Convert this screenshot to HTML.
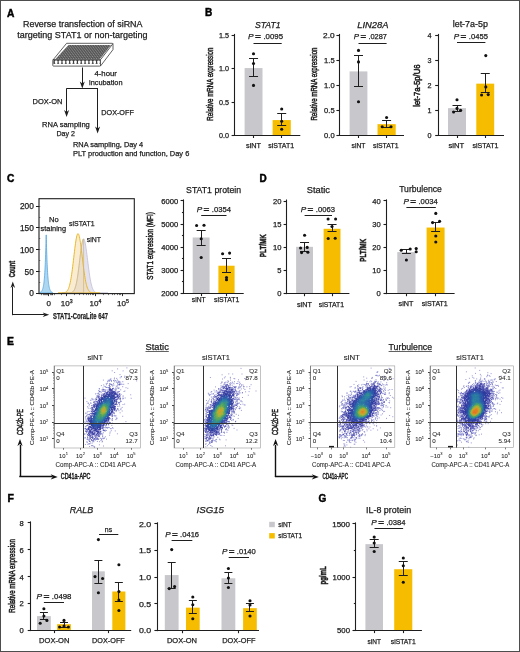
<!DOCTYPE html>
<html><head><meta charset="utf-8"><title>Figure</title>
<style>
html,body{margin:0;padding:0;background:#fff;}
#fig{position:relative;width:520px;height:652px;overflow:hidden;background:#fff;}
#fig svg{position:absolute;left:0;top:0;}
#main{will-change:transform;}
#frame{position:absolute;left:0;top:0;width:520px;height:652px;box-sizing:border-box;border:1px solid #4d4d4d;border-right-width:1.4px;border-bottom-width:1.4px;}
text{font-family:"Liberation Sans",sans-serif;fill:#1c1c1c;stroke:#1c1c1c;stroke-width:0.25px;}
.lt text{fill:#2a2a2a;stroke:#2a2a2a;stroke-width:0.08px;}
.lt2 text{stroke-width:0.12px;}
.md text{stroke-width:0.5px;}
text.pl{fill:#000;stroke:#000;stroke-width:0.45px;}
text.vl{stroke-width:0.5px;}
.lt text.vl{stroke-width:0.1px;}
.md text.vl{stroke-width:0.5px;}
</style></head>
<body><div id="fig">
<svg class="sc" width="86" height="82" viewBox="0 0 86 82" style="position:absolute;left:54.0px;top:365.9px;filter:blur(0.3px)"><path d="M73.7 17.6h1M39.4 80.4h1M60.0 12.0h1M65.7 11.8h1M46.9 19.6h1M49.2 18.9h1M66.7 10.5h1M33.4 37.2h1M68.5 38.5h1M70.1 38.1h1M37.4 32.4h1M68.9 57.4h1M76.2 28.8h1M67.7 41.4h1M32.4 35.6h1M71.5 21.7h1M60.1 6.5h1M62.6 52.2h1M58.5 62.4h1M44.9 78.8h1M76.7 32.3h1M70.1 11.3h1M30.9 78.5h1M30.5 32.1h1M69.2 18.3h1M62.2 52.9h1M67.0 10.8h1M66.5 42.4h1M49.0 80.0h1M52.0 73.1h1M58.1 61.5h1M65.6 46.8h1M56.8 64.7h1M63.1 2.9h1M55.1 69.2h1M69.5 25.5h1M75.1 9.3h1M67.7 45.0h1M70.4 25.0h1M61.8 52.0h1M60.0 57.5h1M73.3 22.3h1M68.2 50.3h1M71.4 55.6h1M68.6 4.9h1M60.8 64.9h1M33.0 40.8h1M70.7 32.0h1M65.5 8.6h1M35.1 80.5h1M62.9 67.8h1M72.4 1.9h1M70.3 10.2h1M48.9 14.1h1M61.3 53.6h1M55.4 67.2h1M57.7 4.8h1M31.4 46.9h1M50.9 70.8h1M82.1 14.9h1M39.9 81.4h1M40.1 80.9h1M55.7 66.0h1" stroke="rgb(96,96,192)" stroke-opacity="0.63" stroke-width="1" fill="none"/><path d="M56.9 14.8h1M51.8 17.4h1M66.2 23.8h1M50.6 65.3h1M34.5 78.2h1M56.4 12.8h1M68.7 32.5h1M66.7 18.1h1M54.3 15.0h1M30.4 56.0h1M37.4 79.6h1M30.1 68.1h1M55.6 13.4h1M64.2 22.4h1M30.5 72.1h1M62.6 20.9h1M66.3 43.6h1M37.4 79.7h1M50.9 20.7h1M42.7 27.6h1M47.6 75.9h1M65.0 25.5h1M59.1 17.4h1M68.6 29.9h1M54.7 61.7h1M44.7 25.7h1M58.4 18.9h1M45.2 25.4h1M68.2 20.7h1M53.0 15.3h1M60.8 49.9h1M45.2 25.7h1M34.8 38.4h1M51.9 18.7h1M33.8 42.1h1M68.3 15.7h1M61.5 49.9h1M41.0 27.9h1M37.3 34.0h1M45.0 22.9h1M59.7 14.8h1M31.3 57.1h1M30.3 62.7h1M34.6 39.9h1M66.9 35.3h1M44.7 22.7h1M66.0 35.0h1M65.2 40.0h1M46.5 74.5h1M56.4 62.6h1M64.4 44.7h1M53.0 17.2h1M44.3 24.5h1M62.9 13.9h1M55.6 57.4h1M38.4 79.7h1M56.3 14.1h1M59.8 13.0h1M35.9 34.3h1M62.4 15.0h1M58.0 54.3h1M63.2 22.1h1M60.9 14.5h1M57.9 57.1h1M57.9 52.9h1M57.9 52.3h1M62.2 12.4h1M59.0 14.6h1M34.0 37.2h1M39.4 33.3h1M68.5 31.0h1M66.0 35.2h1M31.3 50.5h1M52.8 62.2h1M49.2 72.7h1M68.3 32.9h1M53.8 14.2h1M60.3 15.8h1M31.3 57.4h1M55.2 14.3h1M47.1 73.3h1M31.4 47.6h1M48.5 22.0h1M55.9 57.1h1M38.1 33.2h1M48.0 75.2h1M49.7 20.3h1M56.5 62.7h1M51.4 21.2h1M57.3 59.4h1M63.9 43.1h1M47.9 72.2h1M67.6 18.3h1M36.2 36.9h1M32.9 45.9h1M32.2 75.9h1M49.5 72.3h1M30.7 71.6h1M49.7 71.9h1M33.3 78.3h1M45.1 75.7h1M54.2 61.4h1M42.9 75.4h1M32.9 76.2h1" stroke="rgb(90,90,188)" stroke-opacity="0.66" stroke-width="1" fill="none"/><path d="M63.0 18.0h1M44.3 27.7h1M47.7 23.6h1M32.4 49.4h1M33.2 48.3h1M45.7 25.7h1M57.0 15.2h1M60.0 49.8h1M55.0 19.4h1M61.8 20.1h1M65.3 36.6h1M55.2 17.7h1M65.1 19.0h1M48.5 24.2h1M50.2 64.6h1M56.8 18.6h1M63.3 19.6h1M48.6 23.8h1M34.9 75.5h1M64.4 18.5h1M61.9 23.0h1M48.1 68.1h1M30.5 68.0h1M55.6 56.8h1M64.7 36.3h1M55.5 18.2h1M41.0 32.9h1M35.0 75.3h1M65.7 18.2h1M50.6 64.1h1M63.0 43.2h1M48.8 66.8h1M64.7 18.3h1M36.5 37.3h1M64.4 21.9h1M66.5 28.4h1M34.6 77.5h1M34.5 45.5h1M63.0 42.6h1M32.4 50.1h1M48.9 23.7h1M54.8 15.1h1M48.2 69.9h1M65.0 16.0h1M63.9 15.9h1M30.9 60.4h1M50.2 64.4h1M56.7 18.3h1M65.0 38.6h1M61.6 45.6h1M63.3 17.0h1M64.3 15.1h1M30.9 51.9h1M64.8 18.5h1M57.3 54.0h1M61.9 16.2h1M64.8 16.1h1M39.3 75.7h1M47.1 73.0h1M55.5 18.1h1M65.3 17.7h1M57.2 19.0h1M45.9 72.3h1M52.7 61.6h1M63.5 16.4h1M32.5 73.2h1M54.6 19.5h1M42.7 29.6h1M61.2 22.1h1M43.9 27.1h1M52.1 21.5h1M47.5 25.2h1M59.4 19.1h1M65.3 18.5h1M49.3 23.5h1M51.8 64.5h1M44.1 73.5h1M66.2 16.1h1M34.2 74.1h1M37.6 77.1h1M42.7 73.0h1M48.1 70.3h1M36.0 75.9h1M38.4 75.7h1M35.6 77.7h1M33.2 73.6h1M42.7 73.4h1" stroke="rgb(84,84,183)" stroke-opacity="0.68" stroke-width="1" fill="none"/><path d="M50.7 25.0h1M50.5 25.8h1M55.2 20.9h1M42.6 72.5h1M31.5 53.2h1M43.0 71.9h1M41.3 34.0h1M35.1 74.0h1M31.2 62.3h1M37.2 39.6h1M55.4 56.6h1M40.5 73.5h1M65.0 28.5h1M39.2 74.2h1M58.7 22.3h1M37.1 73.7h1M34.6 73.2h1M49.0 64.1h1M43.8 29.0h1M43.2 31.2h1M65.6 33.4h1M33.2 70.8h1M65.3 27.7h1M48.6 25.5h1M54.2 58.9h1M41.8 73.4h1M64.1 26.0h1M58.9 47.3h1M43.3 30.8h1M46.7 26.8h1M65.7 32.8h1M37.3 41.6h1M32.9 69.1h1M33.2 71.9h1M48.6 64.1h1M63.7 25.7h1M50.3 61.7h1M58.2 20.0h1M51.3 61.8h1M50.5 23.5h1M49.7 25.2h1M60.5 23.3h1M39.7 73.5h1M53.3 21.4h1M36.9 41.9h1M55.5 20.5h1M33.2 71.8h1M49.3 64.6h1M62.1 44.5h1M39.8 35.8h1M64.5 37.4h1M50.7 24.9h1M34.1 48.7h1M54.0 58.3h1M39.0 36.6h1M58.7 22.4h1M38.8 73.6h1M64.4 36.7h1M42.7 30.2h1M41.2 35.3h1M65.6 32.6h1M65.7 31.7h1M35.7 42.4h1M32.4 55.7h1M45.1 28.7h1M35.0 48.5h1M37.6 39.9h1M54.6 57.2h1M31.0 62.4h1M60.0 47.7h1M64.6 28.1h1M48.8 64.6h1M63.4 40.4h1M31.7 54.9h1M41.9 31.3h1M52.2 61.3h1M32.3 67.0h1M36.3 73.2h1M36.5 45.1h1M37.2 43.6h1M63.8 36.6h1M32.0 59.9h1M57.9 50.5h1M65.9 32.8h1M65.0 28.1h1M54.9 56.1h1M65.7 29.7h1M39.5 35.2h1M37.1 74.0h1M38.3 74.6h1M42.9 72.9h1M40.7 74.1h1M41.7 72.2h1M44.1 72.8h1M37.0 74.2h1M38.4 74.6h1M47.2 67.8h1M31.3 65.5h1" stroke="rgb(77,77,179)" stroke-opacity="0.70" stroke-width="1" fill="none"/><path d="M54.8 22.6h1M32.8 59.3h1M37.2 45.1h1M62.4 38.3h1M36.2 47.4h1M48.8 63.0h1M52.0 59.2h1M37.9 42.5h1M33.2 52.4h1M31.6 65.5h1M62.5 38.7h1M37.9 41.5h1M39.3 38.4h1M33.0 68.5h1M58.3 23.0h1M34.2 69.5h1M35.5 72.5h1M65.4 30.3h1M32.0 66.0h1M42.0 33.1h1M58.2 22.8h1M58.4 49.7h1M60.7 24.9h1M54.5 21.5h1M37.1 45.5h1M35.1 71.2h1M62.6 26.0h1M54.7 21.5h1M31.6 63.4h1M33.4 59.5h1M44.2 30.2h1M35.6 47.9h1M38.3 41.5h1M35.4 70.3h1M64.2 32.8h1M59.5 46.5h1M57.8 49.0h1M40.1 37.0h1M62.7 26.7h1M58.0 22.7h1M55.9 22.3h1M40.5 36.2h1M41.9 33.3h1M61.6 38.6h1M64.6 29.6h1M64.6 31.2h1M51.6 58.2h1M44.5 30.2h1M61.4 24.1h1M55.7 52.7h1M38.8 38.9h1M32.7 55.1h1M34.2 69.5h1M33.8 51.0h1M51.9 58.3h1M57.9 48.9h1M33.0 57.6h1M33.3 52.8h1M38.7 71.7h1M37.4 42.8h1M34.5 51.0h1M44.8 70.5h1M42.2 33.4h1M65.0 30.5h1M55.6 22.9h1M40.7 72.3h1M32.0 63.3h1M31.8 65.1h1M44.5 70.7h1M43.7 70.3h1M31.5 64.3h1M45.6 68.7h1M39.5 72.5h1M40.1 72.5h1M45.1 69.8h1M35.9 72.3h1M38.1 72.4h1" stroke="rgb(71,71,174)" stroke-opacity="0.73" stroke-width="1" fill="none"/><path d="M62.4 35.3h1M48.3 62.0h1M48.6 27.8h1M37.5 71.0h1M36.2 70.7h1M55.0 23.1h1M35.3 69.3h1M38.1 70.9h1M64.1 30.8h1M58.6 46.1h1M33.1 64.4h1M61.9 35.3h1M46.2 66.1h1M50.7 27.0h1M46.8 28.9h1M54.6 23.8h1M38.2 70.3h1M33.0 62.9h1M51.4 26.3h1M44.3 69.3h1M42.0 35.4h1M61.8 36.5h1M51.0 59.9h1M44.6 30.4h1M63.2 27.9h1M61.5 35.3h1M42.6 69.7h1M47.9 62.6h1M36.3 71.4h1M33.2 65.6h1M60.6 42.3h1M60.6 42.3h1M54.6 23.1h1M61.9 37.4h1M45.2 67.1h1M46.5 67.9h1M52.6 24.0h1M63.8 31.8h1M44.1 68.8h1M55.0 23.9h1M49.1 61.4h1M62.2 35.8h1M35.5 70.1h1M35.9 49.9h1M43.5 35.0h1M44.0 31.3h1M61.4 43.8h1M38.1 72.0h1M35.7 49.9h1M44.5 67.3h1M44.4 31.6h1M38.1 44.0h1M61.9 36.9h1M64.0 31.7h1M62.0 34.2h1M34.0 67.5h1M43.8 70.0h1M37.1 71.4h1M41.3 71.5h1M34.2 68.1h1M41.4 71.1h1M39.9 70.1h1M44.5 68.5h1M41.7 70.2h1M37.7 71.5h1M45.8 67.8h1M34.5 67.2h1" stroke="rgb(65,65,170)" stroke-opacity="0.75" stroke-width="1" fill="none"/><path d="M53.3 56.0h1M43.4 68.8h1M42.8 35.5h1M34.3 62.4h1M62.3 33.9h1M61.0 38.1h1M40.4 39.3h1M39.7 39.4h1M60.7 38.4h1M52.5 26.6h1M60.0 25.8h1M37.5 68.7h1M34.4 61.0h1M41.9 68.7h1M47.7 29.3h1M55.0 24.1h1M56.2 23.2h1M55.6 23.3h1M33.6 56.2h1M41.3 38.0h1M33.9 61.2h1M39.8 38.4h1M63.2 32.6h1M50.2 27.6h1M63.3 28.6h1M32.6 63.5h1M43.6 66.3h1M34.7 67.1h1M34.4 61.2h1M62.6 33.5h1M60.7 26.1h1M61.9 27.9h1M33.6 53.5h1M39.3 40.1h1M36.2 69.6h1M52.0 57.1h1M56.1 23.8h1M34.9 68.1h1M52.0 26.9h1M43.0 67.4h1M37.5 69.5h1M62.4 33.3h1M37.3 47.5h1M45.7 65.3h1M61.2 38.2h1M50.1 27.7h1M34.5 52.1h1M40.9 70.1h1M34.6 68.5h1M61.8 33.2h1M55.9 23.6h1M42.6 68.8h1M40.9 69.2h1M45.5 67.0h1M57.2 49.9h1M38.0 44.1h1M53.1 25.9h1M60.9 40.7h1M60.6 40.8h1M38.8 68.4h1M37.3 47.4h1M55.6 23.7h1M60.3 44.4h1M39.8 39.4h1M45.6 31.9h1M40.3 68.8h1M57.4 23.6h1M39.4 67.9h1M43.8 32.8h1M34.4 52.7h1M33.6 51.5h1M61.1 26.2h1M33.9 53.5h1M33.8 62.5h1M48.9 60.1h1M39.4 67.7h1M39.3 68.8h1M38.4 45.4h1M53.2 56.1h1M45.0 66.1h1M34.1 62.2h1M38.9 40.0h1M61.0 27.0h1M48.7 28.3h1M42.0 68.4h1M40.7 37.6h1M34.4 52.7h1M57.0 23.9h1M35.6 69.1h1M38.9 67.8h1M34.2 52.6h1M33.6 57.9h1M43.1 67.3h1M51.9 57.9h1M43.3 67.6h1M38.4 68.2h1M39.1 40.9h1M53.7 55.1h1M33.9 66.0h1M42.3 69.2h1M34.1 62.5h1M59.7 25.6h1M34.3 66.9h1M54.9 52.9h1M46.1 65.9h1M43.7 66.2h1M48.1 61.2h1M44.0 66.4h1M35.2 68.7h1M43.2 67.5h1M34.3 62.7h1M52.3 58.0h1M46.4 65.2h1M44.3 67.2h1M38.6 68.3h1M34.2 62.4h1M39.3 68.0h1" stroke="rgb(60,61,167)" stroke-opacity="0.77" stroke-width="1" fill="none"/><path d="M59.1 42.6h1M37.4 49.0h1M35.4 52.9h1M52.5 56.6h1M54.3 25.3h1M38.7 43.3h1M63.1 30.9h1M36.8 67.0h1M61.7 30.9h1M61.1 27.3h1M63.4 29.3h1M60.0 42.9h1M34.6 63.4h1M37.1 66.9h1M58.1 45.6h1M38.5 66.9h1M59.5 42.8h1M60.3 42.5h1M57.1 24.4h1M58.4 24.9h1M43.1 66.2h1M57.3 47.8h1M61.3 27.5h1M35.3 66.0h1M59.4 44.7h1M34.7 64.8h1M56.3 24.0h1M38.2 66.8h1M63.4 29.7h1M60.9 27.9h1M38.5 66.9h1M54.1 53.8h1M38.0 66.4h1M53.5 54.3h1M34.5 62.8h1M63.3 29.3h1M47.2 62.1h1M57.6 24.6h1M37.8 66.3h1M52.9 26.2h1M40.7 38.9h1M48.4 60.1h1M58.1 45.9h1M43.5 66.1h1M37.6 67.4h1M45.0 32.3h1M40.1 67.6h1M61.2 35.7h1M44.3 65.4h1M35.1 64.9h1M56.5 24.3h1M35.1 65.2h1M37.6 46.2h1M54.1 54.1h1M49.9 59.0h1M39.7 40.2h1M35.8 67.8h1M57.5 24.0h1M59.9 41.2h1M47.7 60.9h1M62.2 28.7h1M47.2 30.0h1M59.4 42.7h1M62.5 29.3h1M36.2 67.0h1M36.2 66.4h1M48.5 59.4h1M60.2 26.8h1M35.3 52.7h1M49.6 28.3h1M60.0 43.5h1M39.9 40.6h1M47.2 30.2h1M53.2 26.6h1M47.3 62.1h1M49.1 59.3h1M60.3 41.1h1M40.4 40.3h1M62.1 31.1h1M53.8 25.2h1M35.3 64.0h1M60.3 43.9h1M41.4 38.9h1M34.0 63.5h1M38.5 43.1h1M63.0 30.7h1M44.0 65.7h1M40.2 66.2h1M63.1 30.3h1M45.1 32.7h1M35.0 66.0h1M62.7 30.6h1M35.8 50.1h1M60.0 26.2h1M40.0 66.2h1M53.7 55.0h1M38.0 67.8h1M56.2 24.5h1M34.4 54.7h1M58.0 45.9h1M57.4 47.1h1M34.9 52.1h1M41.3 38.5h1M59.9 43.3h1M33.9 54.6h1M60.2 43.2h1M58.7 43.5h1M37.3 66.0h1M33.8 63.6h1M54.0 53.5h1M35.4 66.3h1M34.3 54.6h1M54.3 54.1h1M62.2 28.3h1M38.1 46.1h1M63.2 30.7h1M37.5 68.5h1M42.3 67.2h1M40.2 67.9h1M35.3 65.2h1" stroke="rgb(58,61,165)" stroke-opacity="0.80" stroke-width="1" fill="none"/><path d="M34.9 58.4h1M60.7 31.2h1M35.4 53.1h1M53.6 52.6h1M59.8 40.7h1M45.5 63.5h1M60.3 40.8h1M52.3 27.1h1M51.3 28.9h1M54.6 51.7h1M60.9 28.4h1M49.0 29.1h1M42.7 37.0h1M48.7 29.3h1M41.1 66.9h1M45.4 63.8h1M57.4 46.1h1M35.2 61.0h1M58.8 26.5h1M46.7 31.9h1M43.3 36.6h1M35.6 51.7h1M54.1 52.7h1M38.6 65.2h1M39.7 41.7h1M54.4 52.6h1M35.3 60.6h1M61.1 33.6h1M45.6 63.5h1M36.0 65.4h1M58.0 44.7h1M43.3 65.4h1M38.5 47.4h1M37.8 65.8h1M34.8 58.6h1M35.4 61.0h1M47.1 31.6h1M59.2 26.6h1M39.5 65.0h1M44.6 33.8h1M34.6 54.3h1M60.4 40.4h1M52.2 27.4h1M34.9 60.7h1M53.7 26.9h1M45.0 63.6h1M35.6 63.6h1M44.9 33.7h1M39.2 45.5h1M61.5 28.2h1M56.3 25.6h1M55.6 49.5h1M60.6 31.5h1M58.9 25.7h1M44.9 33.7h1M46.5 32.0h1M40.2 41.6h1M36.0 65.8h1M42.6 65.7h1M36.4 64.8h1M39.2 64.7h1M44.2 34.5h1M38.8 44.2h1M42.6 36.8h1M60.9 31.3h1M43.9 34.6h1M61.3 31.2h1M59.6 39.1h1M45.1 33.6h1M56.7 25.9h1M59.9 40.9h1M36.2 51.2h1M54.6 51.5h1M61.0 31.5h1M34.7 53.8h1M54.2 52.2h1M59.1 25.6h1M46.6 31.2h1M36.2 64.7h1M56.7 46.7h1M58.9 26.2h1M60.7 34.8h1M57.8 44.7h1M60.6 28.2h1M61.1 31.7h1M45.9 63.4h1M43.2 65.3h1M55.2 25.0h1M57.1 46.5h1M38.4 47.2h1M39.1 45.6h1M37.2 65.8h1M36.4 64.3h1M38.4 47.9h1M42.9 65.4h1M35.8 65.2h1" stroke="rgb(56,60,163)" stroke-opacity="0.82" stroke-width="1" fill="none"/><path d="M56.7 45.4h1M51.7 28.1h1M46.2 33.9h1M44.3 64.6h1M36.8 62.2h1M58.8 41.3h1M48.4 31.8h1M57.4 45.2h1M40.3 64.7h1M49.4 58.2h1M60.4 27.6h1M59.6 27.9h1M37.0 63.3h1M55.5 26.8h1M36.9 63.2h1M53.9 28.0h1M59.8 36.6h1M50.3 29.1h1M34.9 55.5h1M57.5 43.8h1M49.6 29.0h1M57.9 43.2h1M43.1 64.1h1M48.2 31.8h1M52.3 28.7h1M48.5 59.5h1M42.2 38.1h1M59.1 41.7h1M60.1 27.6h1M57.4 26.7h1M56.3 48.5h1M41.3 40.7h1M45.8 62.1h1M60.4 38.7h1M56.9 45.8h1M37.3 63.4h1M58.0 25.8h1M57.5 25.5h1M36.4 61.6h1M34.7 55.4h1M49.3 58.6h1M58.7 41.3h1M45.5 34.9h1M55.9 26.1h1M57.6 43.7h1M55.1 26.2h1M36.1 52.0h1M47.9 32.0h1M38.3 64.9h1M44.2 63.3h1M35.8 61.8h1M56.0 47.5h1M57.3 45.6h1M54.8 26.5h1M56.2 47.0h1M56.1 47.9h1M43.0 37.8h1M51.9 55.1h1M57.8 42.0h1M38.7 63.1h1M56.8 26.5h1M52.6 27.8h1M45.8 33.1h1M39.9 64.2h1M42.5 64.8h1M46.0 62.7h1M41.9 65.4h1M59.6 37.9h1M56.0 47.4h1M47.5 59.2h1M52.4 28.6h1M57.0 26.2h1M49.0 58.9h1M59.7 27.7h1M36.3 61.6h1M42.2 65.3h1M41.5 65.5h1M43.9 63.4h1M37.3 63.5h1M36.4 61.4h1" stroke="rgb(53,59,162)" stroke-opacity="0.85" stroke-width="1" fill="none"/><path d="M55.7 27.9h1M47.3 32.3h1M57.5 27.7h1M47.1 33.6h1M40.7 63.0h1M37.5 49.0h1M57.0 43.8h1M44.9 35.4h1M52.4 54.6h1M50.6 29.9h1M59.1 40.7h1M37.9 62.7h1M35.8 60.6h1M41.4 42.8h1M51.5 29.3h1M57.4 43.4h1M59.7 28.1h1M59.6 30.5h1M47.3 32.7h1M60.2 34.7h1M42.6 38.7h1M37.9 49.9h1M58.1 41.5h1M47.0 32.9h1M51.6 54.9h1M43.4 63.2h1M35.8 60.4h1M58.0 26.3h1M38.7 62.1h1M36.8 51.0h1M41.9 63.5h1M41.4 64.7h1M39.1 62.8h1M58.4 27.3h1M46.8 33.9h1M38.3 62.3h1M48.9 31.0h1M57.6 27.7h1M52.3 29.5h1M52.2 54.6h1M44.6 35.2h1M40.1 63.1h1M60.1 34.3h1M53.2 28.4h1M45.4 62.7h1M54.2 51.7h1M57.9 27.7h1M42.0 64.9h1M46.9 33.8h1M42.2 39.3h1M59.4 39.8h1M45.5 34.5h1M43.4 38.5h1M40.3 44.4h1M52.7 53.5h1M60.0 35.4h1M57.8 41.2h1M57.7 26.1h1M56.4 27.8h1M37.0 50.2h1M55.8 27.2h1M56.4 28.5h1M60.1 31.5h1M54.1 28.9h1M45.0 35.4h1M50.8 56.1h1M41.4 63.9h1M59.7 30.9h1M56.8 43.2h1M38.7 47.6h1M46.6 33.4h1M46.0 61.7h1M60.0 34.4h1M59.6 30.1h1M39.0 62.2h1M60.0 34.9h1M55.5 28.7h1M52.9 28.1h1M58.2 41.3h1M41.0 63.8h1M39.3 47.3h1M50.8 29.4h1M58.7 39.4h1M45.8 61.7h1M45.3 62.4h1M55.1 27.2h1M37.0 61.6h1M60.0 34.1h1M41.5 63.4h1M45.2 35.6h1M57.3 43.1h1M58.3 41.1h1M47.7 59.0h1M46.2 34.0h1M53.8 28.6h1M42.2 39.5h1M56.2 27.1h1M58.9 28.1h1M52.3 54.2h1M48.9 30.4h1M56.8 43.9h1M39.0 47.8h1M58.8 39.2h1M50.6 56.2h1M57.2 27.7h1M59.8 28.1h1M43.7 36.1h1M60.3 34.5h1M46.8 33.8h1M40.9 64.3h1M40.3 64.0h1M45.6 61.8h1M40.6 64.3h1" stroke="rgb(51,59,160)" stroke-opacity="0.87" stroke-width="1" fill="none"/><path d="M42.2 41.4h1M53.8 50.8h1M53.0 52.3h1M59.2 37.8h1M42.2 41.6h1M59.0 37.7h1M49.9 30.2h1M58.9 37.2h1M50.0 56.8h1M39.9 62.3h1M59.6 33.0h1M57.1 28.2h1M51.2 30.3h1M49.8 30.4h1M51.1 30.1h1M45.0 61.6h1M42.8 39.9h1M55.4 48.1h1M51.4 30.5h1M53.5 29.0h1M53.6 50.3h1M59.0 36.3h1M40.1 45.3h1M59.1 29.3h1M36.9 51.0h1M43.3 39.9h1M42.1 40.4h1M43.0 39.1h1M35.7 54.7h1M57.7 39.6h1M57.1 42.1h1M37.3 60.4h1M35.7 57.8h1M39.6 45.3h1M50.0 30.5h1M60.0 32.4h1M49.7 30.9h1M55.3 28.7h1M49.5 57.3h1M60.3 29.2h1M41.6 40.3h1M55.0 28.1h1M54.8 48.8h1M52.6 52.5h1M59.7 29.2h1M57.8 28.3h1M41.9 41.5h1M43.2 39.8h1M59.1 29.4h1M35.6 58.7h1M60.2 32.5h1M57.0 42.3h1M49.5 56.7h1M40.1 62.2h1M45.5 35.2h1M42.3 40.9h1M54.9 48.4h1M58.8 31.7h1M51.2 30.4h1M59.3 30.4h1M35.8 57.5h1M54.9 28.0h1M57.8 40.5h1M58.8 30.6h1M38.0 61.8h1M55.1 49.5h1M36.9 52.0h1M35.8 54.8h1M53.5 53.0h1M42.1 40.6h1M40.8 43.6h1M35.6 58.1h1M41.9 41.9h1M42.1 41.7h1M50.0 56.8h1M55.3 48.1h1M59.2 29.7h1M45.1 61.5h1M54.7 48.3h1M35.7 57.1h1M55.0 28.5h1M54.6 28.5h1M56.7 28.6h1M40.9 43.9h1M40.2 45.9h1M55.3 48.3h1M36.1 54.2h1M41.2 43.8h1M35.7 54.3h1M53.4 52.4h1" stroke="rgb(49,58,158)" stroke-opacity="0.89" stroke-width="1" fill="none"/><path d="M49.8 31.9h1M35.7 55.5h1M57.8 29.7h1M52.5 30.4h1M56.9 29.6h1M36.6 58.4h1M48.2 57.3h1M37.3 58.7h1M48.1 57.6h1M47.8 32.4h1M57.4 29.7h1M59.4 33.0h1M50.2 31.1h1M59.4 32.1h1M39.5 49.4h1M37.5 58.8h1M52.3 30.7h1M44.2 61.2h1M55.7 29.7h1M36.8 59.3h1M50.2 31.1h1M57.9 31.9h1M49.7 31.1h1M42.8 62.4h1M40.7 44.3h1M42.3 62.9h1M51.3 55.2h1M51.6 53.6h1M55.6 29.2h1M37.6 50.2h1M59.2 32.2h1M38.9 61.8h1M46.1 60.8h1M43.0 62.3h1M45.0 36.7h1M53.9 29.5h1M58.1 29.7h1M59.1 34.1h1M57.5 29.8h1M37.3 58.3h1M48.0 32.1h1M43.9 37.5h1M58.2 30.5h1M47.0 34.5h1M37.3 58.6h1M55.4 47.6h1M41.7 42.6h1M52.2 30.6h1M36.4 56.9h1M56.9 41.2h1M36.1 55.6h1M45.4 60.5h1M38.4 60.0h1M57.8 30.9h1M43.0 62.6h1M38.9 61.4h1M40.6 62.8h1M58.4 30.9h1M39.4 61.5h1M36.7 52.4h1M56.0 44.2h1M41.4 44.1h1M39.1 61.1h1M56.7 29.9h1M43.3 62.7h1M47.9 32.1h1M58.5 29.1h1M52.4 30.4h1M41.2 44.3h1M37.2 59.7h1M46.5 60.3h1M36.3 56.7h1M57.1 41.7h1M41.7 42.9h1M55.3 47.3h1M47.9 57.7h1M47.8 57.2h1M38.7 48.2h1M54.3 29.4h1M41.6 42.9h1M45.4 60.6h1M48.4 57.1h1M37.4 52.6h1M41.9 42.7h1M44.6 36.4h1M59.0 32.5h1M43.9 61.3h1M43.1 62.3h1M37.0 59.2h1M37.4 58.6h1M57.9 31.8h1M46.2 60.3h1M50.0 31.4h1M51.4 55.1h1M56.5 41.3h1M47.9 32.6h1M50.3 31.7h1M56.6 41.7h1M36.6 53.0h1M35.6 55.9h1M56.5 41.4h1M58.8 33.1h1M51.9 54.0h1M56.3 30.8h1M38.1 60.7h1M43.6 61.4h1M41.2 62.8h1M44.2 61.5h1M45.4 60.4h1M41.7 62.8h1M40.8 62.3h1M35.7 56.7h1M41.4 63.0h1" stroke="rgb(47,60,159)" stroke-opacity="0.92" stroke-width="1" fill="none"/><path d="M48.2 33.6h1M57.7 37.8h1M53.9 30.6h1M37.2 53.9h1M54.4 30.2h1M47.3 35.4h1M45.5 36.3h1M57.4 39.5h1M44.1 38.2h1M45.6 36.6h1M42.2 43.2h1M37.2 54.9h1M46.4 59.7h1M50.8 31.2h1M38.9 60.5h1M49.4 32.3h1M55.4 30.4h1M52.1 52.4h1M57.6 37.4h1M39.7 47.8h1M53.2 30.6h1M42.5 43.5h1M36.6 53.2h1M37.9 59.6h1M56.0 31.7h1M47.1 35.1h1M56.6 30.8h1M46.4 59.6h1M55.9 31.3h1M44.9 37.4h1M45.8 59.6h1M56.6 40.3h1M40.5 45.1h1M57.7 36.7h1M58.4 37.2h1M57.4 30.1h1M48.7 32.7h1M52.3 52.8h1M47.0 35.5h1M46.2 59.5h1M51.7 52.4h1M53.4 30.7h1M58.2 38.2h1M36.8 54.7h1M43.6 60.3h1M38.2 59.9h1M54.4 30.1h1M47.1 35.1h1M45.1 37.0h1M41.6 43.7h1M50.7 31.4h1M40.3 47.6h1M36.6 53.9h1M58.0 36.1h1M39.8 47.3h1M40.4 47.4h1M44.4 60.6h1M37.8 59.4h1M55.4 30.5h1M51.9 52.5h1M43.0 40.1h1M54.8 30.8h1M36.7 54.9h1M58.0 37.7h1M36.9 54.9h1M44.4 60.1h1M56.7 30.4h1M53.4 30.1h1M48.2 33.5h1M58.1 38.3h1M47.3 35.0h1M58.1 36.8h1M44.8 37.1h1M50.8 55.0h1M47.4 35.6h1M56.4 31.3h1M37.2 54.8h1M39.6 61.3h1M36.8 54.6h1M50.5 54.9h1M51.2 54.1h1M43.4 40.8h1M54.8 29.9h1M50.8 55.0h1M48.7 56.4h1M45.9 59.1h1M48.7 56.2h1M47.0 36.0h1M55.5 30.3h1M37.9 59.3h1M43.9 38.8h1M36.8 53.4h1M47.7 33.3h1M54.8 29.2h1M52.0 52.7h1M38.3 59.8h1M43.6 60.0h1M38.6 60.0h1M46.5 58.4h1" stroke="rgb(47,66,161)" stroke-opacity="0.94" stroke-width="1" fill="none"/><path d="M42.7 60.5h1M43.3 41.2h1M53.5 48.9h1M49.7 55.8h1M42.8 60.4h1M56.6 31.7h1M37.7 58.7h1M54.5 46.2h1M37.7 52.5h1M43.8 39.1h1M43.0 61.7h1M42.7 61.4h1M38.6 59.4h1M37.0 56.2h1M47.1 36.7h1M53.3 51.0h1M39.5 61.0h1M40.5 48.4h1M36.8 56.0h1M43.0 61.2h1M58.1 34.3h1M53.4 31.7h1M46.4 37.8h1M53.3 51.5h1M58.3 32.8h1M54.7 46.6h1M39.0 51.0h1M37.7 52.9h1M57.2 31.9h1M57.6 36.0h1M54.6 45.1h1M50.3 55.4h1M53.2 51.5h1M56.0 42.0h1M38.4 52.2h1M43.7 59.6h1M42.4 60.5h1M40.8 60.3h1M56.6 31.5h1M58.3 35.8h1M42.6 42.1h1M40.2 48.7h1M57.8 33.7h1M46.9 36.4h1M55.0 46.8h1M40.4 60.7h1M39.1 50.5h1M58.1 35.5h1M41.4 46.7h1M38.4 58.4h1M58.2 34.2h1M41.2 61.5h1M53.3 32.0h1M43.6 59.1h1M40.7 46.2h1M43.0 42.5h1M46.0 37.5h1M41.0 46.8h1M40.6 46.6h1M47.1 57.6h1M46.0 37.7h1M42.3 44.7h1M50.8 53.1h1M39.4 50.9h1M42.9 61.4h1M40.0 48.5h1M51.6 31.1h1M58.1 32.2h1M42.4 44.9h1M37.3 56.1h1M56.2 41.2h1M39.3 50.1h1M36.7 57.1h1M40.5 60.1h1M40.4 48.5h1M37.1 55.8h1M44.3 59.2h1M40.3 60.1h1M58.0 32.4h1M54.0 49.1h1M57.8 34.9h1M44.9 59.8h1M46.5 57.9h1M37.1 57.1h1M56.7 31.2h1M37.3 57.6h1M58.5 32.2h1M58.3 32.6h1M43.3 61.1h1M45.2 59.9h1M54.9 45.5h1M53.9 48.2h1M46.3 58.4h1M44.0 39.0h1M45.8 58.3h1M50.1 55.7h1M39.5 60.4h1M43.2 60.3h1M53.8 49.4h1M39.9 48.4h1M53.0 31.1h1M58.1 35.3h1M54.8 45.0h1M58.0 36.0h1M41.1 46.7h1M39.2 59.4h1M53.9 48.7h1M55.6 41.4h1M58.0 35.5h1M54.1 48.8h1M58.4 35.6h1M37.1 55.8h1M56.6 31.9h1M57.6 35.0h1M37.6 58.1h1M39.2 59.7h1M38.2 58.9h1M49.7 55.1h1M52.6 51.3h1M41.5 61.3h1M46.9 57.3h1M41.9 61.7h1M45.2 59.5h1M41.8 60.1h1" stroke="rgb(46,72,163)" stroke-opacity="0.96" stroke-width="1" fill="none"/><path d="M55.8 41.0h1M41.8 45.4h1M57.2 38.9h1M49.6 32.6h1M53.8 47.0h1M50.8 32.3h1M42.8 59.9h1M57.3 35.0h1M55.8 32.4h1M56.7 34.1h1M57.0 36.3h1M57.2 38.8h1M39.8 50.0h1M39.0 59.0h1M57.0 37.7h1M49.2 55.1h1M55.7 39.3h1M53.6 31.5h1M50.4 54.6h1M41.4 47.7h1M57.1 38.5h1M40.0 59.2h1M47.8 56.3h1M39.1 58.6h1M41.7 59.5h1M44.0 58.9h1M37.7 54.7h1M45.8 57.9h1M56.5 33.7h1M38.1 53.9h1M50.0 54.8h1M56.9 32.4h1M45.3 58.2h1M57.3 37.2h1M39.7 49.7h1M57.0 36.1h1M57.2 38.1h1M40.2 49.8h1M53.0 50.2h1M55.7 39.9h1M56.2 32.8h1M57.2 36.2h1M57.0 32.3h1M56.7 36.8h1M39.7 59.6h1M43.7 58.1h1M56.7 38.8h1M39.4 51.8h1M39.5 60.0h1M49.4 33.2h1M38.5 54.7h1M44.2 58.7h1M57.2 32.4h1M56.7 37.6h1M44.9 38.3h1M55.7 32.5h1M39.9 49.0h1M53.3 50.5h1M56.2 32.7h1M38.6 58.6h1M45.0 39.0h1M49.7 54.3h1M43.7 58.9h1M56.6 33.5h1M57.0 34.9h1M42.6 59.2h1M45.1 58.2h1M49.1 33.3h1M55.6 40.5h1M40.7 47.1h1M56.6 34.0h1M39.0 51.6h1M41.0 47.9h1M56.2 32.1h1M56.1 39.7h1M50.1 54.6h1M56.9 32.9h1M56.3 40.9h1M54.2 47.1h1M42.8 59.5h1M43.3 59.1h1M48.6 33.1h1M44.6 59.0h1M41.8 59.0h1M45.6 57.5h1M42.8 59.8h1M39.8 59.9h1M44.6 58.9h1M45.9 57.1h1M41.5 59.8h1" stroke="rgb(46,77,166)" stroke-opacity="0.99" stroke-width="1" fill="none"/><path d="M43.2 58.7h1M51.9 32.4h1M38.9 52.9h1M37.8 57.0h1M37.7 57.4h1M50.6 52.5h1M45.0 57.5h1M46.4 38.8h1M43.3 43.9h1M44.0 40.8h1M51.1 52.1h1M51.3 52.6h1M40.7 48.8h1M38.2 57.8h1M38.4 56.4h1M55.8 33.4h1M41.5 59.5h1M52.1 32.4h1M49.8 33.0h1M50.8 33.2h1M41.2 48.2h1M44.7 57.8h1M45.3 57.3h1M50.8 34.0h1M46.7 37.1h1M44.1 40.7h1M42.8 43.6h1M43.9 40.6h1M37.5 57.7h1M56.0 33.5h1M49.8 33.6h1M41.3 48.3h1M45.1 57.2h1M37.7 55.2h1M56.6 35.7h1M42.6 58.8h1M38.4 56.3h1M51.1 52.0h1M45.7 38.3h1M50.6 52.4h1M38.3 57.8h1M54.7 43.8h1M50.1 33.7h1M39.7 58.4h1M47.0 37.7h1M51.8 32.9h1M43.5 58.1h1M40.3 58.8h1M51.4 33.1h1M38.3 57.2h1M42.5 58.1h1M52.4 32.2h1M56.7 35.8h1M55.3 45.0h1M55.2 43.0h1M44.2 40.9h1M43.7 40.3h1M47.3 37.2h1M52.3 32.5h1M41.7 46.4h1M40.7 48.2h1M43.6 40.8h1M43.9 40.8h1M37.9 56.0h1M42.8 58.5h1M56.6 36.0h1M46.1 38.4h1M57.4 35.6h1M47.1 37.4h1M55.6 34.5h1M47.2 37.9h1M55.4 44.0h1M49.0 34.2h1M51.4 52.4h1M51.1 33.8h1M51.5 32.2h1M54.9 43.6h1M55.6 34.4h1M47.1 37.7h1M42.2 46.3h1M40.6 59.8h1M51.7 32.3h1M38.2 56.2h1M43.2 43.4h1M37.8 57.6h1M37.9 55.3h1M46.8 37.9h1M55.3 42.2h1M43.1 58.7h1M47.1 37.9h1M57.4 35.8h1M51.4 33.2h1M55.1 42.0h1M39.5 58.7h1M40.9 59.5h1" stroke="rgb(45,83,168)" stroke-opacity="1.00" stroke-width="1" fill="none"/><path d="M38.5 57.9h1M40.9 58.3h1M39.0 57.8h1M52.0 34.9h1M51.0 34.0h1M38.9 54.6h1M55.8 38.8h1M55.7 36.3h1M49.2 54.6h1M50.1 53.5h1M50.4 53.6h1M44.4 57.8h1M43.6 57.9h1M47.7 36.2h1M49.3 35.1h1M50.6 34.2h1M48.2 36.8h1M48.9 35.3h1M43.8 57.4h1M50.6 34.8h1M51.9 50.7h1M56.5 38.2h1M49.7 53.6h1M53.6 46.1h1M39.1 53.1h1M55.7 36.0h1M41.0 58.1h1M38.9 57.9h1M50.6 34.4h1M49.3 35.3h1M56.1 36.8h1M54.0 32.9h1M52.8 32.9h1M39.9 50.5h1M56.3 35.3h1M56.5 36.6h1M39.5 55.0h1M56.4 38.2h1M55.9 38.3h1M54.6 32.3h1M56.1 35.7h1M51.8 50.5h1M44.7 39.3h1M54.4 32.4h1M51.6 50.4h1M55.9 37.5h1M47.1 56.4h1M47.8 55.4h1M47.3 56.5h1M49.5 34.4h1M52.0 50.8h1M38.6 54.8h1M54.0 32.0h1M48.2 55.9h1M48.8 36.0h1M47.7 56.0h1M50.5 34.4h1M47.9 55.5h1M47.2 56.3h1M49.8 53.8h1M55.8 35.2h1M40.2 50.8h1M48.5 36.1h1M39.6 50.7h1M53.6 32.4h1M53.6 46.7h1M41.6 58.6h1M51.9 34.6h1M39.5 53.6h1M50.3 34.7h1M44.2 57.8h1M40.7 58.1h1M48.1 36.9h1M52.8 32.6h1M55.5 38.3h1M54.9 41.0h1M39.6 50.7h1M42.0 58.3h1M42.9 44.3h1M39.4 57.9h1M38.9 54.9h1M40.7 58.7h1M40.2 51.0h1M42.3 58.6h1M55.8 37.5h1M47.5 55.3h1M41.4 49.3h1M53.4 32.1h1M39.0 53.4h1M53.5 32.0h1M55.7 36.5h1M51.5 50.2h1M51.2 34.1h1M47.8 55.1h1M55.9 35.5h1M43.1 44.1h1M51.5 34.6h1M52.0 34.3h1M38.8 53.2h1M49.0 35.5h1M48.7 54.3h1M53.9 46.5h1M51.1 34.1h1M56.3 36.5h1M55.7 35.6h1M49.9 53.5h1M40.5 50.5h1M47.3 56.9h1M42.4 58.8h1M41.9 58.9h1M49.5 53.6h1" stroke="rgb(45,89,170)" stroke-opacity="1.00" stroke-width="1" fill="none"/><path d="M39.5 52.6h1M55.4 40.5h1M47.9 37.6h1M52.3 33.6h1M54.7 33.5h1M55.0 39.1h1M54.7 33.1h1M55.4 40.6h1M39.1 56.4h1M52.5 49.8h1M45.8 39.2h1M39.8 51.0h1M55.2 33.6h1M44.0 42.0h1M51.1 35.8h1M53.3 48.5h1M55.5 40.7h1M39.1 56.5h1M42.1 47.8h1M49.3 53.3h1M52.1 33.8h1M55.2 39.6h1M40.4 54.8h1M39.6 52.9h1M38.8 56.7h1M39.5 57.7h1M51.0 51.9h1M40.2 52.4h1M41.6 47.7h1M54.9 33.7h1M48.4 37.3h1M55.4 33.1h1M39.4 55.5h1M55.1 39.8h1M40.6 57.7h1M40.2 54.1h1M55.0 33.4h1M39.6 51.3h1M55.4 35.0h1M50.8 35.5h1M54.8 34.9h1M52.9 49.9h1M53.2 48.5h1M39.5 51.4h1M39.1 56.0h1M50.7 51.2h1M40.6 57.9h1M40.3 51.5h1M38.8 55.3h1M45.8 56.6h1M44.3 41.1h1M43.2 45.8h1M39.3 55.4h1M49.7 35.3h1M55.3 33.3h1M38.7 56.4h1M47.7 37.9h1M51.5 35.4h1M39.2 56.8h1M45.7 40.0h1M51.3 35.0h1M50.9 36.0h1M39.4 56.4h1M39.9 51.1h1M45.6 56.8h1M45.9 56.5h1M50.2 35.4h1M45.6 39.9h1M48.7 53.7h1M53.1 48.6h1M49.9 35.2h1M38.8 56.5h1M46.4 39.6h1M48.6 53.1h1M43.8 41.1h1M43.4 45.7h1M41.9 47.4h1M46.1 39.7h1M42.1 47.5h1M51.3 35.9h1M48.1 38.0h1M39.8 52.0h1M54.8 33.4h1M52.8 49.3h1M52.8 49.0h1M40.1 54.7h1M46.1 56.9h1" stroke="rgb(45,96,170)" stroke-opacity="1.00" stroke-width="1" fill="none"/><path d="M44.4 56.9h1M47.6 54.5h1M47.0 38.0h1M42.2 48.2h1M46.6 38.3h1M42.1 49.0h1M50.3 52.2h1M40.0 53.8h1M51.8 35.2h1M46.8 55.8h1M41.3 52.6h1M53.0 34.7h1M53.0 47.5h1M53.7 34.5h1M39.7 56.4h1M47.8 54.2h1M41.8 48.5h1M47.9 54.6h1M44.1 56.8h1M47.3 38.0h1M40.8 52.0h1M41.2 50.0h1M46.7 55.5h1M40.7 54.9h1M39.8 53.8h1M54.3 33.0h1M46.7 55.3h1M49.7 52.3h1M50.8 36.8h1M54.0 34.9h1M42.9 56.8h1M51.2 36.8h1M41.3 54.7h1M50.7 36.6h1M40.0 55.8h1M40.9 55.5h1M41.3 55.4h1M40.1 55.7h1M41.5 51.3h1M52.4 35.0h1M51.3 36.6h1M52.2 35.1h1M40.9 54.7h1M52.5 33.3h1M53.4 34.7h1M54.5 45.0h1M41.4 54.5h1M40.9 50.6h1M50.9 36.2h1M41.0 54.5h1M53.9 45.5h1M54.2 45.7h1M44.2 56.1h1M39.8 53.4h1M40.8 54.3h1M50.5 36.4h1M51.7 35.4h1M53.7 33.5h1M39.8 55.6h1M51.5 35.6h1M54.3 34.5h1M50.9 36.5h1M46.7 55.8h1M48.4 54.4h1M44.1 42.1h1M41.1 51.5h1M45.2 56.4h1M40.1 53.1h1M45.9 55.9h1M44.7 40.1h1M52.5 36.0h1M52.4 35.6h1M44.9 56.3h1M40.6 55.3h1M39.8 55.1h1M41.4 51.0h1M50.6 36.2h1M39.7 53.4h1M53.9 34.8h1M41.9 48.5h1M52.4 35.3h1M41.0 52.8h1M39.9 57.0h1M41.0 55.7h1M40.6 51.7h1M45.9 55.8h1M46.9 55.7h1M41.2 55.5h1M42.1 48.6h1M49.8 52.9h1M40.6 52.7h1M54.3 34.2h1M48.4 54.3h1M39.7 53.9h1M46.5 39.0h1M40.3 53.8h1M45.4 56.8h1M54.3 34.5h1M40.8 51.9h1M40.4 56.5h1M52.4 35.0h1M52.4 35.1h1M48.4 54.9h1M42.5 48.9h1M40.7 55.4h1M53.5 34.2h1M39.6 57.0h1M44.0 56.9h1M46.7 55.0h1M54.2 33.4h1M41.1 52.8h1M41.4 55.1h1" stroke="rgb(45,105,168)" stroke-opacity="1.00" stroke-width="1" fill="none"/><path d="M45.3 41.3h1M50.5 51.6h1M42.0 49.8h1M51.5 50.1h1M44.5 55.3h1M51.9 50.0h1M50.1 51.3h1M55.1 36.5h1M51.8 50.0h1M44.6 41.9h1M41.6 57.0h1M42.6 46.7h1M52.4 49.7h1M42.4 49.7h1M54.8 35.7h1M55.0 35.6h1M42.7 46.7h1M45.0 41.7h1M54.6 35.3h1M42.4 56.5h1M41.7 55.4h1M45.4 41.4h1M41.4 53.9h1M52.8 46.1h1M49.3 38.0h1M54.8 35.6h1M53.0 35.8h1M41.5 56.7h1M44.6 41.4h1M51.3 37.2h1M54.9 35.6h1M40.9 56.1h1M49.8 51.1h1M46.1 40.4h1M50.7 50.2h1M54.1 42.7h1M55.2 35.1h1M45.1 55.4h1M49.9 36.3h1M52.6 35.3h1M53.5 46.6h1M45.4 41.6h1M55.3 36.4h1M49.5 51.6h1M44.7 55.7h1M45.5 40.1h1M53.4 46.7h1M52.9 46.5h1M53.9 44.6h1M41.2 53.6h1M42.4 49.1h1M53.4 35.7h1M55.4 36.6h1M42.2 49.6h1M40.7 53.8h1M41.6 56.7h1M53.1 35.3h1M54.0 43.7h1M42.9 46.6h1M50.5 51.2h1M55.1 35.0h1M43.2 55.2h1M50.4 36.9h1M46.1 54.5h1M49.8 36.6h1M52.5 36.8h1M40.6 53.3h1M41.1 56.0h1M49.8 51.3h1M41.4 53.9h1M53.7 44.8h1M41.8 49.1h1M53.3 46.6h1M50.9 50.6h1M52.8 35.4h1M52.2 49.3h1M52.8 46.3h1M55.4 36.7h1M45.6 40.0h1M55.0 36.1h1M55.3 37.6h1M45.4 41.8h1M48.8 37.2h1M41.7 49.2h1M52.5 46.4h1M44.8 55.5h1M53.6 42.7h1M55.1 37.8h1M52.5 36.5h1M42.7 55.6h1M51.3 50.9h1M42.1 55.3h1M43.0 46.4h1M53.2 46.5h1M53.2 46.8h1M52.2 36.6h1M43.4 47.0h1M49.8 51.2h1M41.5 57.0h1M45.4 55.6h1M42.6 46.3h1M42.0 56.0h1" stroke="rgb(45,114,165)" stroke-opacity="1.00" stroke-width="1" fill="none"/><path d="M46.6 54.9h1M45.0 54.9h1M53.7 37.8h1M51.9 37.6h1M53.8 38.0h1M44.5 42.3h1M52.1 48.9h1M42.9 54.0h1M53.4 36.8h1M52.4 37.5h1M44.0 55.4h1M54.8 38.5h1M53.9 40.0h1M51.6 48.7h1M54.0 41.6h1M44.8 42.7h1M43.8 44.5h1M43.1 47.7h1M42.7 47.0h1M53.6 37.8h1M46.8 39.8h1M53.9 41.8h1M41.6 54.2h1M52.4 37.6h1M54.1 36.3h1M53.7 40.6h1M48.7 52.6h1M54.2 37.0h1M45.4 54.7h1M48.1 53.2h1M54.9 38.9h1M44.7 54.9h1M42.7 47.9h1M52.7 36.6h1M54.3 41.1h1M44.4 43.1h1M55.4 38.9h1M47.6 53.3h1M43.4 47.1h1M46.6 39.5h1M45.5 42.5h1M46.9 54.6h1M54.6 38.8h1M53.1 36.7h1M46.7 54.5h1M51.9 48.3h1M53.9 35.6h1M48.2 38.7h1M53.6 40.0h1M47.7 53.9h1M41.7 54.1h1M54.3 40.2h1M46.9 39.9h1M52.5 36.9h1M47.3 39.1h1M52.3 48.9h1M53.6 37.4h1M42.2 54.2h1M54.1 41.7h1M49.0 52.4h1M46.6 54.0h1M45.2 42.8h1M44.8 42.9h1M52.0 37.1h1M55.3 38.0h1M43.6 44.5h1M44.1 43.8h1M44.3 55.0h1M45.2 42.1h1M44.1 43.5h1M54.2 39.3h1M53.7 40.2h1M43.2 54.3h1M44.2 44.3h1M54.3 42.0h1M46.9 39.6h1M43.6 43.6h1M42.9 48.0h1M47.9 53.4h1M52.1 37.2h1M42.6 54.1h1M43.0 47.5h1M54.0 36.2h1M51.6 37.3h1M42.5 54.1h1M44.9 42.6h1M46.7 54.1h1M43.8 43.0h1M45.4 54.4h1M47.7 53.7h1M54.7 38.2h1M44.5 56.0h1M47.0 39.4h1M43.7 44.1h1M52.6 36.9h1M47.5 53.6h1M41.6 54.1h1M46.8 39.1h1M43.0 54.9h1M42.9 54.0h1M42.6 47.9h1M45.3 54.4h1M44.2 55.8h1" stroke="rgb(45,123,163)" stroke-opacity="1.00" stroke-width="1" fill="none"/><path d="M46.6 53.4h1M41.8 50.8h1M42.8 48.8h1M50.9 49.9h1M46.7 53.8h1M46.4 41.4h1M43.4 48.4h1M51.3 48.1h1M50.2 37.9h1M54.3 38.5h1M42.0 52.6h1M53.1 45.5h1M44.0 54.7h1M51.3 48.1h1M44.4 54.6h1M50.5 48.5h1M44.5 45.4h1M46.7 54.0h1M50.5 48.7h1M51.5 49.2h1M41.9 51.4h1M49.6 37.3h1M44.4 54.2h1M46.2 53.5h1M42.4 50.8h1M52.9 45.8h1M48.5 51.5h1M49.9 37.9h1M47.0 53.1h1M49.1 51.9h1M42.3 51.8h1M43.5 48.2h1M42.4 52.7h1M49.1 51.2h1M49.6 50.7h1M45.7 41.8h1M41.5 51.1h1M46.3 53.5h1M54.3 38.2h1M46.9 53.2h1M44.1 45.7h1M49.8 37.8h1M52.8 37.7h1M45.5 53.7h1M46.6 53.6h1M54.4 38.8h1M49.7 37.9h1M50.6 48.9h1M53.8 38.7h1M50.8 48.3h1M49.6 50.8h1M44.5 54.7h1M46.0 41.5h1M43.3 48.6h1M42.8 48.5h1M50.4 51.0h1M51.5 49.2h1M53.4 45.2h1M43.0 48.6h1M50.6 49.1h1M53.4 45.9h1M51.0 48.7h1M42.2 50.8h1M49.6 38.0h1M41.6 52.3h1M42.2 51.2h1M42.4 51.3h1" stroke="rgb(45,132,160)" stroke-opacity="1.00" stroke-width="1" fill="none"/><path d="M52.8 43.9h1M53.1 40.8h1M52.4 38.5h1M43.9 46.1h1M52.1 38.8h1M47.3 40.9h1M44.7 54.0h1M51.3 38.1h1M44.8 53.8h1M52.1 47.1h1M46.5 40.5h1M45.4 53.8h1M42.6 53.9h1M43.5 53.9h1M44.2 53.9h1M42.2 53.8h1M47.7 52.4h1M46.6 40.3h1M52.9 43.3h1M53.1 43.6h1M45.2 53.1h1M47.2 40.6h1M47.8 52.9h1M44.0 53.6h1M41.6 53.9h1M43.9 53.6h1M43.7 53.2h1M44.0 46.7h1M41.6 53.1h1M52.8 44.6h1M53.2 43.0h1M49.4 39.0h1M46.8 40.8h1M43.7 46.8h1M50.9 38.2h1M53.1 44.1h1M46.7 40.8h1M41.8 53.8h1M44.2 46.7h1M45.3 53.7h1M51.8 47.1h1M41.7 53.5h1M52.9 40.4h1M44.9 43.8h1M43.3 53.2h1M44.3 53.5h1M52.8 44.5h1M51.1 38.7h1M53.5 42.8h1M44.8 43.0h1M47.0 40.4h1M49.2 38.9h1M45.0 53.4h1M52.0 47.0h1M43.9 53.4h1M51.2 38.7h1M52.6 43.1h1M46.6 40.2h1M44.4 53.9h1M44.9 43.8h1M52.8 43.6h1M52.8 44.4h1M52.9 43.2h1M52.9 42.8h1M53.0 44.4h1M47.7 52.8h1M43.6 46.9h1M44.1 46.9h1M53.0 40.2h1M44.6 53.0h1M52.2 38.3h1M42.8 53.2h1M45.2 53.8h1M42.3 53.9h1M42.9 53.7h1" stroke="rgb(50,139,151)" stroke-opacity="1.00" stroke-width="1" fill="none"/><path d="M52.9 39.7h1M48.9 50.2h1M42.7 50.7h1M52.0 46.9h1M48.1 39.5h1M46.5 51.4h1M43.1 52.7h1M43.0 49.6h1M51.8 46.5h1M52.1 46.7h1M47.1 52.2h1M51.6 39.6h1M42.7 50.2h1M46.0 51.0h1M45.5 51.1h1M53.1 39.1h1M53.1 41.8h1M42.8 50.0h1M43.8 47.2h1M42.7 49.1h1M47.8 39.9h1M47.9 39.7h1M49.1 50.1h1M45.7 52.8h1M48.4 39.2h1M47.2 51.6h1M45.8 42.4h1M52.8 39.5h1M45.7 52.0h1M53.3 38.1h1M45.7 42.8h1M45.3 44.4h1M52.1 46.4h1M52.6 39.4h1M52.0 46.8h1M43.4 52.6h1M47.3 52.1h1M48.4 39.7h1M46.8 51.2h1M46.4 52.7h1M46.3 52.7h1M45.8 52.9h1M53.2 39.9h1M53.3 39.7h1M52.3 46.8h1M52.1 46.8h1M47.5 52.0h1M46.3 52.4h1M47.1 51.6h1M53.4 41.4h1M53.4 38.7h1M43.6 47.6h1M44.7 45.8h1M45.5 46.0h1M52.6 41.9h1M42.6 50.5h1M52.7 38.4h1M45.0 45.5h1M52.7 41.0h1M45.9 52.5h1M45.9 52.1h1M53.0 39.0h1M46.7 52.7h1M51.6 46.4h1M44.9 44.7h1M43.5 52.2h1M51.9 46.5h1M53.1 41.4h1M52.7 39.3h1M42.9 51.4h1M51.8 40.0h1M52.3 39.5h1M43.1 50.6h1M53.5 40.0h1M45.6 51.1h1M48.0 51.1h1M46.1 42.5h1M47.3 51.9h1M48.4 39.9h1M52.1 46.2h1M52.6 41.4h1M47.0 51.1h1M46.6 52.4h1M45.9 52.9h1M53.0 39.7h1M43.4 51.2h1M52.1 46.6h1M51.8 39.4h1M53.2 41.4h1M43.2 49.6h1M45.9 51.5h1M51.6 39.4h1M47.5 51.2h1M46.7 51.8h1M47.1 51.4h1M45.3 45.3h1M43.6 47.6h1M46.7 53.0h1M46.2 52.7h1M52.1 39.0h1M44.0 47.5h1M53.3 38.7h1M49.2 50.5h1M42.9 52.1h1M42.8 52.5h1M44.2 47.9h1M42.5 51.0h1" stroke="rgb(57,145,138)" stroke-opacity="1.00" stroke-width="1" fill="none"/><path d="M44.3 50.3h1M46.9 41.3h1M45.9 50.5h1M50.4 49.0h1M44.7 46.9h1M44.8 47.9h1M44.5 52.6h1M43.9 52.5h1M45.0 46.5h1M45.2 52.0h1M52.3 40.8h1M49.5 49.5h1M45.5 50.5h1M44.5 47.4h1M44.2 51.2h1M44.9 51.8h1M51.2 47.1h1M45.4 52.0h1M50.5 39.6h1M44.7 52.3h1M43.8 49.1h1M50.5 38.6h1M51.3 47.3h1M44.5 52.0h1M44.1 50.8h1M46.8 42.0h1M49.9 49.7h1M51.1 39.1h1M48.2 40.4h1M49.7 38.0h1M50.4 49.1h1M44.7 47.9h1M51.6 40.5h1M43.8 50.8h1M52.0 40.5h1M50.8 47.8h1M44.9 51.4h1M52.1 40.4h1M51.6 40.8h1M51.4 47.4h1M47.9 40.1h1M44.8 46.2h1M49.6 49.9h1M44.1 51.2h1M50.1 39.0h1M45.7 50.7h1M45.0 48.8h1M44.7 51.5h1M45.1 46.1h1M44.6 51.4h1M51.1 39.1h1M50.3 38.6h1M48.1 40.6h1M44.2 50.8h1M44.6 46.6h1M44.8 46.3h1M48.1 40.1h1M49.6 38.5h1M44.5 52.8h1M45.1 52.1h1M50.6 47.2h1M44.6 46.2h1M44.8 46.3h1M43.8 49.2h1M47.0 41.4h1M50.9 47.5h1M47.3 41.6h1M43.5 50.2h1M44.3 51.6h1M47.8 40.9h1M45.1 48.8h1M44.0 49.0h1M45.1 51.5h1M44.8 47.2h1M45.8 50.3h1M50.1 38.4h1M44.6 47.7h1M51.1 47.6h1M48.4 40.1h1M45.4 52.1h1M43.9 51.7h1M47.2 41.8h1M44.0 52.6h1M47.2 41.6h1M44.5 50.0h1" stroke="rgb(64,151,126)" stroke-opacity="1.00" stroke-width="1" fill="none"/><path d="M44.7 50.7h1M44.9 49.7h1M45.9 43.7h1M50.7 46.1h1M46.1 43.9h1M51.2 46.1h1M46.5 48.9h1M46.3 49.7h1M44.8 50.6h1M49.6 48.6h1M45.7 48.2h1M49.2 39.3h1M50.3 48.4h1M51.4 40.1h1M44.5 50.4h1M45.2 50.9h1M47.6 50.2h1M45.4 49.6h1M48.0 50.9h1M47.1 50.6h1M46.2 43.7h1M49.8 48.1h1M49.5 39.5h1M48.9 39.0h1M46.3 48.3h1M45.0 50.2h1M46.1 48.6h1M45.3 49.4h1M46.1 48.7h1M44.8 49.2h1M45.3 50.9h1M45.7 43.1h1M46.0 49.8h1M45.7 43.8h1M44.6 51.0h1M51.3 46.7h1M46.1 43.7h1M44.7 50.9h1M45.4 49.6h1M45.7 49.2h1M51.0 40.4h1M45.6 48.7h1M47.1 50.7h1M51.0 40.0h1M47.8 50.1h1M46.3 49.0h1M45.2 50.3h1M45.7 43.2h1M46.5 50.2h1M49.5 39.3h1M51.0 46.1h1M44.7 49.8h1M46.2 48.7h1M46.0 49.6h1M45.5 48.8h1M51.2 40.7h1M46.1 49.1h1M45.6 48.1h1M48.5 50.3h1M51.5 40.1h1M51.0 46.3h1M49.9 48.5h1M51.4 46.3h1M51.1 40.1h1" stroke="rgb(71,158,113)" stroke-opacity="1.00" stroke-width="1" fill="none"/><path d="M45.9 44.2h1M52.0 42.6h1M47.3 42.5h1M46.3 45.7h1M46.5 49.0h1M52.3 42.8h1M52.3 41.9h1M52.2 42.3h1M46.1 44.5h1M49.4 48.1h1M47.5 48.6h1M46.8 49.3h1M50.5 39.8h1M46.0 46.3h1M47.4 48.6h1M52.0 42.6h1M51.8 42.1h1M47.3 50.0h1M48.8 48.4h1M47.4 50.0h1M46.0 45.6h1M45.8 45.4h1M47.2 49.7h1M46.0 46.5h1M46.5 44.8h1M52.2 42.7h1M46.2 47.1h1M46.5 42.6h1M46.0 45.5h1M48.7 49.3h1M46.7 49.1h1M47.1 49.2h1M45.5 46.6h1M46.6 49.2h1M51.6 42.5h1M51.5 41.5h1M47.4 42.4h1M51.8 41.4h1M46.3 46.4h1M51.7 41.9h1M45.7 44.1h1M48.6 49.2h1M52.2 43.0h1M46.8 49.4h1M45.5 46.3h1M49.3 49.2h1M47.2 48.6h1M45.5 47.3h1M46.0 46.2h1M52.3 41.8h1M46.0 45.0h1M45.9 45.7h1M45.9 44.3h1M49.4 49.6h1M49.8 39.4h1M52.2 42.3h1M49.0 48.9h1M46.6 42.1h1M47.4 43.0h1M52.3 41.0h1M49.6 39.2h1M47.0 48.3h1M52.5 41.0h1M45.7 46.6h1M51.6 41.3h1M49.0 49.1h1M49.0 48.1h1M47.4 49.8h1M46.5 44.3h1M49.8 39.8h1M45.8 44.9h1M52.1 42.9h1M47.4 48.9h1M51.7 45.8h1M50.3 39.6h1M52.1 41.9h1M47.4 49.7h1M52.1 41.1h1M46.3 45.2h1" stroke="rgb(79,164,101)" stroke-opacity="1.00" stroke-width="1" fill="none"/><path d="M50.8 42.4h1M50.2 40.3h1M52.1 43.2h1M51.4 42.7h1M50.4 40.9h1M50.4 48.0h1M46.8 47.8h1M52.3 44.5h1M51.5 42.6h1M49.5 47.2h1M50.4 47.6h1M52.0 43.9h1M49.7 40.7h1M51.8 44.0h1M50.5 47.5h1M49.2 40.8h1M48.6 40.2h1M48.3 49.2h1M49.4 40.5h1M50.2 48.0h1M50.6 41.9h1M50.7 41.6h1M51.5 42.9h1M47.5 42.0h1M48.4 41.2h1M50.7 41.6h1M50.1 47.1h1M51.9 44.4h1M51.0 42.1h1M49.6 40.3h1M51.2 41.4h1M47.6 48.4h1M47.7 48.7h1M52.3 43.2h1M51.2 42.3h1M50.9 42.4h1M50.6 42.7h1M47.7 49.0h1M49.6 40.2h1M47.5 48.8h1M51.3 42.3h1M50.7 42.6h1M47.7 41.9h1M51.8 43.1h1M51.5 42.8h1M51.4 42.7h1M50.4 47.5h1M50.2 47.6h1M50.0 40.8h1M52.2 44.1h1M50.1 47.5h1M50.9 41.4h1M46.5 47.0h1M48.3 48.8h1M47.9 49.8h1M52.1 44.3h1M50.9 42.8h1M49.0 40.4h1M50.4 47.3h1M51.0 41.7h1M51.2 41.6h1M51.1 41.3h1M51.8 43.6h1M47.6 48.8h1M50.5 42.2h1M50.1 41.0h1" stroke="rgb(97,168,91)" stroke-opacity="1.00" stroke-width="1" fill="none"/><path d="M51.3 44.0h1M47.3 46.7h1M47.2 45.7h1M50.7 45.9h1M46.6 45.9h1M47.0 46.2h1M47.2 46.4h1M51.4 45.2h1M47.0 43.6h1M46.8 43.1h1M47.1 45.6h1M46.7 46.3h1M46.6 46.7h1M47.1 46.2h1M47.5 45.7h1M46.8 45.5h1M47.2 43.3h1M47.0 46.9h1M46.8 43.1h1M46.9 43.8h1M47.1 43.8h1M47.0 45.3h1M50.7 45.0h1M51.0 43.0h1M46.7 46.4h1M47.3 43.9h1M50.7 43.3h1M51.2 45.9h1M47.0 45.7h1M46.9 45.3h1M50.8 43.7h1M46.8 45.8h1M47.1 46.8h1M47.4 47.0h1M46.9 45.1h1M51.0 45.9h1" stroke="rgb(116,171,82)" stroke-opacity="1.00" stroke-width="1" fill="none"/><path d="M51.3 44.2h1M47.9 42.8h1M47.9 42.4h1M48.3 47.4h1M49.1 41.2h1M48.9 41.7h1M47.2 44.2h1M50.8 44.4h1M51.1 44.9h1M46.5 44.5h1M49.0 47.3h1M46.6 44.6h1M49.0 47.8h1M48.3 42.8h1M51.4 44.9h1M49.1 47.7h1M48.1 42.2h1M48.1 42.4h1M49.9 46.8h1M48.4 42.7h1M49.4 41.2h1M48.5 47.1h1M47.7 47.8h1M50.3 46.4h1M48.0 47.8h1M49.2 47.4h1M50.3 46.1h1M48.8 42.0h1M48.0 47.2h1M49.6 46.4h1M48.3 47.3h1M48.4 47.6h1M51.0 44.6h1M47.9 47.4h1M47.3 44.8h1M47.6 47.7h1M48.6 47.3h1M48.7 47.1h1M48.5 41.0h1M47.4 44.3h1M49.2 47.5h1M47.5 42.5h1M49.2 47.2h1M48.5 41.8h1M50.9 44.3h1M50.2 46.1h1M48.9 41.1h1M47.1 44.9h1M47.4 44.3h1M50.6 44.5h1M48.4 47.3h1M47.9 47.1h1M47.4 44.3h1M48.6 47.2h1M48.2 47.9h1" stroke="rgb(136,174,73)" stroke-opacity="1.00" stroke-width="1" fill="none"/><path d="M48.3 46.6h1M49.4 46.9h1M50.2 41.7h1M49.9 41.3h1M49.1 42.9h1M49.1 42.8h1M47.7 43.2h1M47.7 46.6h1M48.8 46.0h1M49.9 41.2h1M47.6 43.6h1M49.2 42.1h1M47.8 47.0h1M47.6 46.3h1M50.2 41.5h1M50.0 41.7h1M49.2 46.4h1M49.0 42.6h1M48.5 42.7h1M48.7 43.0h1M48.8 46.7h1M47.6 43.9h1M48.9 42.5h1M49.6 41.9h1M48.5 46.2h1M48.5 42.7h1M49.9 41.6h1M47.7 47.0h1" stroke="rgb(155,178,64)" stroke-opacity="1.00" stroke-width="1" fill="none"/><path d="M50.1 45.7h1M50.4 45.5h1M50.4 42.8h1M50.1 42.9h1M50.0 42.2h1M49.7 45.1h1M47.8 45.2h1M50.0 42.6h1M49.7 45.9h1M49.9 45.6h1M47.7 45.8h1M49.6 42.1h1M50.4 45.2h1M50.3 42.3h1M49.7 45.9h1M47.8 45.2h1M50.2 45.8h1M50.2 42.6h1M50.4 45.3h1M49.7 45.6h1M49.7 45.6h1" stroke="rgb(171,177,58)" stroke-opacity="1.00" stroke-width="1" fill="none"/><path d="M50.1 43.1h1M49.8 43.1h1M48.9 43.5h1M48.7 43.9h1M49.4 45.5h1M50.1 43.7h1M50.0 44.2h1M49.6 43.7h1M50.5 43.2h1M47.9 44.9h1M48.9 43.0h1M49.5 44.1h1M48.6 43.7h1M48.7 43.2h1M47.9 44.2h1M48.5 43.8h1M48.1 44.3h1M48.9 45.7h1M49.8 43.3h1M50.2 44.2h1M50.4 44.6h1M48.5 44.0h1M49.6 43.9h1M49.0 43.4h1M49.9 44.5h1M49.6 44.2h1M47.5 44.9h1M47.8 44.9h1" stroke="rgb(183,172,54)" stroke-opacity="1.00" stroke-width="1" fill="none"/><path d="M49.2 44.6h1M49.1 44.1h1M49.2 44.5h1M49.0 44.8h1M48.7 44.7h1M49.0 44.8h1M49.0 44.4h1M49.2 44.8h1M49.5 44.7h1M49.0 44.4h1M49.4 44.7h1M49.5 44.0h1M48.6 44.7h1" stroke="rgb(196,167,50)" stroke-opacity="1.00" stroke-width="1" fill="none"/></svg><svg class="sc" width="86" height="82" viewBox="0 0 86 82" style="position:absolute;left:174.0px;top:365.9px;filter:blur(0.3px)"><path d="M58.2 8.0h1M54.3 7.9h1M71.1 25.8h1M55.9 11.3h1M66.9 44.4h1M59.5 12.5h1M60.3 12.8h1M51.0 79.8h1M59.6 62.4h1M74.6 25.6h1M66.1 42.0h1M61.0 55.8h1M64.0 49.3h1M51.6 73.9h1M35.9 11.5h1M61.3 55.2h1M68.0 31.5h1M58.3 59.4h1M75.3 22.7h1M47.6 8.8h1M34.3 27.9h1M73.8 29.2h1M75.2 20.6h1M66.5 2.4h1M46.5 17.6h1M41.0 20.9h1M49.9 11.9h1M64.0 13.8h1M69.8 38.9h1M63.7 52.5h1M72.4 20.8h1M48.0 13.0h1M70.6 39.0h1M70.1 12.5h1M62.5 64.0h1M71.1 13.7h1M55.9 12.1h1M31.3 80.8h1M31.9 34.5h1M68.4 38.1h1M81.5 25.0h1M33.8 27.2h1M61.0 55.5h1M49.6 69.5h1M76.6 18.7h1M75.1 3.5h1M50.8 10.8h1M67.5 8.0h1M45.6 73.8h1M37.6 80.6h1M41.9 75.8h1M31.1 78.3h1M44.9 73.2h1" stroke="rgb(96,96,192)" stroke-opacity="0.63" stroke-width="1" fill="none"/><path d="M65.0 20.0h1M57.8 16.1h1M56.0 14.1h1M63.5 15.7h1M67.8 26.9h1M64.9 25.3h1M56.5 17.5h1M64.7 21.9h1M52.4 63.8h1M54.1 15.3h1M39.0 27.8h1M54.6 61.5h1M50.0 66.2h1M58.3 17.0h1M65.1 16.2h1M64.7 26.8h1M47.8 16.1h1M56.2 16.7h1M35.1 33.1h1M63.3 17.5h1M34.2 78.4h1M54.5 60.4h1M54.1 62.2h1M52.4 66.3h1M65.1 41.0h1M65.4 24.4h1M66.2 20.7h1M53.4 64.2h1M59.8 50.3h1M65.5 21.3h1M65.7 17.6h1M62.2 17.5h1M44.0 22.6h1M34.7 28.5h1M47.3 69.4h1M67.6 35.8h1M31.6 77.7h1M57.2 54.4h1M69.2 22.2h1M50.0 67.1h1M47.0 16.2h1M45.9 69.3h1M37.3 28.0h1M41.3 75.1h1M41.3 73.7h1M35.9 28.7h1M58.7 54.1h1M65.0 42.7h1M31.6 39.9h1M66.4 35.1h1M57.5 59.0h1M38.5 27.9h1M70.4 23.5h1M61.7 48.3h1M67.0 19.8h1M59.5 17.8h1M32.0 38.0h1M69.4 20.6h1M68.7 19.1h1M69.3 20.6h1M36.3 79.5h1M37.2 25.5h1M53.3 14.9h1M33.5 36.0h1M66.6 34.9h1M65.2 18.5h1M67.3 18.6h1M36.5 26.2h1M58.5 49.9h1M64.8 33.8h1M58.7 53.4h1M32.7 37.1h1M34.9 29.6h1M65.6 26.9h1M60.0 15.7h1M66.8 22.9h1M68.0 26.6h1M64.6 42.5h1M39.6 24.1h1M66.2 38.5h1M34.3 34.8h1M32.9 79.7h1M42.1 73.4h1M51.6 63.1h1" stroke="rgb(90,90,188)" stroke-opacity="0.66" stroke-width="1" fill="none"/><path d="M59.5 47.1h1M35.2 76.7h1M31.4 45.7h1M46.0 22.2h1M63.2 33.4h1M37.7 32.2h1M36.8 31.0h1M62.6 28.6h1M50.3 16.8h1M63.7 25.8h1M51.5 16.1h1M60.9 43.7h1M43.3 71.3h1M49.0 66.3h1M31.4 42.1h1M31.0 43.5h1M30.2 70.8h1M35.4 77.5h1M62.8 31.7h1M61.4 21.2h1M61.5 20.6h1M57.0 52.0h1M60.5 21.3h1M36.9 76.4h1M63.8 32.9h1M38.8 30.7h1M53.3 16.4h1M52.0 62.7h1M62.6 35.5h1M59.1 46.2h1M54.9 17.8h1M63.3 28.1h1M63.2 38.0h1M60.1 46.8h1M53.9 59.9h1M30.2 53.8h1M52.8 61.1h1M64.0 21.1h1M64.4 33.4h1M62.2 37.8h1M63.6 22.7h1M41.8 24.6h1M64.5 28.0h1M51.6 60.1h1M63.0 37.9h1M60.3 20.5h1M63.1 40.4h1M38.5 73.0h1M51.1 63.7h1M63.0 27.4h1M50.4 16.9h1M46.5 19.8h1M55.8 18.5h1M63.9 28.2h1M31.4 70.5h1M64.7 32.0h1M31.4 47.6h1M44.2 23.7h1M37.2 33.5h1M47.3 66.2h1M53.6 59.2h1M40.5 26.0h1M37.6 75.7h1M44.5 22.7h1M30.8 44.2h1M55.0 57.2h1M62.8 34.0h1M61.7 41.7h1M31.7 41.7h1M64.9 37.1h1M63.9 37.3h1M61.9 41.9h1M33.5 37.4h1M40.4 74.8h1M46.9 66.4h1M39.4 74.6h1M30.4 72.7h1M31.3 74.8h1M36.8 76.3h1M31.4 75.5h1M37.8 76.2h1M35.2 76.8h1" stroke="rgb(84,84,183)" stroke-opacity="0.68" stroke-width="1" fill="none"/><path d="M30.4 65.1h1M31.7 72.5h1M61.2 24.6h1M32.0 73.1h1M32.0 72.1h1M40.1 31.1h1M62.2 25.5h1M53.3 58.3h1M52.5 18.6h1M32.4 74.9h1M31.2 72.2h1M50.6 60.4h1M36.1 39.0h1M36.7 35.5h1M33.1 74.9h1M34.4 40.2h1M30.3 56.0h1M60.6 42.9h1M44.9 68.6h1M50.1 61.4h1M48.4 21.6h1M31.1 66.5h1M31.5 66.2h1M62.2 29.2h1M60.0 45.9h1M41.5 28.8h1M60.8 23.5h1M31.7 43.3h1M37.7 74.5h1M55.8 19.9h1M58.5 45.6h1M33.5 41.3h1M32.8 42.0h1M37.5 74.5h1M58.8 20.6h1M42.5 25.3h1M31.1 52.9h1M40.1 30.0h1M55.9 53.5h1M40.2 29.2h1M62.5 29.3h1M47.0 65.6h1M59.3 45.4h1M57.6 48.5h1M52.5 18.5h1M49.7 18.1h1M62.0 33.1h1M39.5 31.1h1M46.9 21.2h1M38.8 32.3h1M51.1 18.8h1M60.0 21.6h1M30.2 64.2h1M62.4 34.6h1M31.3 50.8h1M36.3 38.6h1M37.0 35.1h1M62.3 39.4h1M52.8 18.3h1M60.9 22.0h1M59.6 45.1h1M49.5 18.8h1M30.3 54.0h1M62.9 37.0h1M60.6 32.8h1M31.3 72.9h1M60.4 21.3h1M32.2 68.6h1M37.3 34.9h1M48.4 20.1h1M61.1 33.7h1M34.4 41.0h1M47.7 22.0h1M62.2 38.9h1M54.6 55.3h1M35.6 38.6h1M60.8 38.8h1M54.8 55.8h1M61.4 24.6h1M31.0 66.0h1M57.7 19.2h1M48.2 20.5h1M61.9 39.3h1M32.8 42.2h1M61.5 35.6h1M62.2 29.8h1M30.5 68.6h1M32.4 74.0h1M35.5 75.7h1M37.5 75.6h1M37.4 74.7h1M33.3 74.3h1M39.6 70.9h1M33.1 74.5h1" stroke="rgb(77,77,179)" stroke-opacity="0.70" stroke-width="1" fill="none"/><path d="M33.4 68.2h1M42.6 26.8h1M58.7 43.4h1M34.4 74.9h1M51.9 58.6h1M31.7 48.8h1M38.4 72.9h1M39.0 33.1h1M35.3 41.9h1M34.7 73.7h1M58.8 22.3h1M51.2 20.0h1M30.9 65.6h1M46.8 64.4h1M61.5 39.1h1M30.5 62.6h1M46.6 24.1h1M37.1 36.8h1M55.6 51.6h1M50.3 20.6h1M45.3 67.0h1M47.8 62.7h1M50.9 60.0h1M36.4 72.4h1M30.5 62.7h1M47.6 62.3h1M61.4 27.6h1M36.6 71.8h1M44.2 26.4h1M57.5 47.1h1M44.2 26.1h1M44.0 68.3h1M47.2 63.9h1M51.7 56.5h1M56.6 21.9h1M56.0 51.9h1M60.4 23.2h1M46.5 24.9h1M55.8 51.7h1M47.6 61.2h1M43.6 26.9h1M52.1 56.4h1M57.0 49.5h1M56.8 48.1h1M45.8 23.7h1M62.2 26.9h1M54.6 19.7h1M33.0 43.6h1M61.4 31.8h1M57.8 21.8h1M56.4 50.2h1M50.8 59.9h1M36.2 40.1h1M44.7 67.5h1M60.8 31.2h1M45.4 25.2h1M41.3 30.5h1M52.5 57.5h1M41.4 30.5h1M40.8 31.3h1M48.9 20.4h1M43.4 27.5h1M32.3 71.5h1M58.8 44.3h1M53.7 55.6h1M60.7 39.5h1M44.6 67.7h1M32.0 46.9h1M32.2 45.2h1M49.9 21.0h1M34.1 42.2h1M32.2 69.6h1M32.3 69.8h1M50.3 60.3h1M60.6 25.2h1M43.1 27.3h1M49.5 60.5h1M59.1 43.1h1M36.8 36.1h1M56.3 52.9h1M51.1 19.8h1M38.6 71.0h1M61.2 36.8h1M47.0 63.8h1M42.1 69.3h1M47.9 61.8h1M46.8 63.3h1M36.2 72.7h1M34.3 73.6h1M36.6 70.1h1M33.3 68.1h1M31.8 71.5h1M32.2 67.1h1M36.0 72.9h1M31.1 64.8h1M31.7 69.2h1" stroke="rgb(71,71,174)" stroke-opacity="0.73" stroke-width="1" fill="none"/><path d="M35.9 71.7h1M35.2 72.3h1M42.7 29.2h1M45.1 26.1h1M45.7 25.1h1M55.4 50.8h1M37.0 69.9h1M47.1 61.5h1M39.6 33.7h1M45.6 63.0h1M54.6 50.0h1M31.8 49.3h1M54.0 20.0h1M44.2 27.2h1M47.9 24.6h1M55.2 51.5h1M42.4 68.4h1M35.1 42.2h1M47.4 61.3h1M34.6 72.8h1M42.5 67.4h1M35.1 70.8h1M51.5 20.6h1M56.3 21.6h1M44.3 28.7h1M38.4 37.4h1M37.3 39.0h1M32.4 51.8h1M36.9 69.4h1M58.3 44.0h1M59.9 25.3h1M31.8 64.5h1M33.0 46.5h1M33.8 72.4h1M58.6 42.2h1M36.0 41.9h1M51.9 20.2h1M31.4 55.6h1M41.4 33.0h1M32.4 64.2h1M32.8 69.2h1M52.6 19.5h1M44.2 28.4h1M47.5 61.7h1M52.4 19.2h1M37.1 69.3h1M42.4 68.3h1M44.9 26.6h1M38.1 69.6h1M58.6 41.6h1M35.4 42.1h1M36.5 41.7h1M59.8 33.2h1M31.8 50.2h1M39.3 35.5h1M31.3 56.0h1M35.1 70.7h1M44.7 66.0h1M55.1 50.0h1M31.9 50.7h1M52.4 20.8h1M31.2 63.2h1M47.5 24.5h1M49.5 21.5h1M37.9 69.0h1M53.5 55.9h1M32.4 65.9h1M47.1 61.3h1M59.6 40.3h1M56.2 49.0h1M33.5 43.2h1M32.6 44.5h1M43.1 29.6h1M44.4 28.0h1M60.1 25.7h1M53.8 20.1h1M59.4 42.3h1M41.6 68.8h1M41.7 30.5h1M59.5 38.7h1M33.4 71.3h1M55.1 51.4h1M47.3 23.5h1M59.5 33.5h1M33.0 71.2h1M37.4 68.2h1M35.1 72.8h1M34.7 71.4h1M31.8 65.1h1M34.3 68.0h1M41.7 68.8h1M37.1 69.4h1" stroke="rgb(65,65,170)" stroke-opacity="0.75" stroke-width="1" fill="none"/><path d="M46.6 26.2h1M58.8 32.6h1M36.0 68.8h1M59.2 25.6h1M52.6 54.9h1M31.2 58.4h1M39.3 37.0h1M58.8 29.2h1M60.4 27.0h1M43.8 66.6h1M49.1 22.1h1M30.7 61.6h1M31.3 57.6h1M33.0 48.7h1M58.7 28.5h1M57.5 22.0h1M54.6 21.7h1M59.4 29.6h1M36.7 40.6h1M43.5 29.7h1M54.2 21.4h1M43.1 30.0h1M50.6 22.2h1M45.6 26.6h1M55.4 21.5h1M58.8 40.5h1M54.0 52.0h1M45.3 28.4h1M41.9 31.3h1M59.3 28.4h1M58.8 29.5h1M58.3 23.5h1M49.3 22.4h1M52.1 21.2h1M50.3 21.7h1M59.6 26.8h1M49.2 24.5h1M43.3 66.4h1M39.1 69.5h1M57.8 42.3h1M55.0 21.5h1M33.4 66.9h1M48.8 22.8h1M33.7 45.0h1M44.5 28.4h1M45.5 62.3h1M38.7 37.0h1M34.2 44.3h1M57.5 45.8h1M54.6 21.3h1M59.0 27.5h1M39.5 34.3h1M35.2 69.2h1M51.1 56.4h1M59.5 31.1h1M30.7 62.7h1M43.9 29.6h1M57.4 45.8h1M58.3 42.5h1M49.0 59.3h1M58.8 29.4h1M59.6 28.3h1M51.1 22.7h1M48.3 25.2h1M59.6 40.0h1M58.5 32.6h1M57.8 23.8h1M58.7 25.6h1M42.5 32.4h1M59.1 24.0h1M57.6 42.1h1M47.4 27.0h1M59.2 35.2h1M52.3 55.4h1M32.7 66.1h1M59.4 30.7h1M31.5 57.0h1M38.9 69.4h1M31.8 53.7h1M34.3 69.7h1M35.8 68.3h1M41.1 68.4h1M36.0 69.3h1M41.2 68.4h1M39.5 68.6h1" stroke="rgb(60,61,167)" stroke-opacity="0.77" stroke-width="1" fill="none"/><path d="M44.7 29.7h1M41.6 66.3h1M48.5 59.1h1M52.2 22.8h1M39.4 68.5h1M57.2 23.5h1M32.4 62.6h1M55.7 23.1h1M46.1 61.6h1M45.9 61.6h1M48.1 26.3h1M52.4 22.1h1M42.6 65.3h1M57.4 24.1h1M31.9 62.8h1M57.0 44.0h1M40.3 35.5h1M52.2 22.1h1M56.7 24.6h1M32.7 65.6h1M50.7 24.5h1M32.7 51.6h1M38.9 68.1h1M46.3 61.3h1M53.3 22.6h1M58.2 25.0h1M38.2 39.5h1M57.1 25.8h1M55.0 47.3h1M50.3 24.2h1M37.7 39.4h1M42.4 66.8h1M55.1 22.1h1M31.4 59.4h1M58.0 25.8h1M56.3 23.2h1M57.5 24.2h1M57.7 29.6h1M32.1 63.0h1M32.0 62.2h1M50.7 24.7h1M57.5 23.0h1M36.2 67.1h1M58.9 36.8h1M56.9 43.3h1M57.2 43.1h1M57.5 23.8h1M50.1 56.0h1M30.6 59.4h1M49.6 56.1h1M31.9 54.0h1M52.9 53.3h1M58.7 36.8h1M54.8 47.2h1M54.7 22.1h1M59.3 26.4h1M31.7 54.6h1M57.8 40.0h1M52.0 54.1h1M58.5 36.9h1M53.8 23.0h1M45.6 28.8h1M54.7 47.5h1M51.8 22.2h1M52.0 54.2h1M53.1 22.9h1M31.7 63.5h1M53.1 22.4h1M43.6 65.3h1M54.3 51.2h1M58.4 40.7h1M52.0 54.7h1M37.2 67.1h1M57.9 29.4h1M50.4 57.2h1M42.3 67.0h1M42.1 66.9h1M39.0 37.2h1M44.8 64.7h1M46.0 61.2h1M57.2 24.0h1M50.2 56.3h1M49.6 57.5h1M38.4 39.1h1M31.6 63.6h1M42.4 66.5h1M41.1 67.8h1M43.9 66.0h1M31.3 60.5h1M42.2 66.8h1M38.8 68.9h1M41.8 66.4h1M41.6 66.2h1M42.0 66.0h1" stroke="rgb(58,61,165)" stroke-opacity="0.80" stroke-width="1" fill="none"/><path d="M57.9 34.7h1M58.4 32.6h1M33.8 65.2h1M43.0 32.7h1M36.7 66.7h1M40.0 67.1h1M51.0 55.1h1M56.3 25.4h1M58.3 28.4h1M35.2 66.8h1M31.9 59.5h1M40.8 35.5h1M43.3 64.8h1M56.7 29.9h1M37.6 66.7h1M58.1 26.1h1M51.5 25.0h1M56.4 24.4h1M46.6 59.9h1M46.4 60.8h1M32.0 56.4h1M39.9 38.0h1M57.2 26.6h1M33.3 52.7h1M33.0 53.9h1M34.0 46.1h1M48.7 26.7h1M53.4 24.0h1M45.0 63.0h1M46.0 60.6h1M46.2 60.6h1M57.8 33.6h1M32.4 59.9h1M51.9 24.8h1M39.9 37.3h1M57.9 37.7h1M34.4 64.6h1M49.2 26.8h1M55.4 23.8h1M57.9 27.0h1M51.7 23.1h1M56.9 42.5h1M52.1 23.6h1M46.7 59.3h1M33.3 53.0h1M52.8 23.2h1M52.2 23.9h1M58.4 39.6h1M48.5 58.1h1M53.4 23.8h1M54.7 46.1h1M40.4 37.4h1M55.9 25.6h1M33.0 54.0h1M58.0 28.3h1M42.5 32.7h1M48.9 26.5h1M56.6 42.4h1M56.8 26.1h1M58.1 37.5h1M55.1 23.4h1M40.6 66.8h1M46.9 28.4h1M57.9 38.1h1M35.2 45.0h1M37.9 41.3h1M47.4 28.9h1M31.9 60.3h1M39.8 37.7h1M42.9 32.2h1M39.5 36.7h1M58.1 38.2h1M31.8 59.8h1M47.1 59.3h1M58.3 34.5h1M37.9 66.4h1M40.8 66.8h1M35.4 66.9h1M33.9 65.8h1M35.9 66.7h1M35.7 66.4h1M37.7 66.8h1M32.0 60.8h1" stroke="rgb(56,60,163)" stroke-opacity="0.82" stroke-width="1" fill="none"/><path d="M34.0 50.7h1M41.4 36.2h1M56.7 41.3h1M49.9 55.7h1M56.6 27.2h1M49.3 56.9h1M33.3 54.4h1M55.7 27.5h1M57.2 30.6h1M57.0 31.5h1M55.7 29.6h1M55.8 43.2h1M57.0 31.3h1M58.5 36.1h1M45.6 29.0h1M51.1 25.8h1M41.8 34.7h1M56.0 29.3h1M40.7 36.6h1M35.3 45.6h1M49.4 56.8h1M45.9 29.9h1M46.4 59.5h1M52.9 52.3h1M38.8 66.9h1M38.7 66.3h1M50.1 25.6h1M34.3 50.5h1M56.8 33.8h1M55.8 28.9h1M54.0 49.1h1M45.7 59.1h1M35.3 45.0h1M55.0 45.1h1M43.4 63.6h1M57.5 33.9h1M56.9 33.1h1M42.8 63.5h1M46.4 31.0h1M55.6 26.5h1M44.2 31.4h1M56.1 43.9h1M46.1 59.8h1M57.0 41.5h1M56.2 28.4h1M41.6 65.3h1M43.1 33.1h1M33.0 62.8h1M41.8 65.4h1M56.6 30.5h1M41.5 64.4h1M57.2 40.5h1M34.3 48.7h1M50.0 26.7h1M34.2 49.4h1M39.0 39.4h1M56.1 26.7h1M39.5 67.4h1M54.8 45.5h1M38.7 38.1h1M43.7 31.6h1M51.5 25.4h1M45.6 30.2h1M56.5 31.9h1M46.0 29.3h1M55.2 25.9h1M33.5 54.7h1M56.7 30.8h1M43.1 33.5h1M42.3 65.3h1M44.4 62.2h1M55.6 26.7h1M57.1 41.6h1M56.7 27.6h1M53.2 53.0h1M56.7 30.1h1M57.4 42.0h1M52.6 52.6h1M53.8 49.1h1M56.9 31.5h1M42.7 63.3h1M50.9 54.5h1M42.4 34.2h1M57.2 33.3h1M49.7 26.3h1M35.8 44.7h1M41.6 34.3h1M55.5 25.9h1M57.4 30.3h1M55.2 25.5h1M47.7 28.2h1M52.6 51.6h1M34.1 49.0h1M35.6 44.7h1M42.6 33.8h1M48.3 29.0h1M45.6 29.3h1M39.1 38.5h1M54.7 24.5h1M55.5 29.6h1M41.2 37.0h1M34.2 48.8h1M58.2 35.3h1M49.7 26.0h1M35.2 45.1h1M51.7 53.1h1M33.5 54.6h1M49.6 25.2h1M35.9 65.5h1M44.2 63.7h1" stroke="rgb(53,59,162)" stroke-opacity="0.85" stroke-width="1" fill="none"/><path d="M34.0 51.9h1M33.2 56.6h1M34.8 64.4h1M47.9 57.2h1M57.3 38.1h1M53.3 26.1h1M54.0 25.1h1M51.9 25.7h1M36.5 65.0h1M33.8 52.1h1M51.9 25.2h1M41.1 37.9h1M52.1 25.5h1M54.1 26.7h1M41.3 64.2h1M54.9 27.5h1M37.2 65.9h1M36.7 44.0h1M35.3 64.7h1M33.5 52.0h1M34.9 46.0h1M36.8 65.2h1M35.8 64.8h1M52.6 26.3h1M33.3 61.4h1M43.3 62.4h1M33.7 63.1h1M55.2 29.5h1M53.4 26.3h1M55.6 42.2h1M34.5 63.8h1M43.1 62.9h1M53.8 25.8h1M33.0 56.7h1M54.9 28.6h1M54.0 48.1h1M54.4 26.0h1M38.8 40.7h1M47.2 29.6h1M53.3 26.0h1M55.3 26.4h1M42.8 62.0h1M40.3 38.8h1M33.9 63.5h1M57.2 39.3h1M36.4 45.7h1M35.3 46.2h1M54.5 28.7h1M33.6 51.4h1M35.1 46.1h1M44.4 61.3h1M54.8 29.9h1M47.8 57.9h1M52.8 25.3h1M35.6 45.2h1M56.8 38.9h1M39.1 40.9h1M32.8 55.7h1M52.8 26.1h1M35.0 46.3h1M49.4 27.5h1M57.3 34.9h1M56.9 34.7h1M54.7 29.1h1M35.5 64.6h1M41.0 37.2h1M33.2 61.0h1M57.0 39.2h1M47.4 29.3h1M35.5 46.3h1M55.3 29.2h1M57.1 34.0h1M35.2 46.8h1M32.8 56.8h1M35.8 64.7h1M41.1 64.8h1M37.9 65.8h1" stroke="rgb(51,59,160)" stroke-opacity="0.87" stroke-width="1" fill="none"/><path d="M51.1 27.3h1M55.9 31.6h1M52.6 27.8h1M49.6 28.0h1M56.8 36.7h1M52.6 49.5h1M55.1 44.7h1M41.6 62.4h1M55.3 45.0h1M51.3 28.7h1M53.8 47.2h1M44.7 32.2h1M49.3 55.2h1M56.5 37.3h1M33.0 60.0h1M50.9 27.2h1M47.0 30.3h1M41.7 62.8h1M47.0 30.3h1M33.9 53.5h1M50.2 54.6h1M51.4 28.2h1M50.2 54.5h1M40.1 39.4h1M33.4 58.1h1M39.6 64.2h1M37.5 64.1h1M54.9 44.8h1M40.4 65.4h1M44.1 33.6h1M35.5 47.5h1M57.1 35.1h1M53.0 27.6h1M38.0 64.4h1M48.3 56.3h1M37.2 64.3h1M32.6 57.8h1M45.4 60.5h1M50.5 28.4h1M42.3 62.7h1M49.2 28.6h1M44.6 32.5h1M32.7 60.9h1M42.0 62.8h1M52.2 27.1h1M53.8 47.5h1M34.7 48.3h1M52.2 27.2h1M37.6 64.2h1M57.1 36.2h1M35.0 47.5h1M50.0 27.2h1M48.0 57.0h1M54.8 30.8h1M55.0 30.7h1M42.4 63.0h1M51.3 28.4h1M52.0 52.8h1M52.7 50.8h1M40.0 39.9h1M40.2 64.4h1M48.3 57.0h1M44.8 32.4h1M38.4 64.4h1M52.5 49.2h1M51.4 28.9h1M51.6 52.5h1M56.7 37.2h1M39.8 39.4h1M35.5 47.8h1M55.0 30.6h1M32.9 57.5h1M53.9 27.8h1M52.7 49.2h1M43.6 33.8h1M57.3 37.8h1M50.8 27.1h1M56.2 41.3h1M57.0 35.2h1M49.6 28.3h1M54.3 47.1h1M49.0 28.1h1M56.0 41.3h1M32.7 60.1h1M56.7 37.8h1M50.6 27.7h1M34.4 53.5h1M32.9 60.7h1M34.1 62.3h1M37.8 64.1h1M54.8 30.4h1M32.9 59.5h1M57.4 37.7h1M51.3 28.6h1M51.6 53.0h1M52.9 51.0h1M32.6 57.6h1M35.0 47.0h1M51.4 28.4h1M33.5 57.6h1M45.1 32.6h1M33.4 58.7h1M32.6 60.3h1M42.3 62.4h1M40.2 65.6h1M33.6 62.8h1M40.3 64.2h1M39.8 65.5h1M42.1 62.1h1M36.9 64.5h1" stroke="rgb(49,58,158)" stroke-opacity="0.89" stroke-width="1" fill="none"/><path d="M41.2 63.1h1M53.6 29.6h1M53.9 29.6h1M55.0 42.5h1M35.1 50.9h1M34.9 52.5h1M53.6 28.3h1M52.2 28.1h1M40.0 40.5h1M45.1 33.4h1M42.9 61.5h1M56.3 38.6h1M33.6 61.4h1M35.0 49.0h1M42.5 61.1h1M43.8 34.4h1M52.1 28.4h1M33.6 61.8h1M34.8 49.4h1M52.5 28.8h1M35.1 50.1h1M42.4 36.1h1M44.0 34.5h1M41.5 36.5h1M37.0 44.6h1M56.2 38.1h1M56.2 38.3h1M35.4 63.4h1M52.6 28.9h1M37.1 44.9h1M42.9 61.7h1M46.1 31.7h1M53.5 28.5h1M35.0 52.9h1M55.8 41.0h1M45.2 33.6h1M55.9 32.8h1M46.6 57.4h1M38.7 41.3h1M38.1 63.3h1M40.0 40.9h1M40.7 38.8h1M54.3 46.8h1M34.4 61.3h1M51.6 29.0h1M41.4 38.3h1M33.7 55.0h1M35.0 51.4h1M54.9 42.8h1M36.2 63.3h1M54.2 46.7h1M55.6 37.4h1M40.0 40.5h1M35.0 50.4h1M45.1 33.7h1M43.8 60.1h1M38.9 64.3h1M41.3 38.5h1M46.5 58.1h1M37.8 63.2h1M56.0 33.3h1M42.0 61.8h1M36.5 46.7h1M55.4 42.4h1M34.7 63.7h1M42.3 62.0h1M54.3 29.2h1M44.2 60.8h1M34.2 61.5h1M54.4 46.8h1M42.3 36.6h1M34.6 51.6h1M34.9 63.5h1M38.8 65.1h1M35.5 52.1h1M38.7 65.2h1" stroke="rgb(47,60,159)" stroke-opacity="0.92" stroke-width="1" fill="none"/><path d="M36.8 45.6h1M37.4 45.8h1M56.0 35.5h1M34.8 62.3h1M41.2 62.2h1M36.2 62.9h1M34.9 54.0h1M36.4 47.6h1M35.0 54.1h1M40.0 63.4h1M40.7 62.8h1M48.0 30.3h1M52.5 29.9h1M53.7 45.4h1M41.6 37.7h1M56.5 35.2h1M52.6 47.0h1M48.1 30.1h1M50.3 29.4h1M48.4 30.5h1M37.1 63.8h1M37.0 45.0h1M54.8 32.2h1M49.0 54.9h1M36.3 47.7h1M33.8 55.3h1M48.2 30.7h1M53.8 30.8h1M35.5 48.6h1M48.7 54.1h1M34.7 54.8h1M39.5 42.4h1M37.5 63.8h1M49.3 29.1h1M37.1 63.2h1M36.2 62.3h1M42.8 35.9h1M55.2 32.7h1M54.7 41.5h1M37.2 63.6h1M55.5 32.8h1M56.2 35.2h1M50.0 29.5h1M55.5 35.6h1M35.2 62.6h1M55.4 31.4h1M51.3 29.5h1M39.5 42.6h1M35.0 53.5h1M49.6 29.8h1M47.7 31.0h1M34.9 53.4h1M34.0 55.3h1M36.3 62.4h1M55.1 31.2h1M42.2 37.9h1M56.5 35.4h1M38.9 63.3h1M35.8 48.3h1M53.5 30.2h1M49.8 29.8h1M44.6 59.1h1M48.7 55.0h1M36.4 62.2h1" stroke="rgb(47,66,161)" stroke-opacity="0.94" stroke-width="1" fill="none"/><path d="M52.5 50.4h1M40.4 62.7h1M34.4 58.0h1M35.2 55.2h1M38.1 44.9h1M44.9 35.0h1M45.0 34.7h1M47.2 31.5h1M44.3 59.1h1M50.3 53.2h1M56.0 36.8h1M40.1 41.7h1M54.8 33.2h1M44.6 34.0h1M33.6 60.4h1M53.0 46.1h1M54.3 43.6h1M41.6 60.9h1M36.3 49.0h1M52.7 30.8h1M38.4 44.0h1M33.6 57.0h1M37.8 62.8h1M35.7 51.9h1M50.8 30.8h1M55.0 40.5h1M35.2 55.0h1M49.4 30.2h1M40.1 41.3h1M45.6 57.2h1M42.6 60.4h1M35.6 49.7h1M38.4 62.4h1M34.2 57.7h1M46.9 56.0h1M48.2 55.2h1M45.8 32.4h1M34.5 57.1h1M48.8 30.4h1M47.7 56.0h1M50.7 52.1h1M38.0 44.6h1M48.8 30.0h1M46.6 56.6h1M50.9 52.7h1M38.4 44.8h1M47.1 56.7h1M42.6 60.3h1M40.4 41.4h1M54.3 43.4h1M51.1 52.8h1M55.4 33.7h1M46.1 57.3h1M45.6 57.2h1M45.3 34.5h1M44.9 34.8h1M55.1 34.0h1M44.4 59.3h1M33.9 59.2h1M55.8 36.5h1M33.6 58.6h1M54.5 43.5h1M43.7 59.9h1M34.1 59.2h1M41.4 39.9h1M34.4 60.9h1M47.2 56.8h1M35.2 55.3h1M53.2 46.3h1M37.7 44.0h1M51.7 50.1h1M39.8 41.7h1M51.4 52.4h1M48.4 55.6h1M34.3 60.4h1M34.0 58.5h1M52.9 46.2h1M33.8 56.8h1M41.3 39.5h1M37.6 62.9h1M40.4 62.7h1M38.2 62.1h1M36.0 51.5h1M34.2 57.7h1M38.3 62.8h1M33.6 59.7h1M48.9 30.9h1M54.4 43.9h1M44.2 59.6h1M45.4 34.8h1M44.9 34.6h1M34.5 60.9h1M50.1 53.1h1M52.8 46.8h1M51.0 52.9h1M47.9 55.7h1M39.9 41.0h1M52.0 29.7h1M35.7 51.0h1M34.4 58.1h1M38.0 62.7h1M38.5 63.0h1M33.6 60.9h1M37.5 62.7h1M34.4 58.7h1" stroke="rgb(46,72,163)" stroke-opacity="0.96" stroke-width="1" fill="none"/><path d="M38.1 45.8h1M54.7 38.8h1M49.7 30.5h1M35.8 61.1h1M54.6 39.1h1M55.0 37.4h1M35.3 57.1h1M37.5 62.1h1M38.2 45.1h1M37.1 63.0h1M50.8 51.2h1M53.9 32.9h1M36.3 61.3h1M54.6 34.1h1M55.5 34.2h1M37.3 46.4h1M54.6 38.6h1M54.5 32.4h1M35.6 53.1h1M54.6 34.8h1M54.9 39.7h1M43.0 37.0h1M51.1 51.7h1M54.7 38.2h1M36.3 61.1h1M35.3 58.0h1M35.9 52.2h1M36.5 52.4h1M46.5 33.6h1M53.8 44.9h1M46.3 33.2h1M54.9 38.6h1M53.9 32.9h1M35.4 58.8h1M55.0 34.0h1M50.7 51.8h1M46.4 33.2h1M55.5 34.3h1M55.0 38.6h1M35.4 57.4h1M35.5 57.2h1M35.2 58.7h1M43.5 35.6h1M34.7 61.9h1M35.4 61.5h1M49.5 30.9h1M55.0 39.9h1M35.2 58.1h1M53.3 45.5h1M36.5 52.6h1M35.1 58.0h1M37.0 46.7h1M50.3 30.5h1M52.5 45.7h1M42.5 36.8h1M54.8 37.3h1M55.4 38.8h1M55.1 34.5h1M49.9 30.4h1M39.2 43.8h1M38.4 45.3h1M55.4 37.2h1M54.7 38.5h1M38.8 43.0h1M36.0 52.4h1M34.7 57.0h1M37.0 62.2h1M53.3 45.5h1M39.0 62.9h1M53.7 32.7h1M52.6 45.4h1M49.7 30.1h1M35.1 58.4h1M50.1 30.6h1M34.7 57.0h1M54.3 44.4h1M35.8 53.0h1M39.1 62.6h1M38.9 62.7h1" stroke="rgb(46,77,166)" stroke-opacity="0.99" stroke-width="1" fill="none"/><path d="M45.7 34.7h1M45.9 34.7h1M37.2 50.2h1M36.7 49.4h1M39.8 61.3h1M51.7 30.9h1M36.5 54.2h1M44.2 36.1h1M37.3 53.8h1M46.6 56.0h1M40.1 61.9h1M36.6 47.9h1M50.6 31.6h1M54.0 41.7h1M40.2 43.0h1M53.9 42.2h1M53.9 41.4h1M50.4 52.4h1M37.0 47.1h1M43.8 36.2h1M42.4 39.0h1M38.2 61.1h1M54.3 41.6h1M37.4 49.1h1M40.1 61.8h1M37.4 53.2h1M35.1 60.8h1M36.5 54.9h1M40.0 42.2h1M44.7 58.3h1M46.6 32.7h1M47.0 55.3h1M47.1 32.7h1M52.4 30.6h1M46.9 32.9h1M37.3 53.7h1M35.6 54.5h1M46.7 32.1h1M51.6 30.9h1M36.9 53.7h1M41.7 38.1h1M52.3 49.2h1M37.3 49.7h1M47.6 54.4h1M41.3 40.4h1M54.4 41.8h1M46.3 56.0h1M48.4 54.0h1M51.0 31.8h1M36.8 47.2h1M37.3 50.0h1M50.7 31.4h1M47.1 55.7h1M45.8 34.7h1M54.3 33.6h1M52.5 30.6h1M53.6 33.3h1M43.9 36.4h1M43.4 37.5h1M41.4 40.9h1M53.0 32.8h1M46.6 33.0h1M37.1 51.3h1M46.4 34.3h1M36.7 49.7h1M36.9 51.7h1M52.1 49.9h1M50.6 31.2h1M47.7 54.7h1M41.7 38.3h1M53.5 31.3h1M47.6 54.7h1M42.7 37.2h1M53.7 33.8h1M49.9 52.8h1M46.3 34.9h1M36.6 49.2h1M51.9 49.7h1M51.9 30.4h1M39.6 61.1h1M45.0 58.5h1M50.5 52.0h1M35.6 54.4h1M37.4 49.9h1M40.3 61.6h1M37.5 49.7h1" stroke="rgb(45,83,168)" stroke-opacity="1.00" stroke-width="1" fill="none"/><path d="M54.5 39.5h1M38.4 46.3h1M53.5 39.7h1M41.7 59.1h1M38.5 61.1h1M53.6 39.1h1M47.2 33.5h1M53.5 39.4h1M54.6 37.0h1M39.7 43.0h1M50.3 51.6h1M43.6 37.8h1M38.1 46.7h1M48.7 31.6h1M52.5 34.0h1M41.2 60.5h1M46.9 33.7h1M53.0 43.9h1M55.1 36.1h1M43.6 58.8h1M40.1 43.2h1M36.6 61.9h1M35.8 55.4h1M36.4 60.5h1M36.8 48.2h1M49.5 31.1h1M35.9 55.6h1M36.3 55.3h1M53.9 40.8h1M37.3 52.5h1M44.8 58.0h1M44.2 58.2h1M53.1 44.1h1M37.1 52.4h1M44.7 35.1h1M54.4 37.9h1M47.0 33.9h1M54.4 37.2h1M36.9 48.5h1M53.5 34.8h1M39.6 43.3h1M53.1 33.7h1M41.2 60.9h1M44.0 37.5h1M51.3 50.8h1M38.4 46.3h1M53.0 33.7h1M38.6 44.7h1M41.0 60.3h1M41.8 59.2h1M54.3 34.9h1M50.1 31.6h1M53.4 33.6h1M55.4 36.0h1M40.8 60.4h1M37.2 48.4h1M44.4 37.2h1M36.4 55.7h1M47.3 33.8h1M52.5 33.9h1M43.9 37.0h1M37.7 46.8h1M54.5 39.9h1M52.6 44.2h1M36.1 60.2h1M37.5 48.6h1M52.5 33.9h1M45.5 35.6h1M44.7 35.9h1M37.4 48.6h1M48.8 31.0h1M49.8 31.1h1M50.4 51.7h1M54.1 37.0h1M37.8 46.5h1M53.8 39.6h1M52.5 33.0h1M36.2 55.5h1M39.3 44.6h1M55.1 36.7h1M36.7 61.1h1M41.9 59.8h1M52.5 45.0h1M53.4 43.6h1M53.0 43.9h1M44.7 57.2h1M49.8 51.8h1M38.4 46.1h1M54.1 40.8h1M52.8 44.0h1M45.5 35.5h1M54.9 36.3h1M53.6 34.3h1M52.7 43.9h1M40.1 44.0h1M36.2 55.3h1M39.5 61.0h1M44.3 58.6h1M35.6 60.7h1" stroke="rgb(45,89,170)" stroke-opacity="1.00" stroke-width="1" fill="none"/><path d="M51.7 32.9h1M47.1 54.5h1M36.0 58.9h1M51.8 32.4h1M41.2 41.0h1M36.1 57.5h1M39.1 45.3h1M48.5 32.2h1M41.2 41.9h1M52.4 47.4h1M38.9 45.6h1M46.8 34.3h1M50.6 32.7h1M38.0 59.2h1M36.1 56.8h1M54.5 35.6h1M52.7 34.2h1M35.7 56.5h1M38.4 60.6h1M51.8 47.3h1M51.8 45.8h1M36.5 59.7h1M37.8 59.7h1M49.7 32.9h1M43.1 38.5h1M39.4 60.3h1M52.3 46.7h1M35.6 56.1h1M53.7 35.4h1M38.1 60.5h1M52.2 45.5h1M49.5 32.4h1M39.2 45.8h1M41.6 39.1h1M46.5 34.6h1M51.5 45.1h1M37.0 55.3h1M52.6 41.9h1M40.7 41.1h1M48.0 32.4h1M50.3 32.0h1M50.2 32.3h1M53.7 38.5h1M36.6 54.0h1M49.3 32.5h1M37.1 54.1h1M49.1 32.7h1M38.5 59.7h1M50.7 32.5h1M52.3 45.4h1M40.5 60.3h1M48.9 33.0h1M35.7 58.3h1M44.7 36.0h1M45.4 36.5h1M38.7 45.4h1M54.2 35.4h1M51.9 31.2h1M53.5 34.5h1M46.6 34.4h1M43.0 38.3h1M41.3 41.6h1M37.9 60.2h1M52.3 47.8h1M53.8 38.2h1M45.1 36.7h1M43.4 58.1h1M52.8 41.9h1M51.7 47.4h1M37.4 55.9h1M52.5 31.3h1M52.4 31.2h1M52.0 32.1h1M53.2 34.2h1M42.4 39.5h1M42.9 38.8h1M51.7 32.1h1M43.2 38.3h1M42.0 40.0h1M53.4 34.3h1M53.6 38.8h1M52.8 41.7h1M36.5 57.9h1M50.4 32.6h1M42.4 39.6h1M37.1 55.7h1M36.5 58.4h1M54.4 35.1h1M38.5 59.2h1M49.3 32.1h1M39.0 60.8h1M38.3 61.0h1M49.3 32.4h1M38.4 59.2h1M35.9 57.7h1M36.0 57.6h1M47.4 34.5h1M54.4 35.2h1M49.1 32.6h1M52.1 46.6h1M52.2 32.5h1M43.2 58.4h1M36.8 54.3h1M52.0 31.3h1M36.1 58.1h1M42.6 58.5h1M39.4 60.2h1M36.3 59.6h1M37.9 60.2h1" stroke="rgb(45,96,170)" stroke-opacity="1.00" stroke-width="1" fill="none"/><path d="M41.2 42.8h1M38.4 51.8h1M53.6 36.1h1M36.7 59.9h1M44.2 38.4h1M41.7 58.1h1M36.7 57.7h1M38.3 53.9h1M36.9 58.1h1M52.3 43.4h1M37.6 50.2h1M52.8 35.7h1M37.0 57.5h1M38.0 50.4h1M40.7 59.1h1M52.8 36.0h1M37.6 53.7h1M37.4 59.8h1M40.1 44.1h1M41.9 58.1h1M50.9 49.8h1M38.5 53.2h1M53.4 37.3h1M41.3 59.1h1M45.6 55.4h1M43.8 57.7h1M44.2 57.4h1M37.4 57.7h1M53.4 37.4h1M43.7 38.8h1M45.8 55.6h1M52.7 37.6h1M36.8 57.4h1M37.2 58.0h1M45.7 55.2h1M46.4 55.3h1M43.8 38.8h1M37.7 50.3h1M42.5 58.5h1M53.0 35.2h1M42.1 58.8h1M38.4 53.4h1M45.0 56.4h1M43.5 38.5h1M38.3 48.0h1M52.6 42.6h1M36.8 59.1h1M45.8 55.7h1M38.2 51.1h1M43.8 57.4h1M45.8 55.5h1M37.7 55.7h1M52.2 43.6h1M41.2 59.7h1M37.9 47.2h1M37.0 57.5h1M48.8 52.3h1M49.0 51.0h1M37.0 59.2h1M37.3 58.7h1M37.7 50.5h1M48.8 52.9h1M43.5 38.2h1M37.1 57.1h1M41.4 59.9h1M40.4 44.9h1M38.3 49.8h1M52.0 44.0h1M44.5 56.6h1M49.5 52.1h1M48.6 52.4h1M51.3 49.1h1M37.0 59.2h1M51.7 43.1h1M36.7 59.0h1M38.1 50.5h1M38.3 47.5h1M52.0 44.0h1M40.5 59.8h1M54.1 36.9h1M38.3 55.1h1M41.6 58.6h1M40.1 44.2h1M49.4 52.0h1M45.2 56.5h1M53.5 42.6h1M49.3 52.3h1M52.8 42.5h1M37.4 59.9h1M41.9 58.8h1M48.1 33.5h1M53.0 37.1h1M38.3 51.0h1M37.9 50.3h1M36.8 59.3h1M52.8 42.6h1M37.8 55.7h1M51.1 49.0h1M44.2 57.4h1M38.0 58.0h1M37.9 47.5h1M38.3 50.1h1M38.2 53.6h1M37.8 51.0h1M37.6 50.4h1M52.6 37.8h1M38.0 47.4h1M53.0 42.8h1M53.4 42.6h1M36.5 59.5h1M41.9 58.8h1M37.2 59.4h1" stroke="rgb(45,105,168)" stroke-opacity="1.00" stroke-width="1" fill="none"/><path d="M46.1 35.9h1M48.7 33.6h1M38.3 52.2h1M45.3 37.4h1M38.3 52.1h1M53.4 39.2h1M51.9 33.3h1M51.2 34.3h1M50.0 33.8h1M41.3 58.5h1M40.0 59.2h1M49.7 33.9h1M50.4 33.5h1M39.8 59.5h1M50.1 50.3h1M50.5 34.0h1M51.6 33.2h1M42.5 57.7h1M53.1 39.4h1M47.6 53.3h1M52.9 38.4h1M37.1 56.5h1M37.5 52.1h1M46.4 35.2h1M48.2 53.5h1M51.0 33.5h1M37.8 57.1h1M51.5 45.0h1M50.6 34.7h1M36.8 56.3h1M51.3 33.0h1M48.6 33.3h1M40.1 59.9h1M51.6 33.4h1M40.2 59.6h1M50.3 50.4h1M45.9 35.2h1M48.5 34.7h1M49.7 50.8h1M50.2 33.9h1M51.9 44.3h1M52.4 44.7h1M51.0 33.6h1M45.2 37.7h1M38.4 48.4h1M50.1 33.8h1M51.5 33.9h1M40.1 59.1h1M51.1 34.2h1M40.2 59.5h1M41.2 58.2h1M41.4 58.1h1M48.2 53.3h1M40.1 59.4h1M42.7 57.8h1M37.6 57.8h1M43.1 57.7h1M48.0 35.0h1M52.9 38.1h1M37.1 56.9h1M40.6 58.4h1M50.3 50.7h1M51.7 33.3h1M50.3 50.8h1M38.4 57.4h1M37.5 56.3h1M39.6 59.9h1M37.1 56.0h1" stroke="rgb(45,114,165)" stroke-opacity="1.00" stroke-width="1" fill="none"/><path d="M49.3 34.2h1M50.6 45.8h1M53.3 36.3h1M50.9 48.4h1M43.5 40.0h1M46.3 54.8h1M53.4 36.2h1M51.0 45.0h1M40.9 58.0h1M51.6 34.2h1M52.4 34.8h1M51.1 45.8h1M50.2 34.5h1M44.8 38.6h1M50.6 45.2h1M40.5 45.2h1M45.7 54.0h1M49.4 34.3h1M45.3 38.5h1M49.4 34.8h1M38.8 58.8h1M45.0 38.2h1M38.8 58.4h1M38.7 46.1h1M50.9 45.6h1M52.2 41.8h1M39.4 59.9h1M45.5 38.1h1M48.8 34.1h1M39.3 58.1h1M51.5 34.6h1M38.5 58.6h1M50.7 48.6h1M38.7 46.9h1M44.2 56.3h1M46.0 54.7h1M42.0 40.6h1M39.1 58.4h1M45.1 39.0h1M45.7 36.7h1M40.3 45.5h1M41.0 57.5h1M51.3 45.5h1M50.7 48.4h1M51.7 41.2h1M49.5 34.9h1M40.6 43.7h1M45.0 38.2h1M40.7 57.8h1M41.9 41.0h1M45.5 36.5h1M52.3 34.8h1M45.0 38.9h1M39.2 59.6h1M51.5 41.0h1M50.6 45.2h1M45.2 38.5h1M48.6 34.3h1M45.9 36.5h1M39.7 45.4h1M41.0 57.8h1M48.6 34.0h1M50.9 45.9h1M40.4 58.7h1M51.5 45.1h1M39.5 45.1h1M50.8 48.1h1M39.5 59.7h1M39.0 58.3h1M51.3 45.7h1M43.4 39.4h1M40.4 45.4h1M40.0 58.5h1M51.8 41.2h1M37.8 57.0h1M51.8 34.6h1M45.9 54.4h1M40.4 45.9h1M46.0 36.0h1M41.0 43.8h1M53.3 36.2h1M44.7 38.3h1M41.3 43.3h1M41.6 40.2h1M51.1 48.6h1M51.7 41.1h1M51.5 45.1h1M49.6 34.0h1M42.9 39.8h1M49.5 34.4h1M46.3 54.8h1M51.1 46.0h1" stroke="rgb(45,123,163)" stroke-opacity="1.00" stroke-width="1" fill="none"/><path d="M46.8 35.4h1M49.5 35.5h1M51.1 47.0h1M47.4 35.9h1M41.6 41.4h1M48.6 35.1h1M43.7 39.3h1M38.9 48.6h1M48.0 35.1h1M47.0 35.8h1M38.6 57.7h1M41.7 57.9h1M47.3 35.5h1M38.7 52.8h1M39.3 54.4h1M47.6 52.1h1M38.7 55.5h1M38.9 51.8h1M44.8 55.0h1M39.2 50.2h1M39.8 57.2h1M38.9 49.9h1M38.7 47.6h1M50.5 47.4h1M39.5 55.2h1M47.2 35.4h1M39.0 58.0h1M41.6 41.7h1M38.9 55.7h1M38.9 50.8h1M50.5 49.5h1M50.5 47.4h1M51.4 35.2h1M52.3 40.3h1M39.1 47.7h1M40.2 57.3h1M50.3 49.5h1M48.4 35.8h1M39.4 55.8h1M46.5 37.1h1M39.3 54.5h1M39.0 51.4h1M51.5 35.1h1M39.7 56.0h1M48.2 52.2h1M45.9 37.9h1M39.5 49.2h1M45.1 55.6h1M42.5 41.6h1M47.5 35.2h1M46.4 37.8h1M44.8 55.1h1M51.8 40.6h1M48.2 35.1h1M39.9 57.1h1M49.5 35.9h1M44.9 55.6h1M45.4 55.4h1M40.2 57.4h1M50.7 35.0h1M39.1 47.8h1M49.9 35.6h1M44.6 55.1h1M49.6 49.0h1M38.8 53.8h1M49.9 49.3h1M52.4 42.1h1M38.6 49.3h1M48.9 35.7h1M47.2 53.5h1M50.3 49.6h1M49.3 35.7h1M40.5 57.6h1M48.8 35.7h1M44.9 55.2h1M49.7 49.7h1M39.1 49.2h1M38.9 54.2h1M39.6 57.6h1M42.2 57.6h1M38.8 57.3h1M47.2 35.9h1M51.0 47.9h1M43.6 39.8h1M49.5 49.8h1M38.7 55.1h1M39.2 57.8h1M39.1 49.7h1M48.0 52.0h1M38.9 54.5h1M39.1 53.3h1M44.7 55.9h1M38.8 47.3h1M47.8 35.7h1M48.1 36.0h1M51.3 48.0h1M51.1 35.3h1M39.0 56.0h1M48.8 35.6h1M38.6 55.5h1M45.9 37.9h1M38.9 53.4h1M42.1 57.1h1M49.4 35.1h1M46.9 53.9h1M45.8 37.9h1M50.4 35.9h1M47.9 52.9h1M51.7 42.8h1M51.1 47.9h1M38.5 55.8h1M50.1 35.8h1M38.9 48.5h1M47.9 35.7h1M50.6 35.7h1M41.7 41.8h1M39.2 52.8h1M43.7 40.0h1M50.7 35.7h1M42.4 57.0h1M39.0 50.7h1M47.9 35.5h1M52.3 35.5h1M51.9 40.9h1M39.0 49.3h1M39.3 57.4h1M39.1 51.9h1M40.2 55.5h1" stroke="rgb(45,132,160)" stroke-opacity="1.00" stroke-width="1" fill="none"/><path d="M49.2 50.4h1M39.3 56.6h1M52.2 37.6h1M44.3 56.0h1M52.2 38.0h1M51.4 44.7h1M51.2 44.7h1M47.9 51.1h1M51.0 43.6h1M48.6 50.5h1M52.0 39.4h1M47.6 51.6h1M40.7 55.1h1M52.3 39.1h1M50.9 41.9h1M41.0 55.1h1M41.1 44.3h1M42.5 56.9h1M50.8 41.6h1M41.1 56.3h1M52.4 39.0h1M41.1 55.2h1M39.7 54.6h1M42.2 42.2h1M40.0 54.2h1M40.6 56.3h1M39.8 54.6h1M48.9 50.7h1M52.0 38.2h1M51.8 39.6h1M39.0 56.3h1M51.7 37.0h1M41.1 56.4h1M40.3 54.0h1M51.7 37.9h1M42.6 56.6h1M47.6 51.4h1M44.4 55.8h1M40.1 54.0h1M43.6 55.3h1M41.0 55.7h1M51.0 41.8h1M51.0 41.1h1M39.3 56.9h1M47.0 36.3h1M48.8 50.4h1M42.8 56.5h1M40.0 54.1h1M42.3 42.3h1M52.4 39.8h1M48.6 50.4h1M41.0 44.3h1M49.1 50.7h1M51.9 37.7h1M50.7 41.5h1M46.9 36.8h1M50.6 44.4h1M44.2 55.8h1M42.2 42.2h1M43.3 56.8h1M48.1 51.8h1M41.4 44.6h1M51.4 41.0h1M38.9 56.7h1M43.4 40.4h1M51.6 38.3h1M39.0 56.6h1M50.7 43.6h1M48.4 51.7h1M49.4 50.0h1M48.4 51.4h1M50.9 43.2h1M48.9 50.1h1M48.7 51.0h1M51.3 43.8h1M38.7 56.3h1M41.8 42.6h1M40.2 56.2h1M51.8 37.4h1M44.2 55.5h1M41.7 42.7h1M42.8 56.3h1" stroke="rgb(50,139,151)" stroke-opacity="1.00" stroke-width="1" fill="none"/><path d="M39.9 46.1h1M46.9 51.9h1M41.2 54.6h1M49.6 37.6h1M47.8 36.3h1M39.9 53.3h1M42.0 56.4h1M49.5 36.3h1M51.1 37.1h1M45.0 39.6h1M51.4 39.8h1M51.9 36.2h1M51.4 36.4h1M39.5 46.4h1M42.0 56.6h1M51.3 40.8h1M49.6 36.3h1M39.5 52.2h1M47.1 53.0h1M50.8 40.6h1M45.2 54.1h1M49.7 36.5h1M47.2 52.3h1M51.2 40.2h1M42.4 56.3h1M44.7 39.2h1M47.1 52.9h1M45.9 53.2h1M42.9 55.4h1M47.2 51.8h1M51.4 37.6h1M39.7 53.0h1M50.6 39.4h1M48.8 49.1h1M41.5 57.0h1M39.8 46.7h1M51.1 40.7h1M51.2 36.6h1M50.5 39.9h1M49.8 37.6h1M48.7 36.3h1M45.9 39.0h1M44.8 54.9h1M42.2 56.8h1M48.9 49.0h1M40.2 46.3h1M43.7 54.7h1M48.8 49.8h1M44.8 54.6h1M39.9 53.5h1M49.2 49.6h1M48.8 36.5h1M49.5 49.1h1M50.7 39.1h1M45.5 53.9h1M43.2 55.1h1M46.6 51.8h1M51.1 38.6h1M42.0 56.3h1M50.4 48.2h1M41.4 45.5h1M50.6 36.7h1M43.6 54.4h1M42.8 55.3h1M51.4 39.9h1M39.8 53.4h1M50.6 39.8h1M50.8 40.8h1M49.7 36.1h1M50.9 36.9h1M46.4 38.3h1M50.8 40.8h1M47.9 36.6h1M43.4 55.2h1M51.9 36.7h1M50.5 36.9h1M49.0 49.5h1M44.9 54.4h1M42.3 56.9h1M45.3 54.1h1M49.3 49.0h1M47.7 36.9h1M43.2 55.8h1M44.1 54.5h1M50.6 37.6h1M51.2 40.4h1M50.1 37.1h1M40.3 46.3h1M44.9 54.1h1M48.5 36.7h1M40.0 54.0h1M42.1 56.3h1M42.1 56.5h1M43.6 54.4h1M45.8 38.5h1M50.5 48.3h1M41.1 54.7h1M51.1 36.8h1M52.4 36.5h1M45.3 39.5h1M50.7 39.2h1M46.2 53.2h1M50.1 37.5h1M41.3 45.8h1M44.1 54.1h1M45.6 53.1h1M43.4 55.5h1M49.5 49.1h1M39.8 46.6h1M50.2 37.9h1M40.3 53.0h1M45.4 39.5h1M45.3 54.1h1M51.9 36.8h1M47.3 51.9h1M47.2 52.4h1M50.4 48.8h1M52.2 36.3h1M52.4 36.4h1M40.9 45.9h1M41.9 56.0h1M47.3 52.1h1M41.6 57.0h1M41.6 57.0h1" stroke="rgb(57,145,138)" stroke-opacity="1.00" stroke-width="1" fill="none"/><path d="M40.2 51.7h1M41.7 43.3h1M40.9 51.4h1M42.1 55.6h1M39.9 51.3h1M46.2 39.5h1M48.6 37.9h1M42.6 54.8h1M50.3 46.2h1M41.4 51.6h1M43.7 40.0h1M43.7 40.7h1M41.2 51.6h1M50.2 39.3h1M49.9 38.9h1M40.9 53.6h1M41.7 43.5h1M40.6 51.1h1M49.4 37.9h1M41.0 53.5h1M50.4 41.9h1M50.4 41.6h1M50.3 39.6h1M49.6 39.3h1M49.9 39.1h1M51.1 43.0h1M41.0 51.6h1M48.7 37.7h1M43.9 40.6h1M43.3 54.3h1M41.8 55.8h1M41.9 43.6h1M41.7 55.7h1M41.6 43.6h1M40.5 51.7h1M50.0 41.5h1M45.7 39.0h1M49.8 40.7h1M48.6 37.9h1M40.8 52.5h1M46.5 37.2h1M50.2 40.5h1M40.7 53.2h1M43.1 41.9h1M46.9 37.8h1M45.8 39.4h1M50.2 39.3h1M49.0 37.6h1M42.8 54.5h1M47.2 37.5h1M45.9 39.2h1M42.1 55.7h1M45.8 39.3h1M49.7 39.9h1M49.9 41.5h1M49.8 39.8h1M42.8 54.4h1M49.7 40.2h1M51.5 42.5h1M41.3 53.9h1M49.9 39.2h1M42.2 55.3h1M50.0 38.5h1M49.0 37.5h1M41.8 43.4h1M42.5 41.9h1M50.4 38.5h1M41.4 53.9h1M40.5 51.7h1M43.3 55.0h1M50.4 41.5h1M41.8 43.6h1M41.3 51.1h1M49.8 40.0h1M49.7 46.6h1M50.3 39.9h1M50.7 42.3h1M41.1 52.6h1M43.0 41.7h1M41.3 51.6h1M42.3 43.7h1M50.4 40.4h1M41.9 43.5h1M41.4 52.7h1M40.3 51.2h1M39.5 51.8h1M41.4 53.0h1M49.8 41.5h1M49.7 39.8h1M43.3 54.7h1" stroke="rgb(64,151,126)" stroke-opacity="1.00" stroke-width="1" fill="none"/><path d="M43.5 42.0h1M42.3 53.6h1M42.4 54.6h1M42.4 54.1h1M42.4 53.4h1M49.8 45.9h1M50.1 45.3h1M49.7 45.9h1M40.9 49.8h1M50.2 47.0h1M48.5 50.1h1M39.8 49.1h1M47.6 50.2h1M46.2 52.7h1M40.5 49.1h1M50.5 47.8h1M40.1 48.6h1M48.8 38.1h1M49.4 38.7h1M43.3 53.2h1M47.8 50.4h1M49.6 43.8h1M40.4 48.6h1M41.0 49.4h1M39.8 48.6h1M48.3 50.3h1M42.7 42.3h1M40.5 49.6h1M48.8 38.7h1M49.3 38.3h1M49.2 38.5h1M40.5 47.3h1M47.6 37.2h1M49.7 45.6h1M46.4 51.6h1M42.5 53.3h1M47.2 38.3h1M41.4 46.9h1M40.5 49.9h1M49.4 38.7h1M46.7 38.5h1M48.2 50.2h1M49.6 45.4h1M49.2 40.6h1M44.8 53.1h1M44.9 53.0h1M41.9 53.0h1M48.0 37.2h1M46.7 38.3h1M41.3 47.6h1M47.9 37.5h1M44.9 53.3h1M49.5 47.7h1M50.1 47.5h1M41.6 53.3h1M48.7 40.5h1M41.5 46.9h1M48.8 38.9h1M39.5 47.3h1M43.4 53.4h1M39.7 48.4h1M43.3 43.0h1M50.2 45.1h1M49.0 40.5h1M48.0 50.5h1M50.2 45.9h1M45.8 52.2h1M42.1 54.5h1M45.7 51.1h1M40.6 46.3h1M39.5 47.2h1M48.4 50.7h1M48.0 50.3h1M43.0 42.2h1M49.1 40.2h1M46.0 51.8h1M48.6 38.4h1M41.4 47.6h1M39.9 49.9h1M48.6 40.2h1M41.3 46.8h1M49.8 47.2h1M49.8 43.2h1M40.8 47.4h1M44.5 53.7h1M45.7 52.0h1M49.3 38.5h1M44.8 53.6h1M47.7 37.2h1M40.1 49.9h1M40.3 47.2h1M40.1 48.1h1M39.6 49.0h1" stroke="rgb(71,158,113)" stroke-opacity="1.00" stroke-width="1" fill="none"/><path d="M41.0 48.9h1M42.3 44.2h1M49.3 39.7h1M44.6 52.0h1M44.4 53.1h1M42.0 44.8h1M41.7 44.9h1M49.9 42.1h1M41.8 52.8h1M41.7 52.1h1M49.2 45.6h1M46.3 40.8h1M42.4 52.7h1M49.4 41.4h1M44.9 40.7h1M49.3 39.4h1M44.0 53.4h1M46.3 40.2h1M41.8 44.8h1M49.4 47.0h1M44.9 40.9h1M48.6 46.7h1M48.4 38.4h1M43.9 41.9h1M45.3 52.7h1M49.8 42.4h1M45.8 40.1h1M44.4 41.6h1M49.3 45.5h1M49.4 41.6h1M49.7 43.0h1M46.3 40.5h1M44.1 53.1h1M41.0 50.8h1M43.5 53.8h1M44.9 52.3h1M49.4 39.4h1M48.8 45.4h1M46.7 50.2h1M45.2 52.5h1M43.8 41.4h1M41.6 52.8h1M48.6 46.2h1M48.1 39.1h1M47.3 50.1h1M41.3 50.9h1M41.5 48.2h1M50.4 42.4h1M42.2 44.7h1M47.6 38.5h1M44.2 41.6h1M40.7 50.8h1M49.0 39.2h1M50.3 44.2h1M46.9 50.4h1M49.8 42.7h1M47.5 38.8h1M45.0 40.1h1M40.9 50.4h1M43.8 53.1h1M44.4 41.5h1M44.4 41.7h1M42.2 44.5h1M40.6 48.4h1M40.6 48.7h1M47.8 38.8h1M44.9 52.1h1M40.5 48.0h1M46.8 50.4h1M44.9 52.6h1M43.8 41.2h1M41.2 48.9h1M44.7 40.2h1M48.7 46.6h1M42.4 53.0h1M45.2 52.2h1M48.6 39.9h1M44.4 53.4h1M48.5 48.9h1M41.8 52.3h1M45.3 52.4h1M48.8 41.0h1M47.9 39.8h1M48.5 38.0h1M44.5 40.2h1M49.4 48.9h1M42.1 44.4h1M47.6 39.6h1M47.1 50.1h1M43.8 41.2h1M40.9 50.4h1M41.6 52.5h1M40.8 50.4h1M44.4 41.2h1M47.7 39.8h1M40.5 50.2h1M45.5 52.0h1M46.2 40.3h1M44.4 53.9h1M49.9 42.8h1M48.7 46.6h1M42.3 52.0h1M48.5 46.5h1M41.5 52.9h1M48.5 41.9h1M49.4 41.7h1M49.9 44.0h1M41.8 44.0h1M49.8 44.4h1M48.8 45.7h1M41.3 50.6h1M49.1 46.3h1M44.4 53.5h1M41.5 50.6h1M47.9 39.9h1M48.9 45.1h1M49.8 42.5h1M50.4 42.2h1M44.9 53.0h1M49.5 48.8h1M48.2 39.6h1M41.1 50.9h1M48.9 41.3h1M49.1 46.7h1M46.0 40.6h1M47.4 50.2h1M40.6 50.5h1" stroke="rgb(79,164,101)" stroke-opacity="1.00" stroke-width="1" fill="none"/><path d="M43.2 43.4h1M42.8 43.4h1M42.1 45.9h1M41.5 48.3h1M41.7 45.2h1M44.7 51.6h1M43.9 42.0h1M42.1 48.9h1M41.9 47.7h1M42.1 48.8h1M47.9 49.0h1M43.2 52.9h1M41.6 51.1h1M48.0 50.0h1M48.4 40.9h1M47.1 39.1h1M41.6 51.6h1M43.3 51.2h1M44.3 52.4h1M44.1 52.0h1M44.1 42.8h1M48.1 40.4h1M47.0 39.4h1M41.9 50.8h1M42.1 48.8h1M42.1 48.7h1M43.9 51.7h1M43.3 44.0h1M43.2 51.6h1M41.9 45.6h1M44.1 42.5h1M48.4 49.6h1M42.2 47.9h1M42.1 50.5h1M46.5 39.3h1M42.8 51.5h1M43.9 42.5h1M42.4 48.4h1M42.0 50.5h1M42.4 51.9h1M43.1 52.1h1M43.2 43.5h1M44.3 42.1h1M42.2 50.2h1M42.5 52.6h1M43.9 42.9h1M41.7 48.8h1M42.7 51.2h1M42.0 47.0h1M42.8 43.2h1M43.0 52.2h1M44.1 51.6h1M42.7 52.6h1M41.9 45.2h1M47.9 49.5h1M43.1 52.1h1M43.6 42.5h1M49.3 43.4h1M42.1 48.7h1M41.8 47.9h1M47.8 40.8h1M47.5 39.1h1M42.8 43.4h1M48.5 40.6h1M48.5 40.3h1M47.6 49.8h1M42.5 45.2h1M41.9 45.6h1M44.4 42.8h1M41.8 47.0h1M42.4 48.3h1M44.1 52.7h1M43.5 43.1h1M44.2 42.0h1M43.7 51.4h1M44.2 42.3h1M41.5 51.7h1M42.5 48.1h1M42.9 51.7h1M49.1 43.1h1M42.2 48.0h1M44.4 51.6h1M43.2 51.5h1M48.6 43.1h1" stroke="rgb(97,168,91)" stroke-opacity="1.00" stroke-width="1" fill="none"/><path d="M45.3 41.5h1M42.8 49.9h1M45.5 50.4h1M45.7 41.7h1M45.6 41.5h1M43.6 44.0h1M46.4 41.3h1M42.5 50.0h1M42.3 49.2h1M45.5 41.5h1M44.3 43.1h1M46.5 49.6h1M46.6 40.2h1M48.5 47.2h1M45.3 41.1h1M47.2 40.4h1M43.4 49.0h1M49.0 44.8h1M42.3 49.5h1M44.7 41.4h1M42.0 49.9h1M45.6 41.0h1M43.3 50.7h1M48.1 41.4h1M46.7 49.2h1M46.3 51.0h1M41.7 49.9h1M44.0 44.0h1M42.8 50.6h1M45.3 41.0h1M41.6 49.7h1M43.9 43.9h1M46.4 50.8h1M44.6 41.6h1M41.9 46.3h1M42.6 50.9h1M42.9 49.9h1M48.2 41.2h1M48.6 47.4h1M43.5 50.3h1M47.1 49.3h1M42.5 49.6h1M42.4 46.8h1M48.7 47.8h1M47.0 40.2h1M48.1 41.6h1M47.5 40.2h1M42.8 50.1h1M42.7 49.4h1M47.3 40.4h1M46.4 41.1h1M49.2 47.8h1M43.2 50.7h1M45.8 50.1h1M42.5 46.8h1M44.9 41.8h1M46.2 50.3h1M48.8 47.1h1M43.0 50.1h1M43.0 49.1h1M49.4 47.5h1M46.2 41.5h1M43.0 49.3h1M42.0 46.5h1M44.0 43.2h1M41.7 49.8h1M48.4 41.4h1M42.5 50.9h1M48.7 44.6h1M45.1 41.3h1M43.7 43.4h1M42.9 50.1h1M45.8 50.8h1M49.4 47.4h1M41.5 46.7h1M42.7 49.2h1M45.6 50.5h1" stroke="rgb(116,171,82)" stroke-opacity="1.00" stroke-width="1" fill="none"/><path d="M43.2 47.4h1M43.2 48.4h1M42.6 47.4h1M46.5 42.9h1M42.9 48.4h1M42.8 48.0h1M45.4 50.7h1M42.8 45.7h1M46.9 48.3h1M42.5 47.2h1M43.0 44.6h1M46.7 41.9h1M47.0 41.3h1M43.0 47.9h1M42.7 44.7h1M45.3 50.5h1M43.3 45.9h1M43.3 44.3h1M45.5 50.3h1M42.6 48.3h1M47.9 48.1h1M48.4 48.3h1M43.0 47.7h1M42.6 47.9h1M44.7 50.6h1M45.6 42.5h1M46.9 48.1h1M48.5 42.8h1M48.8 42.8h1M46.8 48.5h1M42.5 48.7h1M48.5 48.6h1M45.8 42.6h1M47.0 48.1h1M42.8 48.7h1M48.2 48.3h1M46.1 42.1h1M43.4 45.4h1M43.0 48.0h1M46.3 42.5h1M45.0 50.8h1M42.7 44.2h1M45.7 42.1h1M46.5 48.2h1M47.6 48.4h1M43.3 45.8h1M47.1 41.4h1M46.6 41.7h1M49.2 42.6h1M45.3 50.3h1M47.5 48.7h1M46.0 42.5h1M42.8 47.9h1" stroke="rgb(136,174,73)" stroke-opacity="1.00" stroke-width="1" fill="none"/><path d="M44.9 49.7h1M43.7 50.1h1M45.9 49.4h1M47.6 45.0h1M48.2 45.4h1M47.4 46.7h1M44.8 42.2h1M48.2 46.0h1M42.7 46.3h1M48.4 43.0h1M47.1 42.3h1M47.3 42.1h1M46.5 42.9h1M43.5 46.3h1M47.7 43.5h1M47.9 45.0h1M45.3 50.0h1M46.3 43.3h1M45.1 42.2h1M43.5 49.8h1M43.9 50.0h1M47.7 43.6h1M45.2 49.7h1M47.9 46.5h1M45.3 49.9h1M44.4 48.5h1M48.3 43.3h1M44.8 42.6h1M47.6 45.9h1M43.7 48.0h1M43.6 49.5h1M47.3 46.4h1M47.0 46.4h1M46.0 43.8h1M44.2 49.4h1M45.7 49.3h1M48.4 43.7h1M47.2 42.3h1M43.2 46.2h1M44.3 48.0h1M48.2 45.7h1M45.5 49.3h1M47.4 46.3h1M48.0 45.7h1M44.9 49.2h1M47.6 46.0h1M45.6 49.2h1M46.1 43.2h1M46.4 49.5h1M46.9 42.1h1M47.1 42.3h1M45.2 42.1h1M48.0 43.5h1M45.2 42.9h1M42.6 46.7h1M48.2 46.4h1M46.7 43.0h1M44.7 42.5h1M43.9 50.3h1M48.2 45.8h1M48.0 46.6h1M48.0 46.1h1M47.7 46.2h1M48.5 45.5h1M47.8 45.4h1M47.1 42.5h1M47.3 42.2h1M44.2 49.6h1M45.7 49.1h1" stroke="rgb(155,178,64)" stroke-opacity="1.00" stroke-width="1" fill="none"/><path d="M48.3 42.4h1M45.0 48.3h1M47.4 43.5h1M47.0 47.3h1M45.1 43.1h1M46.1 46.1h1M47.3 45.7h1M47.4 45.4h1M46.8 47.6h1M47.9 42.3h1M47.2 45.1h1M46.2 46.7h1M45.0 48.1h1M48.1 44.7h1M43.8 46.4h1M43.7 46.6h1M47.9 44.2h1M46.6 47.4h1M47.2 47.6h1M44.7 48.7h1M47.6 44.8h1M47.0 47.4h1M45.3 48.0h1M45.4 43.5h1M44.5 48.1h1M48.4 44.7h1M47.3 47.3h1M47.3 47.7h1M47.2 47.9h1M44.8 43.7h1M44.5 48.9h1M47.6 47.2h1M43.6 46.8h1M47.8 47.1h1M47.0 47.6h1M45.3 43.8h1M47.2 43.3h1M47.7 42.5h1M47.8 47.9h1M45.1 49.0h1M47.6 44.7h1M45.8 46.8h1M44.9 43.1h1M46.8 47.4h1M45.0 43.7h1M47.3 44.0h1M44.2 46.1h1M46.1 48.3h1M46.7 47.2h1M46.0 46.9h1M46.6 47.2h1M48.4 44.8h1M46.6 48.0h1M47.2 47.0h1M48.0 42.0h1M47.0 43.7h1M43.9 46.3h1M45.0 43.6h1M45.4 43.0h1M45.1 43.7h1M47.4 47.7h1M45.2 43.8h1M47.0 45.3h1" stroke="rgb(171,177,58)" stroke-opacity="1.00" stroke-width="1" fill="none"/><path d="M43.7 45.3h1M46.2 45.7h1M45.7 47.6h1M44.5 45.0h1M45.9 45.2h1M43.9 44.5h1M46.2 45.3h1M44.1 44.7h1M44.4 45.3h1M44.4 45.3h1M44.3 47.9h1M43.8 47.1h1M46.0 45.4h1M46.2 47.2h1M44.3 47.6h1M45.6 45.9h1M43.6 45.0h1M45.7 47.6h1M46.5 45.3h1M44.2 44.8h1M43.8 47.3h1M44.5 47.3h1M44.0 44.0h1M43.6 47.3h1M46.0 45.2h1M44.0 47.0h1M43.9 45.4h1M45.6 45.7h1M46.3 47.5h1M45.8 47.0h1M45.6 47.6h1M45.9 45.7h1M45.5 45.7h1M45.7 45.7h1" stroke="rgb(183,172,54)" stroke-opacity="1.00" stroke-width="1" fill="none"/><path d="M47.3 44.2h1M46.8 44.6h1M45.2 47.2h1M44.9 46.0h1M45.1 46.5h1M44.5 46.2h1M45.2 46.2h1M47.1 44.8h1M47.2 44.3h1M45.3 47.5h1M44.5 46.6h1M44.8 46.9h1M45.2 46.8h1M46.8 44.0h1M45.3 47.8h1M45.1 46.9h1M44.9 47.0h1M45.5 44.4h1M47.4 44.6h1M46.2 44.9h1M45.6 44.1h1M45.4 47.0h1M44.8 47.4h1M47.2 45.0h1M45.2 47.5h1M46.1 44.1h1M47.2 44.7h1M46.8 44.3h1M47.0 44.2h1M47.4 44.6h1M46.4 44.4h1M45.4 47.6h1M45.5 46.3h1M47.4 44.8h1M45.8 44.8h1M44.9 47.3h1" stroke="rgb(196,167,50)" stroke-opacity="1.00" stroke-width="1" fill="none"/><path d="M45.5 44.7h1M44.8 44.8h1M45.0 45.2h1M45.2 44.1h1M44.5 45.6h1M44.8 45.1h1M45.4 45.3h1M44.8 44.8h1M44.7 45.7h1M45.4 44.2h1M44.6 44.7h1" stroke="rgb(208,162,46)" stroke-opacity="1.00" stroke-width="1" fill="none"/></svg><svg class="sc" width="84" height="82" viewBox="0 0 84 82" style="position:absolute;left:310.5px;top:365.9px;filter:blur(0.3px)"><path d="M76.3 41.1h1M61.7 62.7h1M78.8 29.5h1M55.6 64.8h1M55.2 12.2h1M78.5 2.5h1M30.6 29.9h1M66.1 64.0h1M78.2 23.6h1M76.7 24.3h1M27.9 40.8h1M60.2 12.4h1M77.6 2.3h1M81.6 12.7h1M39.3 76.6h1M39.2 25.0h1M69.6 49.0h1M76.5 13.7h1M52.2 10.9h1M65.1 59.9h1M72.6 10.1h1M33.2 78.1h1M65.7 6.0h1M53.6 69.6h1M66.1 9.8h1M50.1 18.9h1M67.2 9.9h1M66.3 5.7h1M71.1 10.5h1M73.1 45.4h1M55.4 63.3h1M64.1 9.4h1M53.8 68.4h1M76.3 14.1h1M62.8 59.2h1M81.3 50.7h1M60.7 12.1h1M67.7 51.9h1M68.0 9.3h1M47.3 18.8h1M78.2 34.8h1M80.6 23.5h1M59.6 2.1h1M72.1 14.0h1M65.3 9.2h1M75.1 18.4h1M38.8 25.5h1M80.9 31.3h1M74.3 19.1h1M78.1 49.5h1M65.6 6.5h1M73.1 11.6h1M38.5 21.0h1M60.8 11.4h1M75.2 16.7h1M77.7 27.7h1M59.4 64.2h1M58.5 61.0h1M65.0 9.6h1M72.7 14.6h1M75.2 6.5h1M77.5 36.5h1M52.6 14.0h1M78.0 36.9h1M82.2 32.1h1M32.5 80.2h1M73.9 22.0h1M76.7 31.8h1M28.3 64.2h1M39.7 20.6h1M77.8 5.9h1M28.3 39.8h1M57.4 62.8h1M79.2 41.7h1M75.0 52.4h1M42.5 18.4h1M65.1 59.9h1M53.1 76.1h1M77.7 32.5h1M75.8 18.9h1M44.6 15.4h1M77.8 26.7h1M72.0 45.7h1M35.4 27.1h1M71.0 47.8h1M31.8 74.4h1M27.4 81.5h1M31.0 30.7h1M68.9 61.9h1M65.0 56.9h1M32.3 77.9h1M33.2 79.3h1M33.7 80.2h1M44.5 76.3h1M43.4 78.2h1M39.1 81.3h1M42.7 78.2h1M51.9 74.4h1M35.4 78.9h1" stroke="rgb(96,96,192)" stroke-opacity="0.63" stroke-width="1" fill="none"/><path d="M72.3 18.6h1M66.5 48.1h1M60.5 54.3h1M38.4 28.9h1M30.4 37.9h1M27.8 71.4h1M74.7 34.5h1M55.6 15.4h1M52.7 65.6h1M74.1 28.1h1M30.8 37.5h1M64.5 13.7h1M74.6 39.5h1M73.9 24.3h1M27.3 60.3h1M71.8 40.8h1M54.9 59.2h1M42.8 25.4h1M46.0 19.6h1M55.1 17.7h1M28.3 68.8h1M61.8 57.7h1M64.1 52.8h1M30.3 42.5h1M74.1 33.1h1M63.7 53.2h1M66.0 52.8h1M66.7 48.2h1M70.7 41.9h1M30.6 35.3h1M73.2 23.4h1M51.6 18.4h1M62.0 56.2h1M71.0 18.0h1M27.6 70.8h1M28.8 64.4h1M28.3 68.5h1M66.1 50.8h1M32.4 34.3h1M76.0 32.3h1M35.5 29.4h1M73.4 28.2h1M30.0 35.9h1M61.3 56.8h1M59.3 14.8h1M44.3 24.8h1M27.7 54.5h1M33.1 30.8h1M31.0 34.1h1M75.0 33.8h1M74.5 41.0h1M73.3 28.0h1M37.0 29.0h1M43.7 21.4h1M73.7 26.5h1M27.9 55.3h1M29.8 45.2h1M41.9 25.3h1M29.5 36.4h1M40.3 26.1h1M58.4 15.8h1M72.0 40.8h1M51.5 20.7h1M30.3 38.8h1M56.5 17.7h1M42.8 74.4h1M32.9 33.1h1M55.5 60.8h1M58.3 57.6h1M75.3 32.0h1M71.8 39.2h1M27.9 71.9h1M53.2 66.1h1M35.6 27.1h1M53.0 18.6h1M46.2 20.9h1M28.3 71.7h1M50.1 68.5h1M38.2 76.3h1M72.4 20.2h1M60.0 55.6h1M66.7 15.8h1M43.6 22.3h1M65.2 54.6h1M43.8 73.5h1M28.3 55.4h1M56.3 61.0h1M50.3 69.4h1M69.4 15.9h1M71.1 44.4h1M27.9 55.9h1M70.2 43.7h1M39.8 27.2h1M28.3 65.6h1M50.7 64.3h1M55.0 17.2h1M56.4 17.5h1M73.2 28.5h1M38.3 74.5h1M62.6 55.2h1M46.7 20.3h1M60.1 15.7h1M51.2 68.4h1M49.8 69.7h1M50.9 67.6h1M37.8 75.5h1M36.2 74.0h1M29.9 72.8h1M43.8 73.9h1M36.7 74.2h1M47.4 72.2h1M43.3 75.7h1M28.1 70.0h1M38.4 74.1h1M35.2 76.3h1M29.2 70.3h1M48.5 72.2h1M32.8 74.5h1M42.7 73.7h1" stroke="rgb(90,90,188)" stroke-opacity="0.66" stroke-width="1" fill="none"/><path d="M67.6 18.1h1M63.8 16.7h1M63.9 15.5h1M64.0 16.1h1M49.3 21.8h1M63.3 15.2h1M68.6 18.9h1M68.1 18.2h1M70.3 19.4h1M51.4 22.3h1M32.4 41.6h1M72.6 35.9h1M43.6 72.0h1M35.9 71.7h1M60.5 54.5h1M31.0 45.6h1M27.6 58.7h1M37.0 30.9h1M67.4 42.2h1M66.2 16.9h1M33.1 69.4h1M32.2 41.8h1M65.2 49.7h1M71.5 27.7h1M70.9 37.0h1M55.3 18.2h1M35.4 67.5h1M27.7 52.3h1M67.0 46.0h1M32.0 40.0h1M38.8 29.6h1M29.0 50.2h1M28.7 56.6h1M33.7 37.2h1M61.7 53.7h1M70.9 39.2h1M66.6 43.3h1M47.0 22.9h1M72.4 38.5h1M34.4 70.4h1M46.3 22.4h1M57.2 55.4h1M72.4 22.1h1M64.6 47.7h1M30.6 71.4h1M72.2 36.5h1M29.1 63.8h1M65.1 48.4h1M37.0 33.0h1M66.3 46.8h1M33.6 71.1h1M57.8 56.9h1M73.0 36.5h1M47.3 69.2h1M32.1 42.2h1M48.1 21.8h1M48.8 22.5h1M57.0 17.9h1M65.2 49.9h1M72.2 35.9h1M40.7 74.1h1M40.1 28.7h1M65.0 15.3h1M37.2 30.6h1M33.6 36.8h1M33.3 67.4h1M49.0 21.9h1M56.9 55.9h1M71.7 34.0h1M68.4 44.4h1M71.1 37.7h1M53.9 61.0h1M37.7 31.5h1M54.9 18.2h1M69.1 18.2h1M30.6 39.3h1M31.6 38.3h1M71.4 39.5h1M71.9 24.9h1M28.3 51.2h1M50.7 21.5h1M54.3 19.6h1M68.5 18.7h1M60.1 55.0h1M30.5 43.0h1M54.1 18.8h1M35.4 32.2h1M58.3 56.9h1M62.6 16.6h1M63.0 16.1h1M33.8 34.8h1M33.1 38.7h1M31.1 41.7h1M28.1 61.1h1M43.0 26.2h1M29.0 59.0h1M28.2 59.1h1M64.3 51.7h1M30.5 46.0h1M29.2 69.0h1M69.2 42.8h1M49.1 22.5h1M37.8 73.3h1M44.8 71.7h1M44.0 26.0h1M72.0 33.4h1M47.8 22.0h1M70.9 31.7h1M71.1 34.8h1M73.0 35.6h1M44.1 25.5h1M48.1 70.1h1M68.4 42.3h1M67.9 18.0h1M27.6 58.9h1M71.3 27.2h1M39.3 72.3h1M28.9 56.1h1M48.3 69.1h1M69.8 19.7h1M48.2 70.4h1M32.6 71.8h1M35.7 69.5h1M51.3 63.5h1M29.6 70.3h1M48.4 69.8h1M31.2 69.0h1M34.7 67.6h1M39.2 71.9h1M32.8 70.2h1M34.4 70.9h1M30.0 69.4h1M34.2 69.8h1M28.6 69.0h1M46.7 70.2h1M40.7 74.6h1M48.1 68.4h1M44.9 71.5h1M47.0 67.5h1M34.6 71.6h1M49.0 64.9h1M45.2 72.6h1" stroke="rgb(84,84,183)" stroke-opacity="0.68" stroke-width="1" fill="none"/><path d="M67.3 18.1h1M40.4 70.9h1M30.7 50.8h1M36.3 66.3h1M28.9 60.4h1M70.3 37.7h1M29.9 49.5h1M29.5 63.8h1M39.4 32.8h1M36.3 33.8h1M30.9 49.9h1M69.6 39.4h1M67.9 20.9h1M33.9 39.9h1M69.9 33.7h1M28.9 58.0h1M31.1 50.4h1M68.4 37.3h1M69.7 39.8h1M40.8 69.2h1M30.1 51.2h1M63.7 49.2h1M65.5 44.3h1M38.2 32.8h1M46.8 64.5h1M60.7 51.5h1M32.0 68.5h1M66.6 17.3h1M35.3 68.8h1M51.2 61.2h1M38.4 68.3h1M69.8 34.3h1M60.0 53.2h1M57.8 54.9h1M38.8 31.5h1M66.0 45.3h1M46.3 24.0h1M40.9 69.8h1M70.1 23.1h1M33.8 41.5h1M68.0 37.4h1M28.8 52.0h1M68.8 33.0h1M29.9 53.6h1M37.1 33.4h1M36.2 33.8h1M38.4 33.2h1M67.0 41.8h1M34.7 36.7h1M50.2 62.6h1M39.9 71.3h1M70.0 36.3h1M31.8 62.8h1M39.1 66.7h1M64.9 46.6h1M55.3 57.4h1M60.3 17.7h1M40.7 69.8h1M56.8 18.8h1M37.2 34.9h1M31.3 49.1h1M30.5 62.4h1M70.7 23.3h1M29.1 57.6h1M29.8 54.3h1M31.7 63.7h1M42.4 30.6h1M55.3 56.3h1M46.9 23.6h1M54.5 21.0h1M31.8 62.3h1M67.5 41.9h1M28.7 57.8h1M30.4 51.0h1M46.5 66.2h1M70.1 31.3h1M40.4 68.5h1M69.9 26.5h1M33.8 42.3h1M38.8 31.9h1M30.3 59.2h1M32.4 46.5h1M54.3 57.3h1M29.6 60.6h1M61.3 17.9h1M33.3 65.1h1M42.5 29.8h1M31.0 50.3h1M35.4 37.5h1M35.2 37.0h1M45.1 68.4h1M31.9 68.5h1M32.5 64.3h1M70.1 32.9h1M69.7 38.0h1M67.6 41.9h1M52.9 60.3h1M47.2 64.3h1M30.3 60.8h1M39.9 31.2h1M70.0 30.0h1M55.4 57.0h1M31.2 50.3h1M62.4 50.6h1M32.6 39.3h1M72.3 25.1h1M65.8 42.3h1M32.7 40.4h1M41.5 30.2h1M67.8 38.4h1M34.0 64.9h1M30.3 49.9h1M33.1 65.5h1M36.0 33.4h1M35.7 65.9h1M33.3 65.3h1M31.0 62.0h1M31.4 50.6h1M35.1 68.1h1M62.0 17.1h1M39.1 66.7h1M34.3 41.3h1M47.8 65.6h1M55.6 19.4h1M30.3 51.6h1M30.6 63.1h1M69.8 26.7h1M56.4 55.3h1M37.1 65.0h1M38.0 67.4h1M47.8 65.0h1M30.7 66.2h1M43.2 70.1h1M39.9 72.0h1M37.7 69.5h1M32.1 63.5h1M39.8 67.1h1M46.6 65.5h1M31.5 68.8h1M37.7 67.0h1M47.2 66.5h1M40.9 70.1h1M41.7 71.8h1M31.4 68.2h1M40.3 69.3h1M40.6 71.6h1M42.9 69.4h1M34.9 68.0h1M39.7 69.3h1M40.4 71.1h1M44.5 68.9h1M33.5 66.8h1M42.7 69.2h1M32.2 68.1h1M33.4 65.2h1M47.7 64.3h1M32.1 63.4h1" stroke="rgb(77,77,179)" stroke-opacity="0.70" stroke-width="1" fill="none"/><path d="M68.6 22.9h1M60.6 18.4h1M61.5 18.7h1M65.8 17.7h1M62.7 17.6h1M48.2 24.8h1M49.7 61.0h1M68.5 33.9h1M32.7 45.7h1M53.7 56.2h1M33.8 63.9h1M37.8 34.5h1M36.1 37.2h1M45.5 26.1h1M42.7 67.8h1M32.8 46.8h1M34.7 42.8h1M46.9 24.4h1M51.4 59.2h1M34.9 41.5h1M59.6 18.2h1M67.7 23.6h1M31.2 48.4h1M37.0 63.2h1M68.5 26.8h1M46.9 24.3h1M69.1 22.7h1M50.0 60.1h1M69.4 23.3h1M47.0 24.3h1M45.3 66.4h1M37.0 63.0h1M30.9 60.1h1M45.3 27.2h1M43.7 30.0h1M42.5 29.3h1M69.5 25.4h1M69.7 25.2h1M32.8 61.9h1M68.1 31.5h1M33.8 56.6h1M34.5 57.2h1M46.7 63.5h1M54.0 56.3h1M35.7 63.6h1M36.4 35.0h1M41.4 31.3h1M34.2 44.5h1M69.1 34.5h1M48.4 62.9h1M61.9 18.3h1M33.1 58.7h1M66.8 20.3h1M31.5 55.5h1M35.9 40.6h1M69.4 34.1h1M51.6 59.2h1M36.9 37.7h1M66.0 41.6h1M33.2 56.6h1M34.5 63.6h1M47.7 25.5h1M31.4 53.2h1M32.5 51.9h1M32.9 53.4h1M31.5 60.9h1M67.5 31.1h1M32.2 59.4h1M66.8 38.3h1M50.4 60.0h1M34.4 55.7h1M31.6 54.2h1M66.9 37.3h1M68.9 27.8h1M33.8 62.5h1M67.8 21.6h1M31.9 56.7h1M68.8 27.5h1M32.4 57.3h1M65.2 44.3h1M45.0 66.4h1M31.5 53.5h1M35.5 43.4h1M31.8 53.9h1M43.9 65.0h1M69.2 22.3h1M32.3 53.1h1M48.3 62.7h1M41.4 68.3h1M52.9 59.0h1M31.3 60.9h1M44.5 28.4h1M31.3 60.9h1M33.7 59.7h1M31.1 52.4h1M58.0 19.6h1M31.9 60.4h1M48.6 24.2h1M35.6 39.0h1M31.1 55.9h1M41.5 31.6h1M33.1 58.3h1M33.3 55.8h1M64.2 46.8h1M66.5 38.4h1M32.7 46.7h1M50.7 59.5h1M34.6 38.5h1M68.5 24.0h1M33.7 56.9h1M67.2 38.6h1M43.5 64.3h1M32.2 54.5h1M42.0 69.5h1M62.0 49.4h1M60.6 50.7h1M43.9 29.6h1M32.0 51.4h1M38.8 65.7h1M45.0 64.9h1M45.9 63.9h1M44.4 29.3h1M33.9 58.0h1M31.9 56.5h1M65.3 42.2h1M50.8 23.1h1M51.8 59.6h1M33.9 43.0h1M49.6 61.7h1M42.0 68.9h1M46.0 26.8h1M69.0 27.2h1M69.5 25.8h1M69.4 27.3h1M68.2 29.7h1M33.1 58.9h1M67.8 23.7h1M62.5 17.5h1M33.6 62.6h1M34.8 41.1h1M51.0 59.7h1M31.1 57.1h1M55.5 20.8h1M45.2 67.6h1M68.0 23.2h1M42.9 68.2h1M36.1 35.7h1M55.1 55.6h1M32.3 55.9h1M36.4 63.7h1M63.3 47.9h1M41.5 31.6h1M51.5 60.7h1M68.6 22.1h1M68.4 28.5h1M69.2 24.7h1M51.0 23.6h1M31.8 60.4h1M48.9 24.8h1M35.0 63.2h1M43.8 66.6h1M67.5 36.1h1M48.1 62.7h1M41.8 68.2h1M42.0 65.2h1M40.7 65.5h1M42.1 67.8h1M42.1 66.7h1M47.5 63.3h1M43.2 67.0h1M41.4 65.6h1M40.9 65.2h1M42.5 65.8h1M45.7 64.0h1M44.1 66.1h1" stroke="rgb(71,71,174)" stroke-opacity="0.73" stroke-width="1" fill="none"/><path d="M59.9 19.8h1M66.3 19.1h1M63.7 19.7h1M62.8 18.7h1M65.5 20.6h1M65.8 20.8h1M68.0 25.4h1M66.5 19.8h1M61.6 19.9h1M66.6 24.1h1M43.5 32.0h1M66.1 20.5h1M37.9 39.2h1M34.1 45.5h1M48.7 60.6h1M36.9 40.6h1M46.0 61.8h1M58.4 20.8h1M52.8 56.4h1M50.7 58.3h1M38.4 36.6h1M44.5 62.4h1M55.8 21.6h1M40.8 63.2h1M35.0 58.0h1M36.0 43.5h1M47.3 26.8h1M67.8 30.5h1M64.2 43.8h1M38.4 36.8h1M68.0 30.9h1M67.0 24.6h1M48.2 26.9h1M38.0 37.6h1M50.3 59.5h1M38.5 35.4h1M37.3 40.3h1M42.1 63.4h1M46.8 26.2h1M37.6 62.5h1M33.0 47.9h1M47.5 26.4h1M40.3 33.3h1M64.2 41.3h1M60.9 49.6h1M67.5 33.0h1M36.0 58.6h1M63.7 44.3h1M42.8 31.1h1M66.9 35.7h1M36.1 61.3h1M36.2 60.4h1M43.6 30.8h1M45.4 62.0h1M52.3 58.0h1M38.9 64.5h1M48.6 59.5h1M64.5 40.3h1M47.4 61.9h1M37.8 38.4h1M38.4 38.5h1M34.7 61.1h1M35.0 61.8h1M43.9 30.4h1M36.7 62.1h1M38.1 36.3h1M36.7 62.6h1M45.6 61.3h1M34.3 45.4h1M54.8 54.6h1M68.5 25.0h1M53.7 55.6h1M35.2 55.2h1M36.8 40.5h1M32.7 51.8h1M66.8 28.5h1M65.7 34.0h1M40.3 34.6h1M35.5 58.2h1M40.3 64.2h1M65.9 20.7h1M45.4 63.2h1M37.6 36.7h1M50.4 24.8h1M35.5 60.1h1M38.2 62.3h1M63.4 47.0h1M67.1 30.5h1M65.6 38.8h1M63.9 43.0h1M64.5 43.6h1M33.7 45.6h1M66.9 36.9h1M68.2 24.7h1M49.6 59.5h1M66.9 32.0h1M35.1 58.9h1M50.2 59.1h1M68.4 24.3h1M64.0 41.5h1M66.6 33.4h1M38.2 36.2h1M32.5 47.9h1M34.6 55.6h1M66.7 29.8h1M61.2 49.6h1M67.0 33.8h1M42.8 62.5h1M49.2 60.3h1M35.4 59.2h1M38.4 35.4h1M65.8 37.5h1M31.9 48.4h1M33.7 60.3h1M48.0 26.3h1M38.4 61.1h1M67.1 33.7h1M64.0 44.5h1M64.4 42.5h1M41.1 32.1h1M31.8 48.5h1M64.6 41.2h1M36.9 61.3h1M66.9 28.4h1M32.6 49.6h1M66.7 33.2h1M32.6 49.9h1M43.5 64.0h1M67.1 36.8h1M46.8 61.1h1M67.4 32.1h1M56.2 21.9h1M41.9 64.0h1M43.4 63.8h1M38.3 62.2h1M47.4 62.0h1M36.4 61.0h1M42.4 64.5h1M43.0 62.3h1M36.3 58.0h1M36.6 62.3h1M35.7 61.6h1" stroke="rgb(65,65,170)" stroke-opacity="0.75" stroke-width="1" fill="none"/><path d="M63.0 20.0h1M52.1 24.7h1M49.5 26.6h1M63.0 19.6h1M64.3 20.2h1M64.5 20.5h1M56.5 21.1h1M46.1 28.0h1M67.4 25.3h1M46.0 28.5h1M39.0 60.4h1M64.8 39.2h1M64.5 37.9h1M37.4 56.0h1M65.7 36.3h1M63.0 19.5h1M32.8 48.7h1M35.0 54.6h1M62.6 45.7h1M35.3 53.3h1M65.2 38.2h1M47.1 60.2h1M35.3 53.9h1M66.4 32.8h1M37.2 59.1h1M38.0 58.4h1M36.6 59.6h1M37.2 56.8h1M40.0 61.5h1M50.6 57.6h1M40.0 62.5h1M38.2 57.3h1M56.8 53.3h1M46.8 28.7h1M65.5 31.8h1M43.5 31.8h1M58.9 50.1h1M55.5 22.6h1M41.5 61.6h1M47.1 60.9h1M60.7 48.8h1M64.0 20.8h1M65.7 29.2h1M50.4 57.0h1M39.4 61.1h1M61.8 47.5h1M47.4 60.7h1M40.4 35.8h1M66.5 35.0h1M36.6 60.3h1M39.4 35.3h1M60.9 48.8h1M66.3 30.8h1M50.6 57.7h1M66.8 27.9h1M38.8 62.6h1M34.4 47.5h1M38.2 59.5h1M65.0 33.3h1M65.2 34.8h1M38.6 61.7h1M64.8 34.1h1M32.8 48.6h1M34.1 46.8h1M38.5 62.4h1M59.3 50.0h1M37.0 55.0h1M57.1 21.9h1M39.1 60.0h1M60.8 48.2h1M65.6 22.2h1M59.0 20.8h1M35.7 54.3h1M50.3 57.2h1M39.2 36.2h1M58.8 50.1h1M36.2 55.2h1M40.9 61.3h1M63.7 40.7h1M67.2 25.9h1M50.4 58.0h1M41.2 61.3h1M65.3 37.4h1M53.4 55.1h1M40.7 62.0h1M59.0 50.4h1M38.5 42.2h1M64.7 33.2h1M38.2 57.2h1M36.8 41.5h1M36.2 53.6h1M66.2 30.5h1M45.5 28.7h1M39.9 60.3h1M46.1 28.3h1M59.4 50.4h1M58.4 52.2h1M44.5 61.8h1M34.5 53.6h1M39.7 62.5h1M41.3 33.9h1M40.5 60.7h1M37.6 60.9h1M61.6 47.1h1M37.4 58.2h1M62.8 19.2h1M49.1 58.5h1M64.6 38.1h1M65.2 20.3h1M48.0 27.3h1M38.7 61.8h1M45.5 60.0h1M43.3 32.2h1M65.7 30.0h1M66.3 35.7h1M38.5 59.0h1M40.0 62.6h1M48.6 58.5h1M39.5 62.5h1M48.6 58.2h1M41.3 62.8h1M43.8 62.1h1M33.6 52.3h1M42.1 61.2h1M45.3 60.8h1M43.6 60.7h1M44.2 60.1h1M43.1 61.4h1" stroke="rgb(60,61,167)" stroke-opacity="0.77" stroke-width="1" fill="none"/><path d="M63.0 20.9h1M66.4 23.0h1M58.3 21.6h1M60.2 20.9h1M58.3 21.7h1M61.3 20.2h1M59.6 20.6h1M64.9 21.4h1M66.0 25.5h1M64.8 21.8h1M54.3 23.5h1M62.7 20.7h1M65.1 35.8h1M41.6 34.4h1M39.0 42.4h1M35.3 48.1h1M35.2 49.5h1M34.3 48.6h1M34.2 49.8h1M44.9 58.3h1M51.2 56.2h1M44.9 59.3h1M43.4 59.6h1M63.0 41.7h1M36.0 44.3h1M36.3 44.7h1M62.4 20.8h1M36.5 51.3h1M34.7 50.8h1M48.3 28.0h1M34.8 49.8h1M63.6 38.7h1M63.0 40.1h1M63.5 42.5h1M53.6 54.3h1M50.2 26.9h1M60.5 20.1h1M36.2 51.5h1M40.8 34.9h1M38.5 56.4h1M65.0 32.3h1M44.0 58.7h1M42.0 60.2h1M47.6 28.1h1M48.3 58.8h1M41.4 58.9h1M50.4 56.5h1M40.3 36.8h1M49.3 57.2h1M39.5 38.9h1M66.3 28.4h1M53.1 24.8h1M42.5 59.1h1M65.2 32.4h1M37.9 56.0h1M37.1 43.2h1M64.0 38.0h1M38.2 42.0h1M41.6 34.1h1M37.3 43.8h1M41.0 58.4h1M35.0 47.2h1M65.6 23.1h1M45.5 59.3h1M36.3 52.0h1M62.1 46.9h1M37.6 56.8h1M45.2 58.7h1M66.0 26.1h1M66.4 27.8h1M37.8 41.7h1M39.4 39.0h1M54.6 53.5h1M38.7 42.9h1M34.3 48.8h1M53.5 24.5h1M62.7 42.3h1M45.9 30.8h1M34.8 47.8h1M43.2 59.6h1M39.0 38.7h1M39.5 39.1h1M65.5 25.1h1M34.5 46.6h1M39.0 58.9h1M37.3 54.4h1M34.5 49.9h1M36.4 52.2h1M44.9 59.8h1M39.1 56.7h1M64.3 37.1h1M63.9 37.7h1M62.9 44.4h1M36.8 54.1h1M34.8 47.4h1M41.2 34.3h1M61.7 45.1h1M34.6 48.4h1M38.1 41.9h1M55.0 53.5h1M45.8 30.6h1M39.3 38.3h1M49.3 57.9h1M37.3 43.1h1M63.8 38.5h1M41.7 60.0h1M37.5 56.5h1M47.3 58.9h1M62.9 42.7h1M44.6 58.8h1M44.0 59.2h1M48.9 27.5h1M36.2 51.8h1M36.0 44.4h1M34.8 50.1h1M45.3 59.6h1M64.0 21.9h1M39.0 40.5h1M48.6 27.0h1M48.9 28.0h1M63.1 43.0h1M46.0 29.5h1M41.9 60.6h1M48.3 58.4h1M38.7 58.8h1" stroke="rgb(58,61,165)" stroke-opacity="0.80" stroke-width="1" fill="none"/><path d="M51.4 55.2h1M57.9 50.2h1M63.3 21.0h1M62.3 21.0h1M64.4 22.5h1M64.8 24.4h1M63.8 22.8h1M36.1 50.6h1M64.2 36.3h1M64.7 28.0h1M65.4 29.0h1M37.0 45.0h1M39.8 56.7h1M36.9 45.5h1M63.9 36.6h1M35.6 48.1h1M56.5 22.3h1M39.7 38.0h1M61.6 42.6h1M39.5 38.0h1M62.5 44.7h1M43.0 34.6h1M58.8 49.5h1M38.1 54.6h1M36.7 44.4h1M41.8 59.8h1M62.1 21.4h1M65.2 29.7h1M39.9 56.4h1M36.7 51.0h1M62.0 42.2h1M64.0 36.4h1M44.2 33.0h1M47.6 57.3h1M61.5 42.9h1M39.7 59.7h1M57.2 52.0h1M44.3 57.9h1M36.0 48.9h1M36.7 51.3h1M36.4 51.0h1M65.1 29.3h1M42.2 59.3h1M62.7 37.3h1M39.5 38.2h1M61.1 47.7h1M63.1 39.6h1M40.0 57.0h1M37.0 51.3h1M58.1 50.8h1M38.5 43.7h1M37.5 53.2h1M63.3 39.1h1M38.4 54.1h1M62.7 37.7h1M45.5 57.3h1M49.7 55.7h1M37.1 51.4h1M38.2 54.5h1M57.0 51.2h1M64.5 22.1h1M37.4 44.0h1M38.2 54.7h1M37.8 43.8h1M57.9 50.1h1M43.1 58.9h1M40.0 56.8h1M35.9 49.1h1M36.6 51.6h1M37.8 54.7h1M42.0 59.4h1M47.7 57.3h1M56.7 22.2h1M58.7 21.7h1M50.0 55.6h1M37.2 52.5h1M61.6 43.6h1M63.2 40.0h1M43.0 34.3h1M35.8 47.1h1M59.4 49.7h1M39.5 37.4h1M36.4 49.7h1M39.7 57.7h1M59.2 49.3h1M45.2 57.3h1M38.1 54.2h1M52.7 54.7h1M62.6 21.8h1M55.4 23.5h1M61.5 46.2h1M45.6 57.3h1M46.9 57.6h1M62.6 37.5h1M62.7 37.1h1M64.4 36.4h1M60.8 47.4h1M39.4 55.5h1M49.6 55.8h1M44.3 32.8h1M37.2 52.4h1M56.8 22.9h1M43.3 58.2h1M48.6 56.2h1M45.5 57.6h1M40.2 57.3h1M44.1 57.1h1M40.4 56.1h1M41.5 59.4h1M46.0 57.2h1" stroke="rgb(56,60,163)" stroke-opacity="0.82" stroke-width="1" fill="none"/><path d="M45.1 33.0h1M57.7 22.2h1M63.7 23.6h1M63.1 22.2h1M49.5 29.0h1M52.3 25.7h1M41.6 35.3h1M37.0 49.4h1M61.0 22.0h1M36.6 46.5h1M37.0 49.5h1M45.5 31.1h1M59.0 48.8h1M61.4 44.4h1M64.6 27.5h1M60.6 43.8h1M49.8 27.3h1M54.3 53.6h1M39.1 54.4h1M64.1 32.8h1M42.0 35.6h1M63.2 35.6h1M38.0 44.3h1M61.6 41.2h1M59.5 46.5h1M45.4 32.5h1M61.5 43.8h1M62.5 35.4h1M49.6 27.5h1M60.8 43.2h1M53.6 24.8h1M61.9 38.1h1M63.0 36.8h1M62.9 22.4h1M65.4 27.8h1M46.3 31.1h1M38.8 44.0h1M61.8 39.2h1M64.6 26.3h1M60.3 47.1h1M44.5 56.8h1M56.4 52.6h1M37.0 49.2h1M61.7 41.0h1M60.0 46.3h1M40.5 42.4h1M48.9 55.7h1M43.5 56.8h1M64.5 30.1h1M63.2 22.4h1M37.0 47.0h1M42.3 57.9h1M40.3 40.9h1M45.8 31.3h1M49.8 27.7h1M40.2 55.4h1M51.3 26.0h1M65.5 26.8h1M61.0 44.6h1M37.2 49.1h1M37.5 47.5h1M40.2 40.7h1M42.6 57.5h1M45.5 56.3h1M53.6 53.3h1M61.8 39.9h1M38.1 51.1h1M37.2 47.6h1M47.5 56.2h1M52.3 25.0h1M63.8 35.1h1M61.2 43.9h1M64.1 31.7h1M36.8 50.5h1M59.2 48.1h1M46.6 29.4h1M64.5 34.6h1M49.0 55.6h1M45.0 33.0h1M59.4 48.3h1M60.9 43.4h1M38.5 51.9h1M37.6 52.5h1M37.0 47.3h1M38.1 44.8h1M44.5 32.7h1M51.8 54.7h1M51.7 54.8h1M51.6 54.8h1M40.8 56.1h1M47.4 56.1h1M65.1 27.6h1M46.6 56.0h1M50.3 27.4h1M65.5 26.7h1M37.0 47.7h1M58.1 22.2h1" stroke="rgb(53,59,162)" stroke-opacity="0.85" stroke-width="1" fill="none"/><path d="M59.6 45.1h1M50.4 54.1h1M61.9 22.2h1M61.9 22.1h1M44.2 35.0h1M62.1 22.3h1M59.3 22.0h1M56.0 23.1h1M56.2 23.5h1M58.6 22.6h1M64.2 24.2h1M64.0 26.2h1M64.2 25.5h1M41.4 37.3h1M46.7 30.0h1M54.9 24.1h1M62.8 23.0h1M41.4 55.9h1M38.8 44.3h1M47.8 55.6h1M61.7 22.7h1M41.2 55.4h1M48.4 56.0h1M63.4 23.8h1M41.9 56.2h1M59.9 45.7h1M63.6 26.9h1M38.0 50.9h1M63.4 34.8h1M42.9 56.3h1M62.8 34.4h1M51.1 54.3h1M47.7 55.6h1M38.8 52.9h1M53.3 53.7h1M39.3 52.5h1M38.7 53.6h1M38.7 44.2h1M56.0 23.2h1M64.3 28.7h1M63.8 29.6h1M57.7 49.6h1M48.5 29.8h1M62.3 36.2h1M38.7 53.5h1M42.2 36.6h1M41.1 37.4h1M45.5 56.0h1M38.7 53.4h1M58.0 49.8h1M50.8 54.3h1M37.5 45.8h1M62.7 34.2h1M63.8 25.1h1M64.2 29.9h1M50.3 28.3h1M40.3 41.3h1M41.2 37.2h1M63.3 34.3h1M38.8 44.5h1M42.2 36.4h1M49.3 54.4h1M40.1 54.9h1M60.0 45.2h1M46.9 30.9h1M63.0 32.8h1M55.9 23.8h1M61.8 22.9h1M43.5 34.1h1M42.6 56.1h1M38.5 50.8h1M61.7 37.6h1M48.2 29.5h1M47.5 30.5h1M38.2 50.2h1M58.4 49.8h1M51.2 54.9h1M40.0 54.0h1M41.5 55.9h1M47.6 55.3h1M64.0 28.9h1M49.7 54.2h1M63.4 33.4h1M63.8 29.8h1M42.1 56.0h1M42.4 56.3h1M62.8 31.8h1M41.5 57.0h1M41.8 36.6h1M64.4 24.2h1M41.0 55.2h1M54.7 24.2h1M58.8 22.6h1M48.6 54.0h1M40.4 54.0h1M60.1 45.4h1M41.0 37.4h1M39.2 44.7h1M44.0 34.1h1M50.9 55.0h1M39.3 52.3h1M48.4 55.3h1M41.6 57.0h1" stroke="rgb(51,59,160)" stroke-opacity="0.87" stroke-width="1" fill="none"/><path d="M59.9 44.5h1M55.8 51.6h1M51.7 53.3h1M59.9 42.2h1M59.1 46.5h1M59.0 46.9h1M63.5 24.3h1M52.5 26.4h1M52.6 25.1h1M61.4 22.3h1M52.9 25.5h1M60.7 22.9h1M62.8 26.6h1M62.6 24.8h1M51.6 26.7h1M51.7 26.6h1M62.7 30.5h1M53.4 26.0h1M52.3 26.9h1M59.9 22.9h1M57.3 23.4h1M42.5 35.6h1M40.8 54.4h1M62.9 30.8h1M37.7 47.7h1M62.4 35.1h1M59.1 46.6h1M63.9 27.6h1M41.0 40.1h1M42.7 35.4h1M41.4 41.0h1M59.7 42.9h1M42.8 55.9h1M58.9 47.3h1M63.4 24.2h1M63.0 26.6h1M60.7 38.4h1M40.7 38.7h1M39.7 53.0h1M40.5 40.6h1M39.3 51.6h1M56.5 51.8h1M37.5 47.9h1M39.1 51.0h1M55.5 51.8h1M43.1 35.6h1M63.1 26.0h1M61.1 41.9h1M38.2 47.2h1M45.3 55.2h1M57.0 50.3h1M48.0 30.6h1M52.8 25.5h1M40.4 53.9h1M42.2 55.3h1M40.8 40.6h1M60.4 44.4h1M63.8 27.7h1M45.0 33.7h1M56.6 50.3h1M42.6 55.5h1M47.5 31.7h1M62.0 35.4h1M43.8 55.5h1M37.9 49.6h1M41.6 55.3h1M39.2 51.5h1M61.8 35.5h1M59.6 44.9h1M45.6 55.5h1M62.1 34.9h1M37.7 47.7h1M56.6 50.6h1M58.8 47.1h1M60.4 44.1h1M41.0 39.4h1M60.2 44.1h1M47.1 31.7h1M40.2 43.9h1M63.5 26.7h1M55.7 51.4h1M38.5 47.2h1M61.4 39.1h1M39.4 45.7h1M45.3 55.8h1M37.8 48.0h1M63.3 24.3h1M62.9 30.7h1M41.1 55.0h1M60.0 42.3h1M45.1 33.3h1M38.3 47.5h1M57.0 50.3h1M54.1 53.0h1M37.7 46.7h1M39.4 51.1h1M40.5 43.9h1M62.0 35.8h1M61.8 35.6h1M59.9 44.4h1M51.8 54.0h1M41.0 38.7h1M61.8 35.6h1M59.8 42.8h1M42.4 55.8h1" stroke="rgb(49,58,158)" stroke-opacity="0.89" stroke-width="1" fill="none"/><path d="M49.8 53.3h1M58.6 45.0h1M51.5 53.9h1M59.8 41.7h1M59.4 44.3h1M59.5 44.9h1M59.1 45.1h1M62.6 25.0h1M41.3 43.9h1M63.4 29.0h1M63.5 25.8h1M61.5 23.6h1M62.7 27.7h1M41.6 39.8h1M62.9 27.6h1M61.9 23.5h1M44.9 34.9h1M45.4 34.2h1M63.5 28.3h1M62.3 33.7h1M62.0 31.1h1M44.2 54.3h1M50.2 53.4h1M41.4 52.5h1M59.8 38.9h1M58.7 44.7h1M49.0 29.4h1M41.2 53.0h1M43.9 54.1h1M39.9 44.1h1M39.3 47.6h1M39.4 47.6h1M59.9 40.4h1M63.1 25.4h1M63.1 27.2h1M39.2 46.2h1M39.9 44.9h1M38.9 47.7h1M40.2 44.2h1M60.6 37.3h1M42.1 37.2h1M43.9 54.9h1M41.9 39.4h1M60.2 41.1h1M59.6 41.8h1M40.0 44.1h1M61.1 37.0h1M48.4 54.6h1M60.7 38.0h1M59.5 39.4h1M38.7 46.5h1M61.6 31.5h1M60.8 36.3h1M41.8 54.7h1M42.2 39.7h1M41.6 38.1h1M61.2 36.3h1M42.5 39.6h1M42.7 36.5h1M39.5 46.8h1M38.6 49.0h1M43.8 35.0h1M42.2 38.3h1M44.0 35.1h1M61.5 33.2h1M62.4 23.1h1M61.0 37.3h1M42.1 38.2h1M60.2 38.0h1M41.2 43.3h1M59.2 44.9h1M61.3 37.3h1M46.5 55.0h1M63.3 29.0h1M39.5 47.5h1M63.0 27.2h1M42.6 36.7h1M39.8 51.9h1M61.7 31.1h1M50.8 53.5h1M39.4 50.6h1M40.5 52.8h1M61.6 23.2h1M45.3 34.5h1M59.5 38.3h1M60.9 36.5h1M41.2 52.7h1M62.7 29.1h1M42.2 39.8h1M59.0 45.3h1M59.9 39.2h1M40.5 44.3h1M41.8 38.9h1M41.1 53.6h1M59.7 41.7h1M62.1 23.4h1M61.2 36.2h1M60.1 40.8h1M60.0 41.8h1M42.4 37.3h1M60.5 40.7h1M51.4 53.4h1M51.4 53.6h1M60.9 36.1h1M44.1 54.2h1" stroke="rgb(47,60,159)" stroke-opacity="0.92" stroke-width="1" fill="none"/><path d="M58.8 42.4h1M58.5 48.3h1M58.6 41.8h1M58.5 43.8h1M58.0 48.6h1M59.1 39.9h1M57.0 24.4h1M57.3 24.4h1M61.1 32.3h1M56.2 24.6h1M48.3 31.5h1M58.5 23.2h1M57.3 24.6h1M59.2 23.3h1M50.8 28.2h1M60.9 32.1h1M62.4 24.6h1M58.7 23.8h1M51.0 28.9h1M60.8 23.9h1M58.7 24.0h1M62.4 24.7h1M61.3 23.8h1M60.7 23.7h1M49.3 30.4h1M42.1 53.7h1M57.3 24.3h1M54.4 25.6h1M40.8 45.5h1M59.5 38.8h1M42.0 42.6h1M55.5 51.7h1M46.4 54.7h1M46.8 32.8h1M62.2 30.3h1M41.4 50.3h1M59.1 43.3h1M61.1 33.0h1M46.6 32.5h1M41.2 44.7h1M43.9 36.2h1M41.5 40.8h1M41.6 40.6h1M47.6 31.7h1M42.2 52.3h1M41.3 45.4h1M44.2 36.8h1M61.9 24.9h1M60.6 34.9h1M45.1 54.1h1M59.4 38.4h1M43.9 36.5h1M61.8 30.6h1M58.8 23.8h1M58.1 48.5h1M47.7 31.4h1M41.7 53.7h1M41.3 44.9h1M42.1 52.9h1M54.8 51.6h1M58.9 38.1h1M59.8 36.6h1M45.2 54.1h1M60.5 34.8h1M58.5 40.5h1M59.0 41.7h1M45.6 54.5h1M48.5 31.2h1M50.8 28.3h1M40.8 44.7h1M42.8 54.3h1M60.4 36.2h1M62.3 30.5h1M40.8 50.9h1M61.3 32.4h1M58.5 40.4h1M59.2 40.5h1M46.4 33.0h1M59.2 23.9h1M60.1 36.2h1M60.7 34.4h1M46.1 33.3h1M58.7 39.6h1M52.4 27.4h1M49.4 53.3h1M59.4 38.2h1M40.5 47.7h1M43.4 54.4h1M58.7 39.3h1M46.0 33.8h1M46.1 33.1h1M40.8 51.7h1M41.9 52.1h1M58.8 38.7h1M61.4 23.4h1M60.1 36.4h1M55.1 51.7h1M40.3 45.1h1M41.8 52.9h1M42.1 52.4h1M59.9 37.4h1M45.5 54.9h1M55.5 51.8h1M44.5 36.7h1M48.7 53.4h1M45.0 54.7h1M57.3 49.5h1M40.8 44.6h1M41.4 44.8h1M40.5 50.4h1M44.6 54.4h1" stroke="rgb(47,66,161)" stroke-opacity="0.94" stroke-width="1" fill="none"/><path d="M55.9 50.2h1M48.2 53.1h1M62.0 25.1h1M62.1 26.8h1M60.9 24.1h1M61.4 31.7h1M49.6 29.9h1M62.3 29.3h1M60.9 30.1h1M54.5 25.5h1M61.5 24.8h1M54.9 25.2h1M61.3 25.0h1M55.3 25.4h1M59.4 36.2h1M41.3 46.7h1M40.5 48.9h1M57.9 47.9h1M39.5 49.5h1M52.6 52.0h1M55.2 25.6h1M48.3 53.3h1M49.7 29.4h1M44.6 35.5h1M40.9 47.6h1M42.7 53.9h1M44.7 35.3h1M40.5 48.0h1M61.5 33.9h1M60.6 30.1h1M43.9 53.8h1M60.7 31.4h1M60.9 31.2h1M55.8 50.8h1M40.6 46.6h1M40.8 47.6h1M40.1 46.2h1M39.7 46.3h1M42.8 53.7h1M53.1 26.9h1M42.1 41.4h1M58.6 37.6h1M41.5 46.3h1M42.5 37.8h1M48.5 53.2h1M59.8 35.8h1M39.6 49.9h1M40.0 49.4h1M43.4 38.0h1M52.5 53.0h1M61.2 31.0h1M61.6 26.2h1M44.5 53.6h1M44.2 53.8h1M40.0 48.1h1M43.7 53.3h1M40.8 46.4h1M40.2 49.7h1M61.0 31.7h1M60.7 33.7h1M42.1 41.0h1M41.1 47.0h1M48.5 53.1h1M56.0 50.8h1M59.1 36.2h1M42.8 53.7h1M47.0 53.2h1M61.1 33.3h1M41.2 46.1h1M61.0 30.4h1M43.4 53.3h1M60.9 34.0h1M39.7 46.3h1M42.5 42.0h1M41.0 46.6h1M40.9 47.2h1M55.2 25.4h1M52.8 53.0h1M43.4 37.1h1M39.6 48.7h1M58.0 47.5h1M57.9 47.7h1M61.6 29.5h1M40.8 47.2h1M43.7 54.0h1M41.8 41.9h1M59.3 36.0h1M40.0 49.9h1M59.2 37.3h1M60.7 30.6h1M42.8 53.3h1M43.0 54.0h1M60.8 33.1h1M40.7 47.1h1M62.3 29.5h1M45.3 35.2h1M44.5 53.0h1M44.2 53.4h1M40.2 46.4h1M39.7 48.9h1M40.5 46.1h1M39.6 46.6h1M40.4 48.3h1M39.9 46.5h1M41.0 46.9h1M47.5 53.8h1M59.8 35.6h1" stroke="rgb(46,72,163)" stroke-opacity="0.96" stroke-width="1" fill="none"/><path d="M52.4 52.4h1M58.1 45.5h1M58.4 44.2h1M52.0 52.6h1M57.7 41.0h1M58.2 38.8h1M52.4 52.0h1M58.0 44.3h1M58.2 41.8h1M44.3 53.0h1M58.4 42.9h1M58.5 24.8h1M58.5 24.3h1M59.0 24.4h1M51.7 29.0h1M61.7 28.8h1M60.3 24.3h1M58.1 24.8h1M60.5 24.0h1M49.2 31.8h1M61.6 27.4h1M49.5 31.7h1M58.2 25.0h1M46.6 33.6h1M58.9 24.2h1M58.8 24.5h1M43.2 38.7h1M52.4 28.8h1M62.1 27.1h1M61.5 28.8h1M48.6 31.2h1M49.6 30.5h1M42.0 50.2h1M42.7 52.1h1M57.8 39.0h1M42.2 43.2h1M58.0 40.1h1M57.6 39.2h1M58.9 34.7h1M60.4 34.2h1M49.7 30.9h1M42.7 39.9h1M59.9 33.1h1M57.6 39.6h1M58.6 34.2h1M62.2 28.8h1M42.8 38.4h1M42.2 51.8h1M58.3 40.9h1M53.7 51.3h1M42.1 52.0h1M45.2 53.3h1M50.1 30.3h1M57.5 38.7h1M58.3 39.3h1M42.1 51.8h1M57.7 44.4h1M60.1 34.1h1M42.8 52.1h1M49.2 31.7h1M43.1 42.8h1M57.8 44.4h1M58.2 41.0h1M48.4 32.8h1M58.5 39.6h1M62.0 27.1h1M41.5 43.8h1M58.1 39.9h1M60.5 33.3h1M57.9 46.3h1M43.5 52.9h1M45.6 53.9h1M59.4 34.3h1M41.6 50.8h1M58.5 40.1h1M41.4 49.7h1M60.1 33.9h1M58.5 38.1h1M46.9 34.0h1M57.9 41.2h1M48.0 32.7h1M41.8 50.1h1M59.2 34.5h1M62.3 28.9h1M41.6 43.8h1M57.8 41.9h1M41.8 50.6h1M58.5 34.6h1M44.2 52.5h1M48.5 32.1h1M58.6 24.4h1M59.7 24.8h1M59.3 34.5h1M44.6 53.0h1M53.5 52.0h1M42.6 38.5h1M43.7 52.5h1M47.2 33.4h1M57.7 45.5h1M61.9 28.3h1M47.8 33.0h1M42.7 42.2h1M40.6 49.8h1M48.2 32.2h1M62.5 28.2h1M48.1 32.6h1" stroke="rgb(46,77,166)" stroke-opacity="0.99" stroke-width="1" fill="none"/><path d="M54.7 50.0h1M54.8 50.3h1M60.9 26.8h1M47.1 34.1h1M49.8 31.2h1M60.0 32.9h1M49.5 32.0h1M60.9 25.6h1M60.8 25.3h1M47.4 34.8h1M61.4 26.0h1M43.6 39.5h1M61.3 26.8h1M52.6 27.7h1M61.4 26.4h1M52.5 27.1h1M60.9 26.6h1M53.4 27.5h1M54.1 26.6h1M46.2 35.7h1M61.4 25.1h1M60.7 27.0h1M43.7 37.2h1M60.7 25.2h1M60.2 32.0h1M60.5 25.2h1M54.3 26.2h1M53.2 27.1h1M43.0 40.2h1M43.1 40.7h1M60.4 31.3h1M57.6 36.4h1M44.4 39.9h1M59.3 33.1h1M60.9 25.5h1M57.6 37.1h1M43.9 38.9h1M47.1 34.6h1M42.2 46.2h1M43.7 39.1h1M42.9 40.3h1M45.6 35.2h1M43.7 38.9h1M57.5 36.1h1M45.0 36.4h1M46.3 35.2h1M58.0 36.2h1M56.5 48.9h1M44.4 37.4h1M56.6 25.5h1M58.1 36.5h1M43.2 40.3h1M53.9 26.5h1M44.1 38.2h1M57.5 25.5h1M41.8 48.1h1M59.7 32.5h1M60.4 31.8h1M43.6 37.8h1M43.3 40.5h1M41.6 48.0h1M56.7 25.2h1M60.2 32.8h1M41.5 48.6h1M41.8 48.9h1M58.0 43.2h1M44.3 37.8h1M50.1 31.5h1M47.4 34.6h1M57.9 37.8h1M43.9 38.3h1M60.5 32.0h1M61.5 26.5h1M42.1 46.2h1M41.6 46.5h1M53.2 27.5h1M45.9 35.6h1M45.1 36.9h1M42.2 47.6h1M41.5 46.1h1M60.4 32.4h1M58.0 43.4h1M57.9 43.6h1M55.3 50.2h1M43.8 38.9h1M42.1 48.0h1M46.7 34.2h1M42.2 48.2h1M59.6 32.2h1M44.0 38.0h1M42.4 45.5h1M41.5 45.9h1M44.0 39.8h1M58.3 37.3h1M58.3 37.3h1M44.4 37.1h1M56.9 25.6h1M60.1 31.6h1M44.0 37.6h1M60.4 33.0h1M42.2 48.7h1M41.7 48.9h1M42.3 47.4h1M44.9 36.6h1M42.3 48.4h1M41.9 48.5h1" stroke="rgb(45,83,168)" stroke-opacity="1.00" stroke-width="1" fill="none"/><path d="M57.2 39.4h1M45.2 52.6h1M56.0 49.3h1M42.9 50.7h1M55.9 49.2h1M57.2 38.7h1M44.8 52.5h1M59.9 25.1h1M55.7 25.9h1M56.5 25.4h1M60.7 27.9h1M60.7 27.0h1M61.3 28.3h1M56.2 35.6h1M60.0 26.8h1M47.6 33.1h1M49.2 32.9h1M57.3 36.0h1M61.4 27.7h1M59.9 26.5h1M59.6 25.6h1M43.4 41.4h1M59.8 25.3h1M60.7 27.6h1M46.0 36.9h1M55.2 26.5h1M57.4 35.7h1M55.0 26.4h1M45.5 36.7h1M50.8 29.3h1M57.4 35.3h1M57.4 40.0h1M57.7 35.1h1M55.8 38.8h1M57.7 36.0h1M49.1 32.8h1M42.5 50.1h1M57.9 34.5h1M42.8 51.6h1M43.3 50.6h1M45.1 52.9h1M48.7 32.4h1M56.8 35.5h1M43.3 51.6h1M50.2 52.6h1M42.5 49.2h1M55.6 36.8h1M59.8 30.6h1M43.1 51.1h1M49.9 52.2h1M52.9 51.5h1M55.7 38.8h1M57.6 35.4h1M45.7 52.5h1M45.1 52.1h1M42.1 49.8h1M57.8 34.3h1M58.5 32.7h1M44.8 52.1h1M55.6 35.3h1M60.1 30.6h1M57.4 40.0h1M53.4 51.0h1M57.2 35.5h1M59.6 30.7h1M43.5 42.5h1M45.1 52.2h1M51.2 52.8h1M50.8 52.3h1M42.8 51.8h1M42.8 51.8h1M43.6 40.2h1M59.6 30.8h1M45.4 37.3h1M57.8 34.7h1M45.3 52.5h1M45.6 52.1h1M56.8 34.6h1M43.0 50.7h1M55.1 26.1h1M55.6 38.1h1M42.8 44.2h1M60.2 26.9h1M60.2 26.6h1M57.4 39.4h1M47.7 33.0h1M42.8 52.0h1M55.1 26.3h1M50.5 52.3h1M56.7 35.0h1M56.6 35.1h1M44.1 40.7h1M41.9 49.3h1M53.3 51.8h1M42.1 49.5h1M54.6 26.9h1M44.7 37.7h1M57.9 34.0h1M56.6 38.7h1M56.0 38.5h1M44.3 42.6h1M44.6 52.5h1M56.7 38.3h1M43.4 44.1h1M56.6 36.5h1M55.5 35.5h1M45.3 52.9h1M43.2 45.0h1M51.2 52.1h1M42.7 41.5h1M60.4 25.9h1M57.9 34.4h1M57.8 34.5h1M56.0 36.1h1M43.9 42.6h1M43.3 51.3h1M43.5 40.3h1M45.9 53.0h1M59.9 30.1h1" stroke="rgb(45,89,170)" stroke-opacity="1.00" stroke-width="1" fill="none"/><path d="M48.5 52.4h1M54.0 50.8h1M56.4 39.3h1M54.3 50.4h1M47.0 52.2h1M49.2 52.3h1M55.8 39.8h1M49.4 52.6h1M56.3 37.7h1M54.3 36.5h1M60.3 27.9h1M53.3 28.0h1M59.1 31.5h1M59.0 25.4h1M53.3 28.9h1M59.2 26.0h1M59.8 27.0h1M49.5 32.2h1M49.9 32.9h1M57.9 32.7h1M58.3 25.8h1M50.0 32.6h1M58.2 25.6h1M53.4 28.3h1M57.6 25.8h1M58.5 31.7h1M59.4 31.5h1M59.3 31.8h1M59.0 25.3h1M58.7 32.0h1M53.1 28.6h1M53.0 28.6h1M57.2 33.1h1M56.5 33.6h1M47.5 35.2h1M60.0 27.3h1M54.2 28.0h1M57.8 32.3h1M50.5 32.3h1M58.0 32.2h1M58.7 31.8h1M59.9 28.3h1M53.6 36.9h1M54.6 36.7h1M57.2 40.6h1M54.3 50.2h1M42.6 43.7h1M59.7 27.6h1M57.4 33.4h1M57.1 37.3h1M55.6 37.5h1M44.5 51.2h1M43.0 43.1h1M57.3 38.0h1M47.0 35.7h1M43.5 41.3h1M56.3 34.7h1M55.6 37.8h1M50.5 30.9h1M53.5 27.5h1M58.5 32.0h1M43.6 41.3h1M42.6 43.1h1M53.2 36.9h1M59.3 31.8h1M55.1 38.3h1M50.6 31.0h1M49.6 32.3h1M46.8 35.6h1M57.1 40.4h1M60.4 28.0h1M43.7 51.6h1M51.5 30.1h1M53.9 36.9h1M56.8 37.9h1M47.8 34.6h1M49.4 52.1h1M55.7 33.7h1M43.1 45.1h1M50.1 32.6h1M44.3 41.9h1M56.3 34.7h1M55.4 36.5h1M43.3 43.6h1M57.6 32.4h1M47.3 35.7h1M56.9 33.3h1M56.5 41.6h1M57.9 25.7h1M46.6 52.1h1M58.3 32.8h1M43.9 41.7h1M52.9 28.7h1M55.1 38.3h1M59.9 29.9h1M47.1 35.2h1M51.0 30.9h1M54.3 36.6h1M53.6 50.5h1M42.8 45.8h1M43.1 43.9h1M56.1 34.3h1M47.4 35.3h1M58.8 25.8h1M55.5 38.6h1M52.3 29.9h1M57.0 37.4h1M57.3 37.9h1M49.6 32.7h1M53.9 50.4h1M53.8 50.2h1M53.0 28.8h1M57.3 33.3h1M46.8 52.4h1M52.7 36.9h1M43.0 45.7h1M48.4 34.6h1M57.1 37.5h1M57.1 33.3h1M56.8 42.0h1M54.9 36.4h1M55.9 34.3h1M52.1 29.0h1M49.6 32.2h1M50.0 32.1h1M55.8 40.0h1M53.0 36.2h1M48.2 52.0h1" stroke="rgb(45,96,170)" stroke-opacity="1.00" stroke-width="1" fill="none"/><path d="M55.3 39.0h1M43.0 48.1h1M55.1 37.0h1M57.0 46.5h1M56.4 40.2h1M55.2 37.9h1M55.8 40.4h1M56.0 40.8h1M56.7 42.1h1M57.1 46.6h1M57.1 42.9h1M55.2 37.1h1M52.4 36.2h1M59.1 26.6h1M58.7 26.8h1M49.2 33.9h1M57.0 26.2h1M57.3 26.1h1M59.0 30.8h1M58.7 26.1h1M51.3 31.5h1M59.2 26.8h1M58.1 26.9h1M52.3 30.4h1M58.5 26.6h1M51.8 30.1h1M51.2 36.7h1M56.6 26.7h1M51.1 31.7h1M44.8 39.4h1M52.4 30.5h1M54.0 35.8h1M59.3 26.9h1M54.9 34.6h1M52.2 30.9h1M48.4 37.0h1M57.3 26.1h1M45.8 37.4h1M45.1 38.4h1M59.1 26.6h1M48.2 36.1h1M58.8 30.7h1M54.0 37.1h1M50.0 36.8h1M49.9 36.9h1M50.6 31.2h1M44.5 39.4h1M59.1 30.2h1M57.9 26.9h1M53.7 35.5h1M51.1 31.4h1M48.4 36.9h1M55.2 40.0h1M54.9 33.3h1M53.7 35.2h1M54.7 35.1h1M45.1 39.0h1M48.1 36.5h1M52.1 30.5h1M54.3 38.4h1M44.1 50.8h1M45.3 38.4h1M53.7 38.5h1M42.9 46.4h1M45.3 40.0h1M55.3 34.2h1M57.1 43.8h1M56.8 42.3h1M58.9 26.7h1M52.2 36.4h1M44.1 50.1h1M54.6 35.2h1M51.7 51.4h1M46.4 37.9h1M54.1 37.4h1M54.7 39.7h1M43.4 46.7h1M47.2 36.7h1M59.0 30.4h1M43.1 47.4h1M48.4 36.7h1M54.9 37.2h1M54.2 37.7h1M57.5 26.1h1M50.0 36.1h1M44.9 39.5h1M57.2 42.3h1M44.2 50.9h1M57.1 46.8h1M47.0 36.7h1M54.6 37.1h1M58.8 30.4h1M53.7 38.6h1M56.1 40.4h1M56.6 46.7h1M43.9 43.5h1M43.7 43.6h1M49.1 37.0h1M48.0 36.0h1M54.6 35.1h1M54.9 34.1h1M48.9 33.7h1M48.7 36.6h1M56.0 40.5h1M54.7 33.2h1M54.7 35.2h1M55.0 34.5h1M43.3 48.1h1M56.5 47.3h1M49.1 33.6h1M50.0 37.0h1M55.0 37.4h1M43.4 46.5h1M50.0 36.4h1M49.7 36.3h1M44.0 44.0h1M55.1 35.6h1M50.0 37.0h1M48.0 36.9h1M54.1 37.4h1M56.7 42.4h1M55.2 38.0h1M55.3 34.8h1M44.6 39.4h1M42.5 46.8h1M57.4 47.9h1M55.4 34.3h1M50.7 36.7h1M56.6 46.5h1M45.2 39.7h1M51.5 31.2h1M42.6 46.4h1M51.8 36.6h1M56.6 42.8h1M54.6 37.7h1M51.4 36.8h1M55.3 35.4h1M44.3 44.8h1M48.2 36.2h1M44.3 50.2h1M42.7 46.9h1M45.0 39.3h1M53.7 38.6h1M50.1 36.5h1M48.1 36.3h1M51.6 36.8h1M53.7 37.1h1M44.3 44.5h1M54.5 35.6h1M54.8 37.3h1M56.7 26.9h1M51.0 36.4h1M57.1 42.2h1M51.8 30.3h1" stroke="rgb(45,105,168)" stroke-opacity="1.00" stroke-width="1" fill="none"/><path d="M55.2 49.0h1M51.1 51.5h1M57.3 45.4h1M57.2 44.9h1M56.8 44.4h1M43.9 45.9h1M44.3 45.9h1M53.6 39.2h1M45.0 51.1h1M46.1 38.7h1M44.7 51.8h1M54.5 39.6h1M50.5 51.4h1M59.4 29.5h1M57.6 31.0h1M54.5 27.8h1M56.0 26.8h1M57.3 32.7h1M53.5 35.1h1M52.1 32.0h1M50.7 32.8h1M59.1 29.3h1M57.4 32.4h1M51.4 32.4h1M58.6 27.8h1M54.0 28.5h1M53.1 35.5h1M58.3 30.8h1M58.7 28.5h1M46.1 38.6h1M45.8 39.6h1M58.4 31.6h1M46.1 38.8h1M58.6 29.3h1M56.2 26.2h1M54.0 28.5h1M48.9 34.7h1M48.8 34.1h1M51.4 32.2h1M57.5 30.2h1M49.7 37.1h1M49.9 38.0h1M51.6 31.3h1M57.8 30.2h1M49.5 33.3h1M55.7 33.0h1M54.1 28.1h1M52.8 38.4h1M51.1 32.9h1M58.5 28.8h1M46.5 37.4h1M59.0 27.7h1M48.1 35.6h1M53.8 33.6h1M55.0 27.1h1M49.4 34.3h1M58.2 30.9h1M57.7 31.2h1M54.6 27.9h1M58.5 28.4h1M54.3 28.4h1M51.9 31.7h1M46.3 39.8h1M50.2 37.7h1M58.5 27.3h1M59.1 28.9h1M58.7 27.7h1M58.6 28.9h1M56.0 26.3h1M46.2 39.0h1M46.4 38.6h1M45.5 42.6h1M57.3 45.2h1M51.3 32.9h1M55.5 32.0h1M46.0 51.4h1M46.5 38.9h1M52.7 37.5h1M45.7 40.0h1M57.1 45.1h1M47.7 35.4h1M57.4 45.9h1M48.1 37.5h1M56.5 41.3h1M53.2 38.8h1M43.7 45.4h1M57.5 30.1h1M58.5 29.9h1M45.0 40.0h1M44.9 40.5h1M43.5 45.1h1M52.2 31.8h1M47.9 37.7h1M46.0 51.7h1M43.7 48.1h1M51.4 32.8h1M57.6 30.7h1M46.1 51.4h1M56.6 45.5h1M56.0 41.2h1M55.7 32.2h1M44.5 42.1h1M49.5 33.1h1M57.4 45.0h1M55.9 26.8h1M53.2 35.0h1M54.4 29.0h1M53.6 29.0h1M44.9 42.6h1M54.6 49.0h1M46.4 38.7h1M54.7 27.6h1M52.8 37.7h1M55.1 49.2h1M56.2 41.7h1M45.5 38.5h1M51.3 32.6h1M50.0 37.0h1M48.2 37.3h1M50.1 37.1h1M51.2 51.7h1M43.1 49.5h1M49.2 34.3h1M47.8 35.7h1M57.0 45.6h1M45.1 42.3h1M45.8 38.9h1M44.5 42.5h1M48.8 34.7h1M56.2 26.0h1M44.8 40.3h1M50.5 37.5h1M49.5 37.2h1M54.2 34.7h1M53.6 34.7h1M43.5 48.7h1M56.9 33.0h1M55.4 27.3h1M45.3 51.4h1M56.7 32.6h1M56.2 26.3h1M51.2 32.8h1M48.3 37.1h1M50.0 39.0h1M53.3 38.6h1M54.1 34.7h1M57.0 32.7h1M46.3 51.2h1M49.0 35.0h1M46.5 51.4h1M44.8 42.4h1M53.7 39.9h1M46.5 51.4h1M56.7 32.2h1M54.1 28.9h1M49.6 37.7h1M45.0 40.8h1M52.9 35.4h1M50.1 33.7h1M51.5 51.0h1M55.4 49.3h1M50.3 37.9h1M54.7 49.3h1M51.5 51.0h1M53.9 34.3h1M51.2 32.2h1M49.1 34.5h1M47.7 37.8h1M56.2 32.8h1M45.6 38.5h1M46.3 38.9h1M53.5 39.3h1M53.9 39.6h1M55.9 26.8h1M53.6 39.3h1M46.0 38.3h1M59.3 27.6h1" stroke="rgb(45,114,165)" stroke-opacity="1.00" stroke-width="1" fill="none"/><path d="M55.3 40.6h1M52.9 50.9h1M44.1 47.7h1M56.2 48.6h1M56.4 42.6h1M49.7 51.1h1M44.3 47.7h1M56.0 42.0h1M53.8 32.3h1M53.3 31.2h1M53.9 32.2h1M52.1 35.8h1M57.9 27.5h1M50.8 35.1h1M56.8 30.8h1M54.6 32.0h1M50.8 38.9h1M58.3 27.2h1M58.4 28.5h1M52.0 38.0h1M51.6 34.0h1M50.7 37.7h1M51.9 32.8h1M52.6 31.4h1M49.7 35.2h1M52.2 32.6h1M54.9 28.4h1M53.7 30.6h1M47.4 38.0h1M52.4 32.0h1M53.0 33.1h1M54.6 32.6h1M54.1 32.2h1M53.5 30.0h1M50.5 35.8h1M52.8 34.3h1M49.6 35.6h1M50.8 35.9h1M51.6 33.4h1M55.1 32.7h1M55.5 28.4h1M57.9 28.5h1M52.8 33.6h1M54.7 28.7h1M47.5 38.4h1M55.1 28.4h1M57.6 28.5h1M52.9 34.1h1M50.0 35.9h1M55.1 29.0h1M52.6 32.0h1M53.3 31.7h1M56.7 30.7h1M44.0 47.9h1M51.6 32.7h1M53.3 31.5h1M53.0 30.9h1M53.3 29.1h1M53.9 30.8h1M48.7 35.1h1M50.7 35.7h1M57.5 27.5h1M53.6 32.8h1M52.1 33.0h1M58.4 28.5h1M54.9 28.2h1M53.0 32.5h1M49.4 35.1h1M53.8 30.4h1M50.9 37.6h1M47.5 38.2h1M44.8 50.5h1M55.3 32.2h1M50.9 33.8h1M49.3 51.2h1M52.9 50.7h1M50.3 35.2h1M57.6 27.2h1M45.3 41.3h1M49.3 35.2h1M43.7 46.6h1M52.5 32.4h1M49.6 39.1h1M49.9 39.6h1M48.6 51.2h1M55.4 28.5h1M50.9 33.1h1M56.7 30.6h1M52.5 37.2h1M51.7 32.9h1M49.6 34.7h1M52.9 34.7h1M49.5 51.5h1M45.0 41.6h1M44.8 41.6h1M51.7 37.4h1M49.5 37.7h1M51.1 33.2h1M52.4 35.3h1M50.9 36.0h1M44.1 46.5h1M48.7 51.1h1M52.0 35.1h1M52.6 31.8h1M51.9 35.9h1M58.0 28.3h1M51.4 35.9h1M51.1 38.7h1M51.4 39.0h1M52.9 34.0h1M48.5 35.9h1M50.6 38.0h1M53.2 32.6h1M51.4 37.4h1M54.1 30.3h1M55.4 40.5h1M53.2 39.1h1M50.5 34.9h1M50.0 51.4h1M49.4 35.1h1M47.0 38.5h1M43.8 46.3h1M55.7 42.9h1M53.7 30.4h1M53.3 33.7h1M51.9 37.5h1M54.3 32.2h1M44.6 41.9h1M55.7 42.8h1M48.8 35.8h1M53.5 50.5h1M49.1 36.0h1M52.5 31.9h1M51.7 32.6h1M52.0 37.8h1M57.4 30.9h1M48.6 35.0h1M44.2 47.1h1M49.7 39.4h1M50.4 39.0h1M52.1 33.2h1M50.8 37.6h1M44.7 41.4h1M52.9 30.4h1M52.3 37.7h1M44.2 49.8h1M53.4 33.1h1M53.5 32.1h1M49.4 37.0h1M48.7 51.5h1M45.0 41.1h1M51.2 35.5h1M52.6 39.7h1M53.1 32.4h1M49.8 51.7h1M52.3 33.4h1M43.7 49.5h1M51.3 33.8h1M49.1 51.0h1M47.3 38.4h1M51.6 32.7h1" stroke="rgb(45,123,163)" stroke-opacity="1.00" stroke-width="1" fill="none"/><path d="M45.7 50.2h1M45.1 44.4h1M45.1 43.1h1M49.3 39.1h1M48.4 51.8h1M53.8 40.2h1M48.3 38.9h1M53.8 41.0h1M46.1 40.1h1M54.8 30.8h1M58.4 29.0h1M54.1 29.5h1M58.4 29.7h1M50.8 34.6h1M55.2 31.3h1M58.1 29.5h1M53.7 29.9h1M48.8 39.0h1M55.1 31.9h1M55.8 27.2h1M49.2 38.8h1M54.4 31.9h1M57.3 27.4h1M55.4 30.5h1M53.6 31.8h1M51.2 34.7h1M56.3 30.1h1M56.0 27.6h1M53.7 29.4h1M55.5 31.8h1M49.3 38.6h1M50.5 34.1h1M54.0 29.4h1M55.2 30.8h1M55.9 31.2h1M56.0 30.7h1M51.9 34.9h1M55.5 27.8h1M54.7 30.4h1M56.2 27.6h1M55.3 31.3h1M54.0 29.7h1M56.3 27.8h1M54.3 29.4h1M54.0 29.3h1M56.1 31.5h1M53.7 29.5h1M48.9 39.3h1M47.7 39.7h1M51.9 34.3h1M54.0 40.7h1M46.3 40.5h1M55.4 41.8h1M51.8 39.0h1M45.6 40.3h1M56.9 31.4h1M56.8 31.5h1M52.3 39.5h1M52.4 34.2h1M57.7 29.9h1M48.5 38.7h1M46.4 50.2h1M53.6 29.7h1M47.7 51.7h1M55.7 30.6h1M54.5 29.5h1M49.3 38.7h1M46.2 42.5h1M55.7 30.4h1M48.0 39.4h1M46.1 50.8h1M47.6 51.8h1M54.0 31.0h1M47.8 51.9h1M52.5 39.7h1M48.5 39.5h1M45.9 40.7h1M54.1 31.8h1M45.3 44.6h1M46.2 50.2h1M48.2 51.5h1M48.9 39.7h1M54.0 29.6h1M53.9 31.4h1M53.5 40.8h1M46.3 40.2h1M45.7 42.3h1M48.3 39.0h1M45.6 50.9h1M48.3 39.0h1M48.7 38.1h1M45.5 50.2h1M54.5 29.2h1M44.9 44.6h1M48.2 38.2h1M46.3 42.6h1M44.9 44.4h1M46.3 43.0h1M45.3 44.3h1M44.9 44.8h1M47.5 39.1h1M54.1 40.9h1M56.0 27.0h1M45.2 43.5h1M54.3 29.9h1M53.8 31.7h1M55.3 30.9h1M46.4 40.4h1M48.6 38.7h1M48.0 39.3h1M47.9 39.6h1M49.5 38.9h1M58.2 29.0h1M45.1 44.6h1M44.7 43.5h1M51.4 34.2h1M46.3 40.8h1" stroke="rgb(45,132,160)" stroke-opacity="1.00" stroke-width="1" fill="none"/><path d="M51.6 50.7h1M47.4 50.2h1M53.8 49.1h1M52.6 40.7h1M55.7 47.9h1M52.1 50.5h1M55.6 43.7h1M51.3 39.6h1M51.7 50.6h1M54.1 41.1h1M53.7 49.8h1M54.4 49.7h1M55.9 47.6h1M46.7 50.5h1M56.1 29.7h1M56.0 29.5h1M56.1 29.8h1M56.1 29.3h1M56.7 28.4h1M56.6 28.0h1M55.6 28.8h1M54.8 29.3h1M55.9 29.1h1M55.5 28.5h1M57.4 28.9h1M56.2 28.1h1M56.0 28.3h1M56.3 28.2h1M57.4 29.0h1M54.8 29.0h1M56.1 29.1h1M55.7 29.2h1M56.3 29.2h1M45.9 41.1h1M47.5 40.1h1M47.5 50.1h1M53.2 40.0h1M46.7 50.2h1M57.2 28.1h1M46.2 41.4h1M57.1 28.8h1M56.1 29.7h1M53.7 41.4h1M53.6 41.1h1M46.7 50.9h1M56.9 28.7h1M46.4 41.6h1M55.9 28.6h1M56.4 43.0h1M46.9 50.3h1M57.2 28.8h1M46.9 40.8h1M45.9 41.3h1M56.2 29.6h1M55.6 28.3h1M53.4 40.2h1M47.0 40.8h1M56.2 28.7h1M46.1 41.4h1M52.6 40.2h1M51.1 39.8h1M51.9 50.6h1M46.0 41.1h1M53.5 41.3h1M46.9 40.6h1M46.6 40.6h1M55.7 43.3h1M55.7 43.7h1M54.4 49.1h1M54.7 29.6h1M53.3 40.8h1M46.8 50.7h1M52.8 40.8h1M47.3 40.3h1" stroke="rgb(50,139,151)" stroke-opacity="1.00" stroke-width="1" fill="none"/><path d="M55.1 48.7h1M50.4 50.7h1M55.9 46.4h1M49.1 50.6h1M49.1 50.9h1M49.9 50.7h1M45.2 48.2h1M54.5 48.2h1M47.6 50.9h1M45.5 46.6h1M46.4 43.7h1M52.6 41.7h1M50.1 50.2h1M45.9 49.3h1M46.1 48.0h1M56.2 44.2h1M56.0 46.8h1M45.2 46.3h1M49.0 50.1h1M53.0 41.4h1M52.7 41.8h1M54.6 48.8h1M49.6 50.1h1M56.5 46.5h1M45.2 47.2h1M56.3 44.1h1M46.0 43.0h1M47.9 50.4h1M48.7 50.7h1M47.5 42.7h1M54.6 48.3h1M55.8 44.9h1M46.5 48.4h1M46.2 48.5h1M50.4 50.4h1M44.8 48.9h1M56.5 46.0h1M56.7 29.2h1M56.6 29.1h1M45.7 49.5h1M45.7 49.2h1M46.9 41.0h1M45.1 50.0h1M50.2 40.5h1M44.5 47.1h1M45.8 49.4h1M44.6 47.4h1M52.3 40.7h1M49.5 50.0h1M52.8 41.4h1M46.3 48.9h1M44.5 46.8h1M46.0 43.2h1M49.3 50.9h1M46.2 48.0h1M51.8 40.9h1M54.6 48.9h1M55.2 48.5h1M47.2 41.3h1M45.2 46.7h1M48.1 50.9h1M46.2 49.4h1M44.8 48.7h1M45.6 43.8h1M45.8 43.5h1M49.7 40.6h1M46.5 42.4h1M44.9 48.5h1M48.2 50.5h1M45.5 49.2h1M45.6 49.2h1M55.7 46.9h1M52.3 40.9h1M56.5 29.5h1M45.7 48.6h1M47.6 40.4h1M45.2 46.1h1M46.1 43.6h1M51.6 40.7h1M44.5 48.7h1M46.5 42.6h1M45.4 47.3h1M44.9 48.1h1M45.1 49.0h1M49.6 40.3h1M56.6 29.4h1M45.0 46.3h1M45.3 45.5h1M48.4 50.4h1M47.6 50.3h1M46.0 43.2h1M56.7 29.9h1M47.6 50.7h1M56.4 44.6h1M49.3 50.5h1M45.5 43.2h1M45.0 46.4h1M51.7 40.3h1M45.1 48.6h1M45.7 49.6h1M50.4 40.4h1M44.6 49.4h1M45.9 49.5h1M44.5 48.9h1M54.7 48.0h1M44.8 48.4h1M46.3 49.6h1M44.7 48.9h1M50.0 40.1h1M45.5 46.6h1M52.4 40.6h1M47.9 40.9h1M44.8 48.2h1" stroke="rgb(57,145,138)" stroke-opacity="1.00" stroke-width="1" fill="none"/><path d="M52.6 49.2h1M52.5 49.2h1M52.9 49.3h1M55.9 45.6h1M51.5 50.8h1M54.6 42.1h1M53.2 49.9h1M47.9 42.2h1M55.6 45.5h1M55.9 45.5h1M47.8 42.0h1M52.8 49.6h1M45.7 44.3h1M52.7 49.6h1M55.0 42.6h1M51.5 50.2h1M45.9 44.8h1M48.0 42.8h1M53.1 49.2h1M46.0 47.0h1M51.0 51.0h1M55.3 42.2h1M48.1 42.8h1M47.9 42.0h1M51.0 40.3h1M47.8 42.6h1M50.6 40.2h1M52.7 49.9h1M51.0 40.5h1M56.3 45.2h1M51.5 40.6h1M45.8 44.3h1M45.7 47.3h1M52.7 49.6h1M51.3 40.2h1M48.5 42.3h1M50.9 40.5h1M49.5 40.2h1M45.7 44.8h1M49.2 40.6h1M48.4 42.7h1M46.1 47.9h1M49.4 40.7h1M51.4 40.2h1M47.7 42.1h1M55.2 42.3h1M48.6 40.0h1M48.7 40.0h1" stroke="rgb(64,151,126)" stroke-opacity="1.00" stroke-width="1" fill="none"/><path d="M54.1 42.7h1M47.3 49.9h1M46.1 46.6h1M48.5 41.9h1M45.9 45.9h1M54.2 43.0h1M50.1 41.7h1M46.2 46.9h1M54.4 42.7h1M49.6 41.5h1M47.5 49.3h1M54.1 42.1h1M53.7 42.9h1M46.9 43.2h1M54.1 42.7h1M54.4 42.5h1M51.7 41.9h1M52.3 41.2h1M46.2 46.7h1M48.8 41.2h1M47.3 43.2h1M50.3 41.1h1M49.3 41.0h1M48.6 41.4h1M49.4 41.8h1M46.9 43.4h1M52.1 41.3h1M47.1 43.7h1M47.7 41.7h1M48.6 41.8h1M48.3 41.4h1M48.1 41.9h1M46.5 49.6h1M46.3 46.4h1M47.5 43.7h1M47.1 49.8h1M46.0 46.8h1M46.6 43.9h1M47.8 42.0h1M45.9 46.2h1M46.8 49.8h1M46.5 46.5h1M52.0 41.4h1M46.5 45.6h1M45.5 46.8h1M46.4 45.7h1M49.9 41.2h1M51.6 41.4h1M45.9 46.8h1M46.8 49.5h1M47.0 49.8h1M50.4 41.0h1M48.9 41.9h1M46.9 49.2h1M53.8 42.2h1M45.7 45.1h1" stroke="rgb(71,158,113)" stroke-opacity="1.00" stroke-width="1" fill="none"/><path d="M46.6 44.9h1M46.8 48.5h1M51.3 41.6h1M54.7 43.9h1M54.7 43.8h1M52.0 49.4h1M46.8 48.2h1M54.0 48.2h1M47.1 45.6h1M55.3 44.0h1M54.6 43.6h1M49.4 42.4h1M47.3 44.8h1M51.3 41.7h1M52.5 49.8h1M52.5 49.6h1M55.1 43.9h1M53.8 48.5h1M47.0 45.5h1M46.8 44.9h1M53.9 49.0h1M54.3 48.2h1M48.8 42.9h1M54.7 43.1h1M46.6 45.9h1M51.4 41.6h1M47.2 48.0h1M46.6 48.4h1M55.2 43.0h1M50.8 41.3h1M47.1 44.8h1M54.1 48.5h1M55.3 47.3h1M51.5 49.7h1M47.2 48.2h1M47.0 44.2h1M46.7 44.2h1M48.6 42.8h1M54.7 43.6h1M55.4 47.8h1M54.7 47.8h1M54.8 47.6h1M53.6 48.6h1M46.8 45.5h1M49.1 42.2h1M48.5 42.9h1M47.3 48.6h1M46.8 45.8h1M52.4 49.4h1M47.0 48.9h1" stroke="rgb(79,164,101)" stroke-opacity="1.00" stroke-width="1" fill="none"/><path d="M47.4 47.4h1M52.8 42.7h1M47.6 43.4h1M54.5 46.2h1M50.3 42.8h1M49.9 42.6h1M48.1 49.6h1M53.0 42.0h1M52.6 42.4h1M55.2 44.9h1M47.9 43.5h1M47.9 43.8h1M47.4 47.5h1M55.3 46.7h1M50.3 42.5h1M53.3 42.6h1M47.6 50.0h1M53.3 42.2h1M48.4 43.7h1M48.1 49.4h1M55.5 44.9h1M48.1 49.8h1M53.0 42.1h1M47.9 49.4h1M55.3 46.5h1M47.1 47.4h1M47.8 43.9h1M53.0 42.6h1M47.4 47.5h1M55.0 46.8h1M49.6 42.4h1M48.1 49.6h1M54.8 44.3h1M52.6 42.3h1M54.6 47.0h1M48.2 43.9h1M55.2 46.9h1M55.5 44.2h1M49.7 42.7h1M55.4 46.8h1M48.5 43.5h1M55.3 46.6h1M54.9 46.0h1M54.7 46.3h1" stroke="rgb(97,168,91)" stroke-opacity="1.00" stroke-width="1" fill="none"/><path d="M54.3 47.7h1M55.4 45.6h1M54.4 47.3h1M51.0 49.8h1M46.8 46.5h1M48.7 49.8h1M52.3 42.3h1M47.9 48.7h1M50.5 49.4h1M53.9 47.6h1M48.2 48.4h1M49.0 49.1h1M48.5 45.0h1M53.9 47.0h1M48.3 44.9h1M54.2 47.0h1M49.6 49.5h1M49.7 49.9h1M54.7 45.1h1M50.2 49.3h1M54.9 45.5h1M52.5 42.2h1M49.7 49.9h1M55.3 45.9h1M47.9 44.1h1M52.3 42.7h1M53.7 47.1h1M48.3 48.8h1M48.1 48.9h1M52.0 42.9h1M46.6 46.8h1M48.2 44.6h1M49.6 49.0h1M54.4 47.1h1M51.5 49.6h1M48.3 44.8h1M50.4 49.4h1M54.8 45.5h1M47.1 46.6h1M54.0 47.6h1M50.0 49.4h1M50.0 49.1h1M50.4 49.6h1M53.9 47.7h1M50.3 49.0h1M50.1 49.1h1M51.5 49.7h1M52.2 42.2h1M47.5 46.2h1M47.8 48.9h1M48.8 50.0h1M47.5 46.8h1M47.4 46.3h1M51.5 42.5h1M49.8 49.8h1M48.1 44.2h1M55.4 45.9h1M50.6 49.2h1M46.9 46.8h1M47.4 46.2h1M48.6 49.3h1M48.2 48.3h1M53.8 47.3h1M53.6 47.5h1M50.8 49.7h1M55.5 45.7h1M48.2 48.1h1M53.6 48.0h1M47.5 48.4h1M47.5 44.1h1M55.2 45.4h1M54.5 47.2h1M51.9 42.8h1M49.2 49.1h1M51.0 49.2h1" stroke="rgb(116,171,82)" stroke-opacity="1.00" stroke-width="1" fill="none"/><path d="M48.0 47.4h1M54.0 43.3h1M52.8 48.7h1M48.0 47.6h1M51.5 42.4h1M48.6 44.0h1M54.3 43.5h1M53.2 48.3h1M53.8 43.8h1M49.1 43.7h1M50.8 42.6h1M49.0 43.3h1M53.7 43.5h1M49.4 43.6h1M48.0 47.9h1M52.8 48.4h1M53.3 48.6h1M47.8 47.6h1M52.6 48.1h1M53.6 43.8h1M48.2 47.2h1M48.1 47.2h1M51.1 42.5h1M51.0 42.3h1M47.5 47.1h1M50.7 42.6h1M51.1 42.3h1M49.1 43.7h1M48.7 43.9h1M48.7 43.7h1M53.4 48.8h1M48.5 43.1h1M48.2 47.7h1M47.8 47.3h1M48.9 43.7h1M50.7 42.1h1M53.1 48.4h1M48.6 43.9h1M49.3 43.1h1M50.8 42.9h1M51.4 42.3h1M48.6 43.6h1M48.0 47.4h1M54.4 43.5h1M51.3 42.5h1M53.8 43.1h1M48.3 47.5h1M54.5 43.8h1" stroke="rgb(136,174,73)" stroke-opacity="1.00" stroke-width="1" fill="none"/><path d="M48.4 45.2h1M47.6 46.1h1M48.1 45.3h1M53.7 44.9h1M53.3 43.2h1M53.7 46.5h1M51.6 48.9h1M52.9 43.4h1M52.9 43.7h1M47.8 45.9h1M48.0 46.2h1M54.4 46.7h1M48.0 46.8h1M49.1 48.1h1M48.0 46.8h1M48.9 44.1h1M47.8 46.3h1M48.6 48.2h1M52.9 43.8h1M51.7 48.6h1M52.4 48.3h1M53.5 44.5h1M52.2 48.0h1M54.3 44.7h1M54.5 46.2h1M48.0 46.3h1M51.8 48.3h1M47.6 46.7h1M52.3 48.2h1M54.0 44.0h1M53.6 44.3h1M49.3 48.7h1M53.6 44.2h1M54.4 46.6h1M47.5 47.0h1M48.9 44.1h1M47.7 45.8h1M54.4 44.2h1M53.3 43.9h1M47.9 45.2h1M53.2 44.0h1M53.6 44.5h1M48.2 46.5h1M49.4 44.1h1M52.4 48.6h1M53.3 43.6h1M47.5 45.5h1M52.5 43.1h1M52.5 48.7h1M54.2 44.9h1M48.3 45.9h1M51.8 48.1h1M48.8 44.9h1M48.7 44.2h1M48.3 46.1h1M52.3 48.2h1M52.3 48.2h1M48.4 46.3h1M52.1 48.9h1" stroke="rgb(155,178,64)" stroke-opacity="1.00" stroke-width="1" fill="none"/><path d="M52.5 44.3h1M48.9 47.1h1M53.4 47.7h1M49.3 47.5h1M53.3 44.8h1M50.3 48.6h1M53.4 44.6h1M49.4 47.2h1M53.2 44.3h1M52.7 44.4h1M50.3 43.2h1M52.7 44.6h1M53.4 47.3h1M49.8 48.7h1M49.3 47.2h1M49.6 43.8h1M53.0 44.8h1M48.7 47.0h1M52.8 47.5h1M49.4 47.6h1M49.5 47.9h1M49.4 47.4h1M50.1 43.9h1M53.1 47.3h1M53.1 44.2h1M50.0 43.9h1M52.9 47.2h1M53.1 47.8h1" stroke="rgb(171,177,58)" stroke-opacity="1.00" stroke-width="1" fill="none"/><path d="M53.8 45.1h1M52.1 44.0h1M51.4 48.5h1M51.8 43.1h1M52.2 43.9h1M54.3 45.1h1M54.0 45.7h1M52.0 47.5h1M54.0 45.2h1M52.2 43.9h1M50.6 48.4h1M54.4 45.6h1M53.8 45.0h1M53.9 45.6h1M51.7 43.6h1M51.5 48.7h1M52.5 43.4h1M51.0 48.3h1M51.1 48.1h1M53.7 45.5h1M52.1 43.4h1M53.8 45.0h1M51.7 47.2h1M52.2 47.7h1M49.0 46.0h1M50.7 48.3h1M52.0 47.5h1M51.1 48.9h1M51.0 48.9h1M50.8 48.6h1M52.3 43.0h1M49.0 45.1h1M52.0 48.0h1M52.3 47.6h1M50.5 48.5h1M52.4 47.3h1M49.4 45.4h1M50.7 48.4h1M53.7 45.9h1M51.6 43.4h1M52.2 47.4h1M51.8 43.2h1M52.4 43.1h1M51.7 47.3h1" stroke="rgb(183,172,54)" stroke-opacity="1.00" stroke-width="1" fill="none"/><path d="M52.5 46.7h1M51.5 44.9h1M48.8 46.5h1M53.1 45.8h1M49.9 47.6h1M52.6 46.1h1M52.0 44.5h1M52.9 46.3h1M50.7 43.6h1M52.6 46.2h1M50.2 47.3h1M48.9 46.4h1M53.3 45.2h1M53.1 45.1h1M52.6 45.2h1M48.7 46.5h1M52.4 44.4h1M52.6 46.4h1M53.3 46.7h1M52.3 44.3h1M52.2 44.9h1M53.0 45.9h1M49.9 44.7h1M52.6 45.3h1M52.8 46.3h1M53.4 46.6h1M50.4 44.3h1M51.3 43.6h1M53.1 46.0h1M52.7 45.5h1M52.9 45.6h1M53.3 46.1h1M50.0 44.4h1M52.8 45.8h1M52.6 46.0h1M52.9 46.4h1M48.7 46.4h1M50.4 47.4h1M53.3 45.5h1M50.9 43.1h1M53.3 46.1h1M52.7 46.8h1M51.5 44.3h1M51.4 43.6h1M52.2 44.4h1M52.8 46.3h1M50.2 47.5h1M52.3 44.0h1M50.2 44.7h1M51.4 43.8h1M53.0 46.5h1M49.1 46.1h1M50.7 43.7h1M50.4 44.2h1M49.0 46.7h1M53.5 46.8h1M53.2 46.3h1M49.6 47.7h1M49.8 44.2h1" stroke="rgb(196,167,50)" stroke-opacity="1.00" stroke-width="1" fill="none"/><path d="M50.7 47.4h1M50.5 47.3h1M51.0 47.4h1M50.8 47.1h1M50.9 47.9h1M51.3 47.8h1M50.7 47.5h1" stroke="rgb(208,162,46)" stroke-opacity="1.00" stroke-width="1" fill="none"/><path d="M50.7 44.9h1M51.9 46.3h1M49.9 46.8h1M51.4 44.3h1M51.8 46.6h1M51.8 45.3h1M51.6 46.3h1M50.4 46.2h1M51.8 45.8h1M52.1 46.0h1M51.6 45.2h1M52.2 45.8h1M51.5 45.6h1M50.4 46.5h1M51.2 44.2h1M49.7 45.6h1M49.7 46.2h1M51.0 44.1h1M49.7 46.6h1M50.4 45.6h1M50.4 46.7h1M49.6 46.4h1M49.9 45.0h1M52.2 46.2h1M50.5 45.6h1M50.2 46.0h1M52.1 46.9h1M50.4 45.5h1M52.3 45.6h1M50.1 45.6h1M51.7 45.3h1M52.2 45.5h1M51.1 44.5h1M51.6 45.3h1M50.2 45.8h1M50.5 46.4h1M51.9 45.4h1M52.4 45.4h1M51.3 44.2h1M51.8 46.0h1M49.9 46.1h1M50.7 44.3h1M50.2 46.2h1" stroke="rgb(216,153,43)" stroke-opacity="1.00" stroke-width="1" fill="none"/><path d="M50.9 46.1h1M50.8 46.3h1M51.3 46.8h1M51.0 46.4h1M50.5 46.4h1M51.0 46.4h1M51.0 46.8h1" stroke="rgb(220,141,41)" stroke-opacity="1.00" stroke-width="1" fill="none"/><path d="M51.3 45.6h1M51.5 45.6h1M50.5 45.7h1M50.9 45.7h1" stroke="rgb(224,128,38)" stroke-opacity="1.00" stroke-width="1" fill="none"/><rect x="18.0" y="79.9" width="5" height="1.8" fill="#1a1a1a"/></svg><svg class="sc" width="84" height="82" viewBox="0 0 84 82" style="position:absolute;left:430.0px;top:365.9px;filter:blur(0.3px)"><path d="M37.9 17.2h1M32.1 22.4h1M28.2 26.7h1M39.2 16.3h1M43.4 12.2h1M50.6 9.9h1M42.3 11.4h1M71.0 35.3h1M44.7 2.0h1M69.1 44.2h1M68.4 25.0h1M47.8 64.7h1M66.8 47.8h1M59.5 10.4h1M54.0 12.9h1M45.0 7.4h1M65.0 45.7h1M51.0 68.1h1M64.9 12.9h1M66.6 26.7h1M64.4 42.6h1M66.5 26.0h1M68.0 20.3h1M57.2 8.9h1M66.8 37.8h1M55.2 57.7h1M50.2 12.0h1M60.0 55.3h1M54.6 13.1h1M53.8 13.0h1M65.9 19.6h1M60.6 7.6h1M71.8 21.9h1M48.7 68.8h1M49.2 4.4h1M49.7 63.4h1M58.7 9.5h1M71.2 31.5h1M65.2 43.4h1M28.0 24.6h1M33.1 20.7h1M33.4 19.7h1M57.3 6.7h1M63.6 42.5h1M67.0 46.2h1M38.2 17.2h1M69.5 33.1h1M61.2 52.7h1M33.9 21.6h1M26.8 23.8h1M63.7 13.9h1M38.8 16.3h1M67.8 32.2h1M56.3 10.7h1M45.9 69.2h1M72.3 32.3h1M66.7 19.5h1M70.4 16.6h1M67.5 19.4h1M56.8 56.2h1M35.9 5.8h1M29.7 74.7h1M71.0 46.7h1M72.8 21.9h1M69.5 38.4h1M49.9 8.4h1M38.9 12.3h1M31.0 23.1h1M57.7 57.7h1M65.8 15.5h1M46.2 12.9h1M63.9 13.2h1M56.9 9.6h1M69.4 26.8h1M63.5 42.8h1M70.7 10.1h1M50.0 13.1h1M27.4 60.4h1M66.8 32.9h1M40.8 76.9h1M60.8 48.6h1M69.5 24.1h1M74.5 10.0h1M67.2 37.1h1M35.4 13.5h1M43.6 71.8h1M68.1 27.3h1M41.8 9.8h1M29.9 72.2h1M36.6 75.9h1M28.6 74.6h1M36.5 75.1h1M31.3 72.4h1M29.6 72.2h1M28.6 73.1h1M34.4 74.0h1M45.4 69.6h1M35.9 75.6h1M43.1 72.9h1M33.7 73.4h1M37.8 76.4h1M31.0 76.2h1M38.3 81.2h1M27.0 74.8h1M27.4 70.3h1M26.8 79.0h1" stroke="rgb(96,96,192)" stroke-opacity="0.63" stroke-width="1" fill="none"/><path d="M29.6 27.6h1M31.5 27.7h1M26.9 33.7h1M45.2 16.4h1M61.7 18.1h1M30.4 27.8h1M57.9 14.3h1M38.4 20.6h1M58.4 15.7h1M48.9 14.2h1M63.1 39.9h1M62.8 20.3h1M60.7 45.1h1M55.6 55.3h1M61.0 16.6h1M62.0 18.8h1M26.6 57.9h1M27.0 48.4h1M30.6 26.8h1M66.3 31.8h1M28.7 61.0h1M26.7 40.3h1M43.2 17.7h1M62.3 15.9h1M63.6 21.6h1M65.5 31.0h1M62.7 16.1h1M26.9 49.8h1M63.9 21.2h1M65.0 28.5h1M61.6 18.0h1M38.1 19.6h1M66.2 28.6h1M61.6 45.2h1M41.9 70.0h1M28.2 59.6h1M61.2 14.0h1M27.2 41.1h1M51.6 14.3h1M30.4 68.2h1M44.8 15.0h1M47.2 62.2h1M30.0 61.1h1M61.6 17.1h1M26.7 48.2h1M27.5 33.0h1M59.3 46.5h1M51.7 59.9h1M27.1 34.7h1M45.0 14.8h1M61.5 20.4h1M50.8 58.2h1M28.2 35.6h1M64.9 33.8h1M62.9 39.0h1M51.2 60.6h1M27.1 55.4h1M53.5 15.4h1M59.8 14.1h1M27.5 33.2h1M62.5 38.2h1M44.5 68.3h1M28.2 30.8h1M66.0 29.8h1M58.4 51.2h1M31.0 26.4h1M61.7 43.8h1M26.8 35.5h1M45.7 64.0h1M48.8 63.2h1M26.8 36.1h1M51.2 58.4h1M62.5 37.3h1M49.7 14.1h1M55.9 55.8h1M36.5 19.9h1M59.2 46.7h1M27.1 48.8h1M58.6 15.4h1M55.1 14.8h1M56.2 53.8h1M64.1 38.3h1M55.6 53.6h1M61.7 14.1h1M66.5 31.9h1M35.9 20.5h1M30.3 27.3h1M30.1 29.0h1M45.7 66.1h1M27.3 55.1h1M27.1 53.1h1M63.1 22.8h1M64.8 19.1h1M27.5 49.6h1M29.5 65.4h1M59.5 49.4h1M28.5 30.9h1M65.3 22.5h1M44.8 16.9h1M27.5 69.9h1M66.2 29.8h1M27.9 50.4h1M58.8 50.7h1M65.0 32.6h1M27.7 68.5h1M53.2 56.2h1M28.6 65.3h1M41.3 67.0h1M26.9 54.7h1M30.3 64.7h1M27.7 62.5h1M55.7 15.5h1M26.7 40.5h1M58.1 16.8h1M62.5 38.1h1M27.4 67.7h1M36.3 72.0h1M33.3 72.7h1M37.7 74.9h1M50.0 61.6h1M40.0 70.1h1M43.7 67.1h1M38.4 72.8h1M45.0 67.2h1M40.6 68.4h1M29.0 62.1h1M35.3 73.4h1M28.3 67.8h1M41.3 67.4h1M29.9 68.9h1M30.8 69.8h1M40.4 71.6h1M29.1 65.7h1M45.8 64.5h1M41.0 70.1h1M28.7 68.8h1M42.2 67.5h1M28.0 65.2h1M28.5 68.1h1M52.4 58.7h1M44.6 66.8h1M40.4 71.4h1M40.1 71.2h1" stroke="rgb(90,90,188)" stroke-opacity="0.66" stroke-width="1" fill="none"/><path d="M61.5 37.2h1M56.1 50.3h1M38.2 21.8h1M29.4 37.2h1M58.7 19.9h1M55.7 17.5h1M59.4 16.4h1M59.3 16.1h1M41.9 18.5h1M63.7 25.4h1M58.5 18.1h1M29.3 37.2h1M63.5 27.5h1M59.3 45.4h1M41.2 66.9h1M55.7 52.5h1M59.4 44.1h1M37.6 21.8h1M62.9 27.4h1M45.4 17.3h1M57.8 19.4h1M40.4 19.9h1M48.5 60.1h1M62.0 37.1h1M45.8 62.2h1M54.3 53.3h1M62.5 40.4h1M62.1 22.1h1M57.4 50.5h1M28.3 56.3h1M27.0 44.8h1M63.7 29.7h1M63.3 31.2h1M63.3 25.7h1M31.7 68.1h1M55.8 16.4h1M29.7 66.7h1M54.9 51.4h1M38.9 69.1h1M63.1 32.8h1M54.4 55.0h1M49.1 61.0h1M57.0 17.3h1M63.0 33.0h1M37.2 68.0h1M29.6 68.0h1M30.5 29.9h1M32.1 27.6h1M59.9 18.5h1M54.6 51.1h1M61.8 36.5h1M35.8 68.3h1M47.2 61.3h1M60.2 42.5h1M28.5 41.1h1M27.3 46.4h1M29.2 35.7h1M54.9 53.6h1M51.5 15.7h1M58.5 45.5h1M31.1 61.9h1M30.6 62.0h1M28.4 47.5h1M30.3 32.9h1M62.5 32.2h1M60.1 41.8h1M61.1 42.2h1M62.6 26.0h1M41.0 20.0h1M49.6 15.4h1M32.1 27.7h1M55.2 53.1h1M28.4 49.2h1M58.3 19.2h1M50.7 15.4h1M27.8 39.0h1M29.5 33.3h1M33.2 64.3h1M46.9 61.1h1M53.9 54.4h1M63.2 28.5h1M59.2 17.7h1M36.0 69.2h1M55.6 52.7h1M56.1 52.0h1M42.8 66.8h1M30.8 63.5h1M30.4 58.8h1M35.8 69.8h1M31.5 66.9h1M56.1 50.6h1M36.2 68.5h1M28.6 40.5h1M27.8 56.4h1M29.3 59.6h1M28.9 57.5h1M36.5 68.9h1M36.5 71.1h1M35.7 71.6h1M36.9 67.5h1M35.9 67.1h1M31.0 68.2h1M37.0 67.1h1M33.0 68.5h1M36.1 69.4h1M32.7 69.1h1M31.1 65.2h1M40.4 66.0h1M36.1 71.6h1M38.9 71.7h1M39.4 71.1h1M35.6 68.4h1M30.9 65.5h1M32.6 67.4h1M36.5 68.8h1M41.3 66.6h1M32.7 69.0h1" stroke="rgb(84,84,183)" stroke-opacity="0.68" stroke-width="1" fill="none"/><path d="M54.4 53.0h1M59.5 39.9h1M40.1 21.6h1M31.1 29.4h1M61.1 23.6h1M40.3 21.6h1M47.1 17.8h1M32.5 28.9h1M39.9 21.9h1M61.0 23.4h1M58.4 20.7h1M62.2 24.9h1M61.9 29.0h1M62.1 25.5h1M56.2 18.8h1M33.7 26.3h1M61.9 27.0h1M27.7 43.4h1M29.2 55.7h1M53.5 52.7h1M48.0 59.5h1M28.3 43.0h1M44.2 63.0h1M29.6 36.2h1M28.4 46.0h1M57.6 21.8h1M31.9 60.2h1M30.5 54.8h1M41.5 20.0h1M56.3 47.5h1M34.3 60.1h1M61.5 23.3h1M38.4 68.8h1M27.9 46.4h1M62.4 30.4h1M36.0 63.2h1M27.7 44.9h1M61.5 24.2h1M59.5 39.1h1M56.9 20.9h1M30.2 56.8h1M44.9 60.7h1M60.4 40.0h1M47.0 17.4h1M57.4 21.8h1M54.9 50.8h1M28.0 46.9h1M36.1 66.5h1M43.7 62.1h1M29.8 36.3h1M55.8 47.2h1M55.6 49.5h1M29.7 34.1h1M53.7 17.6h1M53.9 17.5h1M29.1 46.2h1M34.9 64.3h1M37.1 68.1h1M34.4 62.7h1M53.6 17.9h1M31.0 31.4h1M57.5 20.5h1M33.4 63.8h1M43.3 19.4h1M36.1 66.0h1M31.0 31.2h1M32.3 58.4h1M28.9 43.0h1M28.9 51.9h1M56.8 19.4h1M63.1 29.1h1M62.2 32.0h1M31.3 32.9h1M56.2 19.3h1M61.8 31.6h1M32.3 59.8h1M60.3 40.9h1M60.9 35.7h1M30.4 56.4h1M32.8 59.1h1M30.9 36.7h1M59.3 20.2h1M44.4 63.0h1M59.5 40.9h1M41.6 64.9h1M34.2 62.2h1M37.3 64.0h1M37.9 65.1h1M61.4 33.7h1M31.9 59.3h1M30.2 57.6h1M60.9 35.2h1M44.2 19.0h1M40.1 65.3h1M61.3 33.5h1M59.2 42.4h1M37.3 65.1h1M40.3 21.4h1M30.7 33.5h1M50.4 16.1h1M59.4 43.8h1M58.1 43.1h1M45.7 61.0h1M49.1 16.4h1M29.8 54.1h1M28.8 54.9h1M51.0 55.7h1M60.0 38.8h1M34.9 66.9h1M36.6 66.7h1M61.6 32.7h1M32.8 65.4h1M61.6 29.9h1M29.0 54.1h1M34.3 59.5h1M35.3 63.3h1M38.3 69.8h1M29.9 37.2h1M34.4 60.8h1M44.3 62.7h1M31.1 34.0h1M46.0 60.5h1M33.0 61.6h1M58.6 42.8h1M48.2 16.1h1M35.0 66.4h1M28.6 42.4h1M29.6 36.3h1M32.4 58.4h1M56.7 21.8h1M35.9 64.2h1M30.3 55.5h1M40.0 20.4h1M46.8 59.1h1M50.7 16.9h1M30.1 34.1h1M29.3 54.8h1M29.8 54.0h1M61.0 33.6h1M30.7 57.5h1M31.7 58.5h1M40.1 64.3h1M35.0 66.7h1M35.7 63.0h1M33.8 65.5h1M41.8 64.8h1M49.6 56.0h1M33.6 59.7h1M39.7 65.1h1M42.5 64.7h1M34.6 66.8h1M40.2 65.5h1M32.8 63.0h1M50.5 57.4h1M33.7 65.6h1M34.3 60.7h1M36.1 65.3h1M42.4 64.5h1M34.0 65.4h1" stroke="rgb(77,77,179)" stroke-opacity="0.70" stroke-width="1" fill="none"/><path d="M50.8 53.3h1M30.9 50.1h1M57.4 44.1h1M56.5 21.9h1M53.2 18.6h1M57.0 22.6h1M32.5 32.0h1M32.4 32.1h1M36.0 24.8h1M59.6 34.5h1M53.6 19.4h1M57.4 22.2h1M36.4 25.3h1M36.3 24.8h1M36.7 23.7h1M55.1 21.0h1M61.5 27.7h1M46.7 18.2h1M35.0 26.1h1M35.6 25.5h1M51.6 18.4h1M35.1 26.9h1M61.5 31.3h1M39.4 22.9h1M32.1 57.6h1M32.5 30.7h1M34.3 56.6h1M31.8 57.0h1M56.7 45.1h1M31.1 52.8h1M50.5 18.0h1M31.1 39.7h1M47.0 58.3h1M37.8 64.5h1M43.2 61.5h1M46.6 18.5h1M48.9 56.6h1M33.0 27.5h1M56.5 22.9h1M31.0 38.9h1M33.7 56.9h1M33.3 58.5h1M49.2 57.6h1M31.6 31.7h1M36.2 24.4h1M33.3 28.7h1M48.9 57.3h1M35.2 60.1h1M61.4 27.4h1M29.7 50.8h1M59.7 35.2h1M60.7 24.7h1M32.0 57.6h1M61.3 31.3h1M54.4 19.1h1M61.2 24.2h1M55.1 48.8h1M61.2 29.3h1M59.9 23.1h1M31.3 50.7h1M42.6 62.9h1M35.7 25.9h1M59.8 36.7h1M31.0 53.8h1M40.5 63.5h1M31.3 39.5h1M50.6 17.6h1M30.2 51.6h1M49.6 55.4h1M41.6 62.9h1M56.0 21.4h1M41.6 20.4h1M49.5 17.8h1M46.4 59.1h1M47.7 17.9h1M29.8 50.0h1M34.2 27.2h1M50.1 54.2h1M30.2 41.4h1M47.6 17.1h1M34.9 61.8h1M58.8 39.2h1M45.9 58.2h1M51.2 53.7h1M31.1 52.9h1M59.7 36.7h1M31.3 53.5h1M50.5 17.8h1M37.9 62.5h1M32.1 31.9h1M31.1 54.0h1M34.4 57.2h1M60.9 25.1h1M45.0 19.4h1M32.3 56.1h1M30.5 54.5h1M40.4 63.8h1M31.3 50.5h1M44.7 59.8h1M34.0 58.3h1M35.8 60.1h1M60.6 25.1h1M35.9 61.1h1M34.3 56.9h1M50.7 17.6h1M43.1 20.9h1M31.0 56.0h1M46.2 18.8h1M30.1 42.3h1M60.7 32.1h1M46.8 58.1h1M28.5 44.7h1M60.6 26.3h1M31.0 52.7h1M49.4 57.7h1M58.6 36.0h1M29.6 41.5h1M43.1 62.5h1M60.0 23.8h1M53.5 18.5h1M36.3 61.3h1M50.1 56.0h1M32.0 29.9h1M28.6 43.6h1M29.1 45.3h1M29.5 49.2h1M42.2 61.9h1M42.0 62.1h1M31.0 39.7h1M31.3 53.1h1M52.0 53.0h1M51.7 17.6h1M46.2 58.8h1M58.7 37.2h1M44.2 60.5h1M49.9 17.6h1M41.3 21.2h1M58.6 37.5h1M39.7 63.3h1M43.3 63.9h1M38.6 63.7h1M37.5 62.1h1M45.4 59.1h1M36.2 60.8h1M36.1 61.9h1M35.8 62.1h1" stroke="rgb(71,71,174)" stroke-opacity="0.73" stroke-width="1" fill="none"/><path d="M42.1 58.0h1M58.4 39.3h1M54.5 47.2h1M37.4 24.6h1M31.5 35.2h1M45.1 20.6h1M45.2 20.8h1M57.6 23.7h1M49.4 18.6h1M55.9 22.4h1M53.5 21.8h1M46.2 19.9h1M59.6 29.9h1M51.5 19.0h1M44.4 21.0h1M56.3 22.8h1M36.3 26.8h1M55.9 22.7h1M50.0 18.8h1M32.1 34.2h1M53.7 20.5h1M50.8 18.1h1M30.1 46.2h1M47.4 57.1h1M31.3 40.8h1M30.5 47.3h1M59.0 36.0h1M41.3 60.2h1M58.2 24.0h1M49.6 53.4h1M29.8 44.6h1M31.2 41.7h1M37.6 61.5h1M57.7 40.8h1M41.2 60.8h1M53.2 20.0h1M52.2 19.0h1M34.9 59.1h1M52.1 52.5h1M50.8 18.8h1M30.9 42.8h1M41.9 60.6h1M45.4 58.1h1M31.9 52.3h1M32.1 48.4h1M54.2 50.8h1M37.5 61.9h1M57.0 23.3h1M51.8 52.0h1M37.9 61.5h1M31.8 35.3h1M39.6 60.1h1M60.5 31.4h1M42.5 61.0h1M60.1 30.1h1M42.6 60.7h1M38.0 59.2h1M57.9 42.2h1M41.3 62.0h1M48.0 56.2h1M30.7 46.7h1M38.7 60.3h1M55.9 45.5h1M39.6 22.7h1M59.3 34.6h1M59.6 24.3h1M59.6 32.9h1M47.2 57.2h1M41.5 59.3h1M45.1 58.6h1M42.8 60.6h1M58.0 40.4h1M34.4 55.4h1M32.8 54.5h1M30.4 46.6h1M32.2 50.3h1M31.3 40.6h1M34.0 54.1h1M59.2 35.4h1M31.5 54.0h1M42.4 59.5h1M30.6 46.5h1M58.1 38.8h1M59.0 34.1h1M46.5 19.9h1M50.4 18.5h1M31.0 48.9h1M56.3 45.6h1M47.0 57.0h1M52.3 19.5h1M32.1 34.4h1M45.0 58.3h1M35.0 27.9h1M39.7 60.9h1M30.3 45.7h1M41.1 61.9h1M40.1 62.4h1M38.3 23.1h1M34.7 59.2h1M57.7 39.7h1M60.0 32.7h1M42.8 59.4h1M31.6 52.2h1M30.6 42.3h1M29.6 48.0h1M31.6 52.2h1M40.1 61.9h1M36.5 61.0h1M60.2 28.4h1M58.9 34.2h1M43.4 60.2h1M32.3 36.3h1M32.4 34.6h1M41.9 59.9h1M57.5 39.8h1M31.4 46.1h1M31.7 52.9h1M39.5 60.3h1M58.0 42.5h1M29.8 44.8h1M59.1 34.4h1M59.0 33.6h1M40.1 60.1h1M38.2 59.7h1M59.6 24.8h1M32.7 55.8h1M48.0 56.0h1M47.8 56.8h1M31.7 52.0h1M29.9 44.2h1M53.5 20.0h1M30.1 43.1h1M31.8 37.6h1M29.9 43.9h1M58.1 40.6h1M38.0 59.5h1M42.4 58.1h1M48.8 55.2h1M38.5 59.3h1M41.8 60.9h1M49.3 55.6h1M35.2 58.6h1M40.1 62.2h1M38.3 59.6h1M39.2 60.6h1M35.6 59.7h1M39.9 62.4h1M36.6 61.0h1M40.7 62.3h1M36.6 62.1h1" stroke="rgb(65,65,170)" stroke-opacity="0.75" stroke-width="1" fill="none"/><path d="M53.6 49.5h1M58.2 35.9h1M57.5 42.4h1M33.3 50.3h1M32.6 50.2h1M46.3 57.0h1M52.8 21.2h1M52.5 21.2h1M33.2 36.8h1M45.6 20.3h1M52.1 20.6h1M50.7 20.6h1M32.9 36.3h1M58.9 30.8h1M53.9 22.8h1M50.1 19.8h1M41.5 22.7h1M33.7 36.0h1M52.3 20.8h1M52.8 22.4h1M33.9 29.3h1M46.8 19.7h1M51.5 19.8h1M32.6 38.0h1M59.3 25.5h1M33.3 32.2h1M38.8 23.7h1M52.5 50.4h1M59.8 27.5h1M32.1 41.8h1M45.3 22.0h1M55.0 22.9h1M57.1 42.8h1M58.0 37.1h1M47.8 55.0h1M53.1 22.9h1M56.8 42.3h1M59.1 26.6h1M45.0 21.7h1M32.6 50.9h1M39.8 59.8h1M36.6 58.8h1M31.3 45.6h1M33.2 38.1h1M33.6 53.9h1M52.2 52.0h1M31.3 43.7h1M40.4 58.3h1M46.0 57.4h1M52.8 21.9h1M38.1 58.5h1M51.7 21.6h1M32.3 40.0h1M31.0 44.6h1M48.7 19.6h1M33.7 53.5h1M36.1 57.8h1M40.4 58.9h1M33.6 53.3h1M52.5 21.3h1M31.7 46.2h1M57.9 37.0h1M58.1 33.5h1M32.4 46.4h1M54.7 22.8h1M32.8 31.9h1M57.7 33.5h1M59.1 24.2h1M47.9 19.1h1M47.3 56.5h1M54.5 46.9h1M57.9 34.8h1M39.1 58.1h1M45.3 21.7h1M38.7 58.6h1M58.7 26.2h1M45.4 21.7h1M44.7 21.6h1M46.6 55.8h1M33.2 37.2h1M48.6 19.4h1M39.0 23.3h1M58.9 25.2h1M33.1 51.7h1M51.9 51.1h1M31.5 49.7h1M39.0 59.2h1M32.5 35.6h1M31.8 49.7h1M39.7 59.6h1M48.9 19.3h1M49.7 19.9h1M46.6 56.9h1M43.1 57.3h1M41.5 59.9h1M57.6 34.9h1M32.7 53.3h1M58.9 28.5h1M56.5 44.9h1M49.1 54.8h1M32.3 39.5h1M31.4 44.7h1M37.0 58.1h1M58.6 33.0h1M46.6 55.3h1M49.3 19.1h1M32.4 46.2h1M33.1 52.6h1M39.3 59.4h1M32.6 38.5h1M32.8 51.8h1M46.4 56.6h1M59.6 27.8h1M58.9 28.4h1M45.9 57.0h1M53.4 21.1h1M45.0 21.1h1M47.5 19.3h1M58.8 30.9h1M33.3 52.6h1M51.4 20.7h1M36.0 57.1h1M38.7 58.7h1M47.6 55.3h1M47.0 55.5h1M59.6 27.5h1M45.3 57.4h1M59.0 29.4h1M37.3 58.5h1M32.7 53.1h1M47.1 55.3h1M60.4 27.4h1M55.1 46.0h1M35.4 56.8h1M42.8 21.5h1M58.0 24.9h1M44.1 57.1h1M30.8 44.9h1M36.3 57.4h1M39.5 23.7h1M39.9 59.5h1M48.6 53.6h1" stroke="rgb(60,61,167)" stroke-opacity="0.77" stroke-width="1" fill="none"/><path d="M35.2 54.0h1M50.9 51.2h1M35.3 53.1h1M41.3 57.1h1M49.8 52.5h1M50.4 52.2h1M32.3 42.9h1M56.9 41.7h1M34.4 52.0h1M46.3 21.6h1M48.8 20.8h1M41.5 23.6h1M47.6 20.6h1M33.9 31.5h1M40.9 23.6h1M58.7 27.7h1M35.8 27.1h1M34.0 32.3h1M50.4 21.9h1M43.1 22.6h1M37.1 26.9h1M56.6 25.4h1M51.2 21.8h1M34.5 28.4h1M49.5 20.0h1M52.2 22.4h1M46.4 21.4h1M33.6 32.3h1M33.6 30.5h1M56.7 25.8h1M45.9 21.9h1M35.9 27.4h1M54.5 23.9h1M33.8 31.5h1M36.5 27.8h1M34.8 35.7h1M49.2 21.3h1M56.6 34.2h1M58.1 29.9h1M47.1 20.9h1M56.8 25.6h1M57.1 24.4h1M57.0 32.6h1M57.4 38.3h1M56.7 24.6h1M32.4 44.0h1M57.9 32.4h1M56.1 23.7h1M58.4 26.3h1M39.4 57.6h1M34.9 28.2h1M50.4 52.5h1M33.8 32.1h1M56.6 33.4h1M33.9 37.5h1M58.4 32.0h1M35.0 36.0h1M57.7 32.0h1M55.3 45.7h1M34.2 52.6h1M35.0 36.7h1M33.6 34.2h1M57.1 32.4h1M44.7 56.1h1M34.5 34.4h1M57.9 26.0h1M54.7 23.6h1M34.0 33.1h1M50.2 20.7h1M34.8 54.7h1M56.9 24.2h1M34.8 55.2h1M50.0 20.4h1M48.0 54.6h1M33.7 36.8h1M57.9 32.2h1M58.3 26.8h1M57.6 25.1h1M34.8 35.9h1M43.3 22.3h1M33.5 30.6h1M58.2 29.7h1M49.4 21.1h1M34.9 55.6h1M33.5 40.8h1M57.3 36.8h1M45.5 55.2h1M57.2 41.0h1M31.5 42.2h1M58.2 30.1h1M33.8 33.7h1M46.2 21.2h1M40.9 57.7h1M59.2 27.8h1M56.7 35.3h1M58.2 30.2h1M31.7 42.2h1M33.1 39.5h1M41.1 57.9h1M48.6 20.8h1M31.8 44.5h1M42.8 22.3h1M57.5 39.3h1M57.8 25.4h1M33.6 31.1h1M57.3 35.1h1M36.8 56.5h1M58.2 30.3h1M34.2 33.5h1M47.6 54.8h1M31.9 45.4h1M38.2 57.8h1M33.3 41.4h1M35.0 36.3h1M56.8 41.6h1M35.0 53.4h1M32.9 41.7h1M34.4 32.2h1M33.0 48.4h1M40.6 57.8h1M33.1 39.6h1M57.5 25.1h1M58.5 28.2h1M32.5 44.8h1M33.7 52.3h1M46.3 21.3h1M34.0 37.6h1M57.2 33.2h1M59.0 27.1h1M34.9 55.4h1M34.1 34.6h1M31.9 45.0h1M34.1 38.9h1M32.4 42.4h1M57.2 36.0h1M34.0 52.8h1M35.2 54.3h1M49.0 20.6h1M57.6 29.8h1M59.0 27.8h1M34.4 38.8h1M34.1 52.3h1M37.6 57.0h1M38.4 57.6h1" stroke="rgb(58,61,165)" stroke-opacity="0.80" stroke-width="1" fill="none"/><path d="M45.8 54.1h1M51.9 50.9h1M37.6 56.4h1M43.3 55.6h1M45.8 54.2h1M38.2 55.2h1M52.4 50.3h1M53.1 49.7h1M35.4 51.6h1M32.9 47.4h1M55.5 39.8h1M36.1 55.0h1M56.1 42.7h1M46.2 54.2h1M46.7 54.7h1M56.2 39.5h1M35.1 37.6h1M45.4 22.7h1M34.6 34.4h1M39.0 24.8h1M35.3 32.6h1M34.9 32.6h1M53.4 23.9h1M36.4 28.7h1M34.8 29.1h1M56.9 28.6h1M37.6 25.5h1M45.4 22.4h1M56.7 26.5h1M39.1 24.0h1M34.6 34.7h1M38.0 25.3h1M34.5 29.4h1M38.7 24.4h1M44.0 22.6h1M38.9 24.7h1M35.1 30.6h1M34.8 29.5h1M35.3 32.6h1M57.4 30.5h1M45.0 22.9h1M34.6 33.7h1M41.6 23.4h1M42.3 23.6h1M56.9 26.3h1M43.3 57.0h1M34.3 48.9h1M34.8 29.3h1M33.1 47.3h1M44.1 55.0h1M35.3 30.6h1M56.9 28.2h1M35.1 37.2h1M57.0 30.0h1M49.4 52.3h1M55.6 24.4h1M34.0 49.2h1M32.7 47.3h1M33.4 47.4h1M51.4 22.7h1M43.8 56.0h1M37.8 56.7h1M52.7 23.6h1M49.4 52.6h1M35.5 55.0h1M34.9 29.7h1M36.3 54.7h1M47.7 53.5h1M33.0 45.9h1M46.5 21.7h1M33.4 48.0h1M35.2 33.2h1M36.5 55.4h1M35.1 32.2h1M33.5 45.7h1M56.0 39.7h1M52.7 23.0h1M34.3 40.8h1M34.6 30.7h1M33.1 42.3h1M57.8 27.5h1M34.4 40.4h1M33.7 40.7h1M55.8 39.8h1M36.1 55.5h1M47.8 22.0h1M57.2 37.9h1M39.9 57.8h1M56.1 43.0h1M43.4 56.0h1M35.1 37.8h1M44.4 56.0h1M32.6 46.8h1M55.7 41.4h1M35.0 38.2h1M46.8 54.7h1M38.4 56.4h1M54.4 47.5h1M33.8 41.0h1M57.1 28.9h1M41.9 23.3h1M37.4 54.2h1M56.1 24.4h1M38.4 55.9h1M32.6 46.3h1M35.5 38.2h1M55.8 40.9h1M33.1 47.5h1M35.5 54.9h1M34.0 39.2h1M35.5 52.4h1M34.9 51.6h1M33.1 47.1h1M35.1 52.5h1M56.9 28.3h1M32.9 46.2h1M58.4 27.8h1M55.9 41.0h1M34.4 40.0h1M47.6 53.8h1M32.6 44.7h1M44.7 22.7h1M58.1 27.2h1M33.1 47.1h1M53.2 23.8h1M35.4 52.1h1M33.0 42.4h1M57.9 27.3h1M55.7 24.6h1M38.3 56.7h1M32.6 44.9h1M34.4 39.5h1M33.3 46.3h1M57.0 37.5h1M32.5 43.4h1M35.2 38.6h1M56.7 37.0h1M55.7 42.2h1M37.0 54.4h1M34.4 50.0h1M36.6 54.6h1M33.0 45.7h1M33.6 49.4h1M37.9 55.4h1M42.4 57.0h1" stroke="rgb(56,60,163)" stroke-opacity="0.82" stroke-width="1" fill="none"/><path d="M50.5 50.7h1M54.6 34.0h1M54.9 35.9h1M54.8 44.1h1M47.3 53.4h1M50.4 51.4h1M53.2 48.5h1M34.4 41.6h1M55.6 34.0h1M54.9 35.1h1M41.8 56.0h1M48.5 22.3h1M36.0 30.8h1M36.1 30.9h1M47.2 22.3h1M40.5 24.1h1M36.5 29.2h1M49.0 22.1h1M43.7 23.6h1M44.0 23.5h1M42.8 23.7h1M45.2 23.6h1M36.1 30.0h1M36.2 30.0h1M35.9 30.7h1M56.5 29.5h1M39.7 24.8h1M48.6 22.8h1M37.0 28.0h1M50.1 22.5h1M36.2 30.1h1M39.3 25.3h1M46.3 22.5h1M38.2 26.4h1M35.0 39.8h1M47.9 22.0h1M36.0 34.9h1M45.7 22.6h1M57.5 27.1h1M45.4 23.3h1M36.3 34.4h1M40.7 25.0h1M38.8 25.8h1M36.3 34.7h1M36.3 29.1h1M48.9 22.5h1M36.2 33.4h1M54.1 24.0h1M52.9 24.3h1M49.5 22.6h1M36.5 33.1h1M56.1 34.6h1M37.3 27.6h1M37.6 26.8h1M53.1 24.7h1M48.8 22.9h1M35.6 31.1h1M43.5 23.9h1M44.7 23.8h1M56.1 39.0h1M56.9 29.8h1M35.0 39.1h1M56.4 34.7h1M36.9 27.4h1M35.3 40.6h1M39.4 56.2h1M54.7 34.1h1M55.2 34.7h1M44.5 54.5h1M41.5 24.2h1M33.8 42.0h1M52.5 48.4h1M57.1 27.1h1M41.6 55.6h1M50.6 50.6h1M43.4 24.0h1M55.5 25.8h1M42.5 55.7h1M56.0 36.9h1M55.1 33.8h1M49.0 22.5h1M37.6 54.7h1M55.8 34.7h1M55.1 35.3h1M53.6 46.2h1M55.2 24.3h1M36.3 33.7h1M56.2 37.0h1M54.6 44.8h1M45.0 54.0h1M38.6 56.2h1M50.4 51.6h1M35.7 30.8h1M34.9 50.8h1M37.9 54.8h1M42.0 55.0h1M34.9 39.2h1M33.7 48.0h1M39.8 56.1h1M46.6 53.5h1M57.5 29.0h1M52.7 24.5h1M35.9 33.7h1M49.5 22.1h1M38.6 56.6h1M38.1 54.1h1M36.5 37.2h1M35.6 31.1h1M39.4 25.2h1M45.7 22.1h1M50.4 51.4h1M34.3 47.3h1M56.4 33.1h1M46.8 53.8h1M35.5 31.5h1M35.8 31.7h1M49.9 22.0h1M37.5 26.8h1M36.3 35.6h1M38.4 54.2h1M44.7 54.2h1M54.2 46.6h1M39.0 55.0h1M55.5 34.8h1M51.6 23.2h1M44.5 54.8h1M54.8 35.2h1M35.0 39.7h1M44.7 23.9h1M55.8 25.7h1M35.5 36.4h1M45.0 54.3h1M45.5 23.1h1M35.3 40.2h1M34.2 47.0h1M55.4 44.7h1M34.3 41.6h1M40.2 24.6h1M55.8 33.8h1M57.1 29.0h1M35.4 39.1h1M35.2 39.6h1M37.3 27.6h1M37.7 54.3h1M36.4 34.1h1M39.3 55.9h1M37.6 26.2h1M45.2 54.7h1M55.8 34.0h1M37.9 54.8h1M51.9 23.3h1M36.4 38.0h1" stroke="rgb(53,59,162)" stroke-opacity="0.85" stroke-width="1" fill="none"/><path d="M36.2 51.1h1M39.3 54.5h1M46.2 53.1h1M35.3 48.6h1M43.2 54.2h1M51.6 49.3h1M51.8 49.7h1M53.0 48.0h1M34.3 43.0h1M49.0 23.9h1M50.6 23.3h1M50.5 23.3h1M36.9 28.3h1M53.9 25.9h1M50.7 23.5h1M52.7 47.7h1M53.3 47.8h1M43.6 54.5h1M35.2 47.3h1M54.3 25.6h1M55.5 36.3h1M39.9 55.9h1M42.2 54.7h1M54.5 32.0h1M38.9 54.5h1M34.2 43.2h1M34.1 43.0h1M53.4 25.2h1M34.6 47.9h1M37.1 28.2h1M41.1 55.9h1M39.4 54.8h1M33.7 45.7h1M41.8 54.0h1M56.5 31.7h1M36.4 38.5h1M56.3 32.6h1M34.8 48.7h1M47.8 52.8h1M33.8 45.4h1M33.9 45.7h1M55.7 30.9h1M51.9 50.0h1M53.1 25.9h1M47.9 52.9h1M42.8 54.2h1M36.5 38.3h1M54.7 36.4h1M56.0 26.8h1M34.2 43.5h1M56.1 31.3h1M43.2 54.1h1M56.4 31.6h1M40.6 55.2h1M42.0 54.4h1M55.8 32.3h1M35.8 53.0h1M40.1 25.3h1M34.0 43.1h1M42.7 54.6h1M42.0 54.9h1M54.6 31.5h1M54.0 25.3h1M43.1 54.8h1M55.1 31.5h1M41.9 54.5h1M33.6 44.6h1M55.0 32.2h1M35.6 51.6h1M42.0 55.0h1M36.3 38.3h1M52.7 47.3h1M38.7 54.8h1M44.4 54.3h1M39.7 25.7h1M34.9 48.7h1M51.6 49.3h1M55.9 32.4h1M52.8 47.3h1M54.6 25.3h1M51.4 23.8h1" stroke="rgb(51,59,160)" stroke-opacity="0.87" stroke-width="1" fill="none"/><path d="M54.4 35.8h1M37.6 53.2h1M34.7 46.5h1M35.9 49.3h1M35.9 50.6h1M55.3 31.0h1M55.3 41.1h1M55.3 41.6h1M38.4 53.0h1M54.3 45.8h1M36.4 50.2h1M41.1 54.4h1M41.1 25.7h1M52.5 24.8h1M51.5 24.2h1M53.5 35.2h1M55.6 27.5h1M55.6 27.7h1M36.9 37.9h1M47.9 24.0h1M56.4 27.9h1M53.8 26.4h1M39.4 26.8h1M41.5 24.5h1M37.3 36.9h1M46.0 23.8h1M55.2 28.1h1M54.3 32.6h1M54.9 30.1h1M39.0 26.8h1M40.6 25.8h1M47.3 23.7h1M54.6 26.7h1M55.4 26.2h1M41.1 25.8h1M47.1 23.3h1M38.2 27.9h1M50.3 23.3h1M54.6 27.6h1M37.4 36.1h1M55.1 27.2h1M36.7 29.7h1M38.0 27.1h1M48.2 23.1h1M40.8 54.5h1M54.9 39.5h1M37.0 37.9h1M38.1 53.5h1M41.4 25.9h1M55.1 41.3h1M40.6 25.8h1M54.1 26.3h1M34.9 46.4h1M40.2 54.6h1M36.4 49.5h1M41.2 25.7h1M56.2 29.7h1M49.7 23.6h1M54.4 26.7h1M34.8 42.2h1M53.9 26.4h1M35.0 42.3h1M56.0 27.3h1M55.1 30.8h1M47.2 23.5h1M55.4 37.2h1M36.0 50.7h1M35.4 46.3h1M55.2 26.2h1M55.8 29.8h1M49.2 51.0h1M54.4 45.3h1M55.2 40.9h1M53.8 32.8h1M37.1 35.8h1M54.3 35.4h1M37.6 27.6h1M35.0 46.4h1M47.1 23.7h1M55.4 39.5h1M35.0 43.8h1M56.2 29.4h1M55.3 41.0h1M38.0 53.5h1M54.9 26.7h1M54.9 39.7h1M55.1 27.8h1M35.4 45.2h1M40.4 54.6h1M54.3 32.2h1M36.0 39.5h1M34.8 46.9h1M55.0 37.6h1M35.7 51.0h1M54.6 41.7h1M36.0 49.6h1M38.2 53.7h1M53.6 31.3h1M55.2 40.2h1M55.1 37.3h1M35.4 42.0h1M55.1 30.8h1M55.5 30.6h1M54.3 35.1h1M37.5 36.3h1M53.9 35.6h1M35.3 45.5h1M34.9 46.2h1M49.4 51.8h1M55.3 28.6h1M37.1 52.6h1M54.9 39.7h1M55.2 30.3h1M53.8 32.0h1M54.8 39.0h1M56.5 27.9h1M54.8 42.3h1M55.4 39.8h1M55.0 39.4h1M35.9 50.0h1M37.0 36.7h1M56.0 29.4h1M36.2 39.5h1M36.2 50.9h1M35.1 45.3h1M35.3 43.9h1M35.4 45.7h1M38.3 53.8h1M37.3 52.1h1M54.7 39.3h1M54.6 39.8h1M37.8 53.6h1M36.9 35.5h1M35.3 42.8h1M54.2 32.0h1" stroke="rgb(49,58,158)" stroke-opacity="0.89" stroke-width="1" fill="none"/><path d="M50.8 49.2h1M54.2 43.2h1M53.0 46.2h1M54.2 37.6h1M53.8 37.8h1M53.7 43.8h1M36.4 48.9h1M51.6 48.5h1M53.7 43.3h1M35.6 45.8h1M44.9 53.8h1M52.7 26.9h1M38.2 28.4h1M54.4 28.3h1M45.3 24.8h1M54.1 27.7h1M54.3 27.1h1M39.9 26.7h1M52.8 26.3h1M36.6 30.3h1M40.2 26.6h1M52.8 27.3h1M53.7 28.9h1M42.6 24.4h1M36.8 33.3h1M53.3 26.2h1M52.6 26.9h1M49.2 24.3h1M49.2 24.0h1M38.3 28.7h1M52.7 27.8h1M48.7 24.5h1M44.8 24.3h1M55.4 29.8h1M52.8 27.3h1M36.6 33.3h1M44.4 24.9h1M39.7 26.5h1M52.2 25.1h1M40.3 26.9h1M43.8 24.9h1M44.7 24.5h1M36.7 30.1h1M39.9 26.3h1M52.1 25.1h1M37.4 32.8h1M49.5 24.8h1M40.4 26.9h1M37.3 32.6h1M54.2 28.8h1M54.3 37.6h1M37.3 31.9h1M53.5 43.6h1M36.3 41.7h1M53.5 36.4h1M53.0 26.9h1M54.4 27.6h1M54.4 27.9h1M51.3 49.7h1M54.4 28.6h1M35.5 47.5h1M50.5 24.8h1M36.9 33.9h1M52.9 26.4h1M37.1 33.7h1M39.7 26.6h1M36.7 30.6h1M52.2 25.8h1M35.6 40.7h1M48.9 24.5h1M54.2 27.4h1M36.7 34.9h1M54.4 44.3h1M54.2 44.0h1M55.4 29.6h1M53.5 43.3h1M54.1 36.3h1M49.9 50.4h1M35.9 41.3h1M42.7 24.7h1M54.1 43.2h1M36.7 31.2h1M53.7 37.2h1M36.1 47.8h1M37.5 51.4h1M53.1 27.5h1M52.9 26.8h1M36.0 41.0h1M43.6 24.4h1M52.6 47.0h1M55.0 29.3h1M52.7 46.0h1M35.5 48.2h1M36.3 45.6h1M40.4 26.7h1M49.7 24.8h1M36.4 41.4h1M35.3 44.2h1M37.2 30.1h1M35.7 45.1h1M52.8 26.3h1M37.4 31.2h1M54.9 29.8h1M36.9 34.9h1M36.2 47.0h1M53.6 36.9h1M36.4 47.0h1M54.5 30.7h1M36.1 45.5h1M49.5 24.2h1M34.8 44.7h1M54.2 43.1h1M54.3 43.0h1M36.3 41.5h1M52.6 26.2h1M54.2 36.2h1M36.3 40.8h1M54.1 37.4h1M34.7 44.2h1M45.0 53.8h1M35.8 40.2h1M54.6 29.9h1M36.5 51.0h1M54.0 44.1h1M50.3 50.5h1M53.6 28.3h1" stroke="rgb(47,60,159)" stroke-opacity="0.92" stroke-width="1" fill="none"/><path d="M35.8 44.5h1M54.1 40.9h1M37.8 52.0h1M38.3 52.5h1M36.6 50.3h1M43.5 53.3h1M36.0 46.6h1M36.6 40.2h1M42.6 53.0h1M54.0 41.5h1M37.2 49.6h1M44.3 53.6h1M43.8 54.0h1M54.4 38.8h1M40.6 26.6h1M42.2 25.7h1M38.0 37.0h1M51.4 25.5h1M39.6 27.9h1M38.2 32.0h1M37.6 29.3h1M38.6 27.6h1M53.4 31.7h1M52.6 34.2h1M48.8 25.9h1M46.0 24.5h1M40.4 27.8h1M38.0 31.6h1M49.4 25.5h1M40.5 26.1h1M52.1 26.5h1M37.8 29.7h1M37.9 32.3h1M38.7 27.6h1M51.8 26.5h1M52.0 26.9h1M50.5 25.1h1M38.9 27.7h1M46.6 24.4h1M38.0 31.4h1M38.4 32.0h1M53.3 32.7h1M49.4 25.8h1M48.0 25.0h1M42.2 26.0h1M41.0 26.8h1M52.7 28.7h1M45.6 24.1h1M37.9 32.5h1M52.6 35.1h1M38.1 32.9h1M37.2 40.9h1M53.5 38.8h1M53.3 35.7h1M46.3 52.1h1M37.8 35.1h1M46.1 24.1h1M41.4 26.7h1M39.6 27.6h1M38.4 32.3h1M43.1 53.1h1M38.0 31.8h1M37.8 38.7h1M54.0 42.8h1M53.0 32.1h1M53.0 33.2h1M54.1 29.3h1M52.7 35.7h1M53.0 31.8h1M37.3 40.4h1M38.2 36.8h1M39.0 27.8h1M35.8 46.2h1M38.4 31.3h1M52.5 45.8h1M52.5 34.5h1M37.8 37.2h1M49.0 25.2h1M37.3 49.8h1M37.5 50.7h1M37.6 30.0h1M53.1 30.6h1M53.2 33.0h1M44.3 53.5h1M52.6 34.5h1M48.2 24.6h1M36.8 39.7h1M48.0 51.6h1M47.6 24.2h1M37.7 29.5h1M54.3 40.5h1M52.8 34.6h1M51.5 26.8h1M53.2 32.7h1M38.8 53.3h1M37.2 49.1h1M53.3 28.6h1M53.1 34.1h1M53.2 32.9h1M52.6 30.2h1M43.4 53.1h1M38.1 31.6h1M49.0 25.1h1M52.8 28.9h1M52.9 28.4h1M42.6 53.5h1M48.7 25.9h1M37.8 31.6h1M54.4 42.9h1M53.7 29.6h1M50.4 25.2h1M52.0 26.2h1M38.2 52.4h1M52.9 34.4h1M38.0 31.5h1M41.9 25.6h1M53.3 28.4h1M35.7 44.1h1M54.4 41.5h1M51.8 26.4h1M38.4 52.5h1M49.9 25.0h1M37.7 37.6h1M52.8 32.3h1M53.3 35.2h1M38.1 38.4h1M53.4 31.1h1M54.1 39.6h1M37.7 35.6h1M47.4 24.3h1M37.9 30.8h1M38.3 29.1h1M38.5 37.8h1M44.3 53.3h1M54.4 42.3h1M35.6 43.8h1M37.5 38.9h1M39.2 53.8h1M38.4 38.2h1M38.1 31.3h1M38.9 27.3h1M53.6 40.7h1M53.2 30.2h1M35.8 43.5h1M52.8 32.0h1M38.3 32.4h1M36.7 49.0h1M46.2 25.0h1M52.5 34.9h1M37.0 39.6h1M54.2 39.4h1M44.5 53.2h1M51.3 25.5h1M53.6 42.1h1M52.9 33.6h1M48.0 51.4h1M43.3 53.6h1M36.5 42.4h1M35.8 44.1h1M38.1 30.5h1M52.7 34.9h1M36.8 49.3h1M39.3 53.5h1M37.7 37.2h1M53.7 38.9h1M52.6 32.4h1M42.4 25.7h1M52.7 35.8h1M39.7 27.1h1M54.0 41.1h1M53.0 34.2h1M36.5 39.7h1M53.4 28.8h1M49.4 25.9h1M54.4 39.1h1M54.3 38.7h1M46.3 24.3h1M37.2 49.3h1" stroke="rgb(47,66,161)" stroke-opacity="0.94" stroke-width="1" fill="none"/><path d="M37.1 43.0h1M37.4 48.8h1M50.6 48.2h1M41.6 54.0h1M50.5 48.4h1M50.6 48.9h1M37.5 41.6h1M48.8 50.3h1M52.5 36.1h1M51.5 48.1h1M37.0 43.3h1M49.1 50.8h1M42.0 53.1h1M42.9 25.2h1M50.6 26.9h1M39.4 28.7h1M37.2 43.5h1M38.9 36.1h1M48.0 25.3h1M45.2 25.8h1M47.9 25.6h1M37.5 33.8h1M53.2 29.1h1M38.6 38.2h1M43.0 25.2h1M39.4 28.3h1M39.4 37.0h1M48.0 25.5h1M39.2 28.4h1M39.5 36.3h1M50.6 26.0h1M39.1 36.7h1M42.6 25.3h1M36.8 43.0h1M52.7 29.8h1M39.9 53.5h1M47.6 25.0h1M38.9 36.2h1M37.6 39.9h1M39.2 37.9h1M52.3 47.9h1M53.4 29.7h1M39.3 36.7h1M39.2 37.9h1M50.5 26.2h1M42.1 53.3h1M37.0 41.6h1M41.9 53.1h1M40.4 53.5h1M37.4 41.3h1M53.2 37.9h1M52.4 31.2h1M52.6 37.5h1M53.1 29.6h1M40.0 53.4h1M52.2 27.5h1M48.9 51.0h1M52.0 27.7h1M52.7 29.6h1M52.2 47.4h1M39.2 37.8h1M38.1 39.9h1M53.3 37.6h1M49.3 50.1h1M53.1 29.4h1M37.2 43.0h1M39.4 38.2h1M52.1 47.7h1M51.4 26.6h1M51.9 27.5h1M45.0 26.0h1M39.3 37.4h1M38.0 33.4h1M38.3 33.7h1M38.6 37.9h1M49.4 50.2h1M42.5 26.0h1M52.8 29.9h1M36.9 43.0h1M51.5 30.1h1M40.4 53.4h1M52.1 47.0h1M53.0 36.2h1M38.9 38.5h1M40.4 53.9h1M41.5 53.3h1M41.9 53.7h1M51.7 27.3h1M52.7 37.9h1M51.9 31.1h1M51.3 48.1h1M51.7 30.3h1M37.2 48.3h1" stroke="rgb(46,72,163)" stroke-opacity="0.96" stroke-width="1" fill="none"/><path d="M37.6 51.0h1M41.5 54.0h1M49.8 49.6h1M38.7 52.1h1M52.7 44.5h1M44.6 52.1h1M41.0 53.1h1M38.8 52.0h1M40.5 53.7h1M37.8 51.9h1M39.0 52.8h1M37.3 45.4h1M37.7 51.8h1M36.6 42.4h1M41.4 53.2h1M37.1 47.4h1M45.0 52.2h1M36.6 45.2h1M36.8 44.1h1M39.3 52.7h1M50.2 50.0h1M50.3 49.5h1M37.2 46.4h1M37.5 47.9h1M40.3 28.9h1M51.5 33.0h1M41.6 26.3h1M49.3 26.7h1M41.0 27.8h1M39.1 31.4h1M51.3 27.9h1M48.9 26.3h1M38.7 34.5h1M46.5 25.8h1M51.9 28.7h1M40.8 27.9h1M51.7 29.5h1M39.5 31.6h1M38.6 34.3h1M46.6 25.3h1M46.7 25.1h1M41.4 27.3h1M50.4 26.4h1M49.4 26.2h1M38.9 35.2h1M42.2 26.5h1M52.1 29.4h1M42.1 26.5h1M52.3 33.1h1M38.7 29.4h1M40.0 28.6h1M41.0 27.1h1M48.9 26.5h1M40.0 28.6h1M44.9 52.6h1M38.6 29.3h1M39.4 32.4h1M51.7 28.9h1M38.8 39.7h1M50.5 26.6h1M52.0 29.0h1M37.2 42.1h1M39.1 52.7h1M50.4 49.6h1M39.0 39.4h1M52.1 29.5h1M39.1 34.5h1M38.4 40.7h1M40.9 27.8h1M37.4 42.9h1M37.1 42.3h1M39.3 33.3h1M38.6 35.9h1M37.1 46.4h1M52.3 29.0h1M39.3 39.3h1M37.0 47.9h1M39.4 35.3h1M40.6 27.7h1M41.7 26.6h1M38.3 51.1h1M38.6 40.0h1M47.4 25.7h1M40.8 53.8h1M37.0 45.5h1M41.3 53.9h1M37.3 46.0h1M38.6 39.5h1M39.7 29.0h1M37.3 46.0h1M47.3 25.4h1M51.2 27.7h1M39.1 31.4h1M38.6 33.4h1M51.8 32.0h1M53.2 43.2h1M39.1 52.7h1M48.8 26.6h1M37.0 44.8h1M45.9 25.8h1M39.2 32.6h1M37.5 40.9h1M45.8 25.0h1M46.0 25.5h1M38.8 35.7h1M49.7 26.5h1M36.8 42.2h1M37.2 42.2h1M45.4 52.4h1M48.5 26.4h1M36.7 46.6h1M39.2 29.8h1M47.2 25.2h1M49.4 26.5h1M47.0 25.6h1M42.1 26.5h1M41.0 53.0h1M51.9 33.4h1M36.6 46.9h1M51.7 34.8h1M36.8 42.2h1M52.3 32.8h1M39.0 32.5h1M41.2 53.0h1M37.2 45.3h1M37.3 44.1h1M52.7 43.1h1M37.1 44.2h1M36.8 45.8h1M41.3 53.1h1M36.6 45.7h1M52.5 29.0h1M40.2 29.0h1M36.9 44.4h1M38.5 52.9h1M51.4 27.1h1M37.4 46.3h1M39.2 30.1h1M49.7 49.2h1M38.1 41.0h1M39.0 39.7h1M50.1 49.8h1M36.7 42.6h1M50.7 27.8h1M38.7 39.9h1M40.2 28.2h1M49.2 26.9h1M37.2 44.0h1M39.0 39.7h1" stroke="rgb(46,77,166)" stroke-opacity="0.99" stroke-width="1" fill="none"/><path d="M53.1 41.9h1M50.7 47.6h1M46.5 51.1h1M51.5 46.3h1M52.4 46.1h1M51.0 33.0h1M53.4 41.7h1M52.8 40.5h1M47.9 50.6h1M48.1 50.6h1M38.3 49.4h1M52.2 46.5h1M52.9 41.8h1M53.4 42.0h1M52.7 39.8h1M50.6 47.3h1M52.2 46.2h1M38.4 49.0h1M53.1 41.1h1M52.3 46.3h1M38.3 50.8h1M53.2 42.0h1M38.1 41.9h1M37.6 42.9h1M51.1 47.0h1M50.6 28.9h1M50.8 30.4h1M49.0 27.2h1M50.0 27.9h1M48.0 26.8h1M48.2 26.1h1M47.6 27.0h1M39.8 33.7h1M40.0 33.7h1M51.4 33.5h1M47.0 26.9h1M48.1 26.5h1M40.4 29.1h1M39.8 31.9h1M42.3 27.1h1M37.8 42.0h1M42.1 27.6h1M42.4 27.1h1M48.9 27.3h1M46.5 26.6h1M51.5 32.2h1M47.6 26.8h1M49.0 27.8h1M42.2 27.8h1M51.4 30.0h1M51.3 31.5h1M39.9 31.0h1M45.7 27.0h1M48.7 27.7h1M43.3 26.9h1M51.1 30.7h1M40.0 33.6h1M43.5 26.8h1M49.6 27.3h1M40.1 30.8h1M39.8 34.0h1M50.9 32.0h1M40.3 30.0h1M50.8 31.0h1M51.0 31.8h1M51.3 47.9h1M52.7 39.6h1M53.1 41.6h1M48.2 26.0h1M49.2 27.9h1M41.7 27.6h1M39.7 36.7h1M37.9 41.9h1M38.1 49.3h1M39.5 30.4h1M45.6 26.9h1M44.1 26.7h1M40.2 38.6h1M39.1 40.0h1M40.4 32.2h1M53.0 42.3h1M50.7 30.6h1M38.5 49.4h1M51.8 35.2h1M39.6 30.1h1M39.9 38.1h1M40.0 32.9h1M42.7 26.5h1M53.4 40.7h1M51.4 32.7h1M51.4 30.7h1M39.7 32.4h1M39.9 32.1h1M51.2 48.0h1M47.2 51.9h1M39.9 32.1h1M52.7 39.9h1M39.6 38.3h1M40.3 36.2h1M40.3 32.4h1M52.5 40.5h1M51.4 33.7h1M40.4 36.7h1M46.6 26.9h1M52.9 39.5h1M39.7 32.1h1M42.4 27.9h1M51.5 28.2h1M48.7 27.4h1M53.4 39.2h1M51.2 28.3h1M39.8 36.4h1M51.0 32.0h1M51.7 46.1h1M51.2 32.9h1M40.2 38.9h1M47.7 26.8h1M53.4 42.4h1M39.7 37.9h1M44.4 26.7h1M39.6 33.3h1M38.1 50.8h1M39.6 37.2h1M37.6 41.6h1M38.0 41.5h1M39.6 29.4h1M40.0 37.2h1M40.2 31.4h1M40.2 30.5h1M51.5 35.7h1M46.8 51.1h1M53.0 42.4h1M39.4 41.0h1M50.9 47.8h1M38.3 42.8h1M40.2 30.7h1M52.7 40.4h1M48.2 26.8h1M39.6 38.0h1M40.0 30.4h1M39.6 33.3h1M52.6 39.2h1M39.7 31.0h1M40.2 39.0h1M38.6 40.3h1M45.6 26.4h1M52.9 39.6h1M40.4 38.9h1M51.3 33.2h1M37.8 49.6h1M51.1 31.3h1M38.9 40.6h1M51.4 32.9h1M46.9 52.0h1M40.4 29.7h1M51.2 31.2h1M40.1 38.1h1M52.6 42.9h1M51.1 47.5h1M47.8 50.7h1M39.6 36.7h1M50.2 27.3h1M51.8 35.6h1M51.3 31.4h1M40.2 33.8h1M38.4 41.1h1M38.8 40.7h1" stroke="rgb(45,83,168)" stroke-opacity="1.00" stroke-width="1" fill="none"/><path d="M49.6 48.5h1M52.1 45.2h1M43.5 52.7h1M51.4 29.9h1M38.2 43.7h1M51.6 37.7h1M52.1 37.5h1M44.2 52.2h1M52.1 45.6h1M46.1 51.5h1M50.2 48.5h1M38.5 41.3h1M52.4 45.8h1M51.8 45.8h1M50.7 29.0h1M49.8 28.7h1M40.6 28.0h1M49.8 28.6h1M42.9 27.9h1M44.7 26.6h1M50.2 31.2h1M39.6 34.7h1M50.3 28.8h1M51.3 34.2h1M49.9 34.0h1M45.4 26.9h1M42.7 27.4h1M49.6 31.0h1M40.9 28.2h1M43.3 27.8h1M47.9 27.8h1M39.7 34.9h1M50.2 30.8h1M49.9 31.5h1M49.6 31.5h1M42.8 28.0h1M43.8 27.7h1M41.0 28.0h1M40.1 35.9h1M39.9 34.4h1M39.3 41.3h1M42.6 27.8h1M40.0 39.8h1M38.3 43.7h1M51.1 35.8h1M40.1 52.3h1M42.7 27.6h1M50.1 33.7h1M50.1 28.9h1M49.7 33.1h1M52.0 36.3h1M47.7 27.1h1M43.5 27.5h1M52.2 45.1h1M39.5 51.5h1M50.0 30.9h1M51.8 36.5h1M44.3 27.5h1M48.5 28.2h1M39.7 35.2h1M51.6 36.4h1M50.1 48.2h1M44.8 26.4h1M50.0 48.9h1M44.4 27.4h1M50.3 28.1h1M44.5 27.5h1M49.6 31.7h1M39.4 51.2h1M39.7 39.1h1M49.7 31.8h1M48.1 27.4h1M50.7 30.0h1M52.1 45.3h1M50.0 30.9h1M45.9 51.4h1M39.0 51.7h1M47.5 27.0h1M47.9 27.5h1M52.0 37.4h1M47.7 27.4h1M52.2 37.0h1M37.9 43.8h1M45.9 51.2h1M44.1 27.2h1M50.6 34.5h1M38.8 42.0h1M40.4 39.4h1M40.4 34.4h1M50.1 33.2h1M39.9 34.6h1M49.1 28.9h1M51.0 34.1h1M38.0 43.9h1M51.4 34.4h1M50.6 35.2h1M40.5 39.2h1M39.9 35.5h1M38.9 41.4h1M45.4 26.9h1M39.6 35.6h1M37.8 43.6h1M39.7 34.1h1M46.3 51.6h1M51.8 37.6h1M51.2 35.8h1M41.0 28.0h1M50.1 28.2h1M48.5 28.7h1M45.0 26.2h1M45.2 26.3h1M39.3 41.7h1M48.4 27.2h1M52.4 36.3h1M51.5 37.0h1M40.0 34.3h1M49.8 33.6h1M38.5 41.8h1M45.5 26.8h1M44.3 52.6h1M39.2 51.3h1M45.5 51.9h1M39.4 41.3h1M40.0 35.6h1M43.5 27.6h1" stroke="rgb(45,89,170)" stroke-opacity="1.00" stroke-width="1" fill="none"/><path d="M39.4 42.8h1M51.2 37.8h1M38.2 48.8h1M41.9 52.9h1M37.6 47.9h1M41.5 52.8h1M42.7 52.3h1M40.4 40.6h1M42.3 52.1h1M38.2 45.8h1M38.4 47.1h1M41.1 52.6h1M41.0 37.6h1M41.4 36.0h1M38.3 47.4h1M45.6 27.1h1M41.7 28.0h1M41.9 28.7h1M49.8 34.4h1M41.3 33.5h1M41.7 28.3h1M41.2 31.2h1M41.2 37.4h1M41.5 31.3h1M48.7 32.7h1M44.8 27.1h1M46.1 27.9h1M41.1 31.9h1M41.8 28.9h1M41.1 30.0h1M41.1 30.6h1M48.6 30.0h1M46.8 27.5h1M46.2 27.7h1M41.1 32.5h1M40.5 29.4h1M45.7 27.1h1M46.5 27.1h1M42.0 28.7h1M49.1 32.7h1M41.3 33.0h1M46.9 27.0h1M41.2 35.3h1M49.5 30.7h1M41.3 30.9h1M49.0 31.5h1M49.7 29.4h1M41.1 31.2h1M41.3 37.1h1M49.4 30.7h1M47.1 28.0h1M49.1 31.0h1M44.6 27.7h1M41.2 30.8h1M46.0 27.1h1M49.9 29.2h1M41.0 30.2h1M46.4 27.1h1M40.7 29.7h1M49.2 29.5h1M41.3 34.9h1M40.6 39.0h1M50.0 32.6h1M40.8 32.9h1M50.7 37.0h1M41.1 30.7h1M40.6 36.2h1M51.5 36.4h1M40.8 35.2h1M42.3 28.6h1M50.5 37.7h1M49.6 32.8h1M44.5 27.4h1M38.0 45.0h1M48.5 30.9h1M40.7 31.2h1M50.3 29.0h1M51.1 36.8h1M40.6 38.6h1M50.0 34.1h1M49.3 31.9h1M40.9 37.0h1M48.7 30.1h1M40.8 36.2h1M51.2 36.1h1M49.5 32.2h1M51.4 37.3h1M40.8 32.1h1M50.5 32.8h1M48.9 49.2h1M40.6 36.6h1M41.4 38.5h1M40.7 35.8h1M45.1 27.8h1M40.7 37.6h1M41.8 52.2h1M51.4 36.8h1M45.5 27.3h1M37.8 46.4h1M50.7 37.9h1M42.0 52.6h1M50.3 35.0h1M40.8 31.5h1M49.5 34.8h1M41.2 36.0h1M40.8 33.4h1M38.6 42.2h1M41.4 33.8h1M37.8 47.9h1M41.3 38.8h1M49.6 35.1h1M50.3 32.8h1M45.8 27.6h1M49.2 32.2h1M40.6 38.0h1M41.5 29.9h1M41.4 29.5h1M42.8 52.7h1M41.4 30.1h1M45.2 27.7h1M38.3 47.5h1M38.3 44.1h1M40.6 32.1h1M50.2 34.9h1M49.4 32.6h1M50.7 37.0h1M50.5 35.8h1M50.6 36.8h1M39.2 42.3h1M39.0 42.1h1M50.3 35.1h1M48.7 49.7h1M49.0 29.1h1M39.8 40.4h1M51.4 37.1h1M50.0 29.6h1M37.8 45.3h1M40.9 37.0h1M38.2 45.0h1M37.8 46.5h1M40.9 34.1h1M41.4 34.5h1M37.9 44.7h1M42.1 28.1h1M38.9 42.1h1M40.2 40.6h1M40.6 37.2h1M49.4 30.4h1M45.5 27.6h1M37.8 47.0h1M50.6 37.0h1M48.5 32.0h1M49.4 30.5h1M41.4 33.6h1M37.8 45.2h1M51.3 36.7h1M49.6 29.3h1M48.9 32.1h1M49.5 35.9h1M50.3 34.5h1M40.9 38.4h1M50.1 34.7h1M41.1 35.1h1M37.8 45.6h1M50.1 35.2h1M40.8 36.9h1M41.4 31.7h1" stroke="rgb(45,96,170)" stroke-opacity="1.00" stroke-width="1" fill="none"/><path d="M39.4 49.5h1M38.6 50.0h1M51.6 43.3h1M51.5 44.7h1M40.1 51.9h1M38.5 50.2h1M38.6 43.3h1M51.7 38.0h1M38.6 44.0h1M46.6 50.9h1M39.1 50.9h1M51.3 46.5h1M41.2 39.9h1M38.8 49.5h1M51.2 46.7h1M52.1 44.9h1M51.8 43.7h1M50.7 46.4h1M51.8 44.2h1M52.2 44.3h1M44.9 51.6h1M52.4 44.1h1M52.2 38.3h1M52.2 38.8h1M45.0 51.6h1M52.0 43.5h1M51.1 46.2h1M52.5 44.7h1M52.2 45.0h1M42.4 32.1h1M43.1 28.9h1M49.0 33.1h1M42.6 28.8h1M42.7 28.1h1M48.5 35.1h1M42.1 32.9h1M47.8 28.5h1M42.4 31.1h1M48.8 33.4h1M42.6 28.8h1M49.5 34.9h1M42.2 32.4h1M42.7 28.3h1M42.5 32.1h1M42.2 31.1h1M44.8 51.2h1M42.5 31.7h1M52.2 38.0h1M48.8 34.1h1M46.9 50.9h1M41.8 32.8h1M39.4 49.3h1M49.8 36.4h1M41.4 39.2h1M49.1 35.6h1M42.0 32.5h1M49.9 36.3h1M40.8 39.9h1M52.2 44.4h1M49.5 34.1h1M48.6 33.1h1M48.5 28.6h1M45.2 51.2h1M51.0 46.4h1M49.4 33.3h1M50.9 46.3h1M49.0 33.7h1M49.4 34.7h1M51.2 46.2h1M49.1 34.6h1M48.9 33.9h1M49.5 34.9h1M48.3 28.5h1M50.8 46.3h1M38.8 43.1h1M42.1 31.4h1M38.8 50.5h1M41.6 32.3h1M48.6 33.5h1M49.5 36.4h1M42.5 31.1h1M49.4 36.0h1M49.1 34.9h1M50.4 36.5h1M41.9 32.6h1M38.9 50.6h1M52.1 38.8h1M38.9 43.3h1M51.8 38.2h1M52.4 38.8h1M49.3 35.5h1M42.1 32.1h1M39.1 49.9h1M49.7 36.1h1M39.3 49.3h1M42.4 32.4h1M49.0 33.5h1M39.2 49.4h1M38.9 43.5h1M48.7 35.3h1M52.4 43.3h1" stroke="rgb(45,105,168)" stroke-opacity="1.00" stroke-width="1" fill="none"/><path d="M50.5 37.5h1M52.4 42.8h1M51.9 41.6h1M45.4 36.8h1M39.6 41.6h1M47.9 35.1h1M50.1 47.8h1M51.8 42.1h1M42.0 38.3h1M49.5 47.6h1M48.5 36.8h1M51.5 40.5h1M52.5 42.7h1M45.5 36.1h1M51.7 40.0h1M48.9 36.7h1M51.7 41.8h1M52.1 40.8h1M52.0 42.8h1M50.2 47.7h1M51.7 41.6h1M51.7 41.8h1M52.0 41.4h1M51.7 40.4h1M48.3 35.4h1M48.5 35.4h1M45.4 28.5h1M42.5 33.3h1M42.7 36.9h1M41.9 34.7h1M42.0 37.2h1M43.6 28.3h1M48.1 29.1h1M48.1 29.4h1M45.8 28.2h1M44.1 28.0h1M42.5 34.4h1M44.7 28.1h1M41.7 29.6h1M45.3 29.0h1M42.3 29.6h1M42.0 34.0h1M47.5 28.4h1M42.2 29.8h1M45.7 28.2h1M42.3 29.7h1M48.1 31.1h1M48.2 32.0h1M42.1 30.4h1M41.9 34.3h1M48.7 36.2h1M47.9 30.1h1M48.0 30.3h1M42.3 35.8h1M44.7 28.8h1M41.8 34.7h1M46.0 28.9h1M46.5 28.7h1M45.5 28.0h1M50.2 37.0h1M47.9 29.7h1M42.2 35.0h1M48.2 31.4h1M43.3 36.7h1M39.8 41.2h1M42.4 35.3h1M41.6 37.5h1M48.6 36.6h1M42.8 36.6h1M52.2 41.8h1M47.6 29.6h1M52.4 40.3h1M41.8 35.0h1M42.4 35.5h1M45.0 36.6h1M45.8 28.1h1M44.5 36.3h1M44.0 28.7h1M41.7 37.6h1M42.5 37.2h1M42.2 29.4h1M40.2 41.0h1M41.7 36.2h1M52.2 43.0h1M50.8 38.3h1M47.3 29.0h1M46.9 28.2h1M51.8 41.2h1M48.1 29.4h1M41.7 33.3h1M42.2 37.5h1M48.1 30.1h1M48.2 31.7h1M48.8 36.4h1M42.5 33.2h1M42.0 36.9h1M44.8 36.7h1M42.0 34.7h1M42.0 29.1h1M49.5 47.3h1M42.3 39.0h1M52.5 41.4h1M43.2 36.5h1M46.3 28.1h1M49.4 36.1h1M42.3 37.4h1M51.8 42.4h1M42.1 37.7h1M42.2 36.0h1M43.9 28.6h1M48.2 30.0h1M42.5 36.4h1M43.6 28.9h1M44.6 28.8h1M42.1 37.0h1M42.3 38.0h1M51.5 39.1h1M40.2 41.4h1M49.2 36.8h1M45.0 28.3h1M41.7 29.5h1M51.9 41.8h1M41.8 30.8h1M50.7 38.1h1M51.6 41.0h1M40.4 42.0h1M43.3 36.7h1M42.0 34.2h1M42.0 37.9h1M42.2 36.6h1M42.2 31.0h1M41.5 29.1h1M47.7 29.1h1M48.4 30.1h1M50.1 37.2h1M44.5 36.8h1M47.5 28.2h1M41.8 38.5h1M45.5 28.9h1M41.8 37.8h1M48.2 31.1h1M48.2 31.8h1M52.3 40.5h1M42.2 36.7h1M50.7 38.0h1M45.2 36.9h1M45.4 29.0h1M48.3 30.1h1" stroke="rgb(45,114,165)" stroke-opacity="1.00" stroke-width="1" fill="none"/><path d="M39.5 50.7h1M38.6 45.5h1M51.0 45.2h1M40.1 50.7h1M38.9 48.2h1M41.2 51.1h1M51.0 39.8h1M39.7 50.1h1M40.0 50.7h1M51.1 39.4h1M43.7 51.9h1M40.7 51.0h1M51.4 45.2h1M41.3 51.2h1M40.7 40.6h1M40.3 42.9h1M39.6 50.7h1M46.3 50.7h1M38.6 45.1h1M40.0 50.9h1M43.7 51.8h1M40.4 50.8h1M38.8 45.8h1M38.6 44.3h1M45.6 50.1h1M40.9 51.4h1M39.7 50.9h1M47.5 49.2h1M39.4 48.9h1M39.3 45.2h1M43.6 31.9h1M45.4 33.9h1M43.1 33.7h1M47.4 33.9h1M42.9 31.6h1M44.5 31.6h1M43.6 29.8h1M44.3 31.4h1M45.0 30.2h1M46.4 33.0h1M44.5 34.8h1M44.7 31.9h1M44.0 34.9h1M45.1 30.2h1M46.8 29.6h1M44.4 29.9h1M45.3 31.8h1M46.1 32.6h1M45.6 29.7h1M47.5 33.3h1M46.8 35.1h1M47.3 29.8h1M46.6 35.1h1M45.2 35.6h1M44.2 36.5h1M47.0 31.9h1M42.9 30.5h1M46.8 29.9h1M43.8 29.2h1M44.8 30.1h1M45.1 33.5h1M44.4 35.5h1M44.4 31.6h1M44.8 30.3h1M47.2 30.8h1M43.9 32.8h1M47.2 32.3h1M47.0 30.5h1M43.0 29.7h1M46.8 29.4h1M48.2 32.5h1M44.5 31.7h1M44.3 32.4h1M45.7 30.3h1M42.9 32.6h1M46.5 30.0h1M46.8 30.8h1M45.4 35.7h1M42.7 29.4h1M43.0 31.2h1M46.9 31.6h1M45.2 33.7h1M46.7 30.4h1M43.9 33.7h1M46.4 31.4h1M42.9 31.8h1M45.9 32.2h1M45.8 32.3h1M46.9 32.8h1M43.6 35.8h1M43.3 31.1h1M44.9 33.7h1M43.9 29.8h1M46.2 33.2h1M47.6 33.4h1M44.4 33.5h1M47.1 31.5h1M42.8 29.9h1M46.1 35.9h1M46.1 34.7h1M44.0 34.3h1M43.3 33.7h1M48.5 32.4h1M43.8 31.2h1M47.0 31.2h1M51.1 39.7h1M47.1 34.5h1M45.1 31.6h1M47.5 31.3h1M45.5 35.6h1M45.3 33.7h1M43.7 29.3h1M47.1 35.8h1M44.8 30.3h1M45.1 35.3h1M45.3 31.8h1M47.2 29.6h1M43.7 29.0h1M46.2 50.8h1M41.4 40.4h1M39.7 50.5h1M47.7 49.0h1M40.3 50.7h1M47.1 35.9h1M48.2 33.3h1M38.7 48.5h1M44.4 36.5h1M47.5 35.9h1M42.6 32.8h1M40.9 51.4h1M45.7 34.2h1M48.1 34.4h1M46.6 35.8h1M45.9 34.7h1M39.1 44.2h1M45.4 35.6h1M45.8 32.0h1M45.6 29.8h1M46.1 30.2h1M45.6 34.1h1M51.4 39.4h1M45.6 30.8h1M46.3 34.0h1M48.4 32.8h1M44.9 33.2h1M43.5 36.7h1M41.1 40.3h1M44.0 35.6h1M43.0 30.1h1M40.3 50.5h1M45.6 31.2h1M45.9 32.0h1M51.0 45.2h1M46.1 31.9h1M46.1 35.9h1M43.5 31.3h1M44.3 35.5h1M46.1 34.8h1M47.9 49.9h1M47.6 34.1h1M46.5 33.3h1M46.6 30.4h1M45.0 33.1h1M47.2 32.0h1M46.6 29.4h1M44.4 36.3h1M46.9 35.2h1M44.1 29.2h1M51.4 45.3h1M48.4 34.8h1M42.6 29.8h1M44.1 31.1h1M44.4 29.3h1M40.1 50.6h1M44.3 29.3h1M44.0 32.4h1M43.5 33.4h1M45.8 33.9h1M46.2 34.4h1M46.5 31.0h1M47.4 35.6h1M44.0 30.4h1M44.1 30.8h1M42.5 32.4h1M46.2 35.6h1M45.3 35.1h1M38.6 45.3h1M44.1 33.0h1M51.5 39.6h1M46.1 50.7h1M39.8 42.7h1M47.6 32.4h1M47.5 33.2h1M46.9 34.5h1M44.3 51.0h1M45.1 30.3h1M45.5 31.6h1M44.3 31.7h1M44.2 30.9h1M42.7 32.0h1M42.8 32.1h1M46.3 31.3h1M46.1 35.4h1M43.9 31.0h1M46.7 35.3h1M43.1 32.3h1M39.6 50.4h1M43.7 30.3h1M46.4 34.4h1M51.0 45.6h1M46.1 30.6h1M48.3 34.8h1M46.6 32.0h1M43.7 31.4h1M46.3 34.9h1M40.3 50.7h1M44.5 35.7h1M48.1 34.6h1M45.8 35.7h1M45.2 31.7h1M45.5 30.4h1M48.0 32.1h1M47.4 33.8h1M38.6 48.1h1M40.6 41.0h1M43.2 30.0h1M44.2 37.0h1M45.3 35.7h1M39.6 42.7h1M46.0 32.4h1M43.7 30.1h1M46.7 35.2h1M46.0 30.6h1M45.3 35.9h1M46.5 31.4h1M45.9 31.4h1M43.6 35.0h1M45.7 32.3h1M42.7 31.6h1M43.6 30.1h1M47.3 32.6h1M46.3 32.4h1M44.0 33.5h1M51.5 39.9h1M46.3 34.7h1M46.4 29.5h1M39.5 42.9h1M44.0 34.1h1M45.5 32.8h1M39.5 42.3h1M46.1 33.7h1M46.0 29.3h1M51.5 45.8h1M40.5 51.0h1M48.0 34.3h1M46.4 35.5h1M46.2 31.7h1M48.0 32.9h1M48.3 34.9h1M47.5 29.3h1M47.1 32.5h1M40.7 51.4h1" stroke="rgb(45,123,163)" stroke-opacity="1.00" stroke-width="1" fill="none"/><path d="M46.7 36.3h1M40.7 41.8h1M46.5 36.3h1M38.6 46.9h1M39.9 49.4h1M39.9 49.2h1M39.8 49.1h1M43.1 38.9h1M40.2 49.7h1M40.2 49.2h1M49.8 38.5h1M50.1 38.6h1M49.8 38.3h1M48.7 37.1h1M47.5 36.9h1M40.4 49.4h1M49.0 48.9h1M38.7 47.5h1M48.9 48.9h1M39.6 49.5h1M50.0 38.7h1M38.9 46.4h1M41.8 51.7h1M42.4 51.1h1M46.8 36.9h1M42.7 51.5h1M38.6 46.4h1M44.9 29.5h1M42.6 34.2h1M43.1 38.6h1M42.9 34.8h1M43.4 35.7h1M43.4 38.9h1M43.0 34.2h1M42.7 35.5h1M44.9 29.8h1M45.1 29.5h1M44.6 32.6h1M38.8 46.3h1M48.9 37.4h1M49.1 48.5h1M45.9 36.7h1M42.7 38.6h1M42.7 34.4h1M42.7 37.9h1M49.7 38.8h1M45.1 32.4h1M39.3 46.9h1M41.9 51.1h1M39.5 47.2h1M45.2 32.3h1M38.5 47.5h1M44.8 32.4h1M44.9 29.2h1M44.9 34.9h1M42.4 51.6h1M42.7 34.1h1M45.1 32.3h1M48.9 48.0h1M42.8 37.7h1M42.7 51.1h1M44.6 34.7h1M42.7 35.9h1M49.0 37.3h1M45.4 32.2h1M45.2 32.5h1M38.9 47.9h1M42.4 51.5h1M48.1 36.5h1M42.6 38.2h1M47.0 36.3h1M49.4 37.2h1M45.0 32.5h1M44.8 29.8h1M48.0 36.8h1M50.4 38.8h1M45.1 34.1h1M42.9 38.3h1M42.6 38.5h1M43.5 35.5h1M43.4 38.9h1M45.0 34.8h1M43.0 37.8h1M42.0 51.9h1M48.9 48.5h1M43.3 51.3h1M46.1 36.6h1M49.0 48.5h1M45.3 32.6h1M46.5 37.0h1M40.8 42.0h1M43.4 37.4h1M49.0 37.6h1M43.4 34.4h1M49.0 37.7h1M42.6 37.4h1M47.8 36.4h1M39.0 47.1h1M46.0 36.7h1M41.8 51.4h1M40.9 41.4h1M49.3 48.7h1M49.8 38.1h1M49.2 48.0h1M42.7 34.6h1M40.5 41.5h1M45.4 29.2h1M49.6 38.2h1M48.9 48.3h1M44.7 32.9h1M49.3 48.9h1M42.8 37.1h1M46.2 36.5h1M38.8 46.9h1M43.0 34.5h1M48.6 48.3h1M42.9 35.1h1" stroke="rgb(45,132,160)" stroke-opacity="1.00" stroke-width="1" fill="none"/><path d="M51.3 43.1h1M50.0 46.8h1M45.4 50.7h1M50.7 44.3h1M46.7 49.5h1M50.7 44.9h1M51.2 42.0h1M50.1 46.4h1M50.9 45.0h1M50.6 43.6h1M45.2 50.4h1M50.9 40.1h1M51.0 43.2h1M40.2 43.7h1M49.7 46.0h1M40.7 42.7h1M50.7 40.8h1M51.0 44.3h1M39.6 43.1h1M51.0 42.8h1M50.6 42.8h1M50.7 42.6h1M47.4 49.0h1M50.9 42.7h1M47.7 37.5h1M45.4 50.3h1M50.4 46.7h1M40.9 42.5h1M42.5 40.7h1M51.3 43.6h1M50.0 46.8h1M44.9 50.1h1M46.7 49.7h1M50.5 44.8h1M50.6 44.7h1M50.7 41.2h1M47.1 49.0h1M50.6 44.8h1M47.1 49.1h1M47.2 49.9h1M42.0 40.9h1M40.0 43.9h1M44.9 50.6h1M51.4 40.2h1M47.1 49.6h1M48.2 37.1h1M51.2 43.7h1M48.0 37.6h1M51.0 42.7h1M50.6 43.6h1M42.9 39.4h1M51.5 42.5h1M51.1 42.3h1M42.3 40.1h1M43.9 38.5h1M43.0 39.0h1M45.0 37.4h1M51.1 43.6h1M43.0 39.1h1M44.0 37.4h1M40.5 43.3h1M44.4 37.6h1M49.9 46.6h1M43.8 37.3h1M51.5 41.0h1M48.2 37.6h1M41.8 40.9h1M46.7 49.3h1M44.1 38.6h1M50.5 44.6h1M46.7 49.9h1M51.3 41.7h1M50.3 46.5h1M45.3 37.7h1M43.9 38.7h1M40.8 42.2h1M47.0 49.7h1M40.7 42.2h1M44.6 37.9h1M44.5 37.9h1M44.1 37.7h1M50.7 41.8h1M48.3 37.5h1M43.9 38.3h1M51.3 41.8h1M44.2 38.6h1M40.2 43.7h1M44.2 38.1h1M44.2 38.1h1M46.8 49.4h1M41.0 42.9h1M45.3 50.8h1M47.8 37.4h1M43.5 38.7h1M48.2 37.5h1M43.8 38.6h1M39.7 43.0h1M42.6 39.3h1M44.5 50.2h1M43.3 39.8h1M43.6 38.7h1M41.3 42.5h1M39.7 43.2h1M43.8 38.2h1M42.8 39.3h1M50.7 45.0h1M50.7 43.1h1M44.0 37.5h1M40.5 43.7h1M44.8 37.6h1M44.3 37.1h1M44.6 50.3h1M47.4 49.4h1M43.9 38.1h1M44.7 37.8h1M42.3 40.0h1M44.7 37.0h1" stroke="rgb(50,139,151)" stroke-opacity="1.00" stroke-width="1" fill="none"/><path d="M40.5 50.2h1M50.1 39.7h1M49.9 39.7h1M49.0 38.5h1M46.3 37.9h1M49.8 39.8h1M49.1 38.1h1M48.9 47.0h1M40.9 50.1h1M49.0 47.7h1M40.8 50.3h1M41.0 50.0h1M40.5 50.6h1M50.3 39.4h1M48.8 38.5h1M49.4 47.3h1M47.6 48.2h1M41.4 50.8h1M49.6 39.9h1M47.1 37.7h1M50.4 39.3h1M41.2 50.4h1M44.4 39.8h1M49.3 38.2h1M49.1 38.5h1M45.4 38.4h1M46.6 37.3h1M46.7 37.6h1M48.3 48.9h1M49.4 47.1h1M50.2 39.7h1M47.1 37.9h1M41.2 50.7h1M44.3 39.0h1M49.2 38.1h1M40.7 50.7h1M44.5 38.9h1M50.4 39.0h1M47.5 48.1h1M49.4 47.2h1M45.4 38.2h1M48.5 47.1h1M45.4 38.6h1M48.7 38.2h1M49.5 38.0h1M44.9 38.1h1M49.2 38.8h1M46.8 37.8h1M45.8 37.8h1M43.9 40.0h1M49.2 47.6h1M50.2 39.0h1M45.7 37.0h1M43.6 39.5h1M47.3 38.0h1M48.0 48.2h1" stroke="rgb(57,145,138)" stroke-opacity="1.00" stroke-width="1" fill="none"/><path d="M43.6 50.5h1M40.2 48.8h1M40.8 49.8h1M40.6 49.3h1M42.5 50.3h1M44.7 39.5h1M41.6 51.0h1M40.0 44.5h1M41.3 49.8h1M41.4 49.6h1M43.9 50.5h1M44.7 39.1h1M39.9 44.8h1M45.3 39.4h1M41.5 49.6h1M41.4 49.6h1M50.3 40.1h1M41.5 49.3h1M42.2 51.0h1M44.6 39.7h1M49.6 45.8h1M42.3 50.0h1M41.2 49.2h1M39.7 48.9h1M40.1 48.6h1M40.9 49.8h1M44.1 50.6h1M49.9 45.2h1M40.0 49.0h1M39.5 48.8h1M43.6 50.5h1M41.6 41.0h1M45.3 39.0h1M41.5 50.5h1M40.9 49.3h1M50.3 45.1h1M45.2 39.9h1M39.6 48.7h1M43.6 50.9h1M39.8 44.0h1M44.6 39.6h1M40.6 49.2h1M40.6 49.3h1M44.2 50.8h1M50.3 40.9h1M39.6 48.4h1M42.2 41.9h1M45.1 39.8h1M40.1 44.9h1M49.9 40.9h1M49.6 45.9h1M40.1 48.8h1M48.1 38.0h1M44.1 50.4h1M41.8 50.4h1M47.7 38.9h1M39.8 44.5h1M40.2 48.8h1M40.3 48.0h1M39.7 48.1h1M50.2 40.6h1M40.0 48.3h1M44.4 50.7h1" stroke="rgb(64,151,126)" stroke-opacity="1.00" stroke-width="1" fill="none"/><path d="M39.6 46.0h1M49.5 43.3h1M49.0 39.3h1M46.1 49.6h1M43.0 40.9h1M42.9 40.6h1M41.4 43.7h1M45.8 49.9h1M41.2 43.7h1M49.5 39.3h1M41.0 43.8h1M50.4 44.4h1M50.4 45.0h1M42.0 42.5h1M49.2 40.0h1M48.8 39.6h1M41.9 42.5h1M49.7 41.1h1M49.4 39.9h1M41.3 43.3h1M41.1 43.7h1M50.0 44.8h1M50.3 44.7h1M50.2 41.7h1M50.5 41.4h1M41.3 43.8h1M46.0 49.9h1M49.3 39.2h1M49.2 39.0h1M50.2 42.2h1M42.8 50.3h1M40.3 45.9h1M43.3 41.0h1M50.3 43.0h1M49.7 42.6h1M50.1 41.2h1M41.4 43.6h1M46.6 38.1h1M48.6 39.3h1M49.1 39.9h1M45.8 49.1h1M43.2 51.0h1M50.0 43.8h1M43.3 50.1h1M49.2 39.6h1M45.9 49.9h1M40.0 45.5h1M41.3 43.9h1M45.6 38.1h1M50.4 43.4h1M43.0 50.5h1M41.9 42.2h1M42.2 42.6h1M46.0 38.3h1M39.8 45.6h1M49.6 42.3h1M49.9 42.7h1M49.5 43.2h1M43.1 40.5h1M42.1 42.5h1M49.2 39.1h1M42.8 40.9h1M50.4 42.0h1M41.9 42.2h1M50.1 42.9h1M43.1 50.1h1M47.1 38.3h1M46.8 38.0h1M46.1 49.4h1M42.9 50.7h1M41.3 43.8h1M41.5 43.5h1M48.7 39.2h1M50.1 41.7h1M43.2 50.6h1M49.7 44.4h1M47.2 38.2h1M49.1 39.3h1M50.4 41.1h1M42.6 50.7h1M49.1 39.7h1M47.1 38.4h1M46.5 38.1h1M41.2 43.3h1M39.5 45.1h1M40.2 45.7h1M49.4 39.4h1M41.2 43.8h1M48.7 39.8h1M40.2 46.0h1M49.2 39.8h1M42.2 42.7h1M50.3 41.6h1M46.6 38.8h1M49.9 42.2h1M46.4 38.5h1M42.5 40.8h1M39.9 45.9h1M46.3 49.1h1M50.1 41.4h1M49.6 43.4h1M49.7 41.1h1" stroke="rgb(71,158,113)" stroke-opacity="1.00" stroke-width="1" fill="none"/><path d="M40.0 47.2h1M40.2 46.4h1M44.7 49.5h1M39.7 47.9h1M45.9 40.0h1M46.7 48.5h1M40.2 48.0h1M46.7 48.2h1M44.7 49.9h1M45.6 39.8h1M42.5 49.0h1M45.5 39.2h1M47.8 47.8h1M44.6 49.1h1M44.6 49.3h1M45.4 49.6h1M47.7 47.7h1M41.7 49.7h1M40.1 47.0h1M42.4 49.4h1M46.7 48.2h1M47.3 48.7h1M40.2 47.8h1M47.5 39.1h1M40.1 47.7h1M46.7 48.4h1M47.6 47.9h1M41.8 49.0h1M45.5 49.5h1M46.6 48.1h1M48.2 47.0h1M45.7 39.2h1M47.1 48.5h1M47.2 48.6h1M48.1 39.6h1M45.1 50.0h1M47.7 39.8h1M40.2 47.3h1M47.9 47.6h1M40.1 46.9h1M45.3 49.9h1M47.9 39.0h1M47.7 47.3h1M45.8 39.9h1M41.9 49.5h1M40.0 47.2h1M48.1 47.3h1M47.9 48.0h1M42.4 49.5h1M47.0 48.7h1M45.6 39.2h1M47.6 47.5h1M47.0 48.7h1M46.9 48.9h1M44.6 49.2h1M45.1 49.2h1M47.9 47.3h1M45.5 39.0h1M46.4 39.7h1M47.7 39.7h1M46.1 39.7h1" stroke="rgb(79,164,101)" stroke-opacity="1.00" stroke-width="1" fill="none"/><path d="M41.1 44.7h1M42.0 43.9h1M47.3 39.3h1M46.6 39.3h1M41.1 48.9h1M40.7 44.6h1M40.6 48.6h1M48.9 46.5h1M44.1 40.9h1M46.5 39.6h1M47.2 39.4h1M40.7 44.9h1M41.7 43.8h1M46.9 39.8h1M41.3 48.1h1M41.3 48.5h1M46.8 39.7h1M40.6 48.7h1M42.2 43.7h1M49.5 46.8h1M48.5 46.4h1M49.5 46.7h1M40.7 44.6h1M40.6 44.4h1M49.2 46.3h1M40.8 44.4h1M41.4 48.2h1M48.7 40.6h1M48.6 40.9h1M41.6 43.8h1M43.8 40.9h1M49.1 40.4h1M41.5 43.3h1M46.9 39.2h1M48.6 46.1h1M43.4 41.9h1M43.0 41.9h1M44.1 40.7h1M42.2 44.0h1M49.4 46.7h1M41.6 43.7h1M40.8 44.6h1M42.9 41.3h1M41.3 48.6h1M44.4 40.3h1M44.2 40.3h1M41.0 44.1h1M43.5 40.9h1M44.4 40.1h1M40.7 44.5h1M49.4 46.8h1M48.8 46.3h1M44.4 40.8h1M46.7 39.7h1" stroke="rgb(97,168,91)" stroke-opacity="1.00" stroke-width="1" fill="none"/><path d="M48.1 40.8h1M44.5 40.6h1M42.6 49.2h1M43.7 49.5h1M43.0 49.7h1M43.1 49.8h1M42.6 49.3h1M44.5 49.6h1M44.8 40.1h1M43.8 49.8h1M42.7 49.7h1M49.5 42.0h1M49.0 41.1h1M49.1 41.6h1M48.8 41.9h1M43.6 49.8h1M43.8 49.1h1M45.0 40.1h1M43.2 49.8h1M49.5 41.4h1M44.7 40.4h1M48.4 40.4h1M43.3 49.5h1M48.0 40.4h1M48.9 41.7h1M42.6 49.1h1M48.1 40.0h1M42.9 49.1h1M48.3 40.2h1M48.6 41.3h1M42.6 49.6h1M48.8 41.8h1M47.7 40.1h1M44.6 40.0h1M48.2 40.3h1M45.5 40.6h1M44.4 49.2h1M49.1 41.4h1M47.6 40.2h1M48.6 41.7h1M47.7 40.6h1M45.4 40.8h1M45.3 40.3h1M43.7 49.6h1M42.9 49.2h1M42.9 49.2h1" stroke="rgb(116,171,82)" stroke-opacity="1.00" stroke-width="1" fill="none"/><path d="M45.9 48.6h1M49.2 45.5h1M47.8 46.5h1M41.9 48.4h1M40.7 47.1h1M49.0 45.3h1M48.5 45.9h1M46.0 48.2h1M44.0 41.3h1M49.1 45.4h1M47.5 47.5h1M42.8 42.6h1M47.3 47.3h1M41.3 47.7h1M45.9 48.1h1M49.0 45.7h1M42.8 42.8h1M48.8 45.1h1M40.8 45.1h1M49.2 45.8h1M42.8 42.4h1M42.5 48.4h1M47.6 46.3h1M47.6 46.5h1M48.5 46.4h1M47.3 47.8h1M41.5 47.3h1M48.4 46.6h1M46.4 48.6h1M41.7 48.6h1M42.5 49.0h1M49.3 45.9h1M44.2 41.1h1M42.6 42.3h1M47.3 47.2h1M42.3 48.8h1M44.2 41.8h1M46.3 48.8h1M44.2 41.1h1M42.7 42.2h1M41.2 47.1h1M45.9 48.0h1M44.2 41.4h1M46.4 48.2h1M41.7 48.7h1M48.0 46.0h1M41.1 47.1h1M41.2 47.5h1M42.3 48.7h1M40.8 45.5h1M43.2 42.5h1M42.9 42.5h1M40.7 45.1h1M43.7 41.8h1M49.5 45.8h1M41.0 45.1h1M43.3 42.9h1M48.0 46.2h1M48.9 45.0h1M43.3 42.7h1M41.6 48.4h1M43.6 41.0h1" stroke="rgb(136,174,73)" stroke-opacity="1.00" stroke-width="1" fill="none"/><path d="M49.5 42.5h1M47.2 40.7h1M45.5 40.6h1M45.1 48.2h1M40.6 46.8h1M42.0 44.7h1M48.0 41.4h1M44.7 48.8h1M42.3 44.1h1M48.2 41.2h1M48.6 42.2h1M40.8 46.9h1M49.4 43.4h1M49.0 42.8h1M47.5 41.5h1M45.0 48.6h1M49.3 42.3h1M40.9 46.4h1M46.5 40.9h1M42.5 44.8h1M49.4 42.5h1M48.0 41.6h1M48.7 42.7h1M44.9 48.5h1M42.5 44.7h1M45.7 40.3h1M48.1 41.2h1M48.9 43.2h1M47.4 40.5h1M46.2 40.9h1M48.0 41.7h1M40.7 46.9h1M44.6 48.0h1M49.4 43.8h1M41.6 44.4h1M47.4 40.6h1M40.8 46.7h1M46.5 40.8h1M49.2 42.2h1M45.0 48.9h1M42.3 44.5h1M47.6 41.1h1M41.0 46.8h1M41.5 46.1h1M44.7 41.8h1M47.1 40.6h1M45.1 48.4h1M40.9 46.2h1M40.7 46.6h1M46.5 40.5h1M44.9 41.0h1M45.9 40.3h1M42.5 44.6h1M45.1 41.1h1M45.7 40.2h1M44.8 49.0h1M47.5 40.7h1M45.7 40.6h1M42.4 44.7h1M47.3 40.7h1M45.1 41.9h1M49.2 43.4h1M48.9 43.1h1M49.3 43.4h1M48.1 41.2h1M48.9 43.0h1M45.3 48.6h1M45.4 41.8h1M47.5 42.0h1M48.7 43.5h1M41.7 44.9h1M46.7 40.4h1M47.1 40.2h1M49.0 42.3h1M47.2 40.1h1M46.4 40.4h1M49.3 42.9h1M47.8 41.8h1M41.1 46.3h1M41.2 46.2h1M49.5 43.2h1M40.9 46.7h1M49.2 42.6h1M46.5 40.3h1M46.5 40.5h1M47.4 40.6h1M46.0 40.4h1M46.7 40.8h1M44.9 41.5h1M41.8 44.8h1" stroke="rgb(155,178,64)" stroke-opacity="1.00" stroke-width="1" fill="none"/><path d="M48.1 42.4h1M43.7 42.2h1M49.3 44.9h1M47.5 42.7h1M48.0 42.2h1M48.2 42.8h1M49.2 44.3h1M48.3 45.9h1M43.9 42.0h1M49.2 44.6h1M47.7 42.3h1M49.1 44.3h1M48.7 45.0h1M48.7 44.5h1M49.1 44.7h1M48.3 45.0h1M49.1 44.0h1M47.8 43.0h1M49.2 44.4h1M49.1 44.2h1M44.3 42.5h1M48.2 45.7h1M49.2 44.0h1M47.7 42.2h1M44.4 42.4h1M48.0 45.5h1M44.2 42.2h1M43.8 42.2h1M44.2 42.3h1M43.8 42.8h1M47.9 45.8h1M47.5 42.2h1" stroke="rgb(171,177,58)" stroke-opacity="1.00" stroke-width="1" fill="none"/><path d="M47.8 44.5h1M43.1 48.3h1M41.9 45.7h1M42.9 43.2h1M43.0 48.4h1M47.5 46.8h1M47.7 43.7h1M43.6 48.8h1M44.0 48.7h1M42.5 47.9h1M46.1 41.5h1M43.1 48.2h1M44.5 42.5h1M47.6 43.8h1M42.3 45.2h1M46.2 41.7h1M44.0 48.9h1M44.4 48.7h1M47.9 43.3h1M44.1 48.1h1M42.2 45.7h1M41.6 45.6h1M45.6 41.6h1M46.9 41.8h1M41.7 47.1h1M41.8 47.3h1M48.3 44.7h1M48.0 43.9h1M42.6 48.9h1M44.9 43.0h1M47.0 41.2h1M42.2 47.0h1M47.6 43.7h1M45.7 41.8h1M42.6 43.9h1M46.5 46.0h1M41.9 47.5h1M47.0 46.1h1M46.2 41.1h1M47.5 43.1h1M42.5 48.1h1M47.8 44.2h1M48.5 43.2h1M45.7 41.7h1M43.3 43.9h1M47.0 46.4h1M45.6 41.3h1M48.4 43.1h1M43.0 48.0h1M41.7 45.1h1M46.8 46.3h1M48.2 43.0h1M42.4 47.7h1M45.5 42.1h1M48.3 43.5h1M45.0 42.6h1M47.1 46.2h1M48.4 43.6h1M47.4 46.1h1M44.9 42.6h1M45.2 42.2h1M47.3 46.1h1M42.9 43.4h1M44.2 48.8h1M44.3 48.7h1M45.4 42.2h1M47.1 46.4h1M47.1 46.6h1M47.3 41.2h1M48.0 43.1h1M47.2 41.2h1M47.8 44.6h1M43.6 48.4h1M45.2 42.8h1M41.6 47.4h1M45.1 42.8h1M42.6 48.9h1M42.0 47.9h1M47.0 41.9h1M41.9 45.9h1M47.3 41.7h1M45.6 41.8h1M42.0 47.1h1M47.4 46.1h1M42.8 43.4h1M43.5 48.4h1M43.1 48.9h1M42.6 43.4h1M46.4 41.1h1M43.3 43.5h1M43.5 48.5h1M46.4 41.6h1M41.9 45.3h1M45.8 41.4h1M47.6 43.5h1M41.9 47.1h1M42.6 43.7h1M42.0 45.6h1M46.2 41.1h1M46.5 41.1h1M43.0 43.2h1M42.3 47.7h1M48.5 44.0h1M47.9 44.5h1M48.2 43.1h1M45.8 41.7h1M46.3 41.5h1M42.5 47.8h1M46.0 41.0h1M44.4 48.7h1M45.4 42.2h1M41.9 45.6h1M42.1 47.7h1M42.4 47.4h1M45.7 41.8h1M42.3 47.2h1M43.2 43.2h1M43.5 48.5h1M42.3 48.0h1M41.7 47.8h1M47.6 44.1h1M41.6 47.1h1M44.3 48.8h1M44.2 48.3h1M41.7 45.5h1M43.9 48.8h1" stroke="rgb(183,172,54)" stroke-opacity="1.00" stroke-width="1" fill="none"/><path d="M42.3 46.7h1M44.5 47.4h1M47.5 42.3h1M44.7 47.1h1M45.2 47.3h1M45.6 47.6h1M47.0 43.0h1M42.3 46.4h1M46.3 47.2h1M46.1 47.7h1M45.9 47.5h1M46.6 43.0h1M44.9 47.8h1M47.0 42.4h1M47.2 43.0h1M47.2 42.8h1M45.7 47.9h1M47.0 42.3h1M44.7 47.3h1M47.2 42.8h1M42.4 46.9h1M46.6 42.9h1M46.8 42.7h1M44.9 47.3h1M42.0 46.4h1M47.2 42.5h1M46.0 47.7h1M45.6 47.3h1M44.8 47.6h1M47.2 42.0h1M46.5 42.8h1M46.2 47.2h1M45.7 48.0h1M45.5 47.2h1M44.7 47.7h1M46.0 47.1h1M42.4 46.6h1M46.0 47.8h1M46.1 47.7h1M41.9 46.6h1M41.7 46.5h1M45.9 47.2h1M46.1 47.3h1M44.6 47.2h1M46.9 42.5h1" stroke="rgb(196,167,50)" stroke-opacity="1.00" stroke-width="1" fill="none"/><path d="M46.4 42.6h1M47.3 44.0h1M47.4 43.8h1M44.0 43.1h1M43.3 44.2h1M47.2 44.7h1M46.3 42.0h1M43.6 43.8h1M45.5 42.9h1M43.1 44.4h1M47.1 45.3h1M44.4 43.9h1M46.7 44.5h1M42.5 44.1h1M43.4 44.9h1M47.4 44.3h1M43.6 43.4h1M44.1 44.0h1M47.3 45.8h1M46.6 45.9h1M46.5 45.2h1M46.9 45.4h1M43.9 43.9h1M47.4 45.6h1M43.6 44.0h1M47.4 43.9h1M47.4 43.9h1M43.7 43.6h1M47.3 45.1h1M47.1 45.5h1M43.4 44.7h1M46.1 42.1h1M47.3 44.0h1M45.5 42.8h1M42.6 44.9h1M43.2 44.8h1M47.1 46.0h1M46.8 43.2h1M43.9 43.5h1M46.3 42.3h1M47.4 45.6h1M47.3 44.3h1M46.5 42.7h1M43.4 44.3h1M47.3 43.3h1M42.8 44.5h1M43.6 43.2h1M43.6 43.0h1M42.5 44.1h1M47.0 43.5h1M47.4 43.2h1M45.9 42.3h1M42.8 45.0h1M43.0 44.0h1M44.1 43.6h1M46.7 44.7h1M44.2 43.2h1M46.9 43.7h1M44.1 43.8h1M46.6 45.7h1M46.1 42.5h1M42.8 45.0h1M43.0 44.2h1M46.6 45.4h1M43.1 44.7h1M46.9 43.3h1M42.6 44.8h1M43.8 43.4h1M47.0 45.3h1M46.8 43.3h1" stroke="rgb(208,162,46)" stroke-opacity="1.00" stroke-width="1" fill="none"/><path d="M45.4 43.3h1M45.1 43.1h1M44.3 47.6h1M44.1 47.6h1M42.6 47.8h1M44.3 47.9h1M42.8 47.8h1M44.2 47.8h1M43.4 47.4h1M43.2 47.5h1M45.1 43.8h1M44.5 43.6h1M44.2 47.2h1M43.2 47.4h1M43.1 47.6h1M43.6 47.4h1M44.2 47.2h1M45.1 43.2h1M43.5 47.1h1M45.3 43.0h1M45.1 43.9h1M44.5 43.6h1M45.5 43.3h1M44.0 47.1h1M43.6 47.4h1M43.0 47.6h1M45.1 44.0h1M43.3 47.1h1M44.0 47.2h1M42.8 47.4h1M45.3 43.5h1M44.3 47.3h1M44.9 43.3h1M43.6 47.5h1M44.3 47.8h1M45.0 43.4h1M42.7 47.7h1" stroke="rgb(216,153,43)" stroke-opacity="1.00" stroke-width="1" fill="none"/><path d="M43.0 45.1h1M46.2 47.0h1M42.7 46.9h1M45.6 46.8h1M45.9 46.9h1M43.0 45.3h1M43.5 45.9h1M42.8 46.3h1M45.8 46.3h1M44.3 44.9h1M44.0 44.4h1M46.2 46.9h1M46.4 46.1h1M43.9 44.4h1M45.6 43.2h1M42.6 46.3h1M45.7 46.4h1M43.0 45.1h1M43.1 45.9h1M46.4 43.6h1M45.7 46.4h1M46.0 43.8h1M44.1 44.5h1M43.4 45.1h1M43.4 46.9h1M43.2 46.3h1M43.5 45.8h1M46.0 46.6h1M45.9 46.1h1M45.5 46.5h1M43.0 46.9h1M46.4 43.4h1M43.2 45.7h1M43.9 44.2h1M44.4 44.2h1M42.8 46.9h1M45.8 43.2h1M46.4 43.9h1M42.6 46.6h1M43.5 44.1h1M42.9 46.8h1M42.7 46.7h1M43.1 46.8h1M43.0 45.4h1M45.6 46.5h1M45.6 43.4h1M42.5 46.0h1M43.0 45.2h1M45.9 44.0h1M46.5 46.2h1M43.7 44.5h1M42.9 46.0h1M45.7 46.7h1M42.6 45.3h1M46.1 46.9h1M42.6 45.3h1M46.1 46.7h1M43.4 45.6h1M44.3 45.0h1M46.1 43.2h1M45.9 46.9h1M45.9 43.9h1M46.1 43.1h1M42.5 45.1h1M44.2 44.3h1M45.9 44.0h1M45.9 46.0h1M43.0 46.4h1M42.5 46.9h1" stroke="rgb(220,141,41)" stroke-opacity="1.00" stroke-width="1" fill="none"/><path d="M45.5 45.6h1M44.8 45.5h1M44.3 45.6h1M45.1 46.8h1M45.7 44.1h1M44.1 45.7h1M45.9 44.4h1M44.4 45.5h1M45.3 46.8h1M44.9 45.0h1M44.6 44.9h1M44.0 45.0h1M45.9 44.8h1M43.6 45.1h1M45.9 45.4h1M44.8 44.3h1M46.3 45.3h1M44.9 44.9h1M44.8 46.3h1M44.5 45.1h1M44.5 44.7h1M45.7 45.4h1M43.9 45.2h1M44.2 45.6h1M44.9 46.3h1M46.3 44.0h1M45.8 44.7h1M45.3 45.4h1M44.8 45.7h1M46.3 44.4h1M46.2 45.1h1M46.3 45.7h1M44.7 46.8h1M45.6 45.1h1M44.5 46.6h1M45.2 45.4h1M46.3 45.4h1M44.5 45.9h1M46.2 44.5h1M44.7 44.5h1M46.2 45.4h1M45.1 46.4h1M45.9 45.3h1M45.2 46.3h1M45.0 44.6h1M45.7 44.2h1M44.6 44.7h1M45.3 44.0h1M46.2 44.6h1M45.2 46.1h1M45.7 46.0h1M43.6 45.2h1M44.2 45.9h1M44.4 45.5h1M45.5 44.9h1M44.7 44.7h1M45.9 44.3h1M44.9 44.5h1M44.9 44.3h1M46.3 45.1h1" stroke="rgb(224,128,38)" stroke-opacity="1.00" stroke-width="1" fill="none"/><path d="M43.7 46.4h1M44.1 46.6h1M44.5 46.9h1M43.6 46.4h1M44.1 46.4h1M43.8 46.4h1M44.1 46.2h1M44.4 46.1h1M44.5 46.0h1M43.5 46.9h1M43.8 46.0h1M43.8 46.5h1" stroke="rgb(228,116,36)" stroke-opacity="1.00" stroke-width="1" fill="none"/><rect x="18.0" y="79.9" width="5" height="1.8" fill="#1a1a1a"/></svg>
<svg id="main" width="520" height="652" viewBox="0 0 520 652">
<text x="7" y="16.5" font-size="10.4" textLength="7.4" lengthAdjust="spacingAndGlyphs" font-weight="bold" class="pl">A</text>
<text x="23" y="27.3" font-size="8.9" textLength="119.5" lengthAdjust="spacingAndGlyphs">Reverse transfection of siRNA</text>
<text x="17.3" y="38.2" font-size="8.9" textLength="130.2" lengthAdjust="spacingAndGlyphs">targeting STAT1 or non-targeting</text>
<path d="M66.6,43.3 L112.2,43.3 Q113.2,43.3 113.0,44.6 L113.0,49.6 L101.0,65.4 Q100.6,66.1 99.8,66.1 L53.4,66.1 Q52.8,66.1 52.8,65.4 L52.8,60.2 Z" fill="#fff" stroke="#3a3a3a" stroke-width="0.8"/>
<polygon points="68.6,45.0 110.9,45.0 99.8,58.9 55.6,58.9" fill="#5c5c5c"/>
<clipPath id="pc"><polygon points="68.6,45.0 110.9,45.0 99.8,58.9 55.6,58.9"/></clipPath>
<path clip-path="url(#pc)" d="M24.5,44 L36.5,60 M27.05,44 L39.05,60 M29.6,44 L41.6,60 M32.15,44 L44.15,60 M34.7,44 L46.7,60 M37.25,44 L49.25,60 M39.8,44 L51.8,60 M42.35,44 L54.35,60 M44.9,44 L56.9,60 M47.45,44 L59.45,60 M50,44 L62,60 M52.55,44 L64.55,60 M55.1,44 L67.1,60 M57.65,44 L69.65,60 M60.2,44 L72.2,60 M62.75,44 L74.75,60 M65.3,44 L77.3,60 M67.85,44 L79.85,60 M70.4,44 L82.4,60 M72.95,44 L84.95,60 M75.5,44 L87.5,60 M78.05,44 L90.05,60 M80.6,44 L92.6,60 M83.15,44 L95.15,60 M85.7,44 L97.7,60 M88.25,44 L100.25,60 M90.8,44 L102.8,60 M93.35,44 L105.35,60 M95.9,44 L107.9,60 M98.45,44 L110.45,60 M101,44 L113,60 M103.55,44 L115.55,60 M106.1,44 L118.1,60 M108.65,44 L120.65,60 M111.2,44 L123.2,60 M113.75,44 L125.75,60 M116.3,44 L128.3,60 M118.85,44 L130.85,60 M121.4,44 L133.4,60 M123.95,44 L135.95,60 M126.5,44 L138.5,60 M129.05,44 L141.05,60 M131.6,44 L143.6,60 M134.15,44 L146.15,60 M136.7,44 L148.7,60 M139.25,44 L151.25,60 M141.8,44 L153.8,60 M144.35,44 L156.35,60 M146.9,44 L158.9,60 M149.45,44 L161.45,60" stroke="#a8a8a8" stroke-width="0.75" fill="none"/>
<path clip-path="url(#pc)" d="M50,46.2 L115,46.2 M50,48.1 L115,48.1 M50,50 L115,50 M50,51.9 L115,51.9 M50,53.8 L115,53.8 M50,55.7 L115,55.7 M50,57.6 L115,57.6 M50,59.5 L115,59.5" stroke="#4a4a4a" stroke-width="0.5" fill="none"/>
<line x1="52.8" y1="59.5" x2="100.6" y2="59.5" stroke="#3a3a3a" stroke-width="0.8"/>
<line x1="100.6" y1="59.6" x2="113" y2="43.6" stroke="#3a3a3a" stroke-width="0.8"/>
<line x1="100.5" y1="59.6" x2="100.5" y2="66" stroke="#3a3a3a" stroke-width="0.8"/>
<rect x="53.4" y="60" width="46.8" height="3.9" fill="#3c3c3c"/>
<rect x="54.9" y="60.4" width="2.6" height="3.5" rx="0.8" fill="#fff"/>
<rect x="58.75" y="60.4" width="2.6" height="3.5" rx="0.8" fill="#fff"/>
<rect x="62.6" y="60.4" width="2.6" height="3.5" rx="0.8" fill="#fff"/>
<rect x="66.45" y="60.4" width="2.6" height="3.5" rx="0.8" fill="#fff"/>
<rect x="70.3" y="60.4" width="2.6" height="3.5" rx="0.8" fill="#fff"/>
<rect x="74.15" y="60.4" width="2.6" height="3.5" rx="0.8" fill="#fff"/>
<rect x="78" y="60.4" width="2.6" height="3.5" rx="0.8" fill="#fff"/>
<rect x="81.85" y="60.4" width="2.6" height="3.5" rx="0.8" fill="#fff"/>
<rect x="85.7" y="60.4" width="2.6" height="3.5" rx="0.8" fill="#fff"/>
<rect x="89.55" y="60.4" width="2.6" height="3.5" rx="0.8" fill="#fff"/>
<rect x="93.4" y="60.4" width="2.6" height="3.5" rx="0.8" fill="#fff"/>
<rect x="97.25" y="60.4" width="2.6" height="3.5" rx="0.8" fill="#fff"/>
<line x1="82.5" y1="67.5" x2="82.5" y2="86" stroke="#1e1e1e" stroke-width="1"/>
<polygon points="82.3,88.6 79.8,81.6 82.3,83.56 84.8,81.6" fill="#1e1e1e"/>
<line x1="66.6" y1="88.5" x2="98" y2="88.5" stroke="#1e1e1e" stroke-width="1"/>
<line x1="66.5" y1="88.3" x2="66.5" y2="114.5" stroke="#1e1e1e" stroke-width="1"/>
<polygon points="66.6,117 64.1,110 66.6,111.96 69.1,110" fill="#1e1e1e"/>
<line x1="97.5" y1="88.3" x2="97.5" y2="131" stroke="#1e1e1e" stroke-width="1"/>
<polygon points="97.6,133.6 95.1,126.6 97.6,128.56 100.1,126.6" fill="#1e1e1e"/>
<text x="94.4" y="75.7" font-size="7.6" textLength="22.5" lengthAdjust="spacingAndGlyphs">4-hour</text>
<text x="89" y="84.8" font-size="7.6" textLength="33.5" lengthAdjust="spacingAndGlyphs">incubation</text>
<text x="32.5" y="103.8" font-size="7.6" textLength="30" lengthAdjust="spacingAndGlyphs">DOX-ON</text>
<text x="101.3" y="114.5" font-size="7.6" textLength="32.5" lengthAdjust="spacingAndGlyphs">DOX-OFF</text>
<text x="42.1" y="127" font-size="7.6" textLength="47.7" lengthAdjust="spacingAndGlyphs">RNA sampling</text>
<text x="56.5" y="136.2" font-size="7.6" textLength="18.5" lengthAdjust="spacingAndGlyphs">Day 2</text>
<text x="73" y="147.2" font-size="7.5" textLength="70.2" lengthAdjust="spacingAndGlyphs">RNA sampling, Day 4</text>
<text x="73" y="156.4" font-size="7.6" textLength="116.3" lengthAdjust="spacingAndGlyphs">PLT production and function, Day 6</text>
<text x="205" y="16.2" font-size="10.4" textLength="7.3" lengthAdjust="spacingAndGlyphs" font-weight="bold" class="pl">B</text>
<rect x="244.6" y="68.06" width="17.9" height="67.34" fill="#c8c7cc"/>
<rect x="272.6" y="120.07" width="18.2" height="15.33" fill="#f6bd00"/>
<line x1="253.5" y1="58.1" x2="253.5" y2="76.9" stroke="#1e1e1e" stroke-width="1"/>
<line x1="249.05" y1="58.5" x2="258.05" y2="58.5" stroke="#1e1e1e" stroke-width="1"/>
<line x1="249.05" y1="76.5" x2="258.05" y2="76.5" stroke="#1e1e1e" stroke-width="1"/>
<circle cx="253.5" cy="53.7" r="1.55" fill="#111"/>
<circle cx="253.5" cy="63.5" r="1.55" fill="#111"/>
<circle cx="253.5" cy="85.4" r="1.55" fill="#111"/>
<line x1="281.5" y1="113.5" x2="281.5" y2="125.4" stroke="#1e1e1e" stroke-width="1"/>
<line x1="277.2" y1="113.5" x2="286.2" y2="113.5" stroke="#1e1e1e" stroke-width="1"/>
<line x1="277.2" y1="125.5" x2="286.2" y2="125.5" stroke="#1e1e1e" stroke-width="1"/>
<circle cx="281.7" cy="109" r="1.55" fill="#111"/>
<circle cx="281.7" cy="121.2" r="1.55" fill="#111"/>
<circle cx="281.7" cy="129.2" r="1.55" fill="#111"/>
<line x1="234.5" y1="33.9" x2="234.5" y2="135.95" stroke="#1e1e1e" stroke-width="1.1"/>
<line x1="231.6" y1="135.5" x2="234.6" y2="135.5" stroke="#1e1e1e" stroke-width="1.1"/>
<text x="219" y="138" font-size="7.2" textLength="10" lengthAdjust="spacingAndGlyphs">0.0</text>
<line x1="231.6" y1="102.5" x2="234.6" y2="102.5" stroke="#1e1e1e" stroke-width="1.1"/>
<text x="219" y="104.66" font-size="7.2" textLength="10" lengthAdjust="spacingAndGlyphs">0.5</text>
<line x1="231.6" y1="68.5" x2="234.6" y2="68.5" stroke="#1e1e1e" stroke-width="1.1"/>
<text x="219" y="71.33" font-size="7.2" textLength="10" lengthAdjust="spacingAndGlyphs">1.0</text>
<line x1="231.6" y1="35.5" x2="234.6" y2="35.5" stroke="#1e1e1e" stroke-width="1.1"/>
<text x="219" y="38" font-size="7.2" textLength="10" lengthAdjust="spacingAndGlyphs">1.5</text>
<line x1="234.05" y1="135.5" x2="300.3" y2="135.5" stroke="#1e1e1e" stroke-width="1.1"/>
<line x1="253.5" y1="135.4" x2="253.5" y2="138" stroke="#1e1e1e" stroke-width="1.1"/>
<line x1="281.5" y1="135.4" x2="281.5" y2="138" stroke="#1e1e1e" stroke-width="1.1"/>
<text x="255" y="27.5" font-size="8.4" textLength="25.5" lengthAdjust="spacingAndGlyphs" font-style="italic">STAT1</text>
<text x="248" y="39.2" font-size="7.9" font-style="italic" textLength="5.6" lengthAdjust="spacingAndGlyphs">P</text>
<text x="255" y="39.2" font-size="7.9" font-weight="bold" textLength="5.95" lengthAdjust="spacingAndGlyphs">=</text>
<text x="263.4" y="39.2" font-size="7.9" textLength="19.6" lengthAdjust="spacingAndGlyphs">.0095</text>
<line x1="253.5" y1="43.5" x2="281.7" y2="43.5" stroke="#1e1e1e" stroke-width="1"/>
<text x="246" y="147.6" font-size="7.2" textLength="15" lengthAdjust="spacingAndGlyphs">siNT</text>
<text x="268.3" y="147.6" font-size="7.2" textLength="25.9" lengthAdjust="spacingAndGlyphs">siSTAT1</text>
<text class="vl" x="0" y="0" font-size="9.2" textLength="73.1" lengthAdjust="spacingAndGlyphs" transform="translate(212.6 120.7) rotate(-90)">Relative mRNA expression</text>
<rect x="349.6" y="71.4" width="17.8" height="64" fill="#c8c7cc"/>
<rect x="377.5" y="124.15" width="18.2" height="11.25" fill="#f6bd00"/>
<line x1="358.5" y1="55.6" x2="358.5" y2="86.9" stroke="#1e1e1e" stroke-width="1"/>
<line x1="354" y1="55.5" x2="363" y2="55.5" stroke="#1e1e1e" stroke-width="1"/>
<line x1="354" y1="86.5" x2="363" y2="86.5" stroke="#1e1e1e" stroke-width="1"/>
<circle cx="358.5" cy="50.4" r="1.55" fill="#111"/>
<circle cx="358.5" cy="61.9" r="1.55" fill="#111"/>
<circle cx="358.5" cy="101.7" r="1.55" fill="#111"/>
<line x1="386.5" y1="120.4" x2="386.5" y2="127" stroke="#1e1e1e" stroke-width="1"/>
<line x1="382.1" y1="120.5" x2="391.1" y2="120.5" stroke="#1e1e1e" stroke-width="1"/>
<line x1="382.1" y1="127.5" x2="391.1" y2="127.5" stroke="#1e1e1e" stroke-width="1"/>
<circle cx="386.6" cy="117.5" r="1.55" fill="#111"/>
<circle cx="382.2" cy="126.7" r="1.55" fill="#111"/>
<circle cx="391" cy="126.7" r="1.55" fill="#111"/>
<line x1="339.5" y1="33.9" x2="339.5" y2="135.95" stroke="#1e1e1e" stroke-width="1.1"/>
<line x1="336.4" y1="135.5" x2="339.4" y2="135.5" stroke="#1e1e1e" stroke-width="1.1"/>
<text x="324.1" y="138" font-size="7.2" textLength="10.5" lengthAdjust="spacingAndGlyphs">0.0</text>
<line x1="336.4" y1="110.5" x2="339.4" y2="110.5" stroke="#1e1e1e" stroke-width="1.1"/>
<text x="324.1" y="113" font-size="7.2" textLength="10.5" lengthAdjust="spacingAndGlyphs">0.5</text>
<line x1="336.4" y1="85.5" x2="339.4" y2="85.5" stroke="#1e1e1e" stroke-width="1.1"/>
<text x="324.1" y="88" font-size="7.2" textLength="10.5" lengthAdjust="spacingAndGlyphs">1.0</text>
<line x1="336.4" y1="60.5" x2="339.4" y2="60.5" stroke="#1e1e1e" stroke-width="1.1"/>
<text x="324.1" y="63" font-size="7.2" textLength="10.5" lengthAdjust="spacingAndGlyphs">1.5</text>
<line x1="336.4" y1="35.5" x2="339.4" y2="35.5" stroke="#1e1e1e" stroke-width="1.1"/>
<text x="323.1" y="38" font-size="7.2" textLength="11.5" lengthAdjust="spacingAndGlyphs">2.0</text>
<line x1="338.85" y1="135.5" x2="404" y2="135.5" stroke="#1e1e1e" stroke-width="1.1"/>
<line x1="358.5" y1="135.4" x2="358.5" y2="138" stroke="#1e1e1e" stroke-width="1.1"/>
<line x1="386.5" y1="135.4" x2="386.5" y2="138" stroke="#1e1e1e" stroke-width="1.1"/>
<text x="357.3" y="27.5" font-size="8.4" textLength="31.2" lengthAdjust="spacingAndGlyphs" font-style="italic">LIN28A</text>
<text x="353.8" y="39.2" font-size="7.9" font-style="italic" textLength="5.31" lengthAdjust="spacingAndGlyphs">P</text>
<text x="360.44" y="39.2" font-size="7.9" font-weight="bold" textLength="5.64" lengthAdjust="spacingAndGlyphs">=</text>
<text x="368.41" y="39.2" font-size="7.9" textLength="18.59" lengthAdjust="spacingAndGlyphs">.0287</text>
<line x1="358.5" y1="43.5" x2="386.6" y2="43.5" stroke="#1e1e1e" stroke-width="1"/>
<text x="351.5" y="147.6" font-size="7.2" textLength="13.9" lengthAdjust="spacingAndGlyphs">siNT</text>
<text x="373" y="147.6" font-size="7.2" textLength="25.5" lengthAdjust="spacingAndGlyphs">siSTAT1</text>
<text class="vl" x="0" y="0" font-size="9.2" textLength="73.1" lengthAdjust="spacingAndGlyphs" transform="translate(317.3 120.6) rotate(-90)">Relative mRNA expression</text>
<rect x="448" y="108.15" width="18" height="27.25" fill="#c8c7cc"/>
<rect x="476.3" y="83.65" width="17.9" height="51.75" fill="#f6bd00"/>
<line x1="457.5" y1="105.2" x2="457.5" y2="111.3" stroke="#1e1e1e" stroke-width="1"/>
<line x1="452.5" y1="105.5" x2="461.5" y2="105.5" stroke="#1e1e1e" stroke-width="1"/>
<line x1="452.5" y1="111.5" x2="461.5" y2="111.5" stroke="#1e1e1e" stroke-width="1"/>
<circle cx="457" cy="99.8" r="1.55" fill="#111"/>
<circle cx="453.6" cy="112" r="1.55" fill="#111"/>
<circle cx="460.6" cy="110.2" r="1.55" fill="#111"/>
<circle cx="457" cy="108.4" r="1.55" fill="#111"/>
<line x1="485.5" y1="73.6" x2="485.5" y2="92.6" stroke="#1e1e1e" stroke-width="1"/>
<line x1="480.75" y1="73.5" x2="489.75" y2="73.5" stroke="#1e1e1e" stroke-width="1"/>
<line x1="480.75" y1="92.5" x2="489.75" y2="92.5" stroke="#1e1e1e" stroke-width="1"/>
<circle cx="485.8" cy="55.6" r="1.55" fill="#111"/>
<circle cx="485.8" cy="86.9" r="1.55" fill="#111"/>
<circle cx="481.6" cy="95" r="1.55" fill="#111"/>
<circle cx="488.2" cy="94.6" r="1.55" fill="#111"/>
<line x1="438.5" y1="33.9" x2="438.5" y2="135.95" stroke="#1e1e1e" stroke-width="1.1"/>
<line x1="435.2" y1="135.5" x2="438.2" y2="135.5" stroke="#1e1e1e" stroke-width="1.1"/>
<text x="431.6" y="138" font-size="7.2" text-anchor="end">0</text>
<line x1="435.2" y1="110.5" x2="438.2" y2="110.5" stroke="#1e1e1e" stroke-width="1.1"/>
<text x="431.6" y="113" font-size="7.2" text-anchor="end">1</text>
<line x1="435.2" y1="85.5" x2="438.2" y2="85.5" stroke="#1e1e1e" stroke-width="1.1"/>
<text x="431.6" y="88" font-size="7.2" text-anchor="end">2</text>
<line x1="435.2" y1="60.5" x2="438.2" y2="60.5" stroke="#1e1e1e" stroke-width="1.1"/>
<text x="431.6" y="63" font-size="7.2" text-anchor="end">3</text>
<line x1="435.2" y1="35.5" x2="438.2" y2="35.5" stroke="#1e1e1e" stroke-width="1.1"/>
<text x="431.6" y="38" font-size="7.2" text-anchor="end">4</text>
<line x1="437.65" y1="135.5" x2="504" y2="135.5" stroke="#1e1e1e" stroke-width="1.1"/>
<line x1="457.5" y1="135.4" x2="457.5" y2="138" stroke="#1e1e1e" stroke-width="1.1"/>
<line x1="485.5" y1="135.4" x2="485.5" y2="138" stroke="#1e1e1e" stroke-width="1.1"/>
<text x="452.7" y="27.3" font-size="8.4" textLength="35.2" lengthAdjust="spacingAndGlyphs">let-7a-5p</text>
<text x="453.8" y="39.2" font-size="7.9" font-style="italic" textLength="5.46" lengthAdjust="spacingAndGlyphs">P</text>
<text x="460.62" y="39.2" font-size="7.9" font-weight="bold" textLength="5.8" lengthAdjust="spacingAndGlyphs">=</text>
<text x="468.8" y="39.2" font-size="7.9" textLength="19.1" lengthAdjust="spacingAndGlyphs">.0455</text>
<line x1="457" y1="42.5" x2="485.4" y2="42.5" stroke="#1e1e1e" stroke-width="1"/>
<text x="448.5" y="147.8" font-size="7.2" textLength="15.7" lengthAdjust="spacingAndGlyphs">siNT</text>
<text x="472.5" y="147.8" font-size="7.2" textLength="26" lengthAdjust="spacingAndGlyphs">siSTAT1</text>
<text class="vl" x="0" y="0" font-size="8.3" textLength="42.2" lengthAdjust="spacingAndGlyphs" transform="translate(420.2 106.7) rotate(-90)">let-7a-5p/U6</text>
<text x="7" y="182.1" font-size="10" textLength="7.4" lengthAdjust="spacingAndGlyphs" font-weight="bold" class="pl">C</text>
<path d="M62,293 L62,293 L62.38,293 L62.77,293 L63.15,293 L63.53,293 L63.92,293 L64.3,293 L64.68,293 L65.07,293 L65.45,293 L65.83,293 L66.22,293 L66.6,293 L66.98,292.99 L67.37,292.99 L67.75,292.99 L68.13,292.98 L68.52,292.97 L68.9,292.96 L69.28,292.94 L69.67,292.91 L70.05,292.87 L70.43,292.82 L70.82,292.76 L71.2,292.66 L71.58,292.54 L71.97,292.38 L72.35,292.18 L72.73,291.91 L73.12,291.57 L73.5,291.14 L73.88,290.61 L74.27,289.96 L74.65,289.17 L75.03,288.22 L75.42,287.09 L75.8,285.76 L76.18,284.22 L76.57,282.46 L76.95,280.46 L77.33,278.23 L77.72,275.77 L78.1,273.1 L78.48,270.23 L78.87,267.2 L79.25,264.06 L79.63,260.84 L80.02,257.61 L80.4,254.44 L80.78,251.38 L81.17,248.52 L81.55,245.92 L81.93,243.65 L82.32,241.77 L82.7,240.33 L83.08,239.38 L83.47,238.93 L83.85,239 L84.23,239.56 L84.62,240.59 L85,242.07 L85.38,243.94 L85.77,246.18 L86.15,248.71 L86.53,251.49 L86.92,254.44 L87.3,257.5 L87.68,260.62 L88.07,263.72 L88.45,266.77 L88.83,269.71 L89.22,272.51 L89.6,275.14 L89.98,277.56 L90.37,279.78 L90.75,281.78 L91.13,283.57 L91.52,285.14 L91.9,286.51 L92.28,287.69 L92.67,288.69 L93.05,289.54 L93.43,290.24 L93.82,290.82 L94.2,291.3 L94.58,291.68 L94.97,291.99 L95.35,292.23 L95.73,292.42 L96.12,292.56 L96.5,292.68 L96.88,292.76 L97.27,292.83 L97.65,292.88 L98.03,292.91 L98.42,292.94 L98.8,292.96 L99.18,292.97 L99.57,292.98 L99.95,292.99 L100.33,292.99 L100.72,292.99 L101.1,293 L101.48,293 L101.87,293 L102.25,293 L102.63,293 L103.02,293 L103.4,293 L103.78,293 L104.17,293 L104.55,293 L104.93,293 L105.32,293 L105.7,293 L106.08,293 L106.47,293 L106.85,293 L107.23,293 L107.62,293 L108,293 L108,293 Z" fill="#e4e2ee" stroke="#c0bed3" stroke-width="0.8"/>
<path d="M58,293 L58,293 L58.35,293 L58.7,293 L59.05,293 L59.4,293 L59.75,293 L60.1,292.99 L60.45,292.99 L60.8,292.99 L61.15,292.98 L61.5,292.98 L61.85,292.97 L62.2,292.95 L62.55,292.94 L62.9,292.92 L63.25,292.89 L63.6,292.85 L63.95,292.8 L64.3,292.73 L64.65,292.64 L65,292.54 L65.35,292.4 L65.7,292.23 L66.05,292.02 L66.4,291.76 L66.75,291.43 L67.1,291.04 L67.45,290.57 L67.8,290.01 L68.15,289.34 L68.5,288.56 L68.85,287.64 L69.2,286.58 L69.55,285.36 L69.9,283.98 L70.25,282.42 L70.6,280.68 L70.95,278.75 L71.3,276.64 L71.65,274.35 L72,271.88 L72.35,269.26 L72.7,266.49 L73.05,263.62 L73.4,260.66 L73.75,257.65 L74.1,254.63 L74.45,251.64 L74.8,248.74 L75.15,245.96 L75.5,243.36 L75.85,240.99 L76.2,238.88 L76.55,237.08 L76.9,235.63 L77.25,234.55 L77.6,233.87 L77.95,233.6 L78.3,233.75 L78.65,234.29 L79,235.23 L79.35,236.53 L79.7,238.18 L80.05,240.14 L80.4,242.38 L80.75,244.85 L81.1,247.52 L81.45,250.32 L81.8,253.23 L82.15,256.19 L82.5,259.15 L82.85,262.1 L83.2,264.97 L83.55,267.75 L83.9,270.41 L84.25,272.93 L84.6,275.29 L84.95,277.47 L85.3,279.48 L85.65,281.31 L86,282.96 L86.35,284.44 L86.7,285.74 L87.05,286.89 L87.4,287.9 L87.75,288.76 L88.1,289.51 L88.45,290.14 L88.8,290.67 L89.15,291.12 L89.5,291.49 L89.85,291.8 L90.2,292.05 L90.55,292.25 L90.9,292.42 L91.25,292.55 L91.6,292.65 L91.95,292.73 L92.3,292.8 L92.65,292.85 L93,292.89 L93.35,292.91 L93.7,292.94 L94.05,292.95 L94.4,292.97 L94.75,292.98 L95.1,292.98 L95.45,292.99 L95.8,292.99 L96.15,292.99 L96.5,293 L96.85,293 L97.2,293 L97.55,293 L97.9,293 L98.25,293 L98.6,293 L98.95,293 L99.3,293 L99.65,293 L100,293 L100,293 Z" fill="#f5d9a2" fill-opacity="0.5" stroke="#e8b521" stroke-width="0.95"/>
<path d="M62,293 L62,293 L62.18,293 L62.36,293 L62.54,293 L62.72,293 L62.9,293 L63.08,293 L63.26,293 L63.44,293 L63.62,293 L63.8,293 L63.98,293 L64.16,293 L64.34,293 L64.52,293 L64.7,293 L64.88,293 L65.06,293 L65.24,293 L65.42,293 L65.6,293 L65.78,293 L65.96,293 L66.14,293 L66.32,293 L66.5,293 L66.68,293 L66.86,292.99 L67.04,292.99 L67.22,292.99 L67.4,292.99 L67.58,292.99 L67.76,292.99 L67.94,292.98 L68.12,292.98 L68.3,292.98 L68.48,292.97 L68.66,292.97 L68.84,292.96 L69.02,292.95 L69.2,292.94 L69.38,292.93 L69.56,292.92 L69.74,292.91 L69.92,292.89 L70.1,292.87 L70.28,292.85 L70.46,292.82 L70.64,292.79 L70.82,292.76 L71,292.72 L71.18,292.67 L71.36,292.62 L71.54,292.56 L71.72,292.49 L71.9,292.41 L72.08,292.33 L72.26,292.23 L72.44,292.12 L72.62,291.99 L72.8,291.86 L72.98,291.7 L73.16,291.53 L73.34,291.33 L73.52,291.12 L73.7,290.88 L73.88,290.62 L74.06,290.33 L74.24,290.01 L74.42,289.66 L74.6,289.28 L74.78,288.87 L74.96,288.41 L75.14,287.92 L75.32,287.39 L75.5,286.82 L75.68,286.2 L75.86,285.53 L76.04,284.82 L76.22,284.06 L76.4,283.25 L76.58,282.39 L76.76,281.48 L76.94,280.51 L77.12,279.5 L77.3,278.43 L77.48,277.32 L77.66,276.15 L77.84,274.93 L78.02,273.67 L78.2,272.37 L78.38,271.02 L78.56,269.64 L78.74,268.22 L78.92,266.77 L79.1,265.3 L79.28,263.81 L79.46,262.3 L79.64,260.78 L79.82,259.27 L80,257.75 L80.18,256.25 L80.36,254.76 L80.54,253.3 L80.72,251.87 L80.9,250.49 L81.08,249.14 L81.26,247.86 L81.44,246.63 L81.62,245.48 L81.8,244.39 L81.98,243.4 L82.16,242.48 L82.34,241.67 L82.52,240.95 L82.7,240.33 L82.88,239.82 L83.06,239.42 L83.24,239.13 L83.42,238.96 L83.6,238.9 L83.6,293 Z" fill="none" stroke="#cdb57c" stroke-width="0.7"/>
<path d="M40,293 L40,292.49 L40.1,292.44 L40.21,292.4 L40.31,292.35 L40.42,292.29 L40.52,292.23 L40.62,292.17 L40.73,292.1 L40.83,292.03 L40.94,291.95 L41.04,291.86 L41.15,291.76 L41.25,291.66 L41.35,291.55 L41.46,291.43 L41.56,291.29 L41.67,291.15 L41.77,291 L41.88,290.83 L41.98,290.65 L42.08,290.45 L42.19,290.24 L42.29,290.01 L42.4,289.76 L42.5,289.49 L42.6,289.2 L42.71,288.88 L42.81,288.54 L42.92,288.17 L43.02,287.76 L43.12,287.33 L43.23,286.85 L43.33,286.34 L43.44,285.79 L43.54,285.18 L43.65,284.53 L43.75,283.83 L43.85,283.06 L43.96,282.23 L44.06,281.33 L44.17,280.36 L44.27,279.31 L44.38,278.16 L44.48,276.92 L44.58,275.58 L44.69,274.13 L44.79,272.56 L44.9,270.85 L45,269 L45.1,267 L45.21,264.83 L45.31,262.48 L45.42,259.94 L45.52,257.18 L45.62,254.19 L45.73,250.95 L45.83,247.44 L45.94,243.64 L46.04,239.53 L46.15,235.06 L46.25,234.88 L46.35,239.35 L46.46,243.49 L46.56,247.3 L46.67,250.82 L46.77,254.07 L46.88,257.06 L46.98,259.83 L47.08,262.38 L47.19,264.74 L47.29,266.92 L47.4,268.93 L47.5,270.78 L47.6,272.49 L47.71,274.07 L47.81,275.53 L47.92,276.87 L48.02,278.12 L48.12,279.26 L48.23,280.32 L48.33,281.3 L48.44,282.2 L48.54,283.03 L48.65,283.8 L48.75,284.51 L48.85,285.16 L48.96,285.76 L49.06,286.32 L49.17,286.83 L49.27,287.31 L49.38,287.75 L49.48,288.15 L49.58,288.53 L49.69,288.87 L49.79,289.19 L49.9,289.48 L50,289.75 L50.1,290 L50.21,290.23 L50.31,290.45 L50.42,290.64 L50.52,290.82 L50.62,290.99 L50.73,291.15 L50.83,291.29 L50.94,291.42 L51.04,291.54 L51.15,291.65 L51.25,291.76 L51.35,291.85 L51.46,291.94 L51.56,292.02 L51.67,292.1 L51.77,292.17 L51.88,292.23 L51.98,292.29 L52.08,292.35 L52.19,292.4 L52.29,292.44 L52.4,292.49 L52.5,292.53 L52.5,293 Z" fill="#add6f1" stroke="#55a6de" stroke-width="0.8"/>
<rect x="39.0" y="198.7" width="95.3" height="94.9" fill="none" stroke="#1e1e1e" stroke-width="1.1"/>
<line x1="36" y1="293.5" x2="39" y2="293.5" stroke="#1e1e1e" stroke-width="1"/>
<text x="33.8" y="296.4" font-size="8.3" text-anchor="end">0</text>
<line x1="36" y1="271.5" x2="39" y2="271.5" stroke="#1e1e1e" stroke-width="1"/>
<text x="33.8" y="274.6" font-size="8.3" text-anchor="end">50</text>
<line x1="36" y1="249.5" x2="39" y2="249.5" stroke="#1e1e1e" stroke-width="1"/>
<text x="33.8" y="252.8" font-size="8.3" text-anchor="end">100</text>
<line x1="36" y1="227.5" x2="39" y2="227.5" stroke="#1e1e1e" stroke-width="1"/>
<text x="33.8" y="231" font-size="8.3" text-anchor="end">150</text>
<line x1="36" y1="206.5" x2="39" y2="206.5" stroke="#1e1e1e" stroke-width="1"/>
<text x="33.8" y="209.2" font-size="8.3" text-anchor="end">200</text>
<line x1="39" y1="293.5" x2="40.3" y2="293.5" stroke="#1e1e1e" stroke-width="0.5"/>
<line x1="39" y1="282.5" x2="40.3" y2="282.5" stroke="#1e1e1e" stroke-width="0.5"/>
<line x1="39" y1="271.5" x2="40.3" y2="271.5" stroke="#1e1e1e" stroke-width="0.5"/>
<line x1="39" y1="260.5" x2="40.3" y2="260.5" stroke="#1e1e1e" stroke-width="0.5"/>
<line x1="39" y1="249.5" x2="40.3" y2="249.5" stroke="#1e1e1e" stroke-width="0.5"/>
<line x1="39" y1="238.5" x2="40.3" y2="238.5" stroke="#1e1e1e" stroke-width="0.5"/>
<line x1="39" y1="227.5" x2="40.3" y2="227.5" stroke="#1e1e1e" stroke-width="0.5"/>
<line x1="39" y1="217.5" x2="40.3" y2="217.5" stroke="#1e1e1e" stroke-width="0.5"/>
<line x1="39" y1="206.5" x2="40.3" y2="206.5" stroke="#1e1e1e" stroke-width="0.5"/>
<line x1="48.5" y1="293.6" x2="48.5" y2="296.1" stroke="#1e1e1e" stroke-width="0.9"/>
<line x1="66.5" y1="293.6" x2="66.5" y2="296.1" stroke="#1e1e1e" stroke-width="0.9"/>
<line x1="95.5" y1="293.6" x2="95.5" y2="296.1" stroke="#1e1e1e" stroke-width="0.9"/>
<line x1="122.5" y1="293.6" x2="122.5" y2="296.1" stroke="#1e1e1e" stroke-width="0.9"/>
<text x="48.7" y="306.2" font-size="8" text-anchor="middle">0</text>
<text x="60.8" y="306.2" font-size="8.0">10<tspan dy="-3.4" font-size="5.2">3</tspan></text>
<text x="89.6" y="306.2" font-size="8.0">10<tspan dy="-3.4" font-size="5.2">4</tspan></text>
<text x="117" y="306.2" font-size="8.0">10<tspan dy="-3.4" font-size="5.2">5</tspan></text>
<line x1="74.5" y1="293.6" x2="74.5" y2="295.1" stroke="#1e1e1e" stroke-width="0.6"/>
<line x1="79.5" y1="293.6" x2="79.5" y2="295.1" stroke="#1e1e1e" stroke-width="0.6"/>
<line x1="83.5" y1="293.6" x2="83.5" y2="295.1" stroke="#1e1e1e" stroke-width="0.6"/>
<line x1="86.5" y1="293.6" x2="86.5" y2="295.1" stroke="#1e1e1e" stroke-width="0.6"/>
<line x1="88.5" y1="293.6" x2="88.5" y2="295.1" stroke="#1e1e1e" stroke-width="0.6"/>
<line x1="90.5" y1="293.6" x2="90.5" y2="295.1" stroke="#1e1e1e" stroke-width="0.6"/>
<line x1="92.5" y1="293.6" x2="92.5" y2="295.1" stroke="#1e1e1e" stroke-width="0.6"/>
<line x1="93.5" y1="293.6" x2="93.5" y2="295.1" stroke="#1e1e1e" stroke-width="0.6"/>
<line x1="103.5" y1="293.6" x2="103.5" y2="295.1" stroke="#1e1e1e" stroke-width="0.6"/>
<line x1="108.5" y1="293.6" x2="108.5" y2="295.1" stroke="#1e1e1e" stroke-width="0.6"/>
<line x1="112.5" y1="293.6" x2="112.5" y2="295.1" stroke="#1e1e1e" stroke-width="0.6"/>
<line x1="114.5" y1="293.6" x2="114.5" y2="295.1" stroke="#1e1e1e" stroke-width="0.6"/>
<line x1="117.5" y1="293.6" x2="117.5" y2="295.1" stroke="#1e1e1e" stroke-width="0.6"/>
<line x1="119.5" y1="293.6" x2="119.5" y2="295.1" stroke="#1e1e1e" stroke-width="0.6"/>
<line x1="120.5" y1="293.6" x2="120.5" y2="295.1" stroke="#1e1e1e" stroke-width="0.6"/>
<line x1="122.5" y1="293.6" x2="122.5" y2="295.1" stroke="#1e1e1e" stroke-width="0.6"/>
<line x1="61.5" y1="293.6" x2="61.5" y2="295.1" stroke="#1e1e1e" stroke-width="0.6"/>
<line x1="52.5" y1="293.6" x2="52.5" y2="295.1" stroke="#1e1e1e" stroke-width="0.6"/>
<line x1="41.5" y1="293.6" x2="41.5" y2="295.2" stroke="#1e1e1e" stroke-width="0.6"/>
<line x1="43.5" y1="293.6" x2="43.5" y2="295.2" stroke="#1e1e1e" stroke-width="0.6"/>
<line x1="44.5" y1="293.6" x2="44.5" y2="295.2" stroke="#1e1e1e" stroke-width="0.6"/>
<line x1="45.5" y1="293.6" x2="45.5" y2="295.2" stroke="#1e1e1e" stroke-width="0.6"/>
<line x1="46.5" y1="293.6" x2="46.5" y2="295.2" stroke="#1e1e1e" stroke-width="0.6"/>
<line x1="47.5" y1="293.6" x2="47.5" y2="295.2" stroke="#1e1e1e" stroke-width="0.6"/>
<line x1="50.5" y1="293.6" x2="50.5" y2="295.2" stroke="#1e1e1e" stroke-width="0.6"/>
<line x1="51.5" y1="293.6" x2="51.5" y2="295.2" stroke="#1e1e1e" stroke-width="0.6"/>
<line x1="52.5" y1="293.6" x2="52.5" y2="295.2" stroke="#1e1e1e" stroke-width="0.6"/>
<line x1="54.5" y1="293.6" x2="54.5" y2="295.2" stroke="#1e1e1e" stroke-width="0.6"/>
<text x="49" y="221.8" font-size="8" textLength="9.6" lengthAdjust="spacingAndGlyphs">No</text>
<text x="40.6" y="231.4" font-size="8" textLength="25.4" lengthAdjust="spacingAndGlyphs">staining</text>
<text x="69.1" y="226.2" font-size="8" textLength="25.4" lengthAdjust="spacingAndGlyphs">siSTAT1</text>
<text x="86.7" y="242" font-size="8" textLength="14.2" lengthAdjust="spacingAndGlyphs">siNT</text>
<line x1="12.5" y1="315.2" x2="12.5" y2="286.5" stroke="#1e1e1e" stroke-width="1"/>
<polygon points="12.8,281.4 10.5,287.9 12.8,286.08 15.1,287.9" fill="#1e1e1e"/>
<line x1="12.3" y1="314.5" x2="44.5" y2="314.5" stroke="#1e1e1e" stroke-width="1"/>
<polygon points="49.2,314.8 42.7,312.5 44.52,314.8 42.7,317.1" fill="#1e1e1e"/>
<text class="vl" x="0" y="0" font-size="9" textLength="16.2" lengthAdjust="spacingAndGlyphs" font-weight="bold" transform="translate(14.7 277.2) rotate(-90)">Count</text>
<text x="53" y="319.4" font-size="9" textLength="55" lengthAdjust="spacingAndGlyphs" font-weight="bold">STAT1-CoraLite 647</text>
<rect x="192.7" y="237.48" width="16.9" height="56.02" fill="#c8c7cc"/>
<rect x="218.4" y="265.72" width="16.2" height="27.78" fill="#f6bd00"/>
<line x1="201.5" y1="230.3" x2="201.5" y2="245.2" stroke="#1e1e1e" stroke-width="1"/>
<line x1="196.65" y1="230.5" x2="205.65" y2="230.5" stroke="#1e1e1e" stroke-width="1"/>
<line x1="196.65" y1="245.5" x2="205.65" y2="245.5" stroke="#1e1e1e" stroke-width="1"/>
<circle cx="196.6" cy="225.5" r="1.55" fill="#111"/>
<circle cx="204" cy="225.3" r="1.55" fill="#111"/>
<circle cx="201.2" cy="238.7" r="1.55" fill="#111"/>
<circle cx="201.2" cy="257.5" r="1.55" fill="#111"/>
<line x1="226.5" y1="258.1" x2="226.5" y2="272.7" stroke="#1e1e1e" stroke-width="1"/>
<line x1="222" y1="258.5" x2="231" y2="258.5" stroke="#1e1e1e" stroke-width="1"/>
<line x1="222" y1="272.5" x2="231" y2="272.5" stroke="#1e1e1e" stroke-width="1"/>
<circle cx="222.6" cy="253.7" r="1.55" fill="#111"/>
<circle cx="229.6" cy="253.1" r="1.55" fill="#111"/>
<circle cx="226.5" cy="277.6" r="1.55" fill="#111"/>
<circle cx="226.5" cy="279.8" r="1.55" fill="#111"/>
<line x1="183.5" y1="199.4" x2="183.5" y2="294.05" stroke="#1e1e1e" stroke-width="1.1"/>
<line x1="180.6" y1="293.5" x2="183.6" y2="293.5" stroke="#1e1e1e" stroke-width="1.1"/>
<text x="161.3" y="296.4" font-size="7.2" textLength="16.9" lengthAdjust="spacingAndGlyphs">2000</text>
<line x1="181.95" y1="281.5" x2="183.6" y2="281.5" stroke="#1e1e1e" stroke-width="1.1"/>
<line x1="180.6" y1="270.5" x2="183.6" y2="270.5" stroke="#1e1e1e" stroke-width="1.1"/>
<text x="161.3" y="273.25" font-size="7.2" textLength="16.9" lengthAdjust="spacingAndGlyphs">3000</text>
<line x1="181.95" y1="258.5" x2="183.6" y2="258.5" stroke="#1e1e1e" stroke-width="1.1"/>
<line x1="180.6" y1="247.5" x2="183.6" y2="247.5" stroke="#1e1e1e" stroke-width="1.1"/>
<text x="161.3" y="250.1" font-size="7.2" textLength="16.9" lengthAdjust="spacingAndGlyphs">4000</text>
<line x1="181.95" y1="235.5" x2="183.6" y2="235.5" stroke="#1e1e1e" stroke-width="1.1"/>
<line x1="180.6" y1="224.5" x2="183.6" y2="224.5" stroke="#1e1e1e" stroke-width="1.1"/>
<text x="161.3" y="226.95" font-size="7.2" textLength="16.9" lengthAdjust="spacingAndGlyphs">5000</text>
<line x1="181.95" y1="212.5" x2="183.6" y2="212.5" stroke="#1e1e1e" stroke-width="1.1"/>
<line x1="180.6" y1="200.5" x2="183.6" y2="200.5" stroke="#1e1e1e" stroke-width="1.1"/>
<text x="161.3" y="203.8" font-size="7.2" textLength="16.9" lengthAdjust="spacingAndGlyphs">6000</text>
<line x1="183.05" y1="293.5" x2="243.7" y2="293.5" stroke="#1e1e1e" stroke-width="1.1"/>
<line x1="201.5" y1="293.5" x2="201.5" y2="296.1" stroke="#1e1e1e" stroke-width="1.1"/>
<line x1="226.5" y1="293.5" x2="226.5" y2="296.1" stroke="#1e1e1e" stroke-width="1.1"/>
<text x="186.1" y="192.8" font-size="8.6" textLength="55" lengthAdjust="spacingAndGlyphs">STAT1 protein</text>
<text x="196.7" y="212.2" font-size="7.9" font-style="italic" textLength="5.49" lengthAdjust="spacingAndGlyphs">P</text>
<text x="203.56" y="212.2" font-size="7.9" font-weight="bold" textLength="5.83" lengthAdjust="spacingAndGlyphs">=</text>
<text x="211.79" y="212.2" font-size="7.9" textLength="19.21" lengthAdjust="spacingAndGlyphs">.0354</text>
<line x1="201.2" y1="215.5" x2="226.5" y2="215.5" stroke="#1e1e1e" stroke-width="1"/>
<text x="191.8" y="302.2" font-size="7.2" textLength="13.8" lengthAdjust="spacingAndGlyphs">siNT</text>
<text x="214" y="302.2" font-size="7.2" textLength="25.4" lengthAdjust="spacingAndGlyphs">siSTAT1</text>
<text class="vl" x="0" y="0" font-size="8.8" textLength="67.5" lengthAdjust="spacingAndGlyphs" transform="translate(153.3 279.7) rotate(-90)">STAT1 expression (MFI)</text>
<text x="259.5" y="182" font-size="10" textLength="7.2" lengthAdjust="spacingAndGlyphs" font-weight="bold" class="pl">D</text>
<rect x="296.1" y="246.84" width="16.9" height="46.76" fill="#c8c7cc"/>
<rect x="323.6" y="228.78" width="16.9" height="64.82" fill="#f6bd00"/>
<line x1="304.5" y1="242.8" x2="304.5" y2="251.7" stroke="#1e1e1e" stroke-width="1"/>
<line x1="300.05" y1="242.5" x2="309.05" y2="242.5" stroke="#1e1e1e" stroke-width="1"/>
<line x1="300.05" y1="251.5" x2="309.05" y2="251.5" stroke="#1e1e1e" stroke-width="1"/>
<circle cx="304.6" cy="235.2" r="1.55" fill="#111"/>
<circle cx="300.6" cy="248" r="1.55" fill="#111"/>
<circle cx="307.2" cy="247.4" r="1.55" fill="#111"/>
<circle cx="301.6" cy="252.6" r="1.55" fill="#111"/>
<circle cx="307.9" cy="252.2" r="1.55" fill="#111"/>
<line x1="332.5" y1="224.7" x2="332.5" y2="231" stroke="#1e1e1e" stroke-width="1"/>
<line x1="327.55" y1="224.5" x2="336.55" y2="224.5" stroke="#1e1e1e" stroke-width="1"/>
<line x1="327.55" y1="231.5" x2="336.55" y2="231.5" stroke="#1e1e1e" stroke-width="1"/>
<circle cx="328.1" cy="219" r="1.55" fill="#111"/>
<circle cx="335.6" cy="219" r="1.55" fill="#111"/>
<circle cx="332" cy="226.5" r="1.55" fill="#111"/>
<circle cx="328.2" cy="238.5" r="1.55" fill="#111"/>
<circle cx="335.2" cy="238.2" r="1.55" fill="#111"/>
<line x1="286.5" y1="199.5" x2="286.5" y2="294.15" stroke="#1e1e1e" stroke-width="1.1"/>
<line x1="283.6" y1="293.5" x2="286.6" y2="293.5" stroke="#1e1e1e" stroke-width="1.1"/>
<text x="281.4" y="296.4" font-size="7.6" text-anchor="end">0</text>
<line x1="283.6" y1="270.5" x2="286.6" y2="270.5" stroke="#1e1e1e" stroke-width="1.1"/>
<text x="281.4" y="273.25" font-size="7.6" text-anchor="end">5</text>
<line x1="283.6" y1="247.5" x2="286.6" y2="247.5" stroke="#1e1e1e" stroke-width="1.1"/>
<text x="281.4" y="250.1" font-size="7.6" text-anchor="end">10</text>
<line x1="283.6" y1="224.5" x2="286.6" y2="224.5" stroke="#1e1e1e" stroke-width="1.1"/>
<text x="281.4" y="226.95" font-size="7.6" text-anchor="end">15</text>
<line x1="283.6" y1="201.5" x2="286.6" y2="201.5" stroke="#1e1e1e" stroke-width="1.1"/>
<text x="281.4" y="203.8" font-size="7.6" text-anchor="end">20</text>
<line x1="286.05" y1="293.5" x2="349.4" y2="293.5" stroke="#1e1e1e" stroke-width="1.1"/>
<line x1="304.5" y1="293.6" x2="304.5" y2="296.2" stroke="#1e1e1e" stroke-width="1.1"/>
<line x1="332.5" y1="293.6" x2="332.5" y2="296.2" stroke="#1e1e1e" stroke-width="1.1"/>
<text x="306.7" y="193" font-size="8.8" textLength="23.3" lengthAdjust="spacingAndGlyphs">Static</text>
<text x="300.8" y="212" font-size="7.9" font-style="italic" textLength="5.47" lengthAdjust="spacingAndGlyphs">P</text>
<text x="307.64" y="212" font-size="7.9" font-weight="bold" textLength="5.81" lengthAdjust="spacingAndGlyphs">=</text>
<text x="315.85" y="212" font-size="7.9" textLength="19.15" lengthAdjust="spacingAndGlyphs">.0063</text>
<line x1="304.6" y1="215.5" x2="332" y2="215.5" stroke="#1e1e1e" stroke-width="1"/>
<text x="297" y="306.8" font-size="7.2" textLength="14.8" lengthAdjust="spacingAndGlyphs">siNT</text>
<text x="318.8" y="306.8" font-size="7.2" textLength="25.3" lengthAdjust="spacingAndGlyphs">siSTAT1</text>
<text class="vl" x="0" y="0" font-size="8.6" textLength="23" lengthAdjust="spacingAndGlyphs" font-weight="bold" transform="translate(266.2 257.2) rotate(-90)">PLT/MK</text>
<rect x="397.3" y="252.11" width="18.2" height="41.49" fill="#c8c7cc"/>
<rect x="426.6" y="227.54" width="18" height="66.06" fill="#f6bd00"/>
<line x1="406.5" y1="249.5" x2="406.5" y2="253.7" stroke="#1e1e1e" stroke-width="1"/>
<line x1="401.9" y1="249.5" x2="410.9" y2="249.5" stroke="#1e1e1e" stroke-width="1"/>
<line x1="401.9" y1="253.5" x2="410.9" y2="253.5" stroke="#1e1e1e" stroke-width="1"/>
<circle cx="401.2" cy="250.2" r="1.55" fill="#111"/>
<circle cx="410.2" cy="249" r="1.55" fill="#111"/>
<circle cx="416.2" cy="248.6" r="1.55" fill="#111"/>
<circle cx="416.2" cy="251.8" r="1.55" fill="#111"/>
<circle cx="406.4" cy="260" r="1.55" fill="#111"/>
<line x1="435.5" y1="222.3" x2="435.5" y2="231.8" stroke="#1e1e1e" stroke-width="1"/>
<line x1="431.1" y1="222.5" x2="440.1" y2="222.5" stroke="#1e1e1e" stroke-width="1"/>
<line x1="431.1" y1="231.5" x2="440.1" y2="231.5" stroke="#1e1e1e" stroke-width="1"/>
<circle cx="435.8" cy="213.4" r="1.55" fill="#111"/>
<circle cx="432.6" cy="222.6" r="1.55" fill="#111"/>
<circle cx="439.6" cy="221.3" r="1.55" fill="#111"/>
<circle cx="435.8" cy="236" r="1.55" fill="#111"/>
<circle cx="435.8" cy="242" r="1.55" fill="#111"/>
<line x1="386.5" y1="199.38" x2="386.5" y2="294.15" stroke="#1e1e1e" stroke-width="1.1"/>
<line x1="383.5" y1="293.5" x2="386.5" y2="293.5" stroke="#1e1e1e" stroke-width="1.1"/>
<text x="380.7" y="296.4" font-size="7.6" text-anchor="end">0</text>
<line x1="383.5" y1="270.5" x2="386.5" y2="270.5" stroke="#1e1e1e" stroke-width="1.1"/>
<text x="380.7" y="273.22" font-size="7.6" text-anchor="end">10</text>
<line x1="383.5" y1="247.5" x2="386.5" y2="247.5" stroke="#1e1e1e" stroke-width="1.1"/>
<text x="380.7" y="250.04" font-size="7.6" text-anchor="end">20</text>
<line x1="383.5" y1="224.5" x2="386.5" y2="224.5" stroke="#1e1e1e" stroke-width="1.1"/>
<text x="380.7" y="226.86" font-size="7.6" text-anchor="end">30</text>
<line x1="383.5" y1="200.5" x2="386.5" y2="200.5" stroke="#1e1e1e" stroke-width="1.1"/>
<text x="380.7" y="203.68" font-size="7.6" text-anchor="end">40</text>
<line x1="385.95" y1="293.5" x2="454.6" y2="293.5" stroke="#1e1e1e" stroke-width="1.1"/>
<line x1="406.5" y1="293.6" x2="406.5" y2="296.2" stroke="#1e1e1e" stroke-width="1.1"/>
<line x1="435.5" y1="293.6" x2="435.5" y2="296.2" stroke="#1e1e1e" stroke-width="1.1"/>
<text x="399.2" y="192.4" font-size="8.8" textLength="42.7" lengthAdjust="spacingAndGlyphs">Turbulence</text>
<text x="403.4" y="203.8" font-size="7.9" font-style="italic" textLength="5.49" lengthAdjust="spacingAndGlyphs">P</text>
<text x="410.26" y="203.8" font-size="7.9" font-weight="bold" textLength="5.83" lengthAdjust="spacingAndGlyphs">=</text>
<text x="418.49" y="203.8" font-size="7.9" textLength="19.21" lengthAdjust="spacingAndGlyphs">.0034</text>
<line x1="406.4" y1="207.5" x2="435.8" y2="207.5" stroke="#1e1e1e" stroke-width="1"/>
<text x="398.6" y="306.3" font-size="7.2" textLength="14.8" lengthAdjust="spacingAndGlyphs">siNT</text>
<text x="421.8" y="306.3" font-size="7.2" textLength="26" lengthAdjust="spacingAndGlyphs">siSTAT1</text>
<text class="vl" x="0" y="0" font-size="8.6" textLength="23" lengthAdjust="spacingAndGlyphs" font-weight="bold" transform="translate(366.4 261.8) rotate(-90)">PLT/MK</text>
<text x="7" y="344.6" font-size="10" textLength="6.9" lengthAdjust="spacingAndGlyphs" font-weight="bold" class="pl">E</text>
<text x="145.5" y="349.6" font-size="8.8" textLength="23.3" lengthAdjust="spacingAndGlyphs">Static</text>
<line x1="145.5" y1="351.5" x2="168.8" y2="351.5" stroke="#1e1e1e" stroke-width="0.7"/>
<text x="388.6" y="349.6" font-size="8.8" textLength="43.4" lengthAdjust="spacingAndGlyphs">Turbulence</text>
<line x1="388.6" y1="351.5" x2="432" y2="351.5" stroke="#1e1e1e" stroke-width="0.7"/>
<rect x="54" y="365.9" width="86.5" height="82.1" fill="none" stroke="#9a9a9a" stroke-width="0.6"/>
<line x1="54.5" y1="365.9" x2="54.5" y2="448" stroke="#555" stroke-width="0.6"/>
<line x1="83.5" y1="365.9" x2="83.5" y2="448" stroke="#333" stroke-width="1"/>
<line x1="54" y1="423.5" x2="140.5" y2="423.5" stroke="#333" stroke-width="1"/>
<g class="lt2">
<text x="87.5" y="360.3" font-size="8" textLength="15.5" lengthAdjust="spacingAndGlyphs">siNT</text>
</g>
<g class="lt">
<text x="56.2" y="372.7" font-size="6.2">Q1</text>
<text x="56.2" y="380.2" font-size="6.2">0</text>
<text x="137.6" y="372.7" font-size="6.2" text-anchor="end">Q2</text>
<text x="137.6" y="380.2" font-size="6.2" text-anchor="end">87.3</text>
<text x="56.2" y="435.7" font-size="6.2">Q4</text>
<text x="56.2" y="443" font-size="6.2">0</text>
<text x="137.6" y="435.7" font-size="6.2" text-anchor="end">Q3</text>
<text x="137.6" y="443" font-size="6.2" text-anchor="end">12.7</text>
<text x="39.5" y="374.2" font-size="5.9">10<tspan dy="-2.5" font-size="4.0">5</tspan></text>
<line x1="52" y1="372.5" x2="54" y2="372.5" stroke="#333" stroke-width="0.9"/>
<line x1="53" y1="383.5" x2="54" y2="383.5" stroke="#666" stroke-width="0.5"/>
<line x1="53" y1="380.5" x2="54" y2="380.5" stroke="#666" stroke-width="0.5"/>
<line x1="53" y1="378.5" x2="54" y2="378.5" stroke="#666" stroke-width="0.5"/>
<line x1="53" y1="377.5" x2="54" y2="377.5" stroke="#666" stroke-width="0.5"/>
<line x1="53" y1="375.5" x2="54" y2="375.5" stroke="#666" stroke-width="0.5"/>
<line x1="53" y1="374.5" x2="54" y2="374.5" stroke="#666" stroke-width="0.5"/>
<line x1="53" y1="373.5" x2="54" y2="373.5" stroke="#666" stroke-width="0.5"/>
<line x1="53" y1="372.5" x2="54" y2="372.5" stroke="#666" stroke-width="0.5"/>
<text x="39.5" y="391" font-size="5.9">10<tspan dy="-2.5" font-size="4.0">4</tspan></text>
<line x1="52" y1="388.5" x2="54" y2="388.5" stroke="#333" stroke-width="0.9"/>
<line x1="53" y1="400.5" x2="54" y2="400.5" stroke="#666" stroke-width="0.5"/>
<line x1="53" y1="397.5" x2="54" y2="397.5" stroke="#666" stroke-width="0.5"/>
<line x1="53" y1="395.5" x2="54" y2="395.5" stroke="#666" stroke-width="0.5"/>
<line x1="53" y1="393.5" x2="54" y2="393.5" stroke="#666" stroke-width="0.5"/>
<line x1="53" y1="392.5" x2="54" y2="392.5" stroke="#666" stroke-width="0.5"/>
<line x1="53" y1="391.5" x2="54" y2="391.5" stroke="#666" stroke-width="0.5"/>
<line x1="53" y1="390.5" x2="54" y2="390.5" stroke="#666" stroke-width="0.5"/>
<line x1="53" y1="389.5" x2="54" y2="389.5" stroke="#666" stroke-width="0.5"/>
<text x="39.5" y="407.8" font-size="5.9">10<tspan dy="-2.5" font-size="4.0">3</tspan></text>
<line x1="52" y1="405.5" x2="54" y2="405.5" stroke="#333" stroke-width="0.9"/>
<line x1="53" y1="417.5" x2="54" y2="417.5" stroke="#666" stroke-width="0.5"/>
<line x1="53" y1="414.5" x2="54" y2="414.5" stroke="#666" stroke-width="0.5"/>
<line x1="53" y1="412.5" x2="54" y2="412.5" stroke="#666" stroke-width="0.5"/>
<line x1="53" y1="410.5" x2="54" y2="410.5" stroke="#666" stroke-width="0.5"/>
<line x1="53" y1="409.5" x2="54" y2="409.5" stroke="#666" stroke-width="0.5"/>
<line x1="53" y1="408.5" x2="54" y2="408.5" stroke="#666" stroke-width="0.5"/>
<line x1="53" y1="407.5" x2="54" y2="407.5" stroke="#666" stroke-width="0.5"/>
<line x1="53" y1="406.5" x2="54" y2="406.5" stroke="#666" stroke-width="0.5"/>
<text x="39.5" y="424.4" font-size="5.9">10<tspan dy="-2.5" font-size="4.0">2</tspan></text>
<line x1="52" y1="422.5" x2="54" y2="422.5" stroke="#333" stroke-width="0.9"/>
<line x1="53" y1="433.5" x2="54" y2="433.5" stroke="#666" stroke-width="0.5"/>
<line x1="53" y1="430.5" x2="54" y2="430.5" stroke="#666" stroke-width="0.5"/>
<line x1="53" y1="428.5" x2="54" y2="428.5" stroke="#666" stroke-width="0.5"/>
<line x1="53" y1="427.5" x2="54" y2="427.5" stroke="#666" stroke-width="0.5"/>
<line x1="53" y1="425.5" x2="54" y2="425.5" stroke="#666" stroke-width="0.5"/>
<line x1="53" y1="424.5" x2="54" y2="424.5" stroke="#666" stroke-width="0.5"/>
<line x1="53" y1="423.5" x2="54" y2="423.5" stroke="#666" stroke-width="0.5"/>
<line x1="53" y1="422.5" x2="54" y2="422.5" stroke="#666" stroke-width="0.5"/>
<text x="39.5" y="441" font-size="5.9">10<tspan dy="-2.5" font-size="4.0">1</tspan></text>
<line x1="52" y1="438.5" x2="54" y2="438.5" stroke="#333" stroke-width="0.9"/>
<text x="59.1" y="457.6" font-size="5.9">10<tspan dy="-2.5" font-size="4.0">1</tspan></text>
<line x1="63.5" y1="448" x2="63.5" y2="449.8" stroke="#444" stroke-width="0.7"/>
<text x="76.1" y="457.6" font-size="5.9">10<tspan dy="-2.5" font-size="4.0">2</tspan></text>
<line x1="80.5" y1="448" x2="80.5" y2="449.8" stroke="#444" stroke-width="0.7"/>
<text x="92.9" y="457.6" font-size="5.9">10<tspan dy="-2.5" font-size="4.0">3</tspan></text>
<line x1="97.5" y1="448" x2="97.5" y2="449.8" stroke="#444" stroke-width="0.7"/>
<text x="109.8" y="457.6" font-size="5.9">10<tspan dy="-2.5" font-size="4.0">4</tspan></text>
<line x1="114.5" y1="448" x2="114.5" y2="449.8" stroke="#444" stroke-width="0.7"/>
<text x="126.7" y="457.6" font-size="5.9">10<tspan dy="-2.5" font-size="4.0">5</tspan></text>
<line x1="131.5" y1="448" x2="131.5" y2="449.8" stroke="#444" stroke-width="0.7"/>
<text x="55.5" y="467.2" font-size="6.3" textLength="80.8" lengthAdjust="spacingAndGlyphs">Comp-APC-A :: CD41 APC-A</text>
<text class="vl" x="0" y="0" font-size="6.1" textLength="75" lengthAdjust="spacingAndGlyphs" transform="translate(34.4 445) rotate(-90)">Comp-PE-A :: CD42b PE-A</text>
</g>
<rect x="174" y="365.9" width="86.5" height="82.1" fill="none" stroke="#9a9a9a" stroke-width="0.6"/>
<line x1="174.5" y1="365.9" x2="174.5" y2="448" stroke="#555" stroke-width="0.6"/>
<line x1="203.5" y1="365.9" x2="203.5" y2="448" stroke="#333" stroke-width="1"/>
<line x1="174" y1="423.5" x2="260.5" y2="423.5" stroke="#333" stroke-width="1"/>
<g class="lt2">
<text x="202" y="360.3" font-size="8" textLength="28" lengthAdjust="spacingAndGlyphs">siSTAT1</text>
</g>
<g class="lt">
<text x="176.2" y="372.7" font-size="6.2">Q1</text>
<text x="176.2" y="380.2" font-size="6.2">0</text>
<text x="257.6" y="372.7" font-size="6.2" text-anchor="end">Q2</text>
<text x="257.6" y="380.2" font-size="6.2" text-anchor="end">87.8</text>
<text x="176.2" y="435.7" font-size="6.2">Q4</text>
<text x="176.2" y="443" font-size="6.2">0</text>
<text x="257.6" y="435.7" font-size="6.2" text-anchor="end">Q3</text>
<text x="257.6" y="443" font-size="6.2" text-anchor="end">12.2</text>
<text x="159.5" y="374.2" font-size="5.9">10<tspan dy="-2.5" font-size="4.0">5</tspan></text>
<line x1="172" y1="372.5" x2="174" y2="372.5" stroke="#333" stroke-width="0.9"/>
<line x1="173" y1="383.5" x2="174" y2="383.5" stroke="#666" stroke-width="0.5"/>
<line x1="173" y1="380.5" x2="174" y2="380.5" stroke="#666" stroke-width="0.5"/>
<line x1="173" y1="378.5" x2="174" y2="378.5" stroke="#666" stroke-width="0.5"/>
<line x1="173" y1="377.5" x2="174" y2="377.5" stroke="#666" stroke-width="0.5"/>
<line x1="173" y1="375.5" x2="174" y2="375.5" stroke="#666" stroke-width="0.5"/>
<line x1="173" y1="374.5" x2="174" y2="374.5" stroke="#666" stroke-width="0.5"/>
<line x1="173" y1="373.5" x2="174" y2="373.5" stroke="#666" stroke-width="0.5"/>
<line x1="173" y1="372.5" x2="174" y2="372.5" stroke="#666" stroke-width="0.5"/>
<text x="159.5" y="391" font-size="5.9">10<tspan dy="-2.5" font-size="4.0">4</tspan></text>
<line x1="172" y1="388.5" x2="174" y2="388.5" stroke="#333" stroke-width="0.9"/>
<line x1="173" y1="400.5" x2="174" y2="400.5" stroke="#666" stroke-width="0.5"/>
<line x1="173" y1="397.5" x2="174" y2="397.5" stroke="#666" stroke-width="0.5"/>
<line x1="173" y1="395.5" x2="174" y2="395.5" stroke="#666" stroke-width="0.5"/>
<line x1="173" y1="393.5" x2="174" y2="393.5" stroke="#666" stroke-width="0.5"/>
<line x1="173" y1="392.5" x2="174" y2="392.5" stroke="#666" stroke-width="0.5"/>
<line x1="173" y1="391.5" x2="174" y2="391.5" stroke="#666" stroke-width="0.5"/>
<line x1="173" y1="390.5" x2="174" y2="390.5" stroke="#666" stroke-width="0.5"/>
<line x1="173" y1="389.5" x2="174" y2="389.5" stroke="#666" stroke-width="0.5"/>
<text x="159.5" y="407.8" font-size="5.9">10<tspan dy="-2.5" font-size="4.0">3</tspan></text>
<line x1="172" y1="405.5" x2="174" y2="405.5" stroke="#333" stroke-width="0.9"/>
<line x1="173" y1="417.5" x2="174" y2="417.5" stroke="#666" stroke-width="0.5"/>
<line x1="173" y1="414.5" x2="174" y2="414.5" stroke="#666" stroke-width="0.5"/>
<line x1="173" y1="412.5" x2="174" y2="412.5" stroke="#666" stroke-width="0.5"/>
<line x1="173" y1="410.5" x2="174" y2="410.5" stroke="#666" stroke-width="0.5"/>
<line x1="173" y1="409.5" x2="174" y2="409.5" stroke="#666" stroke-width="0.5"/>
<line x1="173" y1="408.5" x2="174" y2="408.5" stroke="#666" stroke-width="0.5"/>
<line x1="173" y1="407.5" x2="174" y2="407.5" stroke="#666" stroke-width="0.5"/>
<line x1="173" y1="406.5" x2="174" y2="406.5" stroke="#666" stroke-width="0.5"/>
<text x="159.5" y="424.4" font-size="5.9">10<tspan dy="-2.5" font-size="4.0">2</tspan></text>
<line x1="172" y1="422.5" x2="174" y2="422.5" stroke="#333" stroke-width="0.9"/>
<line x1="173" y1="433.5" x2="174" y2="433.5" stroke="#666" stroke-width="0.5"/>
<line x1="173" y1="430.5" x2="174" y2="430.5" stroke="#666" stroke-width="0.5"/>
<line x1="173" y1="428.5" x2="174" y2="428.5" stroke="#666" stroke-width="0.5"/>
<line x1="173" y1="427.5" x2="174" y2="427.5" stroke="#666" stroke-width="0.5"/>
<line x1="173" y1="425.5" x2="174" y2="425.5" stroke="#666" stroke-width="0.5"/>
<line x1="173" y1="424.5" x2="174" y2="424.5" stroke="#666" stroke-width="0.5"/>
<line x1="173" y1="423.5" x2="174" y2="423.5" stroke="#666" stroke-width="0.5"/>
<line x1="173" y1="422.5" x2="174" y2="422.5" stroke="#666" stroke-width="0.5"/>
<text x="159.5" y="441" font-size="5.9">10<tspan dy="-2.5" font-size="4.0">1</tspan></text>
<line x1="172" y1="438.5" x2="174" y2="438.5" stroke="#333" stroke-width="0.9"/>
<text x="179.1" y="457.6" font-size="5.9">10<tspan dy="-2.5" font-size="4.0">1</tspan></text>
<line x1="183.5" y1="448" x2="183.5" y2="449.8" stroke="#444" stroke-width="0.7"/>
<text x="196.1" y="457.6" font-size="5.9">10<tspan dy="-2.5" font-size="4.0">2</tspan></text>
<line x1="200.5" y1="448" x2="200.5" y2="449.8" stroke="#444" stroke-width="0.7"/>
<text x="212.9" y="457.6" font-size="5.9">10<tspan dy="-2.5" font-size="4.0">3</tspan></text>
<line x1="217.5" y1="448" x2="217.5" y2="449.8" stroke="#444" stroke-width="0.7"/>
<text x="229.8" y="457.6" font-size="5.9">10<tspan dy="-2.5" font-size="4.0">4</tspan></text>
<line x1="234.5" y1="448" x2="234.5" y2="449.8" stroke="#444" stroke-width="0.7"/>
<text x="246.7" y="457.6" font-size="5.9">10<tspan dy="-2.5" font-size="4.0">5</tspan></text>
<line x1="251.5" y1="448" x2="251.5" y2="449.8" stroke="#444" stroke-width="0.7"/>
<text x="175.5" y="467.2" font-size="6.3" textLength="80.8" lengthAdjust="spacingAndGlyphs">Comp-APC-A :: CD41 APC-A</text>
<text class="vl" x="0" y="0" font-size="6.1" textLength="75" lengthAdjust="spacingAndGlyphs" transform="translate(154.4 445) rotate(-90)">Comp-PE-A :: CD42b PE-A</text>
</g>
<rect x="310.5" y="365.9" width="84.3" height="81.7" fill="none" stroke="#9a9a9a" stroke-width="0.6"/>
<line x1="310.5" y1="365.9" x2="310.5" y2="447.6" stroke="#555" stroke-width="0.6"/>
<line x1="337.5" y1="365.9" x2="337.5" y2="447.6" stroke="#333" stroke-width="1"/>
<line x1="310.5" y1="422.5" x2="394.8" y2="422.5" stroke="#333" stroke-width="1"/>
<g class="lt2">
<text x="343.7" y="360.3" font-size="8" textLength="16.2" lengthAdjust="spacingAndGlyphs">siNT</text>
</g>
<g class="lt">
<text x="312.7" y="372.7" font-size="6.2">Q1</text>
<text x="312.7" y="380.2" font-size="6.2">0</text>
<text x="391.9" y="372.7" font-size="6.2" text-anchor="end">Q2</text>
<text x="391.9" y="380.2" font-size="6.2" text-anchor="end">89.6</text>
<text x="312.7" y="435.7" font-size="6.2">Q4</text>
<text x="312.7" y="443" font-size="6.2">0</text>
<text x="391.9" y="435.7" font-size="6.2" text-anchor="end">Q3</text>
<text x="391.9" y="443" font-size="6.2" text-anchor="end">10.4</text>
<text x="295.7" y="374.2" font-size="5.9">10<tspan dy="-2.5" font-size="4.0">5</tspan></text>
<line x1="308.5" y1="372.5" x2="310.5" y2="372.5" stroke="#333" stroke-width="0.9"/>
<line x1="309.5" y1="383.5" x2="310.5" y2="383.5" stroke="#666" stroke-width="0.5"/>
<line x1="309.5" y1="380.5" x2="310.5" y2="380.5" stroke="#666" stroke-width="0.5"/>
<line x1="309.5" y1="378.5" x2="310.5" y2="378.5" stroke="#666" stroke-width="0.5"/>
<line x1="309.5" y1="377.5" x2="310.5" y2="377.5" stroke="#666" stroke-width="0.5"/>
<line x1="309.5" y1="375.5" x2="310.5" y2="375.5" stroke="#666" stroke-width="0.5"/>
<line x1="309.5" y1="374.5" x2="310.5" y2="374.5" stroke="#666" stroke-width="0.5"/>
<line x1="309.5" y1="373.5" x2="310.5" y2="373.5" stroke="#666" stroke-width="0.5"/>
<line x1="309.5" y1="372.5" x2="310.5" y2="372.5" stroke="#666" stroke-width="0.5"/>
<text x="295.7" y="391" font-size="5.9">10<tspan dy="-2.5" font-size="4.0">4</tspan></text>
<line x1="308.5" y1="388.5" x2="310.5" y2="388.5" stroke="#333" stroke-width="0.9"/>
<line x1="309.5" y1="400.5" x2="310.5" y2="400.5" stroke="#666" stroke-width="0.5"/>
<line x1="309.5" y1="397.5" x2="310.5" y2="397.5" stroke="#666" stroke-width="0.5"/>
<line x1="309.5" y1="395.5" x2="310.5" y2="395.5" stroke="#666" stroke-width="0.5"/>
<line x1="309.5" y1="393.5" x2="310.5" y2="393.5" stroke="#666" stroke-width="0.5"/>
<line x1="309.5" y1="392.5" x2="310.5" y2="392.5" stroke="#666" stroke-width="0.5"/>
<line x1="309.5" y1="391.5" x2="310.5" y2="391.5" stroke="#666" stroke-width="0.5"/>
<line x1="309.5" y1="390.5" x2="310.5" y2="390.5" stroke="#666" stroke-width="0.5"/>
<line x1="309.5" y1="389.5" x2="310.5" y2="389.5" stroke="#666" stroke-width="0.5"/>
<text x="295.7" y="407.8" font-size="5.9">10<tspan dy="-2.5" font-size="4.0">3</tspan></text>
<line x1="308.5" y1="405.5" x2="310.5" y2="405.5" stroke="#333" stroke-width="0.9"/>
<line x1="309.5" y1="417.5" x2="310.5" y2="417.5" stroke="#666" stroke-width="0.5"/>
<line x1="309.5" y1="414.5" x2="310.5" y2="414.5" stroke="#666" stroke-width="0.5"/>
<line x1="309.5" y1="412.5" x2="310.5" y2="412.5" stroke="#666" stroke-width="0.5"/>
<line x1="309.5" y1="410.5" x2="310.5" y2="410.5" stroke="#666" stroke-width="0.5"/>
<line x1="309.5" y1="409.5" x2="310.5" y2="409.5" stroke="#666" stroke-width="0.5"/>
<line x1="309.5" y1="408.5" x2="310.5" y2="408.5" stroke="#666" stroke-width="0.5"/>
<line x1="309.5" y1="407.5" x2="310.5" y2="407.5" stroke="#666" stroke-width="0.5"/>
<line x1="309.5" y1="406.5" x2="310.5" y2="406.5" stroke="#666" stroke-width="0.5"/>
<text x="295.7" y="424.4" font-size="5.9">10<tspan dy="-2.5" font-size="4.0">2</tspan></text>
<line x1="308.5" y1="422.5" x2="310.5" y2="422.5" stroke="#333" stroke-width="0.9"/>
<line x1="309.5" y1="433.5" x2="310.5" y2="433.5" stroke="#666" stroke-width="0.5"/>
<line x1="309.5" y1="430.5" x2="310.5" y2="430.5" stroke="#666" stroke-width="0.5"/>
<line x1="309.5" y1="428.5" x2="310.5" y2="428.5" stroke="#666" stroke-width="0.5"/>
<line x1="309.5" y1="427.5" x2="310.5" y2="427.5" stroke="#666" stroke-width="0.5"/>
<line x1="309.5" y1="425.5" x2="310.5" y2="425.5" stroke="#666" stroke-width="0.5"/>
<line x1="309.5" y1="424.5" x2="310.5" y2="424.5" stroke="#666" stroke-width="0.5"/>
<line x1="309.5" y1="423.5" x2="310.5" y2="423.5" stroke="#666" stroke-width="0.5"/>
<line x1="309.5" y1="422.5" x2="310.5" y2="422.5" stroke="#666" stroke-width="0.5"/>
<text x="295.7" y="441" font-size="5.9">10<tspan dy="-2.5" font-size="4.0">1</tspan></text>
<line x1="308.5" y1="438.5" x2="310.5" y2="438.5" stroke="#333" stroke-width="0.9"/>
<text x="310.8" y="457.6" font-size="5.9">−10<tspan dy="-2.5" font-size="4.0">3</tspan></text>
<line x1="317.5" y1="447.6" x2="317.5" y2="449.4" stroke="#444" stroke-width="0.7"/>
<text x="330.7" y="457.6" font-size="5.9" text-anchor="middle">0</text>
<line x1="331.5" y1="447.6" x2="331.5" y2="449.4" stroke="#444" stroke-width="0.7"/>
<text x="339.2" y="457.6" font-size="5.9">10<tspan dy="-2.5" font-size="4.0">3</tspan></text>
<line x1="343.5" y1="447.6" x2="343.5" y2="449.4" stroke="#444" stroke-width="0.7"/>
<text x="361.6" y="457.6" font-size="5.9">10<tspan dy="-2.5" font-size="4.0">4</tspan></text>
<line x1="366.5" y1="447.6" x2="366.5" y2="449.4" stroke="#444" stroke-width="0.7"/>
<text x="381.7" y="457.6" font-size="5.9">10<tspan dy="-2.5" font-size="4.0">5</tspan></text>
<line x1="386.5" y1="447.6" x2="386.5" y2="449.4" stroke="#444" stroke-width="0.7"/>
<text x="312" y="467.2" font-size="6.3" textLength="78.6" lengthAdjust="spacingAndGlyphs">Comp-APC-A :: CD41 APC-A</text>
<text class="vl" x="0" y="0" font-size="6.1" textLength="75" lengthAdjust="spacingAndGlyphs" transform="translate(290.9 445) rotate(-90)">Comp-PE-A :: CD42b PE-A</text>
</g>
<rect x="430" y="365.9" width="83.5" height="81.7" fill="none" stroke="#9a9a9a" stroke-width="0.6"/>
<line x1="430.5" y1="365.9" x2="430.5" y2="447.6" stroke="#555" stroke-width="0.6"/>
<line x1="456.5" y1="365.9" x2="456.5" y2="447.6" stroke="#333" stroke-width="1"/>
<line x1="430" y1="422.5" x2="513.5" y2="422.5" stroke="#333" stroke-width="1"/>
<g class="lt2">
<text x="456.3" y="360.3" font-size="8" textLength="27.5" lengthAdjust="spacingAndGlyphs">siSTAT1</text>
</g>
<g class="lt">
<text x="432.2" y="372.7" font-size="6.2">Q1</text>
<text x="432.2" y="380.2" font-size="6.2">0</text>
<text x="510.6" y="372.7" font-size="6.2" text-anchor="end">Q2</text>
<text x="510.6" y="380.2" font-size="6.2" text-anchor="end">94.1</text>
<text x="432.2" y="435.7" font-size="6.2">Q4</text>
<text x="432.2" y="443" font-size="6.2">0</text>
<text x="510.6" y="435.7" font-size="6.2" text-anchor="end">Q3</text>
<text x="510.6" y="443" font-size="6.2" text-anchor="end">5.94</text>
<text x="415.2" y="374.2" font-size="5.9">10<tspan dy="-2.5" font-size="4.0">5</tspan></text>
<line x1="428" y1="372.5" x2="430" y2="372.5" stroke="#333" stroke-width="0.9"/>
<line x1="429" y1="383.5" x2="430" y2="383.5" stroke="#666" stroke-width="0.5"/>
<line x1="429" y1="380.5" x2="430" y2="380.5" stroke="#666" stroke-width="0.5"/>
<line x1="429" y1="378.5" x2="430" y2="378.5" stroke="#666" stroke-width="0.5"/>
<line x1="429" y1="377.5" x2="430" y2="377.5" stroke="#666" stroke-width="0.5"/>
<line x1="429" y1="375.5" x2="430" y2="375.5" stroke="#666" stroke-width="0.5"/>
<line x1="429" y1="374.5" x2="430" y2="374.5" stroke="#666" stroke-width="0.5"/>
<line x1="429" y1="373.5" x2="430" y2="373.5" stroke="#666" stroke-width="0.5"/>
<line x1="429" y1="372.5" x2="430" y2="372.5" stroke="#666" stroke-width="0.5"/>
<text x="415.2" y="391" font-size="5.9">10<tspan dy="-2.5" font-size="4.0">4</tspan></text>
<line x1="428" y1="388.5" x2="430" y2="388.5" stroke="#333" stroke-width="0.9"/>
<line x1="429" y1="400.5" x2="430" y2="400.5" stroke="#666" stroke-width="0.5"/>
<line x1="429" y1="397.5" x2="430" y2="397.5" stroke="#666" stroke-width="0.5"/>
<line x1="429" y1="395.5" x2="430" y2="395.5" stroke="#666" stroke-width="0.5"/>
<line x1="429" y1="393.5" x2="430" y2="393.5" stroke="#666" stroke-width="0.5"/>
<line x1="429" y1="392.5" x2="430" y2="392.5" stroke="#666" stroke-width="0.5"/>
<line x1="429" y1="391.5" x2="430" y2="391.5" stroke="#666" stroke-width="0.5"/>
<line x1="429" y1="390.5" x2="430" y2="390.5" stroke="#666" stroke-width="0.5"/>
<line x1="429" y1="389.5" x2="430" y2="389.5" stroke="#666" stroke-width="0.5"/>
<text x="415.2" y="407.8" font-size="5.9">10<tspan dy="-2.5" font-size="4.0">3</tspan></text>
<line x1="428" y1="405.5" x2="430" y2="405.5" stroke="#333" stroke-width="0.9"/>
<line x1="429" y1="417.5" x2="430" y2="417.5" stroke="#666" stroke-width="0.5"/>
<line x1="429" y1="414.5" x2="430" y2="414.5" stroke="#666" stroke-width="0.5"/>
<line x1="429" y1="412.5" x2="430" y2="412.5" stroke="#666" stroke-width="0.5"/>
<line x1="429" y1="410.5" x2="430" y2="410.5" stroke="#666" stroke-width="0.5"/>
<line x1="429" y1="409.5" x2="430" y2="409.5" stroke="#666" stroke-width="0.5"/>
<line x1="429" y1="408.5" x2="430" y2="408.5" stroke="#666" stroke-width="0.5"/>
<line x1="429" y1="407.5" x2="430" y2="407.5" stroke="#666" stroke-width="0.5"/>
<line x1="429" y1="406.5" x2="430" y2="406.5" stroke="#666" stroke-width="0.5"/>
<text x="415.2" y="424.4" font-size="5.9">10<tspan dy="-2.5" font-size="4.0">2</tspan></text>
<line x1="428" y1="422.5" x2="430" y2="422.5" stroke="#333" stroke-width="0.9"/>
<line x1="429" y1="433.5" x2="430" y2="433.5" stroke="#666" stroke-width="0.5"/>
<line x1="429" y1="430.5" x2="430" y2="430.5" stroke="#666" stroke-width="0.5"/>
<line x1="429" y1="428.5" x2="430" y2="428.5" stroke="#666" stroke-width="0.5"/>
<line x1="429" y1="427.5" x2="430" y2="427.5" stroke="#666" stroke-width="0.5"/>
<line x1="429" y1="425.5" x2="430" y2="425.5" stroke="#666" stroke-width="0.5"/>
<line x1="429" y1="424.5" x2="430" y2="424.5" stroke="#666" stroke-width="0.5"/>
<line x1="429" y1="423.5" x2="430" y2="423.5" stroke="#666" stroke-width="0.5"/>
<line x1="429" y1="422.5" x2="430" y2="422.5" stroke="#666" stroke-width="0.5"/>
<text x="415.2" y="441" font-size="5.9">10<tspan dy="-2.5" font-size="4.0">1</tspan></text>
<line x1="428" y1="438.5" x2="430" y2="438.5" stroke="#333" stroke-width="0.9"/>
<text x="430.3" y="457.6" font-size="5.9">−10<tspan dy="-2.5" font-size="4.0">3</tspan></text>
<line x1="436.5" y1="447.6" x2="436.5" y2="449.4" stroke="#444" stroke-width="0.7"/>
<text x="450.2" y="457.6" font-size="5.9" text-anchor="middle">0</text>
<line x1="450.5" y1="447.6" x2="450.5" y2="449.4" stroke="#444" stroke-width="0.7"/>
<text x="458.7" y="457.6" font-size="5.9">10<tspan dy="-2.5" font-size="4.0">3</tspan></text>
<line x1="463.5" y1="447.6" x2="463.5" y2="449.4" stroke="#444" stroke-width="0.7"/>
<text x="481.1" y="457.6" font-size="5.9">10<tspan dy="-2.5" font-size="4.0">4</tspan></text>
<line x1="485.5" y1="447.6" x2="485.5" y2="449.4" stroke="#444" stroke-width="0.7"/>
<text x="501.2" y="457.6" font-size="5.9">10<tspan dy="-2.5" font-size="4.0">5</tspan></text>
<line x1="505.5" y1="447.6" x2="505.5" y2="449.4" stroke="#444" stroke-width="0.7"/>
<text x="431.5" y="467.2" font-size="6.3" textLength="77.8" lengthAdjust="spacingAndGlyphs">Comp-APC-A :: CD41 APC-A</text>
<text class="vl" x="0" y="0" font-size="6.1" textLength="75" lengthAdjust="spacingAndGlyphs" transform="translate(410.4 445) rotate(-90)">Comp-PE-A :: CD42b PE-A</text>
</g>
<line x1="20.5" y1="477" x2="20.5" y2="445" stroke="#111" stroke-width="1.4"/>
<polygon points="20,439 17.4,446 20,444.04 22.6,446" fill="#111"/>
<line x1="19.3" y1="476.5" x2="52.5" y2="476.5" stroke="#111" stroke-width="1.4"/>
<polygon points="57.7,476.9 50.7,474.3 52.66,476.9 50.7,479.5" fill="#111"/>
<g class="md">
<text class="vl" x="0" y="0" font-size="8.8" textLength="26" lengthAdjust="spacingAndGlyphs" transform="translate(23.3 435) rotate(-90)">CD42b-PE</text>
<text x="60.8" y="479.4" font-size="8.5" textLength="29.7" lengthAdjust="spacingAndGlyphs">CD41a-APC</text>
</g>
<line x1="275.5" y1="477" x2="275.5" y2="445" stroke="#111" stroke-width="1.4"/>
<polygon points="275.6,439 273,446 275.6,444.04 278.2,446" fill="#111"/>
<line x1="274.9" y1="476.5" x2="313.6" y2="476.5" stroke="#111" stroke-width="1.4"/>
<polygon points="318.8,476.9 311.8,474.3 313.76,476.9 311.8,479.5" fill="#111"/>
<g class="md">
<text class="vl" x="0" y="0" font-size="8.8" textLength="26" lengthAdjust="spacingAndGlyphs" transform="translate(277.5 435) rotate(-90)">CD42b-PE</text>
<text x="322.5" y="479.4" font-size="8.5" textLength="25.5" lengthAdjust="spacingAndGlyphs">CD41a-APC</text>
</g>
<text x="7.4" y="502.4" font-size="10" textLength="6.4" lengthAdjust="spacingAndGlyphs" font-weight="bold" class="pl">F</text>
<rect x="37" y="616.11" width="13.8" height="14.39" fill="#c8c7cc"/>
<rect x="57.1" y="624.18" width="13.8" height="6.32" fill="#f6bd00"/>
<rect x="92" y="571.32" width="12.8" height="59.18" fill="#c8c7cc"/>
<rect x="112.3" y="591.5" width="13.1" height="39" fill="#f6bd00"/>
<line x1="43.5" y1="612.3" x2="43.5" y2="619.3" stroke="#1e1e1e" stroke-width="1"/>
<line x1="39.9" y1="612.5" x2="47.9" y2="612.5" stroke="#1e1e1e" stroke-width="1"/>
<line x1="39.9" y1="619.5" x2="47.9" y2="619.5" stroke="#1e1e1e" stroke-width="1"/>
<circle cx="43.9" cy="608.8" r="1.55" fill="#111"/>
<circle cx="40.2" cy="623.2" r="1.55" fill="#111"/>
<circle cx="46.9" cy="620.4" r="1.55" fill="#111"/>
<circle cx="43.9" cy="616" r="1.55" fill="#111"/>
<line x1="64.5" y1="622.8" x2="64.5" y2="627.2" stroke="#1e1e1e" stroke-width="1"/>
<line x1="60" y1="622.5" x2="68" y2="622.5" stroke="#1e1e1e" stroke-width="1"/>
<line x1="60" y1="627.5" x2="68" y2="627.5" stroke="#1e1e1e" stroke-width="1"/>
<circle cx="64" cy="620.4" r="1.55" fill="#111"/>
<circle cx="59.6" cy="627" r="1.55" fill="#111"/>
<circle cx="68.4" cy="627" r="1.55" fill="#111"/>
<circle cx="64" cy="626" r="1.55" fill="#111"/>
<line x1="98.5" y1="560.5" x2="98.5" y2="583.4" stroke="#1e1e1e" stroke-width="1"/>
<line x1="94.4" y1="560.5" x2="102.4" y2="560.5" stroke="#1e1e1e" stroke-width="1"/>
<line x1="94.4" y1="583.5" x2="102.4" y2="583.5" stroke="#1e1e1e" stroke-width="1"/>
<circle cx="98.4" cy="539.6" r="1.55" fill="#111"/>
<circle cx="95" cy="576.6" r="1.55" fill="#111"/>
<circle cx="102.6" cy="578.5" r="1.55" fill="#111"/>
<circle cx="98.4" cy="592.7" r="1.55" fill="#111"/>
<line x1="118.5" y1="582" x2="118.5" y2="601.3" stroke="#1e1e1e" stroke-width="1"/>
<line x1="114.85" y1="582.5" x2="122.85" y2="582.5" stroke="#1e1e1e" stroke-width="1"/>
<line x1="114.85" y1="601.5" x2="122.85" y2="601.5" stroke="#1e1e1e" stroke-width="1"/>
<circle cx="118.9" cy="564.8" r="1.55" fill="#111"/>
<circle cx="118.9" cy="591.6" r="1.55" fill="#111"/>
<circle cx="118.9" cy="600" r="1.55" fill="#111"/>
<circle cx="118.9" cy="610.5" r="1.55" fill="#111"/>
<line x1="30.5" y1="521.4" x2="30.5" y2="631.05" stroke="#1e1e1e" stroke-width="1.1"/>
<line x1="27.7" y1="630.5" x2="30.7" y2="630.5" stroke="#1e1e1e" stroke-width="1.1"/>
<text x="23.8" y="633.3" font-size="7.6" text-anchor="end">0</text>
<line x1="27.7" y1="603.5" x2="30.7" y2="603.5" stroke="#1e1e1e" stroke-width="1.1"/>
<text x="23.8" y="606.4" font-size="7.6" text-anchor="end">2</text>
<line x1="27.7" y1="576.5" x2="30.7" y2="576.5" stroke="#1e1e1e" stroke-width="1.1"/>
<text x="23.8" y="579.5" font-size="7.6" text-anchor="end">4</text>
<line x1="27.7" y1="549.5" x2="30.7" y2="549.5" stroke="#1e1e1e" stroke-width="1.1"/>
<text x="23.8" y="552.6" font-size="7.6" text-anchor="end">6</text>
<line x1="27.7" y1="522.5" x2="30.7" y2="522.5" stroke="#1e1e1e" stroke-width="1.1"/>
<text x="23.8" y="525.7" font-size="7.6" text-anchor="end">8</text>
<line x1="30.15" y1="630.5" x2="131.2" y2="630.5" stroke="#1e1e1e" stroke-width="1.1"/>
<line x1="54.5" y1="630.5" x2="54.5" y2="633.1" stroke="#1e1e1e" stroke-width="1.1"/>
<line x1="108.5" y1="630.5" x2="108.5" y2="633.1" stroke="#1e1e1e" stroke-width="1.1"/>
<text x="69.8" y="512.6" font-size="8.6" textLength="23.3" lengthAdjust="spacingAndGlyphs" font-style="italic">RALB</text>
<text x="36.4" y="598.9" font-size="7.9" font-style="italic" textLength="5.62" lengthAdjust="spacingAndGlyphs">P</text>
<text x="43.42" y="598.9" font-size="7.9" font-weight="bold" textLength="5.97" lengthAdjust="spacingAndGlyphs">=</text>
<text x="51.84" y="598.9" font-size="7.9" textLength="19.66" lengthAdjust="spacingAndGlyphs">.0498</text>
<line x1="43.9" y1="602.5" x2="64" y2="602.5" stroke="#1e1e1e" stroke-width="1"/>
<text x="104.8" y="531.6" font-size="7.4" textLength="7.3" lengthAdjust="spacingAndGlyphs">ns</text>
<line x1="99" y1="534.5" x2="118.3" y2="534.5" stroke="#1e1e1e" stroke-width="1"/>
<text x="39.1" y="643.4" font-size="7.6" textLength="30.3" lengthAdjust="spacingAndGlyphs">DOX-ON</text>
<text x="92.1" y="643.2" font-size="7.6" textLength="32.7" lengthAdjust="spacingAndGlyphs">DOX-OFF</text>
<text class="vl" x="0" y="0" font-size="9.2" textLength="73.8" lengthAdjust="spacingAndGlyphs" transform="translate(14.5 612.8) rotate(-90)">Relative mRNA expression</text>
<rect x="164.8" y="575.06" width="13.8" height="55.54" fill="#c8c7cc"/>
<rect x="186" y="607.64" width="13.7" height="22.96" fill="#f6bd00"/>
<rect x="221.5" y="578.27" width="13.8" height="52.33" fill="#c8c7cc"/>
<rect x="243.1" y="608.17" width="13.7" height="22.43" fill="#f6bd00"/>
<line x1="171.5" y1="562.3" x2="171.5" y2="588.4" stroke="#1e1e1e" stroke-width="1"/>
<line x1="167.7" y1="562.5" x2="175.7" y2="562.5" stroke="#1e1e1e" stroke-width="1"/>
<line x1="167.7" y1="588.5" x2="175.7" y2="588.5" stroke="#1e1e1e" stroke-width="1"/>
<circle cx="171.7" cy="549.6" r="1.55" fill="#111"/>
<circle cx="169.2" cy="588.6" r="1.55" fill="#111"/>
<circle cx="174.6" cy="586.6" r="1.55" fill="#111"/>
<line x1="192.5" y1="600.2" x2="192.5" y2="613.3" stroke="#1e1e1e" stroke-width="1"/>
<line x1="188.85" y1="600.5" x2="196.85" y2="600.5" stroke="#1e1e1e" stroke-width="1"/>
<line x1="188.85" y1="613.5" x2="196.85" y2="613.5" stroke="#1e1e1e" stroke-width="1"/>
<circle cx="192.8" cy="597" r="1.55" fill="#111"/>
<circle cx="192.8" cy="604.8" r="1.55" fill="#111"/>
<circle cx="192.8" cy="618.8" r="1.55" fill="#111"/>
<line x1="228.5" y1="572.2" x2="228.5" y2="583.7" stroke="#1e1e1e" stroke-width="1"/>
<line x1="224.4" y1="572.5" x2="232.4" y2="572.5" stroke="#1e1e1e" stroke-width="1"/>
<line x1="224.4" y1="583.5" x2="232.4" y2="583.5" stroke="#1e1e1e" stroke-width="1"/>
<circle cx="228.4" cy="568.5" r="1.55" fill="#111"/>
<circle cx="228.4" cy="578" r="1.55" fill="#111"/>
<circle cx="228.4" cy="587.5" r="1.55" fill="#111"/>
<line x1="249.5" y1="603.4" x2="249.5" y2="611.8" stroke="#1e1e1e" stroke-width="1"/>
<line x1="245.95" y1="603.5" x2="253.95" y2="603.5" stroke="#1e1e1e" stroke-width="1"/>
<line x1="245.95" y1="611.5" x2="253.95" y2="611.5" stroke="#1e1e1e" stroke-width="1"/>
<circle cx="250" cy="600.8" r="1.55" fill="#111"/>
<circle cx="250" cy="605" r="1.55" fill="#111"/>
<circle cx="250" cy="616" r="1.55" fill="#111"/>
<line x1="157.5" y1="522.3" x2="157.5" y2="631.15" stroke="#1e1e1e" stroke-width="1.1"/>
<line x1="154.4" y1="630.5" x2="157.4" y2="630.5" stroke="#1e1e1e" stroke-width="1.1"/>
<text x="138.9" y="633.4" font-size="7.6" textLength="12.3" lengthAdjust="spacingAndGlyphs">0.0</text>
<line x1="154.4" y1="603.5" x2="157.4" y2="603.5" stroke="#1e1e1e" stroke-width="1.1"/>
<text x="138.9" y="606.7" font-size="7.6" textLength="12.3" lengthAdjust="spacingAndGlyphs">0.5</text>
<line x1="154.4" y1="577.5" x2="157.4" y2="577.5" stroke="#1e1e1e" stroke-width="1.1"/>
<text x="138.9" y="580" font-size="7.6" textLength="12.3" lengthAdjust="spacingAndGlyphs">1.0</text>
<line x1="154.4" y1="550.5" x2="157.4" y2="550.5" stroke="#1e1e1e" stroke-width="1.1"/>
<text x="138.9" y="553.3" font-size="7.6" textLength="12.3" lengthAdjust="spacingAndGlyphs">1.5</text>
<line x1="154.4" y1="523.5" x2="157.4" y2="523.5" stroke="#1e1e1e" stroke-width="1.1"/>
<text x="138.9" y="526.6" font-size="7.6" textLength="12.3" lengthAdjust="spacingAndGlyphs">2.0</text>
<line x1="156.85" y1="630.5" x2="259" y2="630.5" stroke="#1e1e1e" stroke-width="1.1"/>
<line x1="182.5" y1="630.6" x2="182.5" y2="633.2" stroke="#1e1e1e" stroke-width="1.1"/>
<line x1="238.5" y1="630.6" x2="238.5" y2="633.2" stroke="#1e1e1e" stroke-width="1.1"/>
<text x="196.5" y="513" font-size="8.6" textLength="27.5" lengthAdjust="spacingAndGlyphs" font-style="italic">ISG15</text>
<text x="165.2" y="537.4" font-size="7.9" font-style="italic" textLength="5.42" lengthAdjust="spacingAndGlyphs">P</text>
<text x="171.98" y="537.4" font-size="7.9" font-weight="bold" textLength="5.76" lengthAdjust="spacingAndGlyphs">=</text>
<text x="180.12" y="537.4" font-size="7.9" textLength="18.98" lengthAdjust="spacingAndGlyphs">.0416</text>
<line x1="171.6" y1="540.5" x2="192.3" y2="540.5" stroke="#1e1e1e" stroke-width="1"/>
<text x="221.9" y="553.9" font-size="7.9" font-style="italic" textLength="5.42" lengthAdjust="spacingAndGlyphs">P</text>
<text x="228.68" y="553.9" font-size="7.9" font-weight="bold" textLength="5.76" lengthAdjust="spacingAndGlyphs">=</text>
<text x="236.82" y="553.9" font-size="7.9" textLength="18.98" lengthAdjust="spacingAndGlyphs">.0140</text>
<line x1="228.7" y1="557.5" x2="249" y2="557.5" stroke="#1e1e1e" stroke-width="1"/>
<text x="166.9" y="643.1" font-size="7.6" textLength="30.1" lengthAdjust="spacingAndGlyphs">DOX-ON</text>
<text x="222.3" y="643.1" font-size="7.6" textLength="33.1" lengthAdjust="spacingAndGlyphs">DOX-OFF</text>
<rect x="269.2" y="521.8" width="5.6" height="5.4" fill="#c8c7cc"/>
<rect x="269.2" y="533.1" width="5.6" height="5.4" fill="#f6bd00"/>
<text x="278.2" y="526.9" font-size="7.4" textLength="13.4" lengthAdjust="spacingAndGlyphs">siNT</text>
<text x="278.2" y="538.2" font-size="7.4" textLength="23.8" lengthAdjust="spacingAndGlyphs">siSTAT1</text>
<text x="318.5" y="502.3" font-size="10" textLength="7.8" lengthAdjust="spacingAndGlyphs" font-weight="bold" class="pl">G</text>
<rect x="365.4" y="544.15" width="17.6" height="86.35" fill="#c8c7cc"/>
<rect x="394.2" y="569.21" width="18.1" height="61.29" fill="#f6bd00"/>
<line x1="374.5" y1="539.7" x2="374.5" y2="547.7" stroke="#1e1e1e" stroke-width="1"/>
<line x1="369.7" y1="539.5" x2="378.7" y2="539.5" stroke="#1e1e1e" stroke-width="1"/>
<line x1="369.7" y1="547.5" x2="378.7" y2="547.5" stroke="#1e1e1e" stroke-width="1"/>
<circle cx="374.2" cy="537.1" r="1.55" fill="#111"/>
<circle cx="374.2" cy="543" r="1.55" fill="#111"/>
<circle cx="374.2" cy="551.5" r="1.55" fill="#111"/>
<line x1="403.5" y1="561.6" x2="403.5" y2="575.5" stroke="#1e1e1e" stroke-width="1"/>
<line x1="398.75" y1="561.5" x2="407.75" y2="561.5" stroke="#1e1e1e" stroke-width="1"/>
<line x1="398.75" y1="575.5" x2="407.75" y2="575.5" stroke="#1e1e1e" stroke-width="1"/>
<circle cx="403.3" cy="558" r="1.55" fill="#111"/>
<circle cx="403.3" cy="565.8" r="1.55" fill="#111"/>
<circle cx="403.3" cy="582.3" r="1.55" fill="#111"/>
<line x1="355.5" y1="522.4" x2="355.5" y2="631.05" stroke="#1e1e1e" stroke-width="1.1"/>
<line x1="352.5" y1="630.5" x2="355.5" y2="630.5" stroke="#1e1e1e" stroke-width="1.1"/>
<text x="337" y="633.2" font-size="7.2" textLength="13" lengthAdjust="spacingAndGlyphs">500</text>
<line x1="353.85" y1="603.5" x2="355.5" y2="603.5" stroke="#1e1e1e" stroke-width="1.1"/>
<line x1="352.5" y1="577.5" x2="355.5" y2="577.5" stroke="#1e1e1e" stroke-width="1.1"/>
<text x="332.6" y="579.9" font-size="7.2" textLength="17.4" lengthAdjust="spacingAndGlyphs">1000</text>
<line x1="353.85" y1="550.5" x2="355.5" y2="550.5" stroke="#1e1e1e" stroke-width="1.1"/>
<line x1="352.5" y1="523.5" x2="355.5" y2="523.5" stroke="#1e1e1e" stroke-width="1.1"/>
<text x="332.2" y="526.6" font-size="7.2" textLength="17.8" lengthAdjust="spacingAndGlyphs">1500</text>
<line x1="354.95" y1="630.5" x2="421.9" y2="630.5" stroke="#1e1e1e" stroke-width="1.1"/>
<line x1="374.5" y1="630.5" x2="374.5" y2="633.1" stroke="#1e1e1e" stroke-width="1.1"/>
<line x1="403.5" y1="630.5" x2="403.5" y2="633.1" stroke="#1e1e1e" stroke-width="1.1"/>
<text x="366" y="512.9" font-size="8.8" textLength="45.1" lengthAdjust="spacingAndGlyphs">IL-8 protein</text>
<text x="371.3" y="524.5" font-size="7.9" font-style="italic" textLength="5.49" lengthAdjust="spacingAndGlyphs">P</text>
<text x="378.16" y="524.5" font-size="7.9" font-weight="bold" textLength="5.83" lengthAdjust="spacingAndGlyphs">=</text>
<text x="386.39" y="524.5" font-size="7.9" textLength="19.21" lengthAdjust="spacingAndGlyphs">.0384</text>
<line x1="374.5" y1="528.5" x2="403.1" y2="528.5" stroke="#1e1e1e" stroke-width="1"/>
<text x="367.5" y="644.1" font-size="7.2" textLength="13.4" lengthAdjust="spacingAndGlyphs">siNT</text>
<text x="390.8" y="644.1" font-size="7.2" textLength="25" lengthAdjust="spacingAndGlyphs">siSTAT1</text>
<text class="vl" x="0" y="0" font-size="8.2" textLength="18.1" lengthAdjust="spacingAndGlyphs" font-weight="bold" transform="translate(325.8 584.5) rotate(-90)">pg/mL</text>
</svg>
<div id="frame"></div>
</div>
</body></html>
